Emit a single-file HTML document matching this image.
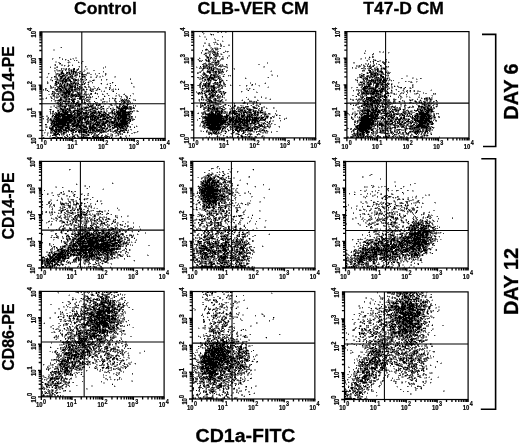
<!DOCTYPE html>
<html lang="en"><head><meta charset="utf-8"><title>CD1a-FITC flow cytometry</title>
<style>
html,body{margin:0;padding:0;background:#fff;}
svg{display:block;}
text{font-family:"Liberation Sans",sans-serif;fill:#000;}
.b{font-weight:bold;stroke:#000;stroke-width:.3px;}
.tx{font-size:7.4px;font-weight:bold;stroke:#000;stroke-width:.2px;}
.ex{font-size:6.8px;}
.ty{font-size:6.8px;font-weight:bold;stroke:#000;stroke-width:.2px;}
.ey{font-size:6.8px;}
.dots path{fill:none;stroke:#000;stroke-width:1;shape-rendering:crispEdges;}
</style></head><body>
<svg width="520" height="444" viewBox="0 0 520 444">
<rect width="520" height="444" fill="#fff"/>

<text class="b" x="74" y="13.8" font-size="17.4" textLength="62.8" lengthAdjust="spacingAndGlyphs">Control</text>
<text class="b" x="197.6" y="13.8" font-size="17.4" textLength="111.2" lengthAdjust="spacingAndGlyphs">CLB-VER CM</text>
<text class="b" x="363.3" y="13.8" font-size="17.4" textLength="80.6" lengthAdjust="spacingAndGlyphs">T47-D CM</text>
<text class="b" transform="translate(13.8 113.1) rotate(-90)" font-size="17" textLength="67" lengthAdjust="spacingAndGlyphs">CD14-PE</text>
<text class="b" transform="translate(13.8 239.4) rotate(-90)" font-size="17" textLength="67" lengthAdjust="spacingAndGlyphs">CD14-PE</text>
<text class="b" transform="translate(13.8 370.8) rotate(-90)" font-size="17" textLength="67.3" lengthAdjust="spacingAndGlyphs">CD86-PE</text>
<text class="b" transform="translate(518.2 119.7) rotate(-90)" font-size="20" textLength="56.3" lengthAdjust="spacingAndGlyphs">DAY 6</text>
<text class="b" transform="translate(518.1 315.1) rotate(-90)" font-size="20" textLength="67.2" lengthAdjust="spacingAndGlyphs">DAY 12</text>
<text class="b" x="195.5" y="442" font-size="19.2" textLength="100" lengthAdjust="spacingAndGlyphs">CD1a-FITC</text>
<path d="M482 34.4H495.7V146.5H483" fill="none" stroke="#000" stroke-width="1.6"/>
<path d="M481.3 158.8H495.6V409.2H480.8" fill="none" stroke="#000" stroke-width="1.6"/>
<g>
<g transform="translate(0 .5)" class="dots">
<path stroke-opacity="0.3" d="M0 0m60 47h1m-8 2h2m-2 1h2m5 7h1m14 0h2m-24 1h1m5 0h1m10 0h1m1 0h1m2 0h2m-11 1h1m4 0h1m1 0h1m-9 1h1m1 0h1m9 0h1m-23 1h2m11 0h2m8 0h1m4 0h1m-29 1h2m10 0h1m2 0h1m8 0h1m-12 1h1m-15 1h1m4 0h4m5 0h1m3 0h1m-19 1h1m10 0h1m-16 1h1m5 0h1m7 0h1m2 0h1m10 0h1m7 0h1m-33 1h2m23 0h1m5 0h1m-24 1h1m1 0h2m20 0h2m-31 1h1m5 0h2m5 0h1m1 0h1m3 0h1m7 0h1m1 0h2m-33 1h2m6 0h1m2 0h1m5 0h1m12 0h1m-32 1h2m1 0h4m5 0h1m3 0h1m-11 1h1m2 0h1m6 0h1m9 0h1m7 0h2m13 0h1m-55 1h1m5 0h1m3 0h1m4 0h1m9 0h1m6 0h1m4 0h1m11 0h1m7 0h1m-59 1h1m6 0h1m6 0h1m8 0h1m2 0h1m4 0h1m26 0h1m-52 1h1m4 0h2m7 0h1m14 0h2m10 0h1m5 0h1m-56 1h1m19 0h1m5 0h1m2 0h1m3 0h1m9 0h2m5 0h1m1 0h1m3 0h1m10 0h1m-69 1h1m5 0h1m4 0h1m1 0h1m3 0h1m2 0h1m6 0h1m1 0h1m3 0h1m3 0h1m11 0h1m3 0h2m13 0h2m-65 1h1m3 0h1m3 0h1m6 0h1m3 0h1m4 0h1m2 0h1m5 0h1m-34 1h1m2 0h1m17 0h1m11 0h2m7 0h2m12 0h1m-58 1h2m27 0h6m1 0h1m2 0h2m15 0h1m-55 1h1m4 0h1m14 0h1m8 0h1m2 0h1m3 0h2m-42 1h1m10 0h3m5 0h1m12 0h1m1 0h1m4 0h1m1 0h1m23 0h1m17 0h1m-84 1h1m5 0h1m6 0h1m7 0h1m12 0h2m4 0h1m3 0h1m7 0h1m6 0h1m1 0h1m2 0h1m19 0h1m-79 1h1m8 0h1m10 0h1m12 0h1m13 0h1m4 0h1m-45 1h1m13 0h1m1 0h1m2 0h1m6 0h1m-36 1h1m24 0h1m15 0h1m15 0h1m23 0h1m-81 1h1m5 0h1m6 0h1m5 0h1m2 0h1m1 0h1m5 0h1m9 0h1m38 0h2m-83 1h1m1 0h1m27 0h2m2 0h1m4 0h3m4 0h2m5 0h2m6 0h1m1 0h1m2 0h1m-73 1h1m15 0h1m26 0h1m6 0h1m1 0h1m1 0h1m10 0h1m4 0h1m-71 1h1m11 0h1m21 0h1m5 0h1m2 0h1m3 0h1m1 0h1m1 0h1m3 0h1m2 0h1m6 0h2m-64 1h1m30 0h1m9 0h1m12 0h1m-49 1h1m20 0h1m7 0h1m1 0h1m-36 1h1m9 0h1m11 0h1m1 0h2m9 0h1m1 0h1m5 0h1m1 0h1m5 0h1m3 0h1m17 0h1m7 0h1m-85 1h1m7 0h1m32 0h1m17 0h1m10 0h2m13 0h1m-82 1h1m4 0h2m1 0h1m22 0h2m19 0h1m4 0h1m5 0h1m2 0h1m7 0h1m-76 1h2m2 0h1m4 0h2m25 0h2m16 0h1m9 0h2m3 0h1m4 0h1m4 0h1m-81 1h1m4 0h1m17 0h2m16 0h2m5 0h1m13 0h1m-70 1h1m1 0h1m10 0h2m4 0h2m7 0h1m12 0h1m1 0h1m1 0h3m4 0h1m6 0h1m11 0h1m1 0h1m4 0h1m2 0h1m1 0h1m3 0h1m-89 1h2m14 0h1m4 0h2m20 0h1m4 0h1m9 0h3m6 0h1m10 0h1m2 0h1m3 0h2m5 0h2m-82 1h1m12 0h1m17 0h1m3 0h1m10 0h1m19 0h1m12 0h2m-84 1h1m2 0h1m2 0h1m12 0h1m8 0h1m10 0h1m14 0h3m6 0h1m5 0h1m9 0h1m-76 1h2m2 0h1m4 0h1m1 0h1m3 0h1m8 0h1m3 0h1m4 0h1m1 0h1m12 0h2m1 0h2m14 0h1m3 0h1m2 0h1m2 0h1m-77 1h1m4 0h1m8 0h1m8 0h1m3 0h1m3 0h2m5 0h1m1 0h2m1 0h1m4 0h2m5 0h1m10 0h1m5 0h4m-75 1h1m11 0h1m14 0h1m6 0h1m3 0h1m8 0h2m3 0h1m4 0h1m1 0h1m7 0h1m4 0h2m-78 1h1m2 0h2m9 0h1m18 0h2m1 0h1m13 0h1m6 0h1m3 0h2m5 0h2m3 0h1m-77 1h2m1 0h1m2 0h1m23 0h1m2 0h3m2 0h1m5 0h1m2 0h2m1 0h1m7 0h1m9 0h1m9 0h1m4 0h1m-84 1h2m5 0h2m2 0h1m1 0h1m4 0h1m6 0h1m2 0h1m1 0h1m1 0h1m7 0h1m11 0h1m5 0h2m2 0h2m6 0h1m11 0h1m1 0h1m-77 1h2m23 0h1m3 0h1m2 0h1m10 0h1m2 0h1m1 0h1m1 0h1m2 0h2m3 0h1m-60 1h2m17 0h1m8 0h1m7 0h2m7 0h1m1 0h1m5 0h2m3 0h1m11 0h1m-75 1h1m5 0h1m7 0h1m3 0h2m8 0h2m8 0h1m4 0h1m1 0h1m1 0h2m1 0h2m2 0h1m6 0h1m2 0h1m11 0h3m4 0h1m-88 1h1m25 0h1m12 0h1m8 0h1m4 0h1m4 0h1m7 0h1m17 0h2m1 0h1m-80 1h1m2 0h2m40 0h1m3 0h1m8 0h1m15 0h1m-81 1h1m16 0h1m13 0h1m19 0h1m-53 1h1m2 0h1m35 0h1m4 0h2m1 0h1m2 0h1m8 0h1m1 0h1m1 0h1m17 0h1m-86 1h2m40 0h1m24 0h2m-64 1h1m1 0h1m29 0h1m24 0h1m2 0h1m2 0h1m-68 1h1m3 0h1m1 0h1m7 0h1m51 0h1m-72 1h1m9 0h1m46 0h2m9 0h1m22 0h1m-91 1h1m2 0h1m1 0h1m3 0h1m30 0h1m24 0h1m4 0h1m17 0h1m-83 1h1m47 0h1m6 0h2m7 0h1m17 0h1m1 0h1m-84 1h1m33 0h1m7 0h1m35 0h1m-81 1h1m1 0h1m43 0h1m-12 1h1m23 0h1m-23 1h1m19 0h1m22 0h1m2 0h1m-87 1h2m41 0h1m6 0h1m14 0h1m25 0h1m-92 1h1m1 0h1m1 0h3m19 0h1m9 0h1m13 0h1m6 0h1m8 0h3m15 0h1m4 0h1m2 0h1m-93 1h1m1 0h1m6 0h1m15 0h2m10 0h1m5 0h1m16 0h2m1 0h1m20 0h1m-66 1h1m14 0h1m8 0h1m10 0h1m9 0h3m15 0h1m-61 1h1m20 0h1m14 0h2m2 0h2m2 0h1m3 0h1m6 0h1m5 0h1m-67 1h1m12 0h1m11 0h1m16 0h1m1 0h2m3 0h2m6 0h1m7 0h1m3 0h1m-79 1h1m35 0h1m1 0h1m36 0h1m9 0h1m-94 1h1m1 0h2m13 0h1m8 0h1m2 0h1m1 0h1m35 0h1m5 0h1m6 0h1m7 0h1m2 0h2m-94 1h1m3 0h1m3 0h1m7 0h1m4 0h2m6 0h1m6 0h1m2 0h2m3 0h1m1 0h1m2 0h1m6 0h1m6 0h2m1 0h2m2 0h1m1 0h1m4 0h1m5 0h1m6 0h1m-69 1h1m6 0h1m5 0h2m5 0h1m2 0h1m3 0h1m3 0h1m1 0h1m2 0h1m2 0h1m1 0h2m1 0h1m6 0h1m1 0h1m1 0h1m-79 1h1m17 0h2m6 0h1m5 0h2m1 0h1m2 0h1m7 0h1m8 0h1m8 0h1m7 0h1m1 0h1m7 0h2m-78 1h1m7 0h1m4 0h1m2 0h1m2 0h1m1 0h2m7 0h2m1 0h1m4 0h1m12 0h1m1 0h1m7 0h2m3 0h2m4 0h1m4 0h1m2 0h1m-86 1h1m4 0h3m15 0h2m8 0h1m13 0h1m16 0h1m3 0h1m6 0h1m-68 1h4m1 0h5m3 0h1m3 0h1m2 0h1m2 0h1m4 0h4m2 0h1m1 0h1m1 0h1m1 0h1m4 0h2m3 0h2m1 0h3m1 0h1m1 0h1m8 0h2m4 0h1"/>
<path stroke-opacity="0.52" d="M0 0m52 58h1m9 0h1m10 0h1m-22 1h1m5 3h2m9 0h1m11 0h1m-21 3h2m6 0h1m-13 1h1m47 0h1m-50 1h1m46 0h1m1 0h1m-52 1h2m7 0h1m4 0h1m34 0h1m-48 1h1m12 0h1m1 0h1m-18 1h1m2 0h2m1 0h2m6 0h1m1 0h1m3 0h1m1 0h1m7 0h1m8 0h2m-34 1h1m6 0h2m9 0h1m3 0h2m-30 1h1m16 0h1m1 0h1m2 0h1m1 0h1m2 0h1m4 0h1m-32 1h1m1 0h1m1 0h1m7 0h1m1 0h1m1 0h1m3 0h2m2 0h1m7 0h2m5 0h1m-39 1h2m5 0h1m1 0h3m6 0h1m10 0h1m3 0h2m3 0h1m-40 1h1m8 0h1m4 0h1m3 0h1m2 0h1m1 0h1m2 0h2m2 0h1m10 0h1m7 0h1m-50 1h1m1 0h2m4 0h1m1 0h1m1 0h2m4 0h2m9 0h1m10 0h1m3 0h1m1 0h1m12 0h1m-69 1h1m6 0h2m8 0h1m2 0h1m8 0h1m7 0h2m4 0h2m-36 1h1m5 0h1m6 0h1m3 0h2m5 0h2m3 0h1m44 0h1m-81 1h1m4 0h2m1 0h2m1 0h2m7 0h1m6 0h1m3 0h1m1 0h1m-28 1h3m5 0h1m12 0h1m7 0h1m8 0h1m6 0h1m-55 1h1m10 0h2m7 0h3m3 0h1m1 0h1m1 0h2m1 0h1m9 0h2m-28 1h1m1 0h1m4 0h2m2 0h4m-22 1h1m1 0h1m3 0h4m1 0h1m16 0h1m-29 1h1m4 0h1m2 0h2m6 0h1m2 0h1m1 0h1m1 0h2m1 0h1m-30 1h1m10 0h1m2 0h1m4 0h1m6 0h1m-30 1h1m4 0h1m1 0h1m4 0h1m3 0h2m8 0h1m11 0h1m3 0h1m39 0h1m-84 1h1m1 0h1m2 0h1m1 0h1m8 0h1m1 0h1m13 0h1m3 0h1m1 0h3m14 0h2m3 0h1m-65 1h1m3 0h2m3 0h1m5 0h1m5 0h1m6 0h1m19 0h2m13 0h2m-57 1h1m3 0h1m5 0h1m2 0h1m5 0h1m4 0h1m1 0h1m1 0h1m1 0h1m2 0h1m3 0h1m20 0h2m-71 1h1m1 0h1m9 0h1m3 0h1m5 0h1m4 0h1m2 0h1m2 0h3m3 0h3m6 0h2m20 0h1m-60 1h1m10 0h1m5 0h1m2 0h1m2 0h1m1 0h1m1 0h1m2 0h1m1 0h1m5 0h2m7 0h1m10 0h1m-61 1h2m4 0h2m1 0h1m18 0h2m-29 1h1m2 0h1m2 0h2m1 0h1m7 0h1m14 0h1m47 0h1m-85 1h1m1 0h3m3 0h1m2 0h1m6 0h1m2 0h1m12 0h1m3 0h2m8 0h1m5 0h1m19 0h1m-68 1h1m2 0h1m3 0h1m5 0h1m15 0h1m30 0h1m2 0h1m-70 1h1m2 0h1m2 0h3m3 0h1m6 0h1m4 0h1m11 0h1m2 0h2m28 0h1m7 0h1m-82 1h1m7 0h1m3 0h1m3 0h1m5 0h1m1 0h1m1 0h1m2 0h1m6 0h3m4 0h1m31 0h1m-80 1h1m9 0h1m1 0h1m12 0h1m5 0h1m1 0h1m2 0h1m4 0h1m29 0h1m6 0h1m-68 1h2m7 0h1m4 0h1m2 0h1m15 0h1m1 0h1m25 0h2m5 0h1m3 0h1m7 0h1m-78 1h1m5 0h1m1 0h1m3 0h2m4 0h1m2 0h2m8 0h1m13 0h1m7 0h1m5 0h1m8 0h1m4 0h1m-75 1h1m2 0h1m1 0h3m14 0h1m3 0h1m4 0h1m1 0h1m13 0h2m5 0h1m6 0h1m4 0h1m3 0h2m-66 1h1m5 0h1m4 0h1m16 0h1m6 0h2m17 0h2m-57 1h1m11 0h1m16 0h1m5 0h1m19 0h1m3 0h2m5 0h2m4 0h1m-74 1h1m2 0h1m2 0h1m1 0h2m1 0h4m3 0h1m7 0h1m4 0h1m1 0h1m4 0h2m16 0h1m5 0h3m2 0h1m-73 1h1m3 0h1m3 0h4m8 0h1m1 0h1m3 0h1m12 0h1m3 0h1m2 0h1m11 0h1m3 0h1m3 0h1m4 0h1m-72 1h1m2 0h1m10 0h1m6 0h1m10 0h2m5 0h1m1 0h1m6 0h1m6 0h1m10 0h1m10 0h1m3 0h1m-77 1h1m2 0h1m11 0h1m2 0h1m1 0h1m1 0h1m1 0h1m5 0h1m7 0h2m29 0h1m-73 1h2m4 0h2m2 0h1m1 0h1m4 0h1m4 0h1m9 0h1m2 0h1m4 0h3m1 0h1m12 0h1m3 0h1m14 0h1m-84 1h1m1 0h1m7 0h1m14 0h2m10 0h1m1 0h1m6 0h1m4 0h1m2 0h1m2 0h1m5 0h1m3 0h1m1 0h1m5 0h1m3 0h2m-80 1h1m9 0h2m21 0h2m7 0h1m13 0h1m4 0h1m21 0h2m2 0h1m-81 1h1m1 0h1m1 0h1m10 0h1m3 0h1m8 0h1m1 0h1m1 0h1m2 0h1m3 0h1m2 0h1m3 0h1m2 0h1m19 0h2m10 0h1m-87 1h2m2 0h1m12 0h1m6 0h1m5 0h1m4 0h1m1 0h2m6 0h1m3 0h1m6 0h2m3 0h1m16 0h1m1 0h1m-80 1h3m16 0h1m25 0h1m2 0h1m2 0h1m3 0h1m1 0h2m4 0h1m-65 1h1m19 0h1m3 0h1m4 0h1m16 0h1m13 0h1m17 0h1m-65 1h1m13 0h1m15 0h2m8 0h1m2 0h1m2 0h1m4 0h1m12 0h1m-88 1h1m2 0h2m51 0h1m12 0h1m4 0h1m9 0h1m2 0h1m4 0h1m-84 1h1m48 0h2m2 0h1m21 0h2m1 0h1m1 0h1m2 0h1m-89 1h1m3 0h1m1 0h1m23 0h1m3 0h1m5 0h1m5 0h1m12 0h1m2 0h1m6 0h1m13 0h1m1 0h1m-84 1h1m28 0h1m7 0h1m19 0h2m-61 1h2m27 0h1m4 0h2m3 0h1m1 0h2m8 0h1m4 0h1m5 0h1m1 0h1m5 0h1m1 0h1m-73 1h2m27 0h1m5 0h1m10 0h1m1 0h1m8 0h1m12 0h1m1 0h1m-48 1h1m19 0h1m8 0h1m6 0h1m9 0h1m-69 1h1m28 0h1m4 0h2m10 0h1m3 0h1m7 0h1m1 0h1m17 0h1m-63 1h1m2 0h1m9 0h1m2 0h1m1 0h1m6 0h2m7 0h1m7 0h1m1 0h4m18 0h1m-83 1h1m1 0h1m32 0h1m5 0h1m2 0h1m16 0h1m16 0h1m-83 1h1m18 0h2m3 0h1m11 0h1m5 0h1m9 0h1m8 0h1m18 0h1m-77 1h1m13 0h1m7 0h2m1 0h1m21 0h1m12 0h1m7 0h1m5 0h1m2 0h1m-71 1h1m5 0h1m6 0h1m1 0h2m4 0h1m5 0h2m19 0h1m8 0h1m4 0h1m5 0h1m-81 1h1m8 0h1m15 0h1m6 0h1m17 0h1m16 0h1m3 0h1m2 0h1m1 0h1m8 0h2m-89 1h1m1 0h1m4 0h1m25 0h1m5 0h1m8 0h1m3 0h1m13 0h1m-60 1h2m11 0h3m4 0h1m35 0h1m1 0h1m2 0h2m4 0h1m3 0h1m1 0h1m3 0h1m-84 1h1m7 0h3m2 0h1m10 0h1m13 0h1m4 0h1m6 0h4m1 0h1m4 0h3m6 0h1m1 0h1m1 0h1m2 0h1m7 0h1m6 0h1m-89 1h1m2 0h2m4 0h1m5 0h1m8 0h1m7 0h1m1 0h1m3 0h1m1 0h1m1 0h1m1 0h1m9 0h1m13 0h1m3 0h1m2 0h1m8 0h2m-86 1h1m14 0h1m1 0h1m2 0h1m7 0h3m3 0h1m3 0h1m9 0h2m14 0h1m-65 1h1m2 0h1m12 0h1m8 0h2m8 0h1m12 0h1m14 0h2m4 0h1m-67 1h1m4 0h1m25 0h1m2 0h3m7 0h2m13 0h1m2 0h1m12 0h1m-70 1h1m7 0h1m5 0h2m1 0h1m30 0h1m-31 1h1m9 0h1m2 0h1m1 0h1m3 0h1m1 0h1m3 0h3"/>
<path stroke-opacity="0.76" d="M0 0m61 47h1m-3 10h1m2 2h1m2 0h1m4 0h1m-3 1h1m5 0h1m1 0h1m5 1h1m-15 1h1m9 0h1m-20 1h1m21 0h1m-27 1h1m-1 1h1m8 0h1m3 0h1m3 0h1m-5 1h1m10 0h1m5 0h1m-36 1h1m6 0h1m3 1h1m4 0h1m2 0h1m3 0h1m4 0h1m-18 1h1m3 0h2m1 0h1m8 0h2m-20 1h1m2 0h1m2 0h1m3 0h1m7 0h1m-6 1h1m2 0h2m3 0h1m22 0h1m-38 1h1m1 0h1m2 0h1m4 0h1m1 0h1m-31 1h1m8 0h1m9 0h1m3 0h1m3 0h1m6 0h1m4 0h1m11 0h1m5 0h1m-50 1h1m3 0h2m1 0h1m1 0h1m3 0h1m2 0h2m2 0h2m3 0h1m1 0h3m19 0h1m-48 1h1m7 0h2m3 0h2m3 0h1m-22 1h1m7 0h1m1 0h1m5 0h1m11 0h1m-33 1h1m4 0h1m3 0h1m1 0h1m6 0h4m9 0h1m13 0h1m-40 1h1m5 0h1m1 0h1m5 0h1m-12 1h1m3 0h1m2 0h2m5 0h1m1 0h1m1 0h1m1 0h1m20 0h1m4 0h1m23 0h1m-72 1h3m5 0h2m4 0h2m3 0h1m13 0h1m-33 1h2m1 0h1m10 0h1m8 0h1m-37 1h1m7 0h1m1 0h1m5 0h1m6 0h1m2 0h1m9 0h1m1 0h1m6 0h1m-46 1h1m8 0h1m13 0h1m1 0h1m1 0h1m1 0h2m32 0h1m20 0h1m-77 1h1m3 0h3m6 0h1m1 0h3m4 0h1m1 0h1m4 0h1m3 0h1m18 0h1m-58 1h1m4 0h2m2 0h2m2 0h1m2 0h1m4 0h2m1 0h2m34 0h1m-61 1h1m6 0h1m4 0h1m2 0h2m2 0h1m3 0h2m5 0h1m3 0h2m2 0h1m-38 1h1m1 0h1m5 0h1m1 0h1m1 0h1m1 0h1m3 0h1m9 0h3m3 0h1m12 0h1m10 0h1m-65 1h1m11 0h2m3 0h3m1 0h1m1 0h1m1 0h3m2 0h3m1 0h3m8 0h1m6 0h1m-55 1h1m1 0h1m9 0h1m3 0h1m3 0h1m5 0h2m5 0h2m12 0h1m1 0h2m3 0h1m17 0h1m-60 1h2m4 0h3m3 0h1m5 0h2m3 0h1m1 0h1m14 0h1m-49 1h1m4 0h1m2 0h9m7 0h2m1 0h2m8 0h1m18 0h1m-51 1h1m5 0h1m1 0h1m7 0h1m1 0h2m4 0h2m5 0h1m9 0h1m-42 1h2m1 0h2m4 0h1m3 0h1m3 0h2m4 0h1m1 0h3m2 0h1m5 0h1m6 0h1m9 0h1m8 0h1m-63 1h1m6 0h1m1 0h2m1 0h1m6 0h2m1 0h2m2 0h1m3 0h3m3 0h2m10 0h1m21 0h1m-71 1h1m6 0h1m2 0h2m1 0h2m1 0h1m4 0h1m1 0h2m1 0h1m5 0h1m2 0h1m18 0h1m16 0h1m4 0h1m-77 1h1m4 0h1m3 0h1m1 0h1m1 0h1m2 0h2m1 0h1m3 0h1m1 0h1m3 0h2m7 0h1m5 0h1m22 0h1m4 0h1m-76 1h1m4 0h2m2 0h2m1 0h1m2 0h2m11 0h1m7 0h2m37 0h2m-82 1h1m4 0h1m9 0h1m2 0h3m1 0h1m3 0h1m1 0h1m2 0h1m7 0h1m17 0h1m5 0h1m2 0h1m14 0h1m-69 1h1m5 0h1m2 0h1m3 0h1m2 0h1m3 0h6m2 0h1m1 0h1m13 0h1m20 0h1m-74 1h1m3 0h1m1 0h1m3 0h1m1 0h1m1 0h2m4 0h1m10 0h1m1 0h1m1 0h1m1 0h1m25 0h1m7 0h1m2 0h4m6 0h1m-77 1h1m6 0h2m10 0h1m3 0h1m1 0h1m2 0h1m1 0h1m14 0h1m10 0h1m3 0h1m2 0h2m3 0h3m-73 1h2m3 0h1m2 0h1m2 0h2m1 0h1m2 0h1m1 0h1m1 0h1m2 0h2m2 0h1m9 0h1m6 0h1m18 0h1m1 0h1m1 0h1m1 0h2m1 0h1m-73 1h2m2 0h1m2 0h1m1 0h1m3 0h1m2 0h1m2 0h2m5 0h2m4 0h1m2 0h1m22 0h2m6 0h1m-67 1h1m2 0h1m13 0h1m11 0h2m4 0h1m6 0h1m9 0h2m7 0h1m8 0h1m-70 1h1m1 0h1m4 0h1m2 0h1m1 0h3m3 0h1m12 0h2m7 0h1m11 0h1m7 0h1m4 0h1m8 0h1m1 0h1m-78 1h4m1 0h1m2 0h1m2 0h1m1 0h4m1 0h3m13 0h1m23 0h2m5 0h1m3 0h1m1 0h2m-76 1h2m3 0h1m8 0h3m12 0h1m3 0h1m2 0h5m4 0h2m14 0h1m1 0h2m1 0h2m6 0h3m-68 1h2m4 0h3m1 0h2m3 0h2m3 0h1m1 0h1m7 0h1m4 0h1m2 0h1m4 0h1m12 0h1m7 0h2m1 0h1m1 0h2m-75 1h1m3 0h3m1 0h1m1 0h1m6 0h2m1 0h5m4 0h1m1 0h2m3 0h1m16 0h1m5 0h1m3 0h1m2 0h1m3 0h2m-75 1h1m6 0h1m3 0h1m4 0h1m5 0h2m4 0h1m1 0h4m2 0h1m1 0h1m16 0h2m2 0h1m1 0h2m-70 1h1m1 0h1m5 0h1m1 0h1m3 0h1m1 0h1m1 0h4m8 0h2m4 0h1m4 0h1m1 0h2m5 0h1m3 0h1m6 0h1m2 0h1m1 0h1m2 0h1m8 0h2m1 0h1m5 0h1m-88 1h1m4 0h1m6 0h1m5 0h1m2 0h2m1 0h2m2 0h2m4 0h1m6 0h1m4 0h1m3 0h1m2 0h1m1 0h1m4 0h2m2 0h1m6 0h1m-72 1h1m1 0h1m4 0h1m2 0h1m1 0h2m6 0h1m4 0h2m10 0h2m1 0h1m2 0h1m1 0h3m5 0h1m2 0h1m2 0h1m3 0h1m1 0h1m5 0h1m4 0h2m1 0h3m-78 1h2m17 0h1m1 0h1m4 0h1m2 0h4m1 0h1m2 0h2m3 0h1m8 0h2m8 0h2m4 0h1m-70 1h1m7 0h1m4 0h1m7 0h4m5 0h4m1 0h1m1 0h2m4 0h1m4 0h1m3 0h1m2 0h1m7 0h1m11 0h3m-88 1h1m14 0h1m3 0h1m11 0h1m1 0h2m1 0h2m1 0h2m1 0h1m4 0h1m4 0h1m2 0h2m3 0h1m2 0h3m5 0h1m2 0h1m2 0h1m8 0h1m3 0h1m-85 1h1m5 0h1m4 0h2m11 0h1m4 0h2m2 0h2m1 0h1m4 0h1m1 0h1m1 0h1m2 0h1m2 0h1m3 0h2m4 0h2m3 0h3m2 0h1m11 0h1m-89 1h1m4 0h1m1 0h1m4 0h1m4 0h2m8 0h2m3 0h2m1 0h1m7 0h1m1 0h1m2 0h1m4 0h1m5 0h1m5 0h1m2 0h3m7 0h1m7 0h1m1 0h1m-85 1h1m3 0h1m1 0h2m17 0h1m2 0h2m4 0h1m5 0h2m6 0h1m1 0h3m1 0h1m7 0h1m1 0h1m2 0h1m1 0h2m2 0h2m4 0h3m3 0h3m-85 1h1m1 0h1m1 0h2m17 0h1m10 0h2m4 0h2m1 0h1m5 0h1m1 0h2m5 0h1m1 0h1m5 0h1m9 0h2m1 0h1m2 0h1m-82 1h1m15 0h2m3 0h2m6 0h1m4 0h1m3 0h1m1 0h1m5 0h6m2 0h1m3 0h2m2 0h1m1 0h2m12 0h1m-83 1h1m3 0h1m1 0h1m1 0h1m1 0h1m13 0h1m1 0h1m2 0h2m2 0h1m2 0h2m2 0h1m1 0h3m1 0h1m1 0h1m4 0h1m1 0h1m1 0h1m2 0h1m2 0h1m4 0h1m3 0h2m6 0h3m-78 1h1m2 0h1m10 0h1m2 0h3m3 0h2m3 0h3m6 0h1m1 0h4m3 0h1m2 0h1m4 0h1m2 0h1m1 0h1m2 0h2m2 0h1m10 0h1m-84 1h1m5 0h2m17 0h1m2 0h2m4 0h1m2 0h1m3 0h3m9 0h1m1 0h1m7 0h1m17 0h1m-77 1h1m7 0h3m7 0h4m8 0h1m2 0h1m1 0h1m2 0h1m9 0h1m1 0h1m1 0h1m1 0h1m1 0h2m4 0h1m1 0h1m7 0h1m1 0h2m-72 1h2m7 0h1m4 0h1m5 0h1m2 0h1m7 0h1m4 0h1m2 0h1m1 0h2m1 0h1m4 0h1m3 0h2m7 0h1m2 0h1m3 0h1m3 0h1m1 0h1m5 0h1m-91 1h1m2 0h1m1 0h1m1 0h1m3 0h1m5 0h1m13 0h2m2 0h1m1 0h1m3 0h1m8 0h1m1 0h1m1 0h1m1 0h3m2 0h1m1 0h1m3 0h1m1 0h2m6 0h1m1 0h2m3 0h1m-78 1h1m1 0h1m2 0h2m9 0h1m5 0h3m5 0h1m2 0h1m6 0h1m2 0h2m2 0h2m10 0h1m5 0h1m2 0h1m2 0h1m-75 1h1m2 0h1m7 0h2m1 0h1m1 0h1m4 0h1m2 0h3m1 0h5m4 0h1m1 0h1m1 0h1m2 0h1m2 0h2m1 0h2m3 0h2m2 0h1m8 0h1m1 0h1m2 0h2m1 0h1m-85 1h1m9 0h1m2 0h1m1 0h1m9 0h3m7 0h2m2 0h1m3 0h2m2 0h1m10 0h1m1 0h1m2 0h1m4 0h1m3 0h1m1 0h1m7 0h2m2 0h1m-77 1h1m4 0h1m2 0h1m1 0h1m4 0h2m3 0h2m6 0h1m1 0h1m4 0h1m2 0h1m1 0h3m1 0h2m1 0h4m2 0h1m1 0h1m2 0h1m2 0h4m1 0h1m3 0h1m1 0h1m12 0h1m-88 1h2m6 0h4m3 0h2m5 0h1m2 0h1m2 0h1m1 0h1m7 0h1m3 0h2m8 0h2m19 0h1m10 0h1m-82 1h1m7 0h1m2 0h1m7 0h1m19 0h1m1 0h2m3 0h1m17 0h2m1 0h1m-68 1h1m4 0h1m2 0h1m1 0h1m18 0h1m1 0h1m2 0h1m3 0h1m2 0h1m17 0h1m5 0h1m1 0h1m1 0h1m-81 1h1m10 0h2m1 0h1m2 0h1m6 0h2m6 0h1m8 0h5m5 0h2m1 0h1m4 0h2m2 0h2m5 0h1m5 0h1m10 0h1m-74 1h1m7 0h1m7 0h1m1 0h1m2 0h2m17 0h3m2 0h1m2 0h3m1 0h1m11 0h1m-78 1h1m8 0h1m2 0h1m3 0h1m2 0h1m3 0h1m8 0h1m2 0h3m7 0h1m1 0h1m1 0h1m14 0h1m13 0h1m4 0h1m-33 1h1"/>
<path stroke-opacity="1" d="M0 0m60 63h1m13 5h1m-2 1h2m-4 1h1m1 0h1m-12 1h1m8 0h1m1 0h2m-14 1h2m4 0h1m1 0h1m3 0h1m1 0h1m-15 1h3m2 0h1m2 0h1m3 0h1m5 0h1m-21 1h1m10 0h1m11 0h1m-24 1h1m2 0h3m10 0h1m-22 1h1m5 0h3m7 0h1m1 0h1m6 0h1m2 0h1m1 0h1m-24 1h1m3 0h1m2 0h1m-9 1h2m2 0h1m2 0h2m3 0h1m-16 1h1m5 0h1m1 0h2m2 0h1m3 0h1m1 0h1m6 0h1m3 0h1m-35 1h1m9 0h2m1 0h2m2 0h2m4 0h2m16 0h1m-39 1h2m5 0h1m1 0h3m3 0h2m-16 1h1m1 0h1m3 0h1m2 0h1m8 0h1m13 0h1m23 0h1m-58 1h1m2 0h1m1 0h1m1 0h1m4 0h1m3 0h1m1 0h1m1 0h1m2 0h1m5 0h1m16 0h1m-46 1h1m7 0h1m2 0h1m1 0h1m5 0h1m6 0h1m-22 1h1m2 0h1m2 0h1m1 0h2m6 0h1m37 0h1m-57 1h3m2 0h1m5 0h3m2 0h1m3 0h1m-22 1h1m3 0h1m1 0h1m5 0h3m1 0h2m1 0h1m-19 1h2m4 0h1m3 0h1m8 0h1m-23 1h2m2 0h2m3 0h2m1 0h1m2 0h2m1 0h2m3 0h1m3 0h1m2 0h1m12 0h1m9 0h1m8 0h1m-72 1h1m12 0h2m4 0h2m1 0h1m1 0h2m17 0h1m-39 1h1m13 0h5m20 0h1m21 0h1m-51 1h7m7 0h1m-26 1h1m11 0h3m1 0h2m8 0h1m12 0h1m3 0h1m-38 1h1m3 0h1m2 0h1m2 0h2m1 0h2m2 0h1m2 0h2m-27 1h1m8 0h1m3 0h1m4 0h4m1 0h1m2 0h1m-16 1h1m1 0h1m1 0h1m3 0h1m2 0h2m1 0h1m1 0h3m21 0h1m-41 1h2m5 0h1m8 0h2m4 0h1m3 0h1m-31 1h1m8 0h1m9 0h3m14 0h1m18 0h1m13 0h1m-70 1h2m4 0h1m2 0h1m1 0h1m1 0h2m47 0h1m3 0h1m-69 1h3m11 0h2m7 0h1m39 0h1m1 0h1m-61 1h3m2 0h2m2 0h3m19 0h1m29 0h1m-65 1h1m12 0h1m3 0h1m6 0h1m39 0h1m-68 1h1m8 0h1m1 0h1m4 0h1m1 0h2m46 0h1m-64 1h1m5 0h1m9 0h1m1 0h3m15 0h1m2 0h1m20 0h1m6 0h1m-68 1h1m7 0h1m1 0h1m4 0h1m2 0h2m8 0h1m3 0h1m3 0h1m1 0h1m24 0h1m3 0h1m-66 1h1m1 0h2m4 0h1m8 0h1m9 0h3m9 0h1m1 0h1m15 0h1m2 0h1m1 0h3m-63 1h2m6 0h2m11 0h3m29 0h1m5 0h5m5 0h1m-74 1h2m5 0h1m1 0h1m7 0h1m3 0h2m2 0h1m6 0h2m1 0h1m7 0h1m6 0h1m7 0h2m1 0h7m2 0h1m-81 1h1m10 0h3m3 0h1m1 0h1m9 0h1m10 0h1m6 0h1m3 0h1m12 0h1m5 0h3m2 0h1m-68 1h1m3 0h2m1 0h2m2 0h2m3 0h5m7 0h1m7 0h1m25 0h6m-73 1h1m8 0h2m1 0h1m1 0h1m5 0h2m2 0h3m2 0h1m7 0h1m4 0h1m2 0h1m2 0h1m10 0h1m4 0h2m1 0h6m4 0h1m1 0h1m-75 1h2m3 0h5m2 0h1m2 0h1m3 0h1m2 0h2m1 0h1m1 0h2m1 0h1m3 0h4m2 0h2m4 0h1m7 0h1m3 0h5m1 0h8m-74 1h1m1 0h2m1 0h1m2 0h4m3 0h1m2 0h1m2 0h5m1 0h4m4 0h2m1 0h1m4 0h2m4 0h1m6 0h1m1 0h1m2 0h4m1 0h4m2 0h1m-73 1h16m2 0h1m2 0h3m7 0h1m2 0h1m2 0h1m5 0h1m1 0h4m2 0h2m5 0h1m2 0h4m1 0h8m-77 1h1m1 0h5m1 0h4m2 0h6m4 0h3m6 0h1m4 0h4m3 0h2m1 0h3m1 0h1m2 0h1m7 0h1m1 0h9m-75 1h1m1 0h3m1 0h3m1 0h11m1 0h1m2 0h1m2 0h1m4 0h4m1 0h4m1 0h2m3 0h2m1 0h2m4 0h2m4 0h1m2 0h1m1 0h7m2 0h1m1 0h1m-77 1h4m3 0h10m1 0h4m2 0h2m2 0h1m1 0h4m1 0h1m1 0h1m1 0h2m1 0h2m1 0h1m5 0h3m2 0h2m4 0h2m1 0h7m2 0h1m-76 1h1m1 0h4m2 0h8m2 0h3m4 0h2m1 0h4m4 0h1m1 0h1m1 0h2m1 0h2m4 0h3m1 0h1m6 0h2m1 0h4m1 0h7m-79 1h1m4 0h17m1 0h2m2 0h1m1 0h2m1 0h1m1 0h2m4 0h5m1 0h1m3 0h1m1 0h4m4 0h1m4 0h1m2 0h2m2 0h4m3 0h2m-80 1h1m1 0h1m2 0h17m1 0h2m1 0h4m6 0h1m4 0h1m1 0h3m3 0h1m5 0h2m6 0h2m2 0h1m1 0h6m2 0h1m1 0h1m-79 1h15m2 0h3m2 0h2m1 0h3m1 0h1m4 0h3m1 0h1m3 0h1m1 0h1m6 0h1m2 0h3m2 0h2m1 0h1m3 0h1m1 0h8m2 0h1m-79 1h1m1 0h1m1 0h1m1 0h13m3 0h2m2 0h2m1 0h2m2 0h2m1 0h1m7 0h4m3 0h1m1 0h2m2 0h1m1 0h4m1 0h2m3 0h6m-76 1h1m1 0h2m1 0h10m1 0h2m3 0h3m2 0h2m7 0h3m1 0h1m4 0h1m1 0h1m1 0h1m2 0h4m6 0h2m2 0h2m1 0h9m-83 1h1m5 0h1m2 0h12m1 0h2m3 0h2m2 0h3m2 0h1m4 0h1m3 0h1m2 0h6m3 0h3m2 0h1m6 0h13m-74 1h6m3 0h7m4 0h8m1 0h2m6 0h1m1 0h2m2 0h3m1 0h1m1 0h1m1 0h1m4 0h1m2 0h1m1 0h1m1 0h7m1 0h1m2 0h1m-76 1h3m2 0h7m3 0h2m3 0h3m1 0h2m1 0h2m2 0h3m3 0h2m1 0h2m6 0h2m3 0h1m4 0h1m3 0h3m1 0h2m1 0h3m1 0h1m1 0h1m-76 1h1m2 0h2m1 0h5m2 0h5m6 0h1m2 0h2m3 0h3m2 0h7m3 0h1m1 0h1m10 0h1m1 0h1m2 0h1m1 0h4m11 0h1m-86 1h4m3 0h1m3 0h3m2 0h4m2 0h1m2 0h1m5 0h3m4 0h1m1 0h4m1 0h2m6 0h3m1 0h2m5 0h1m3 0h1m2 0h1m1 0h2m2 0h1m-76 1h2m2 0h6m2 0h1m1 0h1m2 0h2m2 0h2m9 0h4m3 0h1m1 0h2m2 0h1m2 0h1m2 0h1m7 0h1m6 0h1m7 0h1m-75 1h1m1 0h2m1 0h1m1 0h4m1 0h4m3 0h5m4 0h2m2 0h2m3 0h1m1 0h1m1 0h3m1 0h4m1 0h1m1 0h1m4 0h1m6 0h1m1 0h1m2 0h4m2 0h1m-73 1h3m1 0h2m1 0h1m4 0h1m4 0h1m3 0h2m1 0h2m1 0h1m1 0h4m1 0h1m6 0h1m2 0h1m4 0h2m14 0h2m-66 1h2m6 0h2m8 0h1m5 0h1m1 0h1m1 0h4m2 0h3m8 0h2m14 0h1m2 0h1m4 0h1m2 0h1m-74 1h2m1 0h2m4 0h1m22 0h1m-33 1h4m1 0h1m9 0h1m2 0h1m10 0h1m4 0h1m9 0h1m-47 1h1m2 0h1m21 0h1m10 0h1m8 0h1m-31 1h1m5 0h1m9 0h1m8 0h2m13 0h1m-55 1h2m2 0h2m1 0h2m3 0h1m3 0h1m2 0h1m1 0h1m6 0h7m1 0h1m3 0h11m1 0h2m2 0h1m1 0h1m8 0h1"/>
</g>
<rect x="41.9" y="31.9" width="123.2" height="106.5" fill="none" stroke="#000" stroke-width="1.2"/>
<path d="M81.8 31.9V138.4M41.9 103.65H165.1" fill="none" stroke="#000" stroke-width="1.05"/>
<path d="M41.9 138.4v3.3M41.9 138.4h-3.3M51.17 138.4v2.6M41.9 130.39h-2.6M56.6 138.4v2.6M41.9 125.7h-2.6M60.44 138.4v2.6M41.9 122.37h-2.6M63.43 138.4v2.6M41.9 119.79h-2.6M65.87 138.4v2.6M41.9 117.68h-2.6M67.93 138.4v2.6M41.9 115.9h-2.6M69.72 138.4v2.6M41.9 114.36h-2.6M71.29 138.4v2.6M41.9 112.99h-2.6M72.7 138.4v3.3M41.9 111.78h-3.3M81.97 138.4v2.6M41.9 103.76h-2.6M87.4 138.4v2.6M41.9 99.07h-2.6M91.24 138.4v2.6M41.9 95.75h-2.6M94.23 138.4v2.6M41.9 93.16h-2.6M96.67 138.4v2.6M41.9 91.06h-2.6M98.73 138.4v2.6M41.9 89.27h-2.6M100.52 138.4v2.6M41.9 87.73h-2.6M102.09 138.4v2.6M41.9 86.37h-2.6M103.5 138.4v3.3M41.9 85.15h-3.3M112.77 138.4v2.6M41.9 77.14h-2.6M118.2 138.4v2.6M41.9 72.45h-2.6M122.04 138.4v2.6M41.9 69.12h-2.6M125.03 138.4v2.6M41.9 66.54h-2.6M127.47 138.4v2.6M41.9 64.43h-2.6M129.53 138.4v2.6M41.9 62.65h-2.6M131.32 138.4v2.6M41.9 61.11h-2.6M132.89 138.4v2.6M41.9 59.74h-2.6M134.3 138.4v3.3M41.9 58.53h-3.3M143.57 138.4v2.6M41.9 50.51h-2.6M149 138.4v2.6M41.9 45.82h-2.6M152.84 138.4v2.6M41.9 42.5h-2.6M155.83 138.4v2.6M41.9 39.91h-2.6M158.27 138.4v2.6M41.9 37.81h-2.6M160.33 138.4v2.6M41.9 36.02h-2.6M162.12 138.4v2.6M41.9 34.48h-2.6M163.69 138.4v2.6M41.9 33.12h-2.6M165.1 138.4v2.6M41.9 31.9h-2.6" fill="none" stroke="#000" stroke-width="1.3"/>
<text transform="translate(36.6 148.9) scale(.8 1)" class="tx">10<tspan class="ex" dx=".6" dy="-3.8">0</tspan></text>
<text transform="translate(35.5 144) rotate(-90) scale(.85 1)" class="ty">10<tspan class="ey" dy="-3.3">0</tspan></text>
<text transform="translate(67.4 148.9) scale(.8 1)" class="tx">10<tspan class="ex" dx=".6" dy="-3.8">1</tspan></text>
<text transform="translate(35.5 117.38) rotate(-90) scale(.85 1)" class="ty">10<tspan class="ey" dy="-3.3">1</tspan></text>
<text transform="translate(98.2 148.9) scale(.8 1)" class="tx">10<tspan class="ex" dx=".6" dy="-3.8">2</tspan></text>
<text transform="translate(35.5 90.75) rotate(-90) scale(.85 1)" class="ty">10<tspan class="ey" dy="-3.3">2</tspan></text>
<text transform="translate(129 148.9) scale(.8 1)" class="tx">10<tspan class="ex" dx=".6" dy="-3.8">3</tspan></text>
<text transform="translate(35.5 64.12) rotate(-90) scale(.85 1)" class="ty">10<tspan class="ey" dy="-3.3">3</tspan></text>
<text transform="translate(159.8 148.9) scale(.8 1)" class="tx">10<tspan class="ex" dx=".6" dy="-3.8">4</tspan></text>
<text transform="translate(35.5 37.5) rotate(-90) scale(.85 1)" class="ty">10<tspan class="ey" dy="-3.3">4</tspan></text>
</g>
<g>
<g transform="translate(0 .5)" class="dots">
<path stroke-opacity="0.3" d="M0 0m202 31h1m14 0h2m2 0h1m3 0h1m-23 1h1m22 0h1m-23 1h1m5 0h1m-8 1h1m8 0h1m-14 1h1m11 0h1m1 0h1m-14 1h1m3 0h2m-2 1h2m16 0h1m-17 1h1m7 1h1m0 1h1m6 0h1m-8 1h1m7 0h1m-20 1h2m10 0h1m-9 1h1m5 0h1m1 0h1m-9 1h1m7 0h1m4 0h1m6 0h2m-20 1h1m-2 1h2m-1 1h1m3 0h4m-12 1h1m3 0h2m1 0h1m4 0h2m-7 1h1m4 0h1m-12 1h1m2 0h1m1 0h1m2 0h3m7 0h1m-24 1h1m12 0h1m10 0h1m-22 1h3m3 0h1m4 0h1m10 0h1m-24 1h1m2 0h1m1 0h1m3 0h1m6 0h2m-19 1h1m1 0h2m13 0h1m1 0h1m-13 1h1m17 0h1m-24 1h1m2 0h1m1 0h1m3 0h1m3 0h1m1 0h1m2 0h1m4 0h2m-31 1h1m9 0h1m3 0h1m1 0h1m3 0h1m2 0h2m-24 1h1m5 0h1m2 0h1m1 0h1m1 0h1m-17 1h1m12 0h1m1 0h1m1 0h1m1 0h1m-19 1h1m2 0h1m17 0h1m-10 1h1m1 0h2m2 0h1m-12 1h1m2 0h1m10 0h1m-14 1h1m5 0h1m4 0h1m1 0h1m-16 1h1m2 0h1m13 0h1m5 0h1m-20 1h1m1 0h2m9 0h1m1 0h1m2 0h2m-32 1h1m5 0h1m7 0h1m4 0h2m10 0h1m35 0h1m-67 1h1m1 0h1m12 0h1m3 0h1m3 0h2m3 0h1m37 0h2m-47 1h3m2 0h1m3 0h1m5 0h1m-27 1h1m7 0h1m5 0h1m1 0h2m-22 1h1m11 0h3m3 0h1m49 0h1m-73 1h1m3 0h1m2 0h1m4 0h1m5 0h1m52 0h1m-65 1h1m4 0h1m5 0h1m-16 1h1m19 0h1m-2 1h3m47 0h2m-73 1h1m3 0h1m13 0h1m1 0h1m2 0h1m5 0h1m41 0h1m-71 1h1m2 0h1m3 0h1m3 0h1m7 0h1m1 0h1m1 0h1m3 0h1m1 0h1m-32 1h1m8 0h1m36 0h1m21 0h1m-70 1h2m4 0h3m8 0h1m1 0h1m28 0h1m-46 1h1m4 0h1m9 0h1m5 0h1m-20 1h1m2 0h1m13 0h1m2 0h1m3 0h1m-28 1h4m2 0h2m1 0h1m1 0h1m3 0h1m6 0h1m-16 1h1m10 0h1m2 0h1m2 0h1m40 0h1m-67 1h1m1 0h1m10 0h1m6 0h1m44 0h1m-64 1h1m8 0h1m10 0h1m8 0h1m20 0h1m-29 1h1m1 0h1m5 0h1m8 0h1m6 0h1m10 0h1m-56 1h2m10 0h2m4 0h1m1 0h2m34 0h1m8 0h1m-65 1h1m62 0h1m-68 1h1m17 0h2m26 0h2m2 0h1m-51 1h1m6 0h1m7 0h1m31 0h1m1 0h1m4 0h1m-54 1h1m1 0h2m11 0h1m3 0h1m26 0h1m-45 1h1m13 0h1m4 0h1m1 0h1m17 0h1m13 0h1m-60 1h1m2 0h1m6 0h1m9 0h2m3 0h1m3 0h1m14 0h1m-39 1h1m4 0h1m5 0h1m7 0h1m-24 1h3m2 0h1m12 0h1m4 0h2m-22 1h1m1 0h1m4 0h1m6 0h1m1 0h2m3 0h2m-18 1h1m7 0h1m5 0h1m32 0h2m-53 1h1m10 0h1m6 0h1m1 0h1m41 0h2m-65 1h2m8 0h2m2 0h1m3 0h1m3 0h1m23 0h1m17 0h1m3 0h1m-73 1h1m3 0h1m1 0h2m12 0h1m6 0h2m15 0h1m4 0h1m9 0h1m11 0h1m-72 1h1m2 0h2m4 0h1m14 0h1m3 0h1m14 0h1m8 0h2m-46 1h1m9 0h1m6 0h1m28 0h1m2 0h1m-56 1h1m1 0h1m1 0h1m1 0h2m11 0h2m31 0h1m4 0h1m-46 1h1m7 0h1m21 0h1m2 0h1m6 0h1m1 0h1m2 0h1m1 0h1m-59 1h2m4 0h1m3 0h1m9 0h1m4 0h1m25 0h1m4 0h1m-62 1h2m11 0h1m5 0h1m6 0h1m1 0h1m4 0h2m11 0h2m6 0h1m4 0h1m-60 1h1m8 0h1m1 0h1m3 0h2m3 0h2m15 0h1m3 0h2m2 0h3m12 0h1m6 0h1m-63 1h1m9 0h1m10 0h1m25 0h1m3 0h1m3 0h2m5 0h1m2 0h1m7 0h1m-51 1h1m1 0h1m2 0h2m5 0h1m4 0h2m7 0h1m16 0h1m6 0h1m-56 1h2m4 0h1m3 0h1m1 0h1m5 0h1m7 0h2m12 0h1m-56 1h2m4 0h1m9 0h1m3 0h1m12 0h1m5 0h1m2 0h1m5 0h1m-50 1h1m2 0h1m16 0h1m2 0h2m23 0h1m7 0h1m2 0h3m-67 1h1m38 0h2m14 0h1m-26 1h1m11 0h1m1 0h1m9 0h1m3 0h1m2 0h1m1 0h1m4 0h1m3 0h1m-67 1h1m17 0h1m8 0h1m13 0h2m6 0h1m13 0h2m1 0h1m4 0h1m1 0h1m-77 1h2m3 0h1m17 0h2m4 0h1m2 0h3m4 0h1m4 0h2m13 0h1m7 0h1m5 0h1m2 0h1m-47 1h1m8 0h1m12 0h1m1 0h1m2 0h2m2 0h2m-36 1h1m35 0h1m3 0h1m5 0h1m4 0h1m6 0h1m-87 1h1m44 0h1m5 0h1m11 0h2m15 0h1m4 0h1m-82 1h1m54 0h1m10 0h1m-68 1h1m24 0h1m43 0h1m-7 1h1m5 0h2m6 0h1m-22 1h2m1 0h2m2 0h1m1 0h1m1 0h1m-71 1h1m1 0h1m23 0h1m32 0h1m1 0h1m10 0h1m-21 1h2m8 0h1m1 0h2m2 0h1m2 0h1m-73 1h1m2 0h1m20 0h1m2 0h1m3 0h1m18 0h1m18 0h2m-71 1h2m5 0h1m22 0h1m12 0h1m6 0h1m1 0h1m26 0h1m-77 1h1m59 0h1m3 0h1m3 0h1m-66 1h1m15 0h1m5 0h1m3 0h1m2 0h1m23 0h2m6 0h1m2 0h1m-63 1h2m12 0h1m1 0h3m2 0h1m4 0h1m4 0h1m4 0h2m4 0h1m11 0h1m2 0h1m-65 1h2m7 0h1m13 0h1m6 0h1m23 0h2m9 0h1m1 0h1m-68 1h1m7 0h3m8 0h1m4 0h1m3 0h1m3 0h2m27 0h1m1 0h1m4 0h1m-62 1h1m9 0h1m1 0h1m5 0h1m11 0h1m1 0h1m7 0h4m2 0h2m6 0h1m2 0h1m1 0h1m-47 1h1m3 0h1m5 0h1m1 0h2m1 0h1m8 0h1m14 0h1m2 0h2m1 0h3m-56 1h1m1 0h1m3 0h1m2 0h1m9 0h1m3 0h2m4 0h2m3 0h1m5 0h1m3 0h1m3 0h1m-50 1h1m8 0h1m3 0h1m13 0h1m10 0h1m7 0h1m5 0h1m-58 1h1m9 0h1m1 0h2m3 0h1m5 0h1m1 0h1m8 0h1m6 0h1m4 0h1m1 0h1m8 0h2m-60 1h1m20 0h1m1 0h2m2 0h1m14 0h1m2 0h1m1 0h1m1 0h1m6 0h3"/>
<path stroke-opacity="0.52" d="M0 0m217 32h2m6 0h1m-23 1h1m6 1h1m-12 2h1m14 2h1m0 1h1m1 1h2m3 1h1m-10 1h2m-11 1h2m3 0h1m7 0h1m2 0h1m-12 1h1m4 0h1m3 0h1m-16 1h1m4 0h1m11 0h1m7 0h2m-27 1h1m16 0h2m1 0h2m-14 1h1m2 1h1m1 0h1m-6 1h1m-7 1h2m1 0h1m2 0h1m-4 1h1m2 0h1m5 0h2m9 0h1m-21 1h3m1 0h1m11 0h1m-24 1h1m6 0h1m1 0h1m3 0h1m1 0h1m1 0h1m-9 1h1m7 0h1m-6 1h1m1 0h1m2 0h1m10 0h1m-21 1h1m7 0h1m4 0h1m-17 1h1m7 0h1m1 0h1m-10 1h1m4 0h1m1 0h1m8 0h1m3 0h1m-22 1h1m2 0h1m3 0h1m1 0h1m4 0h4m-24 1h1m4 0h1m1 0h1m6 0h1m5 0h1m-21 1h1m5 0h2m6 0h2m3 0h1m-11 1h1m1 0h1m2 0h1m52 0h1m-65 1h1m4 0h1m2 0h1m2 0h1m52 0h1m-63 1h1m7 0h2m5 0h1m1 0h1m35 0h2m-56 1h2m6 0h1m4 0h1m-11 1h1m3 0h1m10 0h2m2 0h1m37 0h1m-69 1h1m3 0h2m4 0h1m1 0h1m4 0h1m12 0h1m-27 1h3m2 0h2m1 0h1m1 0h1m1 0h1m1 0h2m8 0h1m9 0h1m-32 1h1m5 0h2m1 0h1m1 0h1m1 0h1m17 0h1m-34 1h1m6 0h2m9 0h1m6 0h2m-28 1h2m10 0h1m7 0h1m2 0h1m47 0h1m-75 1h3m4 0h1m7 0h1m1 0h1m7 0h1m-25 1h1m6 0h1m7 0h2m5 0h2m-20 1h1m3 0h1m3 0h1m1 0h1m4 0h2m-18 1h1m6 0h1m3 0h1m3 0h1m2 0h1m52 0h1m4 0h1m-69 1h1m1 0h1m1 0h1m5 0h1m57 0h1m-78 1h1m4 0h1m11 0h1m-18 1h2m1 0h1m10 0h1m5 0h2m-23 1h2m1 0h1m7 0h1m4 0h1m1 0h1m3 0h1m-18 1h1m2 0h1m3 0h1m1 0h1m9 1h1m-24 1h1m7 0h1m7 0h1m33 0h1m-47 1h1m5 0h1m7 0h1m31 0h1m4 0h1m-49 1h1m5 0h2m3 0h1m4 0h1m31 0h1m-59 1h1m12 0h1m1 0h1m4 0h1m2 0h1m1 0h1m1 0h1m14 0h1m11 0h2m6 0h1m-61 1h1m17 0h1m2 0h1m25 0h1m-48 1h1m2 0h1m4 0h1m1 0h2m5 0h1m2 0h1m1 0h1m46 0h1m-68 1h1m2 0h1m3 0h1m1 0h1m1 0h1m2 0h1m4 0h1m-20 1h3m2 0h1m13 0h1m25 0h1m-42 1h1m4 0h1m4 0h1m1 0h1m1 0h1m-24 1h1m4 0h2m2 0h1m5 0h1m2 0h1m3 0h1m2 0h1m-26 1h1m1 0h1m3 0h1m1 0h1m3 0h3m9 0h2m2 0h1m31 0h2m-61 1h1m3 0h1m3 0h1m7 0h1m6 0h1m2 0h1m1 0h1m-24 1h1m3 0h1m4 0h1m-5 1h1m12 0h1m-16 1h1m3 0h1m4 0h1m46 0h1m-61 1h1m3 0h1m1 0h2m2 0h1m1 0h1m6 0h1m3 0h1m29 0h2m-55 1h1m4 0h1m1 0h1m2 0h1m6 0h2m45 0h1m-60 1h1m9 0h1m2 0h1m1 0h1m-19 1h1m1 0h1m7 0h1m5 0h1m5 0h1m23 0h1m8 0h1m-60 1h1m13 0h2m2 0h1m3 0h2m21 0h1m8 0h1m-51 1h1m12 0h1m5 0h2m19 0h1m1 0h1m7 0h2m-48 1h1m2 0h1m2 0h2m4 0h1m36 0h1m3 0h1m-53 1h3m1 0h1m1 0h1m4 0h1m4 0h1m9 0h1m21 0h1m2 0h1m-59 1h1m1 0h3m8 0h1m1 0h3m6 0h1m14 0h2m15 0h2m-62 1h1m4 0h2m5 0h1m5 0h1m2 0h3m1 0h1m12 0h1m16 0h1m1 0h1m4 0h1m4 0h1m-62 1h1m2 0h2m2 0h1m4 0h2m1 0h1m12 0h2m1 0h1m4 0h2m1 0h1m3 0h2m14 0h1m1 0h1m8 0h1m-71 1h1m2 0h2m25 0h1m4 0h2m8 0h2m3 0h1m3 0h1m4 0h1m10 0h1m-65 1h1m8 0h1m2 0h1m8 0h1m1 0h1m1 0h1m8 0h2m7 0h2m8 0h1m-57 1h1m12 0h1m3 0h1m6 0h2m7 0h1m11 0h1m2 0h1m1 0h1m2 0h2m15 0h1m-72 1h1m1 0h1m1 0h2m3 0h1m14 0h1m1 0h1m5 0h1m8 0h1m5 0h1m3 0h1m1 0h1m2 0h1m3 0h1m10 0h1m-76 1h2m6 0h1m3 0h1m9 0h2m1 0h2m3 0h1m7 0h1m2 0h1m13 0h1m2 0h1m3 0h3m-69 1h1m3 0h1m2 0h1m1 0h2m6 0h1m7 0h2m1 0h3m10 0h1m9 0h2m10 0h1m1 0h2m-43 1h1m5 0h2m1 0h1m6 0h1m2 0h1m1 0h1m19 0h2m2 0h1m2 0h1m6 0h1m-72 1h1m23 0h1m2 0h1m23 0h1m1 0h1m6 0h3m12 0h1m-79 1h1m25 0h1m1 0h1m2 0h1m20 0h1m2 0h1m2 0h2m3 0h1m7 0h2m-44 1h1m3 0h1m4 0h1m19 0h1m4 0h1m-64 1h1m39 0h1m5 0h1m10 0h1m6 0h2m16 0h1m-88 1h1m4 0h1m25 0h1m5 0h1m-38 1h1m4 0h1m24 0h1m13 0h1m16 0h1m6 0h1m4 0h1m2 0h1m-73 1h1m2 0h1m21 0h2m25 0h1m5 0h1m7 0h1m-40 1h1m2 0h1m16 0h1m7 0h1m4 0h1m-32 1h4m3 0h1m3 0h1m6 0h1m6 0h2m5 0h1m-63 1h1m2 0h1m1 0h1m17 0h1m13 0h1m4 0h1m6 0h1m1 0h1m4 0h1m1 0h1m1 0h1m5 0h1m2 0h2m3 0h2m-76 1h1m4 0h1m16 0h1m2 0h1m3 0h1m1 0h1m19 0h2m2 0h1m14 0h1m-68 1h1m3 0h1m18 0h1m4 0h1m11 0h1m9 0h1m4 0h1m6 0h2m2 0h1m-67 1h1m1 0h1m16 0h1m3 0h1m2 0h1m2 0h2m17 0h1m3 0h1m7 0h1m4 0h1m10 0h1m-73 1h1m16 0h1m7 0h2m11 0h1m7 0h1m2 0h1m3 0h2m1 0h3m-35 1h1m2 0h1m22 0h1m1 0h2m-55 1h1m12 0h1m4 0h2m3 0h1m30 0h1m-60 1h1m5 0h1m7 0h1m1 0h2m3 0h2m10 0h1m7 0h1m1 0h2m1 0h3m1 0h4m2 0h1m7 0h2m4 0h1m4 0h2m-72 1h1m4 0h2m7 0h1m5 0h1m7 0h1m10 0h1m14 0h1m1 0h2m3 0h1m-56 1h1m25 0h1m9 0h1m1 0h2m-44 1h1m6 0h1m1 0h1m2 0h1m16 0h1m10 0h2m8 0h1m-19 1h1m1 0h1m4 0h1m2 0h1m11 0h1m-54 1h1m16 0h1m3 0h1m12 0h2m1 0h1m3 0h2m4 0h1m4 0h1m-56 1h1m10 0h1m1 0h1m10 0h2m6 0h1m4 0h2m1 0h1m1 0h1m2 0h1m12 0h1"/>
<path stroke-opacity="0.76" d="M0 0m202 32h1m18 0h1m-9 2h1m8 2h1m-17 3h1m8 3h1m1 2h1m2 0h1m-12 1h1m11 0h1m-10 3h1m2 0h1m1 0h1m2 0h1m-16 1h1m1 0h1m4 0h1m2 0h3m-16 1h1m10 0h1m-5 1h2m1 0h3m10 0h1m1 0h1m-27 1h1m11 0h1m1 0h1m1 0h1m5 0h1m-18 1h1m5 0h1m2 0h1m-12 1h1m4 0h1m4 0h4m3 0h1m-17 1h2m2 0h1m4 0h1m1 0h2m-12 1h2m8 0h1m2 0h1m-10 1h1m16 0h1m-29 1h1m8 0h1m6 0h2m4 0h2m-25 1h1m6 0h1m-7 1h1m2 0h1m6 0h1m3 0h1m3 0h2m-20 1h1m1 0h1m7 0h1m7 0h1m-6 1h2m3 0h2m-15 1h2m3 0h2m4 0h2m1 0h1m-17 1h2m2 0h1m1 0h5m2 0h4m-16 1h1m3 0h1m1 0h1m3 0h1m1 0h2m2 0h2m1 0h1m-19 1h3m1 0h2m2 0h2m4 0h4m2 0h2m-23 1h3m1 0h1m2 0h1m3 0h2m11 0h1m-29 1h1m4 0h1m11 0h2m-16 1h1m5 0h1m8 0h4m-19 1h1m4 0h1m2 0h2m6 0h1m1 0h1m1 0h1m-13 1h1m2 0h2m4 0h1m1 0h1m4 0h1m-27 1h1m2 0h1m3 0h2m4 0h1m2 0h1m1 0h1m1 0h2m1 0h1m-27 1h1m5 0h1m5 0h2m4 0h2m1 0h2m-17 1h1m1 0h1m7 0h4m7 0h1m-22 1h1m1 0h1m1 0h1m3 0h1m3 0h1m1 0h1m10 0h1m1 0h1m-29 1h1m2 0h3m7 0h3m-21 1h2m3 0h1m1 0h1m1 0h2m5 0h1m1 0h2m1 0h3m47 0h1m-62 1h1m2 0h1m8 0h1m25 0h1m-42 1h1m6 0h2m1 0h1m5 0h1m-19 1h1m2 0h1m3 0h1m4 0h1m4 0h1m1 0h1m4 0h1m-23 1h1m3 0h1m1 0h1m8 0h1m1 0h1m-21 1h1m7 0h2m3 0h1m8 0h1m-21 1h1m2 0h2m5 0h5m2 0h1m2 0h2m40 0h1m-67 1h2m2 0h2m1 0h1m8 0h2m2 0h2m3 0h2m-28 1h3m1 0h2m2 0h2m1 0h1m1 0h1m2 0h1m3 0h1m11 0h1m15 0h1m-47 1h1m5 0h2m1 0h2m3 0h1m3 0h2m2 0h1m2 0h1m-26 1h1m4 0h2m1 0h1m2 0h2m2 0h1m1 0h2m3 0h1m-20 1h1m2 0h2m1 0h1m1 0h1m4 0h1m4 0h2m26 0h1m-42 1h2m2 0h2m4 0h2m33 0h1m-48 1h2m10 0h1m-15 1h1m4 0h2m4 0h1m3 0h1m21 0h1m-37 1h2m5 0h2m1 0h1m3 0h1m3 0h1m-25 1h2m9 0h3m-15 1h1m9 0h1m1 0h1m2 0h3m2 0h1m5 0h1m-19 1h1m3 0h1m3 0h2m6 0h1m-22 1h2m8 0h1m4 0h5m-9 1h1m4 0h3m2 0h1m23 0h1m14 0h1m-55 1h1m1 0h2m3 0h1m2 0h1m-19 1h1m3 0h1m3 0h1m1 0h2m2 0h2m7 0h1m25 0h1m21 0h1m-72 1h1m6 0h1m1 0h1m2 0h1m2 0h1m1 0h3m1 0h1m21 0h1m14 0h1m-51 1h2m1 0h1m1 0h1m2 0h1m2 0h2m29 0h3m2 0h1m1 0h1m-56 1h1m7 0h2m2 0h2m-15 1h5m3 0h2m5 0h4m15 0h1m8 0h2m2 0h1m5 0h1m-54 1h1m12 0h1m1 0h4m1 0h1m26 0h1m5 0h1m6 0h1m-61 1h1m6 0h1m4 0h1m10 0h1m11 0h1m15 0h1m4 0h1m-57 1h2m4 0h1m1 0h1m5 0h1m6 0h1m1 0h1m6 0h1m14 0h2m1 0h1m4 0h1m4 0h1m-55 1h2m3 0h1m7 0h1m1 0h2m2 0h2m8 0h1m3 0h2m5 0h2m9 0h1m5 0h1m-58 1h2m5 0h2m2 0h1m2 0h3m1 0h1m2 0h1m5 0h2m1 0h1m2 0h1m2 0h1m2 0h1m2 0h2m6 0h2m3 0h1m1 0h1m4 0h1m-64 1h2m2 0h1m2 0h2m1 0h1m1 0h1m7 0h2m11 0h1m1 0h5m5 0h1m2 0h1m6 0h1m2 0h1m-55 1h1m1 0h1m1 0h6m1 0h1m3 0h1m9 0h2m1 0h1m2 0h1m6 0h1m2 0h1m6 0h1m2 0h1m3 0h1m-59 1h1m3 0h1m3 0h2m6 0h1m3 0h2m9 0h1m4 0h5m2 0h4m3 0h1m2 0h1m-55 1h3m4 0h1m6 0h2m1 0h1m1 0h1m2 0h1m9 0h2m3 0h2m5 0h2m2 0h1m-54 1h1m3 0h2m4 0h1m1 0h1m5 0h1m3 0h1m3 0h1m5 0h2m7 0h1m4 0h1m1 0h2m2 0h2m1 0h1m3 0h2m5 0h2m2 0h2m5 0h1m-74 1h2m1 0h1m10 0h1m12 0h1m2 0h1m3 0h1m4 0h1m1 0h1m3 0h2m1 0h1m4 0h2m1 0h1m5 0h1m-58 1h1m14 0h1m15 0h1m9 0h1m1 0h1m1 0h3m9 0h1m14 0h1m-79 1h1m1 0h2m1 0h2m15 0h1m5 0h1m2 0h1m1 0h2m2 0h2m4 0h3m4 0h2m3 0h1m7 0h1m3 0h1m3 0h1m-71 1h2m18 0h3m9 0h1m2 0h1m3 0h1m1 0h3m2 0h1m1 0h1m2 0h1m3 0h2m7 0h1m3 0h2m1 0h1m-71 1h2m19 0h2m1 0h2m1 0h1m3 0h2m1 0h1m5 0h1m6 0h1m2 0h1m6 0h1m9 0h2m7 0h1m6 0h1m-82 1h1m16 0h1m1 0h2m11 0h1m7 0h1m2 0h1m2 0h1m5 0h2m2 0h2m21 0h1m-81 1h1m28 0h1m4 0h1m11 0h2m8 0h4m16 0h1m-76 1h2m21 0h1m2 0h2m1 0h1m8 0h1m1 0h1m5 0h1m4 0h1m8 0h1m4 0h1m-70 1h4m21 0h1m2 0h1m4 0h1m4 0h1m3 0h1m5 0h1m1 0h1m1 0h1m3 0h2m5 0h1m4 0h1m-67 1h1m1 0h2m12 0h1m4 0h2m1 0h1m1 0h1m6 0h1m1 0h1m6 0h1m3 0h1m2 0h1m4 0h1m6 0h2m2 0h2m1 0h1m-68 1h1m5 0h1m13 0h1m2 0h1m2 0h2m1 0h1m2 0h1m3 0h2m3 0h2m1 0h1m1 0h1m3 0h1m8 0h1m3 0h1m-64 1h1m16 0h1m5 0h2m3 0h7m2 0h2m5 0h1m1 0h1m3 0h1m3 0h1m3 0h1m1 0h1m2 0h1m-66 1h1m1 0h2m2 0h1m7 0h1m3 0h3m1 0h2m6 0h2m5 0h1m1 0h1m2 0h2m2 0h1m1 0h1m3 0h1m2 0h1m1 0h1m1 0h1m1 0h2m3 0h1m1 0h1m8 0h1m-76 1h1m1 0h1m14 0h1m1 0h1m1 0h1m4 0h2m2 0h2m7 0h5m2 0h1m1 0h2m2 0h1m2 0h1m5 0h1m3 0h1m-66 1h1m20 0h1m4 0h1m4 0h1m2 0h2m4 0h1m1 0h1m3 0h2m2 0h1m2 0h1m-49 1h1m10 0h1m6 0h1m2 0h1m1 0h1m4 0h1m3 0h2m2 0h1m4 0h3m3 0h1m5 0h2m-57 1h1m2 0h2m1 0h4m1 0h1m2 0h2m9 0h1m5 0h1m1 0h3m1 0h1m2 0h1m11 0h1m1 0h1m1 0h1m-61 1h1m8 0h2m7 0h1m4 0h1m12 0h1m1 0h1m8 0h1m5 0h1m1 0h3m3 0h1m2 0h1m-60 1h3m3 0h1m6 0h1m16 0h1m5 0h1m11 0h1m8 0h1m5 0h1m-64 1h2m3 0h1m2 0h4m11 0h1m4 0h2m4 0h1m6 0h1m8 0h1m-50 1h1m1 0h1m4 0h1m22 0h1m7 0h1m3 0h1m7 0h1m-43 1h1m5 0h1m3 1h1m9 0h2m6 0h1m2 0h1m6 0h1m6 0h1m-54 1h1m17 0h1m9 0h1m3 0h1m3 0h1m9 0h2"/>
<path stroke-opacity="1" d="M0 0m211 34h1m-6 15h1m7 3h1m-10 1h1m11 0h1m-5 1h1m1 2h1m-9 1h2m2 0h1m-2 1h1m-3 1h1m-3 1h1m1 0h1m6 0h1m-8 1h1m9 0h1m-4 1h2m9 2h1m-21 1h1m-7 1h1m2 0h1m5 1h1m1 0h1m-9 1h1m3 0h1m1 0h1m1 0h1m1 0h1m-3 1h1m1 0h1m8 0h1m-11 1h2m-7 1h3m5 0h2m1 0h1m3 0h1m-14 1h2m4 0h1m3 0h1m-16 1h1m-1 1h1m6 0h1m-6 1h1m3 0h1m2 0h2m-5 1h1m3 0h1m3 0h1m4 0h1m-21 1h1m5 0h4m1 0h1m-13 1h1m5 0h2m1 0h3m4 0h1m-14 1h1m1 0h3m3 0h1m5 0h1m-12 1h1m1 0h1m4 0h2m5 0h1m-3 1h1m-15 1h1m8 0h1m1 0h1m1 0h2m-21 1h1m4 0h1m2 0h2m-5 1h1m2 0h2m7 0h1m34 0h1m-49 1h2m2 0h1m4 0h1m5 0h1m1 0h1m-20 1h1m2 0h1m2 0h1m2 0h3m-1 1h2m-13 1h1m10 0h2m-4 1h1m2 0h1m-13 1h1m5 0h2m1 0h4m33 0h1m-43 1h3m3 0h2m2 0h1m3 0h1m2 0h1m-25 1h1m1 0h1m9 0h1m2 0h1m1 0h1m8 0h1m-28 1h1m3 0h1m1 0h1m4 0h1m5 0h1m5 0h1m2 0h1m-20 1h1m3 0h1m2 0h1m8 0h1m-17 1h1m5 0h3m3 0h1m-12 1h1m3 0h1m1 0h2m8 0h1m-21 1h1m3 0h1m2 0h2m4 1h1m-15 1h1m6 0h1m6 0h1m-7 1h2m4 0h1m5 0h1m-13 1h1m1 0h1m8 0h1m-10 1h2m2 0h1m28 0h1m11 0h1m-52 1h1m-2 1h2m19 0h1m-24 1h1m5 0h1m1 0h2m1 0h1m14 0h1m5 0h1m-25 1h1m2 0h1m20 0h1m12 0h1m-48 1h1m7 0h1m3 0h3m26 0h1m1 0h1m9 0h2m-47 1h3m2 0h2m1 0h2m3 0h1m22 0h1m11 0h1m-49 1h1m3 0h1m1 0h1m1 0h2m4 0h1m24 0h1m1 0h2m-43 1h1m8 0h1m3 0h1m12 0h1m5 0h3m1 0h1m4 0h2m2 0h1m7 0h1m-51 1h1m3 0h5m1 0h2m7 0h1m1 0h3m1 0h1m1 0h2m5 0h1m7 0h1m1 0h1m4 0h1m-50 1h2m2 0h2m2 0h1m1 0h1m7 0h2m1 0h3m8 0h4m2 0h2m3 0h2m1 0h2m1 0h3m-58 1h1m3 0h1m1 0h3m1 0h1m1 0h3m1 0h1m7 0h1m2 0h6m3 0h1m1 0h1m10 0h2m-50 1h10m1 0h4m5 0h1m7 0h2m2 0h2m4 0h1m4 0h1m1 0h2m1 0h1m2 0h1m7 0h1m-58 1h14m4 0h3m7 0h2m1 0h1m1 0h4m2 0h1m1 0h1m1 0h1m3 0h1m1 0h1m3 0h1m14 0h1m-72 1h1m2 0h15m1 0h4m8 0h2m3 0h3m3 0h4m15 0h2m-64 1h18m3 0h3m1 0h2m1 0h2m2 0h1m1 0h2m2 0h1m3 0h2m1 0h1m1 0h2m1 0h3m2 0h1m1 0h3m3 0h1m-69 1h1m5 0h19m2 0h1m2 0h1m1 0h3m2 0h1m1 0h4m2 0h1m1 0h2m1 0h1m2 0h1m1 0h5m2 0h2m2 0h1m-60 1h16m1 0h1m2 0h2m1 0h5m1 0h2m1 0h7m1 0h2m1 0h2m1 0h5m3 0h1m2 0h3m-61 1h22m2 0h4m1 0h4m1 0h2m1 0h8m2 0h6m1 0h1m4 0h1m-63 1h2m3 0h19m3 0h2m2 0h1m1 0h8m1 0h1m1 0h4m2 0h1m1 0h2m1 0h2m10 0h1m-65 1h21m1 0h1m2 0h1m1 0h2m1 0h4m1 0h3m1 0h4m4 0h1m1 0h2m11 0h1m-64 1h1m2 0h12m1 0h4m4 0h1m5 0h2m3 0h2m1 0h3m1 0h2m2 0h2m1 0h2m3 0h1m4 0h1m-58 1h4m1 0h12m2 0h2m1 0h2m2 0h1m1 0h2m2 0h2m3 0h2m2 0h1m7 0h1m3 0h1m1 0h1m-59 1h1m2 0h15m18 0h2m2 0h5m11 0h3m-53 1h7m1 0h3m3 0h1m3 0h1m2 0h1m3 0h5m1 0h1m5 0h2m7 0h2m3 0h1m1 0h1m4 0h1m-61 1h14m3 0h1m11 0h7m5 0h2m4 0h1m2 0h2m5 0h1m-57 1h13m1 0h2m12 0h2m2 0h4m3 0h3m2 0h1m2 0h1m-46 1h10m2 0h1m12 0h2m2 0h2m5 0h3m5 0h2m-44 1h1m4 0h1m10 0h1m4 0h1m1 0h3m1 0h1m3 0h1m1 0h2m1 0h5m9 0h1m1 0h1m1 0h1m-61 1h1m7 0h1m1 0h1m8 0h1m11 0h2m4 0h1m-31 1h1m1 0h2m1 0h1m14 0h1m9 0h1m-34 1h2m2 0h2m9 0h1m17 0h1m-6 1h1m6 0h1m4 0h1m6 0h1m-17 1h1m-25 1h1m23 0h2m6 0h1m-8 1h1m6 0h1"/>
</g>
<rect x="193.75" y="31.5" width="121.95" height="106.4" fill="none" stroke="#000" stroke-width="1.2"/>
<path d="M232.6 31.5V137.9M193.75 102.9H315.7" fill="none" stroke="#000" stroke-width="1.05"/>
<path d="M193.75 137.9v3.3M193.75 137.9h-3.3M202.93 137.9v2.6M193.75 129.89h-2.6M208.3 137.9v2.6M193.75 125.21h-2.6M212.11 137.9v2.6M193.75 121.89h-2.6M215.06 137.9v2.6M193.75 119.31h-2.6M217.47 137.9v2.6M193.75 117.2h-2.6M219.51 137.9v2.6M193.75 115.42h-2.6M221.28 137.9v2.6M193.75 113.88h-2.6M222.84 137.9v2.6M193.75 112.52h-2.6M224.24 137.9v3.3M193.75 111.3h-3.3M233.42 137.9v2.6M193.75 103.29h-2.6M238.78 137.9v2.6M193.75 98.61h-2.6M242.59 137.9v2.6M193.75 95.29h-2.6M245.55 137.9v2.6M193.75 92.71h-2.6M247.96 137.9v2.6M193.75 90.6h-2.6M250 137.9v2.6M193.75 88.82h-2.6M251.77 137.9v2.6M193.75 87.28h-2.6M253.33 137.9v2.6M193.75 85.92h-2.6M254.72 137.9v3.3M193.75 84.7h-3.3M263.9 137.9v2.6M193.75 76.69h-2.6M269.27 137.9v2.6M193.75 72.01h-2.6M273.08 137.9v2.6M193.75 68.69h-2.6M276.03 137.9v2.6M193.75 66.11h-2.6M278.45 137.9v2.6M193.75 64h-2.6M280.49 137.9v2.6M193.75 62.22h-2.6M282.26 137.9v2.6M193.75 60.68h-2.6M283.82 137.9v2.6M193.75 59.32h-2.6M285.21 137.9v3.3M193.75 58.1h-3.3M294.39 137.9v2.6M193.75 50.09h-2.6M299.76 137.9v2.6M193.75 45.41h-2.6M303.57 137.9v2.6M193.75 42.09h-2.6M306.52 137.9v2.6M193.75 39.51h-2.6M308.94 137.9v2.6M193.75 37.4h-2.6M310.98 137.9v2.6M193.75 35.62h-2.6M312.75 137.9v2.6M193.75 34.08h-2.6M314.3 137.9v2.6M193.75 32.72h-2.6M315.7 137.9v2.6M193.75 31.5h-2.6" fill="none" stroke="#000" stroke-width="1.3"/>
<text transform="translate(188.45 148.4) scale(.8 1)" class="tx">10<tspan class="ex" dx=".6" dy="-3.8">0</tspan></text>
<text transform="translate(188.65 143.5) rotate(-90) scale(.85 1)" class="ty">10<tspan class="ey" dy="-3.3">0</tspan></text>
<text transform="translate(218.94 148.4) scale(.8 1)" class="tx">10<tspan class="ex" dx=".6" dy="-3.8">1</tspan></text>
<text transform="translate(188.65 116.9) rotate(-90) scale(.85 1)" class="ty">10<tspan class="ey" dy="-3.3">1</tspan></text>
<text transform="translate(249.43 148.4) scale(.8 1)" class="tx">10<tspan class="ex" dx=".6" dy="-3.8">2</tspan></text>
<text transform="translate(188.65 90.3) rotate(-90) scale(.85 1)" class="ty">10<tspan class="ey" dy="-3.3">2</tspan></text>
<text transform="translate(279.91 148.4) scale(.8 1)" class="tx">10<tspan class="ex" dx=".6" dy="-3.8">3</tspan></text>
<text transform="translate(188.65 63.7) rotate(-90) scale(.85 1)" class="ty">10<tspan class="ey" dy="-3.3">3</tspan></text>
<text transform="translate(310.4 148.4) scale(.8 1)" class="tx">10<tspan class="ex" dx=".6" dy="-3.8">4</tspan></text>
<text transform="translate(188.65 37.1) rotate(-90) scale(.85 1)" class="ty">10<tspan class="ey" dy="-3.3">4</tspan></text>
</g>
<g>
<g transform="translate(0 .5)" class="dots">
<path stroke-opacity="0.3" d="M0 0m380 51h1m-17 1h1m14 0h2m1 0h1m6 0h1m-25 1h1m22 0h1m-17 2h1m-4 1h1m0 1h1m-11 1h1m7 0h2m-10 1h2m6 0h1m5 0h2m9 0h1m-20 1h1m9 0h1m2 0h1m5 0h2m-20 1h1m4 0h1m6 0h2m7 0h1m-3 1h1m2 0h1m-37 1h2m11 0h1m18 0h1m-23 1h1m1 0h3m5 0h1m2 0h1m8 0h1m-29 1h2m1 0h2m7 0h1m2 0h1m-16 1h1m5 0h1m7 0h1m4 0h2m9 0h1m-33 1h2m2 0h1m8 0h1m5 0h2m1 0h1m4 0h1m1 0h1m2 0h2m-13 1h1m3 0h1m5 0h1m-24 1h3m7 0h1m6 0h1m1 0h2m2 0h1m-14 1h1m2 0h1m2 0h1m5 0h3m-25 1h2m9 0h1m10 0h1m1 0h2m-23 1h1m1 0h1m8 0h1m5 0h1m-22 1h1m3 0h1m12 0h2m4 0h1m-25 1h2m24 0h2m-29 1h1m3 0h1m1 0h1m2 0h1m12 0h1m23 0h2m-31 1h1m9 0h2m17 0h2m-50 1h1m3 0h1m5 0h1m10 0h1m7 0h3m22 0h2m-57 1h1m3 0h1m8 0h3m9 0h1m5 0h1m24 0h1m2 0h1m-61 1h2m4 0h1m1 0h1m3 0h2m20 0h1m26 0h1m-63 1h1m31 0h1m2 0h1m-30 1h1m3 0h1m1 0h1m8 0h1m4 0h1m6 0h1m2 0h1m14 0h1m3 0h1m6 0h1m-59 1h1m5 0h1m21 0h2m10 0h1m12 0h1m3 0h1m-59 1h2m2 0h1m21 0h1m1 0h1m5 0h1m5 0h1m-34 1h1m9 0h1m13 0h1m2 0h1m20 0h1m-56 1h1m4 0h1m1 0h1m1 0h1m11 0h1m14 0h1m2 0h1m15 0h1m-43 1h3m5 0h1m12 0h1m2 0h1m17 0h1m-62 1h1m7 0h1m1 0h1m15 0h2m1 0h1m6 0h2m14 0h1m4 0h1m3 0h1m-63 1h1m9 0h1m29 0h2m7 0h2m7 0h1m1 0h1m-53 1h2m17 0h1m6 0h1m2 0h1m2 0h1m3 0h1m8 0h1m26 0h1m-75 1h1m10 0h1m18 0h1m4 0h1m3 0h1m5 0h1m3 0h1m2 0h1m3 0h1m3 0h2m11 0h1m-78 1h1m6 0h1m31 0h1m6 0h1m3 0h2m4 0h1m3 0h1m-56 1h1m20 0h1m5 0h2m5 0h1m9 0h3m5 0h1m6 0h1m-28 1h1m1 0h1m3 0h1m5 0h1m4 0h1m7 0h1m2 0h1m15 0h1m-75 1h1m8 0h1m12 0h1m3 0h3m4 0h1m1 0h1m3 0h2m13 0h3m17 0h1m-74 1h1m8 0h1m1 0h1m17 0h1m9 0h1m5 0h1m24 0h1m-77 1h1m8 0h2m1 0h1m2 0h1m16 0h2m18 0h1m1 0h1m8 0h2m12 0h1m-51 1h2m16 0h1m1 0h1m3 0h1m3 0h1m10 0h1m3 0h1m2 0h1m3 0h1m-83 1h1m5 0h1m1 0h1m1 0h1m4 0h1m10 0h1m3 0h1m2 0h1m3 0h1m5 0h2m6 0h1m15 0h1m4 0h1m5 0h1m3 0h1m-82 1h1m3 0h1m1 0h1m7 0h1m30 0h1m13 0h2m1 0h1m6 0h1m7 0h1m3 0h1m-74 1h1m1 0h1m2 0h1m17 0h1m12 0h1m7 0h2m9 0h1m4 0h1m1 0h1m2 0h2m3 0h1m5 0h1m-78 1h1m22 0h1m8 0h1m4 0h1m2 0h1m1 0h1m1 0h2m6 0h1m7 0h1m1 0h1m5 0h1m4 0h1m-75 1h1m1 0h1m3 0h1m27 0h1m8 0h1m4 0h1m11 0h2m8 0h1m2 0h3m3 0h2m-88 1h1m6 0h1m4 0h1m24 0h1m1 0h1m2 0h1m1 0h2m9 0h1m4 0h1m1 0h1m12 0h1m4 0h1m-80 1h1m1 0h1m1 0h1m17 0h1m7 0h1m1 0h1m7 0h2m11 0h1m12 0h1m3 0h1m9 0h1m3 0h1m-60 1h1m6 0h1m8 0h1m2 0h1m4 0h2m4 0h1m5 0h1m4 0h1m3 0h3m12 0h1m-80 1h2m1 0h1m2 0h2m8 0h1m16 0h1m9 0h2m3 0h1m4 0h1m22 0h1m1 0h1m-70 1h1m11 0h1m11 0h1m1 0h1m14 0h1m2 0h1m18 0h1m6 0h1m-84 1h1m25 0h2m1 0h2m8 0h1m5 0h1m9 0h1m-57 1h2m5 0h3m8 0h1m8 0h2m7 0h2m12 0h1m2 0h1m1 0h1m6 0h1m18 0h1m-75 1h1m27 0h1m17 0h1m4 0h1m1 0h1m6 0h1m-66 1h2m1 0h2m1 0h1m26 0h1m14 0h1m3 0h2m1 0h1m2 0h1m21 0h1m-88 1h1m4 0h4m13 0h1m11 0h1m3 0h1m5 0h1m2 0h1m12 0h1m2 0h1m21 0h2m-81 1h2m5 0h1m51 0h1m2 0h1m15 0h1m-84 1h1m2 0h1m2 0h1m2 0h1m1 0h1m5 0h1m18 0h1m3 0h1m3 0h1m13 0h1m7 0h1m16 0h1m4 0h1m1 0h1m-90 1h1m4 0h1m5 0h1m20 0h1m3 0h1m9 0h1m5 0h1m6 0h1m1 0h1m2 0h1m18 0h1m-78 1h1m4 0h1m17 0h1m4 0h1m12 0h1m3 0h1m4 0h1m5 0h1m20 0h1m2 0h1m-82 1h2m2 0h1m10 0h1m16 0h1m1 0h2m4 0h2m6 0h1m11 0h1m-62 1h1m4 0h1m26 0h1m4 0h1m7 0h1m8 0h1m1 0h1m22 0h2m1 0h1m-78 1h1m21 0h1m13 0h1m6 0h1m31 0h1m1 0h1m-82 1h1m23 0h2m1 0h2m1 0h1m4 0h1m3 0h1m7 0h2m3 0h1m3 0h1m2 0h1m16 0h1m-75 1h1m2 0h1m21 0h1m14 0h1m7 0h1m30 0h1m-78 1h1m16 0h1m2 0h1m4 0h1m6 0h2m8 0h1m2 0h1m13 0h1m-64 1h1m1 0h1m21 0h1m15 0h1m7 0h1m3 0h2m5 0h1m4 0h1m-64 1h1m2 0h1m26 0h1m10 0h2m13 0h1m21 0h1m-80 1h1m21 0h1m12 0h1m1 0h2m6 0h1m5 0h1m3 0h1m4 0h1m14 0h1m-43 1h1m8 0h1m2 0h1m4 0h1m25 0h1m1 0h1m-86 1h1m24 0h2m4 0h1m1 0h1m2 0h1m7 0h1m4 0h1m1 0h2m31 0h1m2 0h1m-59 1h1m6 0h1m47 0h1m-57 1h2m1 0h1m9 0h2m5 0h1m6 0h2m3 0h1m16 0h1m6 0h1m-63 1h2m8 0h1m9 0h1m1 0h1m12 0h1m1 0h1m3 0h3m11 0h1m6 0h1m-80 1h1m1 0h1m1 0h1m17 0h1m4 0h1m5 0h1m10 0h1m3 0h1m3 0h1m19 0h1m5 0h1m-78 1h1m2 0h1m17 0h1m3 0h1m8 0h1m5 0h2m9 0h1m6 0h2m7 0h1m5 0h1m1 0h1m1 0h2m-67 1h1m8 0h1m5 0h1m4 0h1m4 0h1m5 0h2m3 0h1m3 0h1m3 0h1m1 0h1m6 0h1m3 0h2m4 0h1m-78 1h1m18 0h2m4 0h1m9 0h1m2 0h1m7 0h2m1 0h1m3 0h2m9 0h1m4 0h1m4 0h3m2 0h1m-60 1h1m2 0h1m12 0h1m7 0h2m1 0h1m8 0h1m4 0h2m4 0h1m2 0h1m6 0h1m-81 1h1m25 0h1m15 0h2m2 0h1m1 0h1m1 0h1m8 0h1m3 0h1m11 0h1m2 0h2m11 0h1m-86 1h2m13 0h1m3 0h1m1 0h1m5 0h1m10 0h1m1 0h1m3 0h1m5 0h2m13 0h1m3 0h1"/>
<path stroke-opacity="0.52" d="M0 0m365 50h1m-1 1h1m13 0h1m3 0h1m-1 1h1m4 0h1m-16 2h1m-1 2h1m-9 1h1m7 0h1m-13 1h1m3 0h1m3 1h1m3 1h2m5 0h1m1 1h2m1 0h2m-34 1h2m15 0h1m14 0h1m-21 1h1m4 1h1m3 0h1m3 0h1m-23 1h1m7 0h1m16 0h1m-26 1h1m1 0h1m1 0h1m4 0h1m2 0h1m11 0h2m3 0h1m-28 1h1m4 0h2m4 0h1m6 0h1m4 0h1m1 0h1m2 0h1m-35 1h1m2 0h2m6 0h2m2 0h2m2 0h1m3 0h1m2 0h1m3 0h1m-15 1h2m4 0h1m-3 1h1m1 0h1m5 0h1m-19 1h1m8 0h2m2 0h1m10 0h1m-13 1h1m3 0h3m6 0h1m1 0h2m-30 1h1m6 0h1m9 0h1m2 0h1m-22 1h1m15 0h1m5 0h1m1 0h1m-26 1h1m12 0h1m5 0h1m7 0h2m-29 1h1m4 0h1m4 0h1m2 0h1m2 0h1m-19 1h1m1 0h1m3 0h2m1 0h1m4 0h1m1 0h2m6 0h1m2 0h1m-23 1h1m6 0h1m15 0h2m2 0h1m11 0h2m9 0h1m8 0h1m-48 1h1m10 0h3m28 0h1m-61 1h1m10 0h1m20 0h2m-33 1h1m2 0h1m1 0h2m22 0h1m21 0h2m1 0h1m4 0h1m-60 1h1m5 0h2m1 0h1m2 0h1m1 0h2m3 0h1m1 0h1m19 0h1m11 0h1m-50 1h1m4 0h1m16 0h1m5 0h1m1 0h1m-34 1h1m4 0h1m2 0h1m12 0h1m7 0h1m24 0h1m-53 1h2m2 0h1m5 0h1m9 0h1m2 0h2m6 0h1m-31 1h1m22 0h1m1 0h1m1 0h1m2 0h1m6 0h1m13 0h1m-62 1h1m4 0h1m11 0h1m5 0h1m12 0h1m3 0h2m5 0h2m10 0h1m-35 1h1m3 0h1m6 0h2m14 0h1m-48 1h3m2 0h1m4 0h2m2 0h1m5 0h2m1 0h1m23 0h1m-48 1h1m2 0h2m9 0h1m7 0h1m4 0h1m1 0h2m44 0h1m-70 1h2m19 0h2m6 0h1m15 0h1m9 0h4m-46 1h1m2 0h1m3 0h1m7 0h1m10 0h1m21 0h1m-67 1h1m1 0h1m19 0h1m1 0h2m6 0h1m1 0h1m1 0h1m7 0h1m12 0h1m8 0h1m1 0h2m-64 1h2m9 0h1m6 0h1m14 0h1m22 0h1m13 0h1m1 0h1m-84 1h2m5 0h2m3 0h2m7 0h2m4 0h1m3 0h1m1 0h1m1 0h1m31 0h1m12 0h1m-72 1h1m4 0h1m10 0h1m20 0h1m2 0h1m4 0h1m-47 1h1m15 0h1m4 0h1m5 0h1m13 0h1m7 0h1m8 0h2m6 0h2m3 0h1m-73 1h1m17 0h1m8 0h1m13 0h1m29 0h2m-80 1h2m8 0h1m1 0h1m8 0h2m6 0h1m5 0h3m10 0h1m8 0h1m15 0h1m3 0h1m-78 1h1m5 0h1m1 0h1m26 0h1m5 0h1m15 0h1m1 0h2m2 0h1m15 0h1m-75 1h1m1 0h1m2 0h1m6 0h1m12 0h1m1 0h1m1 0h1m2 0h1m24 0h1m6 0h1m3 0h1m1 0h1m1 0h1m4 0h1m1 0h2m-73 1h1m4 0h1m7 0h1m2 0h3m1 0h1m1 0h1m6 0h2m3 0h1m4 0h1m4 0h1m1 0h1m3 0h1m4 0h1m7 0h1m4 0h1m-76 1h1m1 0h2m6 0h1m4 0h1m10 0h2m2 0h1m2 0h1m1 0h1m10 0h1m4 0h1m3 0h1m9 0h1m4 0h1m3 0h1m-76 1h2m3 0h1m11 0h2m3 0h1m8 0h1m11 0h2m3 0h1m10 0h1m10 0h1m1 0h2m2 0h2m-79 1h1m16 0h1m4 0h1m1 0h2m4 0h1m2 0h1m36 0h2m2 0h1m1 0h1m4 0h1m-64 1h1m1 0h1m4 0h1m2 0h3m2 0h1m3 0h2m14 0h1m13 0h2m5 0h1m6 0h1m-81 1h1m1 0h1m13 0h2m9 0h1m3 0h2m5 0h2m3 0h1m3 0h2m5 0h3m5 0h2m5 0h1m7 0h1m-83 1h1m5 0h3m5 0h1m1 0h1m1 0h1m3 0h1m14 0h3m2 0h1m1 0h2m6 0h2m12 0h3m1 0h1m3 0h1m5 0h2m-72 1h1m11 0h1m11 0h1m10 0h2m22 0h1m1 0h1m-67 1h2m11 0h1m6 0h1m5 0h1m4 0h1m3 0h3m4 0h1m4 0h1m3 0h1m2 0h1m6 0h1m4 0h1m1 0h1m-67 1h1m5 0h1m5 0h1m16 0h1m8 0h1m17 0h2m7 0h1m-65 1h1m5 0h1m9 0h1m5 0h1m1 0h1m1 0h1m1 0h1m8 0h2m3 0h1m3 0h1m4 0h4m3 0h1m5 0h2m3 0h2m-83 1h1m6 0h3m4 0h1m6 0h1m6 0h1m1 0h3m4 0h1m4 0h1m8 0h2m1 0h2m2 0h2m2 0h2m6 0h1m10 0h2m2 0h2m2 0h1m-89 1h1m5 0h1m7 0h2m4 0h1m10 0h2m13 0h1m3 0h1m3 0h2m4 0h2m4 0h1m14 0h1m2 0h1m-72 1h2m14 0h1m3 0h1m4 0h1m18 0h1m7 0h1m4 0h1m13 0h1m-83 1h1m2 0h1m2 0h1m1 0h1m19 0h3m10 0h1m6 0h1m1 0h1m1 0h1m3 0h1m1 0h1m21 0h1m7 0h1m-88 1h1m4 0h1m2 0h1m18 0h2m29 0h1m19 0h1m1 0h2m4 0h1m-87 1h1m6 0h1m20 0h1m6 0h1m6 0h2m3 0h1m2 0h1m2 0h2m1 0h1m2 0h1m22 0h1m-62 1h1m3 0h1m7 0h1m1 0h1m4 0h1m10 0h1m3 0h1m5 0h1m4 0h1m11 0h2m2 0h1m-80 1h1m20 0h2m2 0h1m5 0h3m5 0h1m1 0h1m3 0h1m3 0h1m7 0h1m18 0h1m-74 1h1m1 0h1m15 0h1m2 0h1m2 0h2m14 0h1m1 0h2m1 0h1m7 0h1m1 0h1m18 0h1m3 0h1m-78 1h1m14 0h1m5 0h1m1 0h1m5 0h1m5 0h1m11 0h4m3 0h1m14 0h1m-72 1h1m16 0h1m1 0h1m6 0h2m11 0h1m12 0h1m4 0h2m13 0h2m-47 1h1m19 0h1m1 0h1m1 0h1m1 0h1m6 0h1m11 0h2m-76 1h2m16 0h1m4 0h1m7 0h2m2 0h1m17 0h1m-31 1h1m4 0h1m4 0h1m1 0h1m9 0h1m4 0h1m2 0h1m4 0h3m-61 1h1m18 0h1m6 0h1m2 0h1m1 0h1m2 0h1m15 0h1m3 0h1m10 0h1m7 0h1m-81 1h1m1 0h1m4 0h1m16 0h1m1 0h1m2 0h1m2 0h1m7 0h1m3 0h1m1 0h1m9 0h1m3 0h1m11 0h1m12 0h1m-83 1h1m21 0h1m5 0h3m1 0h2m6 0h1m2 0h1m1 0h1m4 0h1m2 0h1m1 0h1m2 0h1m10 0h1m4 0h1m2 0h1m3 0h1m-81 1h1m1 0h1m13 0h1m4 0h1m7 0h1m3 0h1m2 0h1m6 0h3m1 0h1m1 0h3m10 0h1m4 0h1m10 0h1m1 0h1m-75 1h1m5 0h1m7 0h1m2 0h2m7 0h1m2 0h1m4 0h1m2 0h1m-45 1h1m2 0h1m4 0h2m4 0h1m6 0h1m2 0h2m11 0h1m6 0h1m4 0h1m12 0h1m7 0h1m-67 1h1m8 0h1m3 0h1m2 0h1m3 0h1m1 0h1m3 0h3m5 0h1m2 0h1m6 0h2m13 0h1m4 0h1m10 0h2m-79 1h1m18 0h2m1 0h1m11 0h2m12 0h2m3 0h1m5 0h1m10 0h1m-72 1h1m3 0h1m9 0h1m1 0h1m1 0h1m4 0h1m9 0h2m7 0h1m8 0h2m3 0h1m2 0h1m5 0h1m4 0h2m1 0h1m-79 1h1m2 0h1m3 0h2m3 0h1m4 0h1m7 0h1m2 0h2m7 0h1m12 0h1m4 0h2m2 0h1m11 0h1m1 0h1m3 0h1m-77 1h1m4 0h1m10 0h1m13 0h1m10 0h3m7 0h1m11 0h1m12 0h1m14 0h1"/>
<path stroke-opacity="0.76" d="M0 0m364 53h1m8 0h1m-2 1h1m-1 2h1m-1 1h1m0 2h1m12 0h1m-20 1h1m2 1h1m6 0h2m-6 1h1m8 0h3m3 0h1m-21 1h1m4 0h1m2 0h1m6 0h2m-24 1h1m6 0h1m10 0h1m4 0h1m-26 1h1m3 0h1m3 0h1m2 0h1m2 0h2m-16 1h1m4 0h1m2 0h1m2 0h1m1 0h1m13 0h1m1 0h1m-37 1h1m17 0h2m13 0h1m-25 1h2m2 0h1m3 0h1m4 0h1m10 0h1m-15 1h2m2 0h2m1 0h1m2 0h1m2 0h1m-23 1h3m3 0h1m6 0h1m2 0h1m2 0h1m-13 1h1m3 0h1m4 0h2m2 0h1m-16 1h1m3 0h3m1 0h2m9 0h1m1 0h1m-19 1h1m1 0h2m2 0h1m5 0h2m3 0h3m-31 1h1m4 0h1m5 0h1m2 0h2m3 0h4m1 0h1m1 0h1m-24 1h2m3 0h2m1 0h2m1 0h1m2 0h2m10 0h1m-29 1h4m2 0h1m1 0h1m1 0h1m2 0h1m2 0h1m3 0h1m-16 1h1m1 0h1m2 0h1m4 0h1m1 0h1m2 0h1m-18 1h3m8 0h8m1 0h2m35 0h1m-66 1h1m9 0h2m5 0h2m1 0h2m1 0h2m9 0h1m-27 1h2m1 0h1m1 0h1m5 0h1m1 0h1m1 0h1m2 0h2m2 0h1m5 0h1m1 0h1m-30 1h1m1 0h1m1 0h3m1 0h1m1 0h1m2 0h3m4 0h1m20 0h1m-44 1h1m10 0h1m3 0h1m3 0h2m2 0h1m25 0h1m-45 1h3m1 0h1m1 0h3m3 0h3m6 0h1m-30 1h4m1 0h1m2 0h1m3 0h1m1 0h1m6 0h1m2 0h3m-27 1h1m2 0h1m3 0h1m6 0h1m1 0h1m2 0h1m2 0h2m2 0h2m25 0h1m-51 1h1m7 0h1m7 0h1m1 0h1m6 0h1m9 0h1m-41 1h1m3 0h1m4 0h1m2 0h5m3 0h1m2 0h1m1 0h5m13 0h1m11 0h1m-51 1h1m4 0h2m5 0h1m3 0h1m5 0h1m4 0h1m14 0h1m5 0h1m-49 1h1m2 0h1m2 0h2m1 0h2m7 0h1m3 0h1m11 0h1m-44 1h1m4 0h1m2 0h1m1 0h1m2 0h1m2 0h1m2 0h2m7 0h1m2 0h1m18 0h1m3 0h1m6 0h1m-57 1h1m2 0h1m2 0h1m3 0h3m1 0h1m6 0h1m5 0h3m10 0h1m7 0h1m3 0h1m3 0h1m-56 1h1m1 0h2m1 0h2m1 0h5m5 0h1m10 0h1m2 0h1m15 0h1m-50 1h1m2 0h1m3 0h1m3 0h1m5 0h1m4 0h1m4 0h1m8 0h1m5 0h1m2 0h1m12 0h2m15 0h1m1 0h1m-79 1h2m2 0h2m2 0h4m1 0h2m3 0h3m1 0h1m4 0h2m8 0h1m11 0h1m-49 1h1m3 0h1m8 0h1m5 0h2m1 0h3m16 0h1m-40 1h1m1 0h2m8 0h3m3 0h2m1 0h1m1 0h1m16 0h1m-40 1h1m1 0h1m13 0h1m1 0h1m18 0h1m30 0h1m-69 1h2m4 0h1m4 0h2m1 0h1m2 0h1m3 0h1m2 0h1m35 0h1m3 0h1m1 0h1m-78 1h1m5 0h1m1 0h4m1 0h1m5 0h1m6 0h1m1 0h2m5 0h2m6 0h3m16 0h1m4 0h1m6 0h1m1 0h2m3 0h1m-79 1h1m3 0h1m4 0h2m2 0h3m3 0h1m6 0h1m1 0h1m1 0h4m1 0h2m4 0h1m7 0h1m23 0h2m2 0h1m-66 1h2m1 0h1m2 0h1m3 0h1m1 0h2m1 0h1m2 0h1m3 0h2m4 0h2m9 0h1m11 0h1m2 0h1m3 0h2m5 0h1m2 0h1m-76 1h1m9 0h1m2 0h2m2 0h1m3 0h1m6 0h1m1 0h3m2 0h1m16 0h1m5 0h1m8 0h1m3 0h1m-67 1h1m1 0h1m9 0h2m2 0h1m1 0h3m2 0h1m34 0h2m1 0h1m2 0h1m1 0h1m1 0h1m-82 1h1m5 0h1m6 0h1m2 0h1m2 0h1m6 0h2m7 0h1m1 0h1m1 0h2m31 0h2m1 0h2m1 0h1m7 0h2m-83 1h1m5 0h3m1 0h1m1 0h4m3 0h1m4 0h1m2 0h1m4 0h2m15 0h2m12 0h2m5 0h1m7 0h1m-75 1h1m2 0h1m2 0h1m2 0h1m1 0h2m6 0h1m8 0h2m2 0h1m3 0h1m8 0h1m7 0h2m6 0h1m4 0h5m1 0h1m-74 1h1m5 0h2m1 0h5m5 0h1m1 0h2m1 0h2m1 0h3m3 0h1m1 0h1m3 0h1m1 0h1m8 0h1m9 0h1m3 0h1m2 0h1m2 0h1m1 0h1m2 0h1m-71 1h3m1 0h1m1 0h1m1 0h2m2 0h1m8 0h1m1 0h1m1 0h1m6 0h1m3 0h2m16 0h1m3 0h1m1 0h1m1 0h1m3 0h3m2 0h1m-72 1h4m2 0h1m7 0h2m2 0h1m1 0h1m1 0h1m4 0h1m2 0h1m2 0h1m2 0h1m4 0h1m13 0h2m2 0h1m3 0h2m4 0h1m-73 1h2m1 0h1m7 0h1m8 0h1m1 0h1m3 0h1m2 0h1m1 0h1m3 0h1m1 0h1m5 0h1m2 0h2m7 0h1m8 0h1m5 0h1m1 0h1m-72 1h1m1 0h2m1 0h1m5 0h1m1 0h1m5 0h1m1 0h1m1 0h3m2 0h1m1 0h1m1 0h1m1 0h2m1 0h1m4 0h3m4 0h2m7 0h2m1 0h2m2 0h1m2 0h2m2 0h1m-75 1h1m2 0h4m4 0h1m9 0h1m2 0h1m3 0h1m1 0h1m2 0h1m11 0h2m2 0h2m21 0h1m-85 1h1m4 0h1m6 0h1m1 0h1m8 0h1m2 0h1m1 0h1m6 0h2m5 0h1m1 0h1m1 0h6m6 0h1m2 0h1m19 0h1m7 0h1m1 0h1m-87 1h1m7 0h2m4 0h1m6 0h1m11 0h1m1 0h1m1 0h2m7 0h1m1 0h2m3 0h1m10 0h1m1 0h1m10 0h1m4 0h1m-61 1h1m8 0h1m4 0h1m1 0h1m1 0h3m4 0h2m6 0h1m1 0h1m2 0h1m5 0h1m1 0h1m5 0h1m3 0h2m-71 1h2m11 0h1m7 0h1m4 0h1m1 0h1m3 0h1m12 0h1m9 0h1m2 0h1m7 0h1m5 0h2m3 0h1m-69 1h1m5 0h3m8 0h1m2 0h1m5 0h1m3 0h1m10 0h1m1 0h1m2 0h1m1 0h2m5 0h1m1 0h1m3 0h1m3 0h1m3 0h1m-89 1h1m8 0h1m18 0h1m1 0h1m1 0h1m7 0h1m1 0h1m2 0h1m16 0h1m1 0h1m2 0h2m-68 1h2m5 0h2m14 0h1m7 0h2m4 0h3m1 0h1m3 0h1m4 0h1m1 0h3m5 0h1m3 0h1m2 0h1m4 0h1m4 0h1m-73 1h3m14 0h2m7 0h1m8 0h1m2 0h1m2 0h1m4 0h1m1 0h1m1 0h1m3 0h1m21 0h1m1 0h2m-83 1h2m15 0h1m2 0h1m2 0h2m1 0h1m3 0h1m3 0h2m2 0h1m2 0h1m13 0h2m5 0h1m6 0h1m3 0h1m-74 1h2m1 0h1m21 0h1m1 0h1m2 0h1m2 0h1m1 0h1m3 0h1m1 0h1m2 0h1m2 0h1m2 0h1m6 0h1m2 0h3m1 0h1m8 0h1m3 0h1m-73 1h1m15 0h1m6 0h1m4 0h1m1 0h2m6 0h1m1 0h1m1 0h1m1 0h1m1 0h1m2 0h1m1 0h1m5 0h2m8 0h1m4 0h1m1 0h1m-60 1h5m4 0h1m2 0h1m1 0h2m1 0h5m6 0h2m12 0h1m6 0h4m-57 1h1m1 0h1m1 0h1m5 0h1m3 0h2m2 0h1m4 0h1m1 0h4m1 0h5m1 0h2m2 0h2m1 0h1m1 0h2m8 0h2m1 0h1m-74 1h1m2 0h1m11 0h5m7 0h1m1 0h1m1 0h1m2 0h1m4 0h2m1 0h1m3 0h1m4 0h1m2 0h1m2 0h1m14 0h1m1 0h1m1 0h1m-74 1h1m18 0h1m1 0h1m2 0h1m2 0h1m1 0h2m1 0h1m1 0h2m3 0h1m3 0h4m1 0h1m3 0h4m5 0h1m9 0h2m2 0h1m-87 1h1m3 0h1m2 0h1m1 0h1m14 0h1m1 0h1m1 0h1m5 0h2m1 0h3m2 0h1m1 0h1m3 0h1m9 0h1m1 0h1m3 0h1m1 0h1m1 0h5m1 0h5m1 0h3m-80 1h1m2 0h2m1 0h2m9 0h1m1 0h2m6 0h1m4 0h1m2 0h3m2 0h1m6 0h2m1 0h1m9 0h9m3 0h2m3 0h1m1 0h2m-73 1h1m17 0h2m6 0h1m1 0h1m7 0h1m3 0h1m16 0h2m3 0h1m1 0h2m1 0h1m1 0h3m-79 1h1m1 0h1m5 0h1m9 0h1m7 0h1m3 0h3m4 0h1m1 0h2m5 0h1m1 0h1m9 0h1m1 0h1m1 0h2m4 0h1m1 0h3m5 0h1m-72 1h1m2 0h1m7 0h1m3 0h1m3 0h1m1 0h1m1 0h5m4 0h1m1 0h1m3 0h2m4 0h2m1 0h2m1 0h3m5 0h1m1 0h2m2 0h1m1 0h1m2 0h1m-75 1h1m2 0h1m1 0h2m1 0h1m5 0h1m4 0h2m2 0h1m7 0h1m3 0h1m2 0h1m10 0h2m3 0h1m8 0h1m4 0h1m2 0h2m1 0h1m-76 1h1m1 0h3m1 0h1m2 0h1m2 0h1m3 0h1m23 0h1m2 0h2m6 0h1m3 0h2m2 0h1m6 0h1m2 0h1m2 0h1m-72 1h2m3 0h2m1 0h2m1 0h1m2 0h1m5 0h1m4 0h1m9 0h1m4 0h1m5 0h1m10 0h1m15 0h1m-76 1h3m2 0h2m2 0h3m3 0h1m1 0h1m1 0h2m6 0h3m2 0h1m1 0h1m1 0h3m3 0h1m1 0h1m3 0h3m2 0h1m5 0h1m2 0h1m3 0h1m3 0h2m-76 1h1m2 0h1m8 0h1m5 0h1m1 0h1m4 0h1m4 0h1m1 0h1m4 0h1m8 0h1m2 0h2m4 0h2m2 0h2m2 0h1m2 0h1m3 0h2m1 0h1m1 0h1"/>
<path stroke-opacity="1" d="M0 0m369 57h1m5 3h1m-3 1h1m6 4h1m-12 1h1m3 0h1m-4 2h1m6 0h1m3 0h1m1 0h2m-8 1h1m7 0h1m-17 1h2m6 0h1m-8 1h1m6 0h1m2 0h2m-13 1h2m10 0h2m2 0h1m-19 1h1m3 0h1m2 0h2m1 0h1m-15 1h1m7 0h2m2 0h1m1 0h1m-17 1h1m12 0h2m4 0h2m-15 1h1m3 0h1m2 0h1m6 0h3m-24 1h2m7 0h1m2 0h1m3 0h1m1 0h1m3 0h2m-18 1h2m19 0h1m-25 1h1m3 0h1m3 0h1m5 0h1m2 0h2m1 0h2m-28 1h1m11 0h5m1 0h1m1 0h1m1 0h2m2 0h2m1 0h1m-16 1h1m1 0h1m1 0h1m4 0h1m1 0h2m1 0h1m-26 1h2m5 0h2m1 0h1m3 0h2m3 0h2m2 0h2m-22 1h2m5 0h1m5 0h3m3 0h1m4 0h1m-20 1h3m5 0h3m2 0h2m3 0h1m1 0h1m2 0h1m-24 1h2m6 0h2m9 0h1m-24 1h6m5 0h3m4 0h2m1 0h1m8 0h1m-32 1h3m1 0h1m7 0h2m24 0h1m3 0h1m-43 1h4m2 0h5m1 0h1m3 0h1m1 0h3m-21 1h2m8 0h3m5 0h3m3 0h1m-24 1h2m1 0h1m3 0h1m2 0h4m1 0h2m1 0h1m8 0h1m18 0h1m-46 1h3m3 0h1m1 0h6m1 0h3m-20 1h1m2 0h1m5 0h3m1 0h1m3 0h2m5 0h1m-26 1h3m1 0h3m1 0h5m1 0h3m7 0h3m-17 1h2m4 0h1m1 0h1m-15 1h1m8 0h2m7 0h1m3 0h1m-33 1h1m14 0h1m3 0h2m3 0h1m1 0h1m1 0h3m3 0h1m-29 1h1m3 0h9m3 0h1m1 0h1m3 0h3m-23 1h1m1 0h1m1 0h4m2 0h1m4 0h1m44 0h1m1 0h1m2 0h1m-64 1h3m1 0h3m2 0h1m1 0h1m2 0h1m2 0h2m45 0h1m-66 1h1m3 0h3m1 0h6m1 0h1m29 0h1m9 0h1m15 0h1m-74 1h2m2 0h1m2 0h1m1 0h3m1 0h1m2 0h1m19 0h1m15 0h1m-52 1h1m2 0h1m5 0h2m1 0h2m41 0h1m1 0h1m2 0h1m-61 1h1m1 0h2m2 0h3m1 0h1m2 0h2m-15 1h2m1 0h2m1 0h3m5 0h1m3 0h1m1 0h1m1 0h1m37 0h1m-72 1h1m10 0h1m1 0h1m4 0h2m2 0h1m1 0h1m46 0h1m3 0h2m-69 1h1m4 0h2m1 0h1m2 0h1m2 0h1m1 0h1m2 0h1m1 0h2m8 0h1m25 0h2m1 0h2m13 0h1m-74 1h1m8 0h1m2 0h2m17 0h1m14 0h1m11 0h1m1 0h2m2 0h1m3 0h1m-59 1h1m2 0h2m7 0h1m38 0h1m2 0h2m-62 1h2m2 0h3m1 0h2m5 0h1m1 0h1m7 0h1m1 0h2m4 0h1m2 0h1m13 0h1m2 0h1m3 0h2m2 0h4m-70 1h1m1 0h6m2 0h5m1 0h2m1 0h1m2 0h2m10 0h1m1 0h1m15 0h1m1 0h2m2 0h3m3 0h4m1 0h1m-70 1h1m4 0h4m2 0h1m1 0h5m3 0h1m6 0h1m1 0h1m15 0h1m9 0h1m2 0h1m3 0h1m1 0h2m2 0h2m-66 1h2m2 0h5m1 0h3m10 0h1m2 0h1m9 0h1m15 0h5m2 0h3m-66 1h6m2 0h2m1 0h1m2 0h1m3 0h1m2 0h1m1 0h3m12 0h1m2 0h1m4 0h1m6 0h2m1 0h9m-72 1h1m5 0h1m4 0h2m1 0h3m1 0h5m7 0h1m4 0h1m1 0h2m1 0h2m4 0h1m4 0h1m3 0h1m5 0h1m1 0h10m-74 1h1m5 0h1m2 0h10m1 0h3m6 0h1m1 0h1m2 0h1m1 0h1m10 0h3m10 0h3m3 0h5m1 0h3m4 0h1m-72 1h11m1 0h3m8 0h1m1 0h1m1 0h2m2 0h1m9 0h1m3 0h1m1 0h1m1 0h1m1 0h2m1 0h2m1 0h7m1 0h3m-80 1h1m7 0h1m1 0h8m2 0h5m5 0h3m7 0h3m3 0h1m3 0h1m1 0h2m7 0h1m2 0h1m1 0h1m2 0h5m1 0h1m1 0h2m4 0h1m-74 1h18m3 0h1m1 0h1m3 0h2m2 0h1m4 0h1m2 0h2m1 0h2m7 0h1m1 0h1m1 0h2m2 0h12m-71 1h12m1 0h1m1 0h1m4 0h1m6 0h1m6 0h2m1 0h3m7 0h2m4 0h2m1 0h1m2 0h4m1 0h4m-69 1h14m16 0h2m7 0h1m8 0h1m5 0h16m-73 1h1m3 0h10m1 0h2m1 0h1m9 0h3m2 0h2m2 0h1m2 0h1m1 0h1m2 0h1m3 0h3m3 0h1m2 0h1m1 0h6m1 0h3m1 0h4m-72 1h14m3 0h1m7 0h2m5 0h1m4 0h1m1 0h1m2 0h1m2 0h1m4 0h1m1 0h1m6 0h8m2 0h2m1 0h1m-73 1h14m3 0h1m1 0h3m3 0h2m1 0h1m2 0h2m2 0h1m2 0h1m1 0h1m3 0h1m6 0h1m7 0h7m1 0h2m3 0h1m-79 1h1m4 0h15m5 0h4m4 0h1m2 0h1m8 0h3m5 0h1m5 0h2m3 0h5m4 0h2m2 0h2m-76 1h13m1 0h1m3 0h1m1 0h1m1 0h1m1 0h3m10 0h1m17 0h1m4 0h8m2 0h1m-72 1h2m1 0h11m7 0h1m3 0h1m3 0h1m12 0h1m3 0h2m6 0h2m4 0h11m1 0h1m-73 1h2m1 0h13m22 0h2m18 0h5m2 0h7m4 0h1m-76 1h14m8 0h1m7 0h1m2 0h1m15 0h1m2 0h2m1 0h1m1 0h1m11 0h1m3 0h1m-76 1h1m2 0h9m1 0h1m2 0h2m26 0h1m5 0h1m13 0h1m6 0h1m-74 1h1m3 0h1m1 0h9m3 0h2m7 0h1m1 0h2m3 0h1m2 0h1m14 0h1m7 0h1m3 0h2m7 0h1m-70 1h1m2 0h4m1 0h4m4 0h1m6 0h1m13 0h1m10 0h1m4 0h1m1 0h1m2 0h4m1 0h1m4 0h3m-71 1h1m4 0h3m1 0h3m2 0h1m8 0h1m10 0h1m7 0h1m14 0h2m1 0h1m7 0h1m-72 1h1m2 0h1m2 0h1m1 0h2m2 0h1m19 0h2m5 0h1m4 0h1m7 0h1m1 0h1m6 0h1m1 0h1m-61 1h1m1 0h2m1 0h2m3 0h1m26 0h1m21 0h1m14 0h1m-77 1h1m1 0h1m2 0h1m2 0h1m13 0h1m11 0h1m34 0h1m2 0h1m-70 1h1m4 0h1m1 0h1m1 0h1m1 0h1m7 0h1m8 0h1m5 0h1m21 0h3m-66 1h2m3 0h3m1 0h4m4 0h1m1 0h2m4 0h1m3 0h1m2 0h1m1 0h4m11 0h2m12 0h3m4 0h1"/>
</g>
<rect x="346.9" y="31.6" width="122.1" height="106.4" fill="none" stroke="#000" stroke-width="1.2"/>
<path d="M385.6 31.6V138M346.9 103.1H469" fill="none" stroke="#000" stroke-width="1.05"/>
<path d="M346.9 138v3.3M346.9 138h-3.3M356.09 138v2.6M346.9 129.99h-2.6M361.46 138v2.6M346.9 125.31h-2.6M365.28 138v2.6M346.9 121.99h-2.6M368.24 138v2.6M346.9 119.41h-2.6M370.65 138v2.6M346.9 117.3h-2.6M372.7 138v2.6M346.9 115.52h-2.6M374.47 138v2.6M346.9 113.98h-2.6M376.03 138v2.6M346.9 112.62h-2.6M377.42 138v3.3M346.9 111.4h-3.3M386.61 138v2.6M346.9 103.39h-2.6M391.99 138v2.6M346.9 98.71h-2.6M395.8 138v2.6M346.9 95.39h-2.6M398.76 138v2.6M346.9 92.81h-2.6M401.18 138v2.6M346.9 90.7h-2.6M403.22 138v2.6M346.9 88.92h-2.6M404.99 138v2.6M346.9 87.38h-2.6M406.55 138v2.6M346.9 86.02h-2.6M407.95 138v3.3M346.9 84.8h-3.3M417.14 138v2.6M346.9 76.79h-2.6M422.51 138v2.6M346.9 72.11h-2.6M426.33 138v2.6M346.9 68.79h-2.6M429.29 138v2.6M346.9 66.21h-2.6M431.7 138v2.6M346.9 64.1h-2.6M433.75 138v2.6M346.9 62.32h-2.6M435.52 138v2.6M346.9 60.78h-2.6M437.08 138v2.6M346.9 59.42h-2.6M438.48 138v3.3M346.9 58.2h-3.3M447.66 138v2.6M346.9 50.19h-2.6M453.04 138v2.6M346.9 45.51h-2.6M456.85 138v2.6M346.9 42.19h-2.6M459.81 138v2.6M346.9 39.61h-2.6M462.23 138v2.6M346.9 37.5h-2.6M464.27 138v2.6M346.9 35.72h-2.6M466.04 138v2.6M346.9 34.18h-2.6M467.6 138v2.6M346.9 32.82h-2.6M469 138v2.6M346.9 31.6h-2.6" fill="none" stroke="#000" stroke-width="1.3"/>
<text transform="translate(341.6 148.5) scale(.8 1)" class="tx">10<tspan class="ex" dx=".6" dy="-3.8">0</tspan></text>
<text transform="translate(339.8 143.6) rotate(-90) scale(.85 1)" class="ty">10<tspan class="ey" dy="-3.3">0</tspan></text>
<text transform="translate(372.12 148.5) scale(.8 1)" class="tx">10<tspan class="ex" dx=".6" dy="-3.8">1</tspan></text>
<text transform="translate(339.8 117) rotate(-90) scale(.85 1)" class="ty">10<tspan class="ey" dy="-3.3">1</tspan></text>
<text transform="translate(402.65 148.5) scale(.8 1)" class="tx">10<tspan class="ex" dx=".6" dy="-3.8">2</tspan></text>
<text transform="translate(339.8 90.4) rotate(-90) scale(.85 1)" class="ty">10<tspan class="ey" dy="-3.3">2</tspan></text>
<text transform="translate(433.18 148.5) scale(.8 1)" class="tx">10<tspan class="ex" dx=".6" dy="-3.8">3</tspan></text>
<text transform="translate(339.8 63.8) rotate(-90) scale(.85 1)" class="ty">10<tspan class="ey" dy="-3.3">3</tspan></text>
<text transform="translate(463.7 148.5) scale(.8 1)" class="tx">10<tspan class="ex" dx=".6" dy="-3.8">4</tspan></text>
<text transform="translate(339.8 37.2) rotate(-90) scale(.85 1)" class="ty">10<tspan class="ey" dy="-3.3">4</tspan></text>
</g>
<g>
<g transform="translate(0 .5)" class="dots">
<path stroke-opacity="0.3" d="M0 0m69 170h1m42 12h1m-37 1h1m36 0h1m-37 1h1m6 1h1m-30 1h2m27 0h1m-30 1h1m7 0h1m25 0h1m-4 1h1m16 0h1m-2 1h1m-31 2h1m-22 1h1m11 0h1m7 0h3m-26 1h1m2 0h2m6 0h2m2 0h1m8 0h2m7 0h2m4 0h1m-47 1h1m6 0h1m13 0h1m10 0h1m1 0h1m6 0h1m4 0h2m-37 1h1m4 0h2m0 1h1m6 0h2m2 0h1m2 0h1m-13 1h1m7 0h1m6 0h1m16 0h1m-32 1h1m4 0h2m16 0h1m2 0h1m-39 1h2m5 0h1m9 0h1m2 0h1m12 0h1m1 0h1m1 0h1m-38 1h1m5 0h1m5 0h1m8 0h1m3 0h1m8 0h1m15 0h2m-54 1h1m23 0h1m1 0h2m20 0h1m4 0h1m-51 1h1m9 0h2m2 0h2m13 0h1m1 0h1m-9 1h1m5 0h1m4 0h1m5 0h1m3 0h1m6 0h1m-52 1h1m8 0h1m5 0h2m2 0h1m6 0h1m6 0h1m16 0h1m-41 1h3m1 0h2m6 0h2m9 0h3m1 0h1m1 0h2m-42 1h3m7 0h1m11 0h1m2 0h1m14 0h1m-40 1h2m6 0h1m5 0h1m7 0h1m1 0h1m5 0h1m3 0h4m1 0h1m3 0h1m22 0h1m-55 1h1m2 0h1m2 0h2m3 0h1m2 0h2m1 0h1m10 0h1m1 0h1m2 0h1m-46 1h1m7 0h1m7 0h1m3 0h1m1 0h1m44 0h2m-68 1h1m11 0h1m7 0h1m9 0h1m7 0h1m9 0h1m3 0h2m12 0h2m-75 1h1m8 0h1m7 0h1m7 0h3m4 0h3m4 0h1m5 0h2m12 0h2m2 0h1m-59 1h1m4 0h1m2 0h1m1 0h1m4 0h1m8 0h1m4 0h1m6 0h1m10 0h3m1 0h1m5 0h1m-67 1h1m7 0h3m7 0h1m1 0h1m2 0h1m1 0h4m4 0h1m2 0h2m5 0h2m1 0h1m1 0h2m1 0h1m6 0h1m6 0h1m-57 1h2m11 0h1m2 0h1m2 0h1m17 0h2m4 0h1m1 0h2m2 0h3m5 0h1m2 0h1m-60 1h1m9 0h1m21 0h1m9 0h1m3 0h1m18 0h2m9 0h2m-71 1h1m5 0h1m1 0h1m1 0h1m1 0h2m4 0h1m3 0h1m3 0h1m7 0h1m6 0h2m2 0h2m1 0h1m9 0h2m10 0h1m-78 1h1m9 0h1m1 0h1m2 0h1m1 0h2m8 0h1m7 0h1m3 0h1m1 0h4m7 0h1m1 0h1m9 0h1m5 0h1m-70 1h2m6 0h1m11 0h1m9 0h1m3 0h1m1 0h1m1 0h1m1 0h1m2 0h1m7 0h1m13 0h1m-76 1h1m11 0h1m1 0h1m4 0h1m3 0h1m15 0h1m4 0h1m6 0h1m4 0h1m1 0h1m6 0h1m2 0h1m2 0h2m-66 1h1m5 0h1m3 0h1m2 0h1m4 0h1m1 0h3m1 0h1m8 0h3m18 0h1m2 0h2m6 0h2m-60 1h1m7 0h1m1 0h1m7 0h1m8 0h1m5 0h2m15 0h1m5 0h1m1 0h1m12 0h2m-82 1h2m12 0h1m4 0h1m3 0h1m6 0h1m2 0h1m2 0h1m4 0h1m3 0h4m9 0h1m6 0h2m4 0h1m8 0h2m-83 1h1m14 0h2m1 0h2m1 0h1m1 0h1m6 0h2m2 0h1m2 0h1m3 0h1m4 0h1m2 0h2m1 0h1m8 0h1m8 0h1m1 0h1m-69 1h1m13 0h1m7 0h2m1 0h1m3 0h1m3 0h2m14 0h1m6 0h1m1 0h2m6 0h1m2 0h1m1 0h1m3 0h1m-76 1h2m9 0h1m2 0h1m5 0h1m2 0h1m3 0h1m1 0h1m2 0h1m18 0h1m1 0h1m3 0h1m6 0h2m-54 1h1m10 0h1m3 0h1m5 0h1m6 0h1m1 0h1m6 0h2m1 0h2m10 0h2m1 0h1m-55 1h1m1 0h1m7 0h1m13 0h1m5 0h1m5 0h1m1 0h1m15 0h1m2 0h1m3 0h1m2 0h1m2 0h2m7 0h1m-92 1h1m9 0h1m14 0h1m5 0h1m17 0h2m2 0h1m4 0h1m1 0h2m8 0h1m3 0h1m17 0h1m-83 1h1m10 0h1m1 0h1m14 0h1m1 0h1m3 0h1m1 0h1m9 0h2m11 0h2m1 0h3m6 0h1m2 0h1m-82 1h1m15 0h1m7 0h1m2 0h1m8 0h1m19 0h1m5 0h1m12 0h1m1 0h1m-79 1h1m1 0h2m6 0h1m1 0h2m9 0h1m1 0h1m4 0h1m25 0h2m2 0h1m7 0h1m3 0h1m1 0h1m6 0h1m7 0h1m-78 1h1m10 0h2m15 0h1m3 0h1m2 0h1m12 0h1m1 0h2m6 0h1m5 0h1m5 0h1m-71 1h1m1 0h1m8 0h1m2 0h2m42 0h1m16 0h1m-82 1h1m8 0h4m11 0h1m2 0h1m16 0h1m2 0h1m9 0h1m5 0h1m11 0h1m1 0h1m4 0h1m-82 1h1m18 0h1m43 0h1m6 0h1m4 0h1m-82 1h1m4 0h1m15 0h1m6 0h1m30 0h1m9 0h1m2 0h1m2 0h1m2 0h1m3 0h1m-84 1h1m4 0h1m7 0h1m3 0h1m9 0h1m39 0h1m4 0h2m4 0h1m5 0h1m-78 1h1m4 0h1m44 0h2m7 0h1m8 0h1m3 0h1m-76 1h1m16 0h1m11 0h1m28 0h1m9 0h1m4 0h1m-75 1h1m15 0h2m14 0h1m37 0h2m10 0h1m-71 1h2m3 0h1m3 0h1m48 0h1m3 0h1m1 0h1m1 0h1m3 0h1m-73 1h1m35 0h1m13 0h1m7 0h2m5 0h1m3 0h1m1 0h1m-93 1h1m7 0h1m16 0h1m53 0h1m-72 1h1m14 0h1m11 0h1m46 0h3m5 0h1m-83 1h2m10 0h2m58 0h1m2 0h1m-71 1h1m5 0h1m4 0h2m49 0h1m7 0h1m-73 1h1m3 0h1m3 0h1m4 0h1m8 0h1m39 0h1m3 0h1m5 0h1m-67 1h1m3 0h1m1 0h2m59 0h1m-61 1h1m56 0h1m6 0h1m-79 1h1m3 0h1m12 0h1m46 0h1m9 0h1m3 0h1m-85 1h2m2 0h1m26 0h1m21 0h1m14 0h1m4 0h1m-72 1h1m6 0h3m13 0h1m21 0h1m6 0h1m17 0h1m2 0h1m4 0h1m-79 1h1m1 0h1m2 0h1m18 0h1m3 0h1m5 0h1m18 0h1m14 0h1m11 0h1m-82 1h1m40 0h1m20 0h1m5 0h1m6 0h2m2 0h1m20 0h1m-101 1h1m21 0h1m27 0h1m4 0h1m6 0h1m4 0h2m6 0h2m2 0h1m2 0h1m-88 1h1m5 0h1m22 0h1m4 0h1m1 0h1m1 0h1m1 0h1m15 0h1m2 0h2m13 0h1m11 0h1m1 0h1m-90 1h1m33 0h1m3 0h1m30 0h1m1 0h1m2 0h1m2 0h1m-78 1h1m1 0h1m25 0h1m10 0h2m8 0h1m4 0h1m7 0h1m5 0h1m3 0h1m1 0h1m1 0h2m-58 1h1m15 0h1m5 0h1m6 0h1m10 0h1m1 0h1m7 0h1m-71 1h1m38 0h2m1 0h1m11 0h1m4 0h1m32 0h1m-93 1h1m14 0h1m2 0h1m7 0h2m3 0h1m5 0h1m4 0h1m5 0h1m5 0h2m37 0h1m-82 1h1m17 0h1m1 0h1m1 0h1m8 0h1m1 0h1m12 0h1m2 0h1m5 0h1m-55 1h1m7 0h1m4 0h1m1 0h1m10 0h1m2 0h1m4 0h1m6 0h1m1 0h1m1 0h1m1 0h1m1 0h1m3 0h2m1 0h1m-70 1h1m8 0h1m2 0h1m5 0h1m5 0h1m4 0h1m7 0h1m1 0h1m4 0h1m3 0h1m2 0h1m3 0h1m5 0h1m-43 1h1m2 0h1m14 0h1m9 0h1m4 0h1m6 0h1m-57 1h1m10 0h1m3 0h1m8 0h2m10 0h3m1 0h1m1 0h2m3 0h2m6 0h1m10 0h1m-56 1h1m8 0h1m3 0h2m13 0h1m4 0h1m1 0h1m2 0h1m8 0h1m8 0h1"/>
<path stroke-opacity="0.52" d="M0 0m70 169h1m14 16h1m-1 1h1m-30 1h1m46 2h1m-36 1h2m-2 1h1m5 0h1m-23 1h1m7 0h1m-14 1h1m13 0h1m2 0h1m-8 1h2m5 0h1m1 1h2m6 0h1m12 0h2m-10 3h1m4 0h1m1 0h1m-26 1h1m6 0h1m17 0h1m-36 1h1m16 0h1m3 0h2m2 0h1m-27 1h1m9 0h1m7 0h1m1 0h1m5 0h1m23 0h1m-59 1h1m34 0h1m-14 1h2m1 0h1m2 0h1m2 0h1m8 0h1m7 0h1m-45 1h2m5 0h2m13 0h1m9 0h1m2 0h1m8 0h1m-49 1h1m6 0h2m13 0h1m2 0h1m7 0h2m12 0h1m-41 1h1m12 0h3m3 0h1m7 0h1m11 0h1m-40 1h1m12 0h2m4 0h1m-9 1h2m5 0h1m5 0h1m1 0h1m11 0h2m5 0h1m2 0h1m-38 1h1m1 0h3m9 0h2m3 0h2m2 0h2m3 0h1m-31 1h1m1 0h1m5 0h1m1 0h1m11 0h2m9 0h2m6 0h1m-51 1h1m1 0h2m7 0h1m7 0h1m13 0h2m2 0h1m1 0h1m7 0h1m-55 1h1m2 0h1m21 0h1m2 0h2m1 0h1m1 0h1m9 0h1m3 0h1m-38 1h1m7 0h1m12 0h1m1 0h1m4 0h1m1 0h2m12 0h2m-56 1h1m25 0h1m3 0h2m5 0h1m2 0h1m7 0h1m1 0h1m1 0h1m2 0h1m-48 1h1m6 0h1m2 0h1m3 0h2m1 0h1m1 0h3m5 0h1m9 0h1m2 0h2m6 0h1m-42 1h1m1 0h1m7 0h1m14 0h1m2 0h1m7 0h1m33 0h1m-73 1h2m1 0h1m1 0h1m6 0h1m3 0h2m3 0h1m6 0h2m16 0h2m1 0h1m11 0h1m-62 1h1m1 0h1m6 0h2m1 0h2m5 0h1m2 0h1m2 0h1m3 0h2m1 0h1m3 0h1m6 0h1m7 0h2m1 0h1m-57 1h1m3 0h1m13 0h2m2 0h1m1 0h1m6 0h1m7 0h1m1 0h1m1 0h1m5 0h1m-35 1h1m5 0h1m2 0h1m2 0h2m3 0h1m1 0h2m2 0h3m2 0h1m2 0h1m1 0h1m3 0h1m-55 1h2m6 0h3m7 0h1m2 0h1m5 0h2m2 0h1m1 0h2m1 0h1m7 0h2m1 0h3m1 0h1m5 0h1m13 0h2m-78 1h1m26 0h1m7 0h1m2 0h2m1 0h1m8 0h2m4 0h2m13 0h1m15 0h1m-83 1h1m19 0h1m6 0h1m2 0h1m2 0h1m15 0h1m10 0h1m5 0h1m15 0h1m-69 1h1m1 0h4m3 0h1m7 0h1m3 0h1m4 0h2m1 0h1m1 0h1m4 0h2m2 0h1m5 0h1m5 0h1m4 0h1m-57 1h3m24 0h1m8 0h1m2 0h2m1 0h1m11 0h2m5 0h2m-69 1h2m18 0h1m3 0h2m8 0h2m2 0h1m9 0h1m16 0h1m2 0h1m4 0h1m5 0h1m-81 1h2m3 0h1m4 0h1m4 0h4m1 0h1m1 0h1m1 0h1m5 0h1m1 0h1m10 0h1m5 0h1m1 0h1m1 0h1m-48 1h1m5 0h1m2 0h1m6 0h1m1 0h1m2 0h1m12 0h2m1 0h2m1 0h1m4 0h1m3 0h1m1 0h1m3 0h1m-48 1h2m3 0h2m15 0h1m5 0h2m3 0h1m3 0h1m3 0h1m12 0h1m-76 1h2m8 0h1m11 0h1m10 0h2m1 0h1m17 0h1m4 0h1m8 0h1m1 0h4m-75 1h1m16 0h1m3 0h1m4 0h1m3 0h1m1 0h1m4 0h2m3 0h1m4 0h1m2 0h1m2 0h2m6 0h1m2 0h1m-56 1h1m11 0h1m2 0h1m1 0h1m4 0h1m8 0h1m3 0h1m5 0h1m3 0h1m12 0h2m25 0h1m-104 1h1m18 0h1m9 0h1m18 0h1m9 0h1m9 0h1m4 0h1m2 0h1m4 0h1m21 0h1m-72 1h1m13 0h1m5 0h1m14 0h1m4 0h1m2 0h1m11 0h2m-80 1h2m13 0h1m12 0h1m1 0h1m14 0h1m4 0h3m4 0h1m8 0h1m4 0h2m-66 1h1m8 0h1m6 0h1m15 0h2m3 0h1m25 0h1m9 0h1m-79 1h1m4 0h1m3 0h1m3 0h1m1 0h1m5 0h2m2 0h1m1 0h1m29 0h1m3 0h1m1 0h1m2 0h1m4 0h2m-68 1h1m8 0h2m3 0h1m3 0h2m21 0h1m6 0h1m11 0h2m4 0h1m3 0h1m-76 1h1m14 0h1m16 0h1m18 0h1m2 0h1m3 0h1m4 0h1m1 0h1m2 0h1m6 0h1m7 0h1m-69 1h1m2 0h1m2 0h1m45 0h2m14 0h1m-74 1h1m4 0h1m36 0h1m2 0h1m8 0h1m4 0h1m3 0h1m-66 1h1m4 0h2m4 0h1m39 0h1m12 0h1m1 0h1m3 0h1m-66 1h1m5 0h1m3 0h1m22 0h1m22 0h1m4 0h2m-62 1h1m1 0h1m14 0h1m1 0h2m23 0h1m5 0h1m1 0h1m2 0h1m7 0h1m-82 1h1m16 0h3m52 0h1m1 0h1m6 0h1m17 0h2m-97 1h1m17 0h1m6 0h1m1 0h1m40 0h1m1 0h1m-72 1h1m10 0h1m1 0h1m1 0h1m6 0h1m14 0h1m20 0h4m2 0h1m3 0h1m-70 1h1m2 0h1m1 0h1m3 0h1m8 0h1m2 0h1m2 0h1m1 0h1m1 0h1m8 0h1m21 0h1m-60 1h2m1 0h1m65 0h1m3 0h1m-75 1h2m7 0h2m62 0h2m-73 1h1m1 0h4m17 0h1m2 0h1m34 0h1m6 0h2m3 0h1m-80 1h2m2 0h1m1 0h2m4 0h1m7 0h1m6 0h1m21 0h1m8 0h2m11 0h1m7 0h1m1 0h2m-78 1h1m14 0h1m8 0h1m12 0h1m4 0h1m6 0h1m5 0h1m8 0h1m1 0h1m-69 1h1m2 0h1m28 0h1m1 0h2m19 0h1m12 0h1m2 0h1m6 0h1m-73 1h1m16 0h1m22 0h1m2 0h1m5 0h2m11 0h2m2 0h1m5 0h1m19 0h2m-106 1h1m1 0h2m7 0h1m11 0h2m5 0h1m3 0h1m17 0h1m3 0h1m6 0h1m2 0h1m7 0h1m-71 1h1m18 0h2m1 0h1m22 0h2m10 0h1m6 0h1m1 0h1m2 0h2m-73 1h1m2 0h1m12 0h1m12 0h1m2 0h1m1 0h1m2 0h1m1 0h2m6 0h1m9 0h1m7 0h1m1 0h1m-70 1h1m1 0h1m5 0h1m13 0h1m14 0h2m2 0h1m3 0h1m2 0h1m3 0h3m8 0h1m2 0h2m1 0h1m11 0h1m-80 1h1m43 0h1m2 0h2m8 0h1m1 0h1m1 0h1m1 0h1m-49 1h1m1 0h1m6 0h1m6 0h1m7 0h1m2 0h1m9 0h2m2 0h2m4 0h1m-67 1h1m1 0h1m7 0h1m7 0h1m6 0h2m1 0h2m3 0h1m1 0h1m6 0h1m1 0h1m1 0h2m9 0h1m5 0h1m2 0h1m-67 1h1m1 0h1m16 0h1m7 0h1m10 0h1m5 0h1m25 0h1m-66 1h1m4 0h1m8 0h1m5 0h1m17 0h1m10 0h1m2 0h2m11 0h1m-68 1h1m6 0h1m3 0h1m2 0h1m38 0h2m-54 1h1m1 0h2m4 0h1m2 0h1m8 0h1m11 0h1m11 0h1m5 0h2m-53 1h2m1 0h1m33 0h2m1 0h1m1 0h2m1 0h1m10 0h1"/>
<path stroke-opacity="0.76" d="M0 0m69 169h1m42 14h1m-37 1h1m12 2h1m-28 1h1m24 1h1m-44 2h1m18 1h1m5 0h1m5 0h1m12 2h1m-42 1h1m11 0h1m3 0h1m17 0h1m-29 1h1m19 0h1m10 0h1m-27 1h1m10 0h1m4 0h1m2 1h1m14 0h1m-32 1h1m25 0h1m-26 1h1m8 0h3m5 0h2m9 0h1m-34 1h1m39 0h1m-56 1h1m6 0h1m19 0h1m3 0h1m-26 1h2m10 0h1m8 0h2m2 0h1m2 0h1m4 0h1m5 0h1m-40 1h2m1 0h1m8 0h2m1 0h1m2 0h1m1 0h1m9 0h1m22 0h1m-60 1h1m7 0h1m11 0h1m1 0h1m8 0h3m19 0h1m-43 1h2m14 0h2m8 0h1m1 0h1m-28 1h1m15 0h1m9 0h1m3 0h3m2 0h1m1 0h1m-50 1h1m17 0h1m8 0h2m1 0h1m3 0h1m2 0h2m10 0h1m-40 1h1m9 0h1m9 0h1m8 0h1m35 0h1m-66 1h1m19 0h1m5 0h1m-20 1h1m1 0h1m1 0h1m3 0h1m3 0h1m1 0h1m3 0h2m9 0h1m4 0h1m14 0h1m-67 1h1m3 0h1m19 0h2m19 0h1m1 0h1m7 0h2m1 0h3m-57 1h1m2 0h1m1 0h2m1 0h1m9 0h1m3 0h2m7 0h2m1 0h4m3 0h1m14 0h1m-61 1h1m15 0h1m6 0h1m4 0h1m1 0h1m25 0h1m8 0h1m-56 1h1m11 0h1m2 0h1m9 0h1m2 0h1m5 0h1m2 0h1m8 0h1m3 0h1m3 0h1m4 0h1m-37 1h1m3 0h2m3 0h3m8 0h1m19 0h1m-56 1h1m4 0h1m3 0h1m4 0h1m2 0h3m1 0h1m13 0h1m19 0h1m5 0h1m-58 1h2m8 0h2m1 0h1m1 0h4m2 0h1m1 0h1m1 0h1m9 0h2m5 0h1m10 0h1m-67 1h1m4 0h1m4 0h1m13 0h2m12 0h1m9 0h1m2 0h1m-37 1h3m5 0h1m10 0h1m1 0h1m2 0h2m7 0h1m3 0h1m1 0h2m1 0h2m-68 1h1m13 0h1m3 0h2m10 0h1m2 0h2m2 0h1m6 0h1m3 0h1m4 0h1m1 0h1m2 0h1m12 0h1m-66 1h2m12 0h2m3 0h1m2 0h1m2 0h1m1 0h2m4 0h1m6 0h1m2 0h1m2 0h1m20 0h1m-54 1h1m9 0h1m3 0h1m9 0h1m4 0h1m9 0h1m2 0h1m1 0h1m7 0h2m-44 1h1m12 0h2m4 0h1m1 0h2m7 0h1m22 0h1m-75 1h1m14 0h1m4 0h1m6 0h1m1 0h1m4 0h1m7 0h1m1 0h1m4 0h1m3 0h1m2 0h1m-45 1h1m7 0h1m2 0h3m1 0h1m6 0h2m4 0h2m3 0h1m3 0h1m8 0h1m7 0h1m4 0h1m-49 1h1m3 0h1m2 0h2m3 0h1m9 0h2m9 0h1m16 0h1m2 0h1m-80 1h1m29 0h1m1 0h1m1 0h1m1 0h2m2 0h1m6 0h1m1 0h1m9 0h1m3 0h1m3 0h2m16 0h1m-75 1h1m2 0h3m4 0h1m5 0h1m4 0h1m1 0h1m1 0h2m1 0h1m1 0h2m2 0h1m1 0h2m7 0h1m6 0h1m5 0h1m3 0h1m6 0h5m-77 1h1m2 0h1m2 0h1m7 0h1m5 0h1m3 0h2m1 0h2m4 0h1m6 0h2m5 0h1m11 0h1m7 0h1m16 0h1m-80 1h1m1 0h1m4 0h1m1 0h2m4 0h1m3 0h1m1 0h1m1 0h1m5 0h1m2 0h2m9 0h2m2 0h2m9 0h1m-46 1h1m3 0h2m2 0h1m1 0h1m1 0h2m7 0h3m10 0h2m3 0h2m1 0h2m2 0h1m4 0h2m5 0h1m-54 1h2m2 0h4m2 0h1m12 0h1m1 0h1m1 0h1m2 0h1m1 0h1m2 0h2m9 0h1m-71 1h2m9 0h1m5 0h1m1 0h2m4 0h2m1 0h3m6 0h4m1 0h2m2 0h1m2 0h2m1 0h1m3 0h2m1 0h1m2 0h1m3 0h1m-80 1h1m12 0h1m15 0h1m1 0h1m1 0h1m5 0h1m2 0h1m10 0h2m1 0h2m1 0h2m1 0h1m2 0h1m3 0h2m3 0h1m1 0h1m1 0h2m1 0h1m13 0h1m-82 1h1m11 0h1m5 0h1m2 0h1m2 0h1m1 0h2m2 0h1m1 0h1m2 0h2m2 0h1m4 0h1m3 0h1m5 0h2m1 0h2m4 0h1m6 0h1m2 0h2m2 0h1m-77 1h1m4 0h1m6 0h1m1 0h1m3 0h1m1 0h2m7 0h1m5 0h1m1 0h1m1 0h1m2 0h2m3 0h1m6 0h2m1 0h3m7 0h1m7 0h1m-82 1h1m2 0h1m2 0h1m11 0h1m2 0h2m2 0h1m2 0h1m4 0h1m2 0h3m8 0h1m2 0h1m4 0h1m13 0h2m4 0h1m4 0h2m-70 1h1m2 0h1m3 0h1m2 0h1m6 0h1m3 0h1m6 0h1m6 0h1m1 0h1m3 0h1m5 0h1m1 0h1m7 0h1m1 0h1m4 0h1m-62 1h1m2 0h2m3 0h3m2 0h2m1 0h1m4 0h2m4 0h2m2 0h1m1 0h1m6 0h1m10 0h1m2 0h1m3 0h2m3 0h1m-58 1h1m3 0h2m3 0h2m3 0h1m6 0h2m11 0h2m1 0h1m1 0h1m4 0h1m5 0h1m4 0h3m-69 1h1m2 0h1m2 0h1m3 0h2m2 0h2m9 0h1m11 0h1m1 0h1m3 0h1m1 0h1m2 0h1m3 0h3m3 0h1m4 0h1m-83 1h1m21 0h2m4 0h1m2 0h1m1 0h1m2 0h4m2 0h3m11 0h1m2 0h2m8 0h1m2 0h1m2 0h1m5 0h2m4 0h1m5 0h1m-87 1h1m14 0h1m4 0h3m15 0h1m7 0h1m4 0h1m7 0h3m8 0h2m3 0h1m1 0h1m-78 1h1m3 0h1m16 0h3m2 0h2m4 0h1m1 0h1m1 0h1m8 0h2m14 0h1m4 0h2m3 0h2m1 0h1m3 0h2m-65 1h2m5 0h1m5 0h2m1 0h2m12 0h1m4 0h1m4 0h1m10 0h1m1 0h1m2 0h1m11 0h1m-82 1h1m8 0h1m1 0h1m2 0h1m2 0h3m3 0h1m4 0h1m30 0h1m3 0h2m6 0h1m3 0h1m-73 1h1m5 0h1m1 0h1m1 0h1m6 0h2m3 0h2m1 0h2m7 0h1m3 0h1m9 0h1m6 0h1m4 0h1m2 0h2m-67 1h1m4 0h1m9 0h1m5 0h1m4 0h1m4 0h2m2 0h1m5 0h1m12 0h1m8 0h1m2 0h3m-71 1h1m6 0h1m1 0h1m2 0h4m1 0h1m1 0h2m24 0h1m1 0h1m1 0h1m8 0h1m6 0h1m2 0h2m6 0h1m2 0h1m-65 1h1m26 0h1m2 0h2m1 0h1m3 0h1m10 0h2m7 0h1m6 0h1m-79 1h1m6 0h3m2 0h1m1 0h1m1 0h1m1 0h3m2 0h1m4 0h1m4 0h1m1 0h1m4 0h1m1 0h2m1 0h1m4 0h2m4 0h3m2 0h1m2 0h2m1 0h1m-65 1h1m4 0h1m4 0h1m3 0h3m4 0h2m1 0h1m2 0h2m4 0h1m2 0h1m5 0h2m3 0h1m7 0h2m1 0h1m1 0h2m4 0h1m-72 1h1m2 0h1m4 0h1m5 0h2m5 0h2m1 0h2m12 0h1m6 0h4m1 0h1m2 0h2m4 0h3m1 0h3m10 0h1m-78 1h1m1 0h1m5 0h1m8 0h2m1 0h1m6 0h3m2 0h1m6 0h1m2 0h1m3 0h1m2 0h1m1 0h1m2 0h2m1 0h1m2 0h1m3 0h3m3 0h1m-69 1h1m1 0h1m3 0h1m4 0h1m1 0h1m2 0h1m4 0h1m3 0h1m2 0h3m1 0h2m2 0h1m1 0h1m11 0h2m1 0h1m2 0h1m1 0h1m1 0h3m6 0h1m-69 1h1m1 0h1m3 0h1m10 0h3m14 0h1m2 0h1m4 0h1m2 0h2m6 0h2m2 0h1m2 0h1m8 0h3m6 0h1m-86 1h1m4 0h1m3 0h2m9 0h1m12 0h1m2 0h3m1 0h1m2 0h2m1 0h1m3 0h3m2 0h4m2 0h2m1 0h2m-68 1h1m1 0h1m1 0h1m2 0h1m2 0h1m2 0h2m9 0h1m8 0h1m7 0h1m2 0h2m1 0h1m3 0h2m5 0h1m4 0h2m1 0h1m5 0h1m9 0h1m-83 1h1m1 0h1m4 0h1m10 0h1m1 0h2m9 0h2m1 0h1m2 0h1m5 0h1m6 0h3m3 0h2m4 0h2m2 0h1m-66 1h1m4 0h1m1 0h1m4 0h3m2 0h3m1 0h1m2 0h1m6 0h3m2 0h1m4 0h1m1 0h2m8 0h3m2 0h1m32 0h1m-92 1h3m3 0h1m5 0h1m7 0h2m1 0h1m6 0h3m9 0h2m1 0h1m14 0h3m-62 1h3m2 0h1m2 0h1m2 0h4m1 0h2m10 0h1m16 0h1m10 0h1m5 0h1m-63 1h3m3 0h1m4 0h1m1 0h1m3 0h1m22 0h1m4 0h2m7 0h1m-57 1h1m1 0h1m2 0h2m7 0h1m4 0h1m1 0h1m15 0h1m8 0h1m4 0h2m-49 1h1m1 0h3m2 0h1m3 0h1m4 0h1m36 0h1m-59 1h1m9 0h1m2 0h1m23 0h1m9 0h1m4 0h2m5 0h2m-54 1h1m2 0h2m1 0h1m1 0h1m8 0h1m11 0h1m2 0h1m13 0h3m4 0h1m8 0h1"/>
<path stroke-opacity="1" d="M0 0m71 191h1m-11 1h1m-20 2h1m31 0h1m9 5h1m12 2h1m-36 2h1m13 0h2m3 0h1m2 0h1m-24 1h1m1 0h1m12 0h1m-9 1h1m11 0h1m-12 1h1m9 0h1m-16 1h1m14 1h1m-15 1h1m11 0h1m3 0h1m-20 1h1m7 0h1m3 0h1m12 0h1m-27 1h1m18 0h2m17 0h1m-39 1h1m10 0h1m11 0h1m-14 1h1m9 0h1m4 0h1m13 0h1m7 0h1m-31 1h1m2 0h1m1 0h3m-10 1h1m1 0h1m2 0h1m12 0h1m-20 1h1m18 0h1m-36 1h1m13 1h1m7 0h1m12 0h1m13 0h1m-36 1h1m2 0h1m20 0h1m17 0h1m-38 1h1m15 0h1m-9 1h1m14 0h1m5 0h1m5 0h1m-51 1h2m2 0h1m7 0h1m-6 1h1m26 0h1m3 0h1m1 0h2m7 0h1m7 1h1m-37 1h1m5 0h1m-28 1h1m15 0h1m11 0h1m-6 1h1m3 0h1m1 0h1m3 0h1m1 0h1m-29 1h1m5 0h1m11 0h1m2 0h2m19 0h2m1 0h1m-53 1h1m18 0h1m2 0h1m4 0h1m2 0h1m14 0h2m1 0h3m5 0h1m8 0h1m-50 1h1m1 0h1m1 0h1m5 0h1m5 0h4m2 0h3m6 0h1m-50 1h1m5 0h1m17 0h1m8 0h1m7 0h2m15 0h1m18 0h1m-78 1h1m16 0h1m8 0h2m4 0h1m2 0h1m1 0h3m2 0h1m3 0h2m7 0h2m-53 1h1m12 0h2m2 0h1m3 0h4m1 0h1m4 0h1m2 0h1m2 0h2m2 0h1m1 0h2m3 0h1m2 0h1m5 0h1m-51 1h1m3 0h4m2 0h1m2 0h3m1 0h5m3 0h1m7 0h2m1 0h1m1 0h1m4 0h1m6 0h1m-56 1h1m7 0h1m2 0h1m5 0h2m1 0h1m1 0h2m2 0h2m2 0h3m5 0h3m1 0h1m5 0h2m1 0h1m12 0h1m-66 1h1m1 0h1m7 0h1m3 0h6m1 0h3m3 0h1m3 0h2m2 0h3m1 0h5m3 0h1m3 0h3m-64 1h1m24 0h3m1 0h2m3 0h8m1 0h2m1 0h4m1 0h3m1 0h3m1 0h1m2 0h1m8 0h1m-59 1h1m4 0h2m2 0h2m1 0h3m1 0h6m1 0h6m3 0h3m1 0h1m3 0h1m1 0h1m1 0h3m5 0h1m12 0h1m-68 1h1m4 0h2m3 0h2m2 0h1m2 0h1m1 0h1m2 0h4m2 0h2m1 0h1m1 0h4m1 0h1m2 0h3m2 0h3m3 0h1m-59 1h1m5 0h1m5 0h1m4 0h3m2 0h2m2 0h6m2 0h11m2 0h1m1 0h1m1 0h4m1 0h3m-47 1h1m3 0h9m1 0h11m1 0h1m1 0h3m3 0h1m2 0h3m5 0h1m1 0h2m-51 1h1m4 0h2m4 0h2m3 0h11m5 0h8m4 0h2m1 0h3m5 0h1m-62 1h1m7 0h3m1 0h10m1 0h7m1 0h3m2 0h7m3 0h7m5 0h1m1 0h1m-60 1h1m6 0h2m3 0h3m1 0h1m5 0h6m2 0h14m2 0h3m3 0h1m-50 1h2m1 0h5m2 0h1m2 0h12m1 0h4m1 0h4m1 0h10m1 0h1m1 0h2m6 0h1m-73 1h1m8 0h2m7 0h2m1 0h3m3 0h29m1 0h3m2 0h1m1 0h3m-65 1h1m11 0h3m2 0h1m7 0h7m2 0h2m1 0h9m1 0h6m-48 1h2m5 0h1m1 0h2m2 0h1m1 0h1m3 0h3m2 0h2m2 0h4m1 0h12m1 0h3m1 0h4m1 0h2m7 0h1m-68 1h1m1 0h2m6 0h1m2 0h24m1 0h1m1 0h1m1 0h8m1 0h6m1 0h2m-61 1h2m2 0h4m1 0h3m1 0h22m1 0h2m2 0h1m1 0h3m1 0h10m-52 1h2m1 0h1m1 0h1m1 0h1m3 0h2m2 0h1m3 0h4m1 0h1m2 0h3m1 0h1m2 0h1m1 0h2m1 0h1m2 0h4m3 0h2m14 0h1m-78 1h1m1 0h1m8 0h4m1 0h1m1 0h1m4 0h1m1 0h1m2 0h1m1 0h2m2 0h4m1 0h2m1 0h2m1 0h1m3 0h2m2 0h2m2 0h3m2 0h1m1 0h1m2 0h1m-63 1h3m1 0h5m2 0h1m1 0h3m7 0h5m1 0h4m2 0h4m5 0h1m5 0h2m1 0h1m3 0h1m-59 1h3m1 0h8m2 0h1m2 0h5m3 0h2m2 0h1m2 0h2m2 0h1m1 0h3m1 0h2m1 0h1m1 0h2m4 0h2m2 0h2m7 0h1m-72 1h2m3 0h2m2 0h4m1 0h1m1 0h2m1 0h2m1 0h1m2 0h2m1 0h2m3 0h1m2 0h2m1 0h1m1 0h6m1 0h1m2 0h1m7 0h1m12 0h1m-72 1h2m1 0h1m2 0h2m1 0h8m15 0h1m1 0h2m1 0h2m1 0h4m1 0h1m12 0h1m4 0h1m14 0h1m-86 1h2m6 0h3m2 0h9m1 0h1m2 0h1m7 0h1m1 0h1m4 0h1m1 0h2m2 0h1m1 0h1m5 0h2m8 0h1m6 0h1m-68 1h1m2 0h2m1 0h2m2 0h4m1 0h4m1 0h2m7 0h1m1 0h1m9 0h1m2 0h1m4 0h4m4 0h1m2 0h1m3 0h1m-66 1h3m1 0h1m1 0h8m4 0h1m10 0h1m2 0h1m7 0h2m1 0h1m10 0h1m6 0h1m-66 1h1m1 0h1m1 0h2m1 0h1m1 0h4m3 0h2m3 0h1m9 0h1m4 0h1m6 0h1m2 0h1m14 0h1m3 0h1m-66 1h1m3 0h3m1 0h5m2 0h2m2 0h1m44 0h1m-65 1h1m4 0h2m1 0h1m3 0h1m13 0h1m26 0h1m9 0h1m-64 1h1m4 0h3m1 0h2m3 0h1m13 0h1m25 0h1m5 0h1m-58 1h1m3 0h1m2 0h1m1 0h2m1 0h2m3 0h1m-18 1h1m1 0h1m4 0h1m1 0h1m4 0h1m-18 1h2m2 0h1m2 0h2m1 0h1m37 0h1m-50 1h3m2 0h1m2 0h2"/>
</g>
<rect x="41.5" y="161.4" width="122.65" height="106.6" fill="none" stroke="#000" stroke-width="1.2"/>
<path d="M80.4 161.4V268M41.5 230.1H164.15" fill="none" stroke="#000" stroke-width="1.05"/>
<path d="M41.5 268v3.3M41.5 268h-3.3M50.73 268v2.6M41.5 259.98h-2.6M56.13 268v2.6M41.5 255.28h-2.6M59.96 268v2.6M41.5 251.96h-2.6M62.93 268v2.6M41.5 249.37h-2.6M65.36 268v2.6M41.5 247.26h-2.6M67.41 268v2.6M41.5 245.48h-2.6M69.19 268v2.6M41.5 243.93h-2.6M70.76 268v2.6M41.5 242.57h-2.6M72.16 268v3.3M41.5 241.35h-3.3M81.39 268v2.6M41.5 233.33h-2.6M86.79 268v2.6M41.5 228.63h-2.6M90.62 268v2.6M41.5 225.31h-2.6M93.59 268v2.6M41.5 222.72h-2.6M96.02 268v2.6M41.5 220.61h-2.6M98.08 268v2.6M41.5 218.83h-2.6M99.85 268v2.6M41.5 217.28h-2.6M101.42 268v2.6M41.5 215.92h-2.6M102.83 268v3.3M41.5 214.7h-3.3M112.06 268v2.6M41.5 206.68h-2.6M117.45 268v2.6M41.5 201.98h-2.6M121.29 268v2.6M41.5 198.66h-2.6M124.26 268v2.6M41.5 196.07h-2.6M126.69 268v2.6M41.5 193.96h-2.6M128.74 268v2.6M41.5 192.18h-2.6M130.52 268v2.6M41.5 190.63h-2.6M132.08 268v2.6M41.5 189.27h-2.6M133.49 268v3.3M41.5 188.05h-3.3M142.72 268v2.6M41.5 180.03h-2.6M148.12 268v2.6M41.5 175.33h-2.6M151.95 268v2.6M41.5 172.01h-2.6M154.92 268v2.6M41.5 169.42h-2.6M157.35 268v2.6M41.5 167.31h-2.6M159.4 268v2.6M41.5 165.53h-2.6M161.18 268v2.6M41.5 163.98h-2.6M162.75 268v2.6M41.5 162.62h-2.6M164.15 268v2.6M41.5 161.4h-2.6" fill="none" stroke="#000" stroke-width="1.3"/>
<text transform="translate(36.2 278.5) scale(.8 1)" class="tx">10<tspan class="ex" dx=".6" dy="-3.8">0</tspan></text>
<text transform="translate(35.4 273.6) rotate(-90) scale(.85 1)" class="ty">10<tspan class="ey" dy="-3.3">0</tspan></text>
<text transform="translate(66.86 278.5) scale(.8 1)" class="tx">10<tspan class="ex" dx=".6" dy="-3.8">1</tspan></text>
<text transform="translate(35.4 246.95) rotate(-90) scale(.85 1)" class="ty">10<tspan class="ey" dy="-3.3">1</tspan></text>
<text transform="translate(97.53 278.5) scale(.8 1)" class="tx">10<tspan class="ex" dx=".6" dy="-3.8">2</tspan></text>
<text transform="translate(35.4 220.3) rotate(-90) scale(.85 1)" class="ty">10<tspan class="ey" dy="-3.3">2</tspan></text>
<text transform="translate(128.19 278.5) scale(.8 1)" class="tx">10<tspan class="ex" dx=".6" dy="-3.8">3</tspan></text>
<text transform="translate(35.4 193.65) rotate(-90) scale(.85 1)" class="ty">10<tspan class="ey" dy="-3.3">3</tspan></text>
<text transform="translate(158.85 278.5) scale(.8 1)" class="tx">10<tspan class="ex" dx=".6" dy="-3.8">4</tspan></text>
<text transform="translate(35.4 167) rotate(-90) scale(.85 1)" class="ty">10<tspan class="ey" dy="-3.3">4</tspan></text>
</g>
<g>
<g transform="translate(0 .5)" class="dots">
<path stroke-opacity="0.3" d="M0 0m216 167h1m0 1h1m14 0h1m-22 1h1m7 0h1m9 0h1m1 0h1m20 0h1m-45 1h1m44 0h1m-25 1h1m8 0h1m-34 1h1m5 0h2m3 0h1m3 0h1m1 0h1m-12 1h1m1 0h1m10 0h1m-12 1h1m1 0h2m1 0h1m6 0h1m-21 1h1m8 0h1m2 0h1m1 0h1m4 0h1m3 0h1m-26 1h1m3 0h1m4 0h1m9 0h2m3 0h1m1 0h1m18 0h1m-52 1h1m3 0h1m10 0h1m4 0h1m5 0h1m1 0h1m7 0h2m13 0h1m-33 1h1m7 0h3m6 0h2m-34 1h1m4 0h1m10 0h1m2 0h1m9 0h1m9 0h1m-39 1h1m13 0h1m5 0h2m3 0h3m9 0h1m-38 1h1m7 0h1m8 0h1m-20 1h1m25 0h1m4 0h1m-32 1h1m16 0h2m3 0h1m1 0h1m1 0h1m2 0h1m16 0h1m-10 1h2m-41 1h1m24 0h1m6 0h1m32 0h1m-67 1h1m22 0h1m1 0h1m9 0h1m21 0h1m-57 1h1m22 0h1m5 0h1m2 0h1m24 0h1m-38 1h1m10 0h1m4 0h1m34 0h1m-45 1h1m4 0h1m1 0h2m1 0h2m31 0h1m-44 1h1m6 0h1m3 0h1m-9 1h1m6 0h3m-40 1h1m25 0h1m5 0h2m3 0h1m2 0h1m5 0h2m-52 1h1m1 0h1m24 0h1m3 0h1m5 0h1m1 0h1m5 0h1m9 0h1m-56 1h1m30 0h1m8 0h1m15 0h1m-57 1h1m2 0h1m20 0h1m4 0h1m2 0h1m6 0h2m-39 1h1m1 0h1m34 0h1m-39 1h1m30 0h1m9 0h1m14 0h1m11 0h1m-65 1h1m25 0h1m3 0h1m34 0h1m-67 1h1m27 0h1m3 0h1m-30 1h1m28 0h1m4 0h1m-39 1h1m2 0h1m17 0h1m11 0h1m19 0h1m8 0h1m-60 1h1m1 0h1m14 0h1m5 0h1m7 0h1m4 0h1m4 0h1m5 0h3m9 0h2m-67 1h1m1 0h3m18 0h1m8 0h1m3 0h1m2 0h1m1 0h1m4 0h1m7 0h1m1 0h1m-58 1h1m1 0h1m1 0h1m9 0h1m6 0h1m22 0h1m4 0h1m3 0h1m-51 1h1m3 0h1m9 0h1m9 0h1m8 0h1m2 0h2m2 0h1m10 0h2m-53 1h1m8 0h1m4 0h2m4 0h1m4 0h3m3 0h1m3 0h1m1 0h2m-38 1h1m26 0h1m3 0h3m-38 1h1m13 0h1m2 0h1m1 0h1m6 0h1m2 0h1m6 0h1m5 0h1m4 0h1m-47 1h2m3 0h3m1 0h1m2 0h1m4 0h1m2 0h1m1 0h2m1 0h1m25 0h1m-50 1h2m3 0h2m3 0h1m1 0h3m3 0h1m3 0h1m8 0h1m2 0h1m13 0h1m15 0h1m-41 1h1m38 0h2m-62 1h1m6 0h3m3 0h3m8 0h3m1 0h2m8 0h1m4 0h1m1 0h1m-46 1h2m5 0h1m5 0h1m6 0h1m2 0h1m20 0h1m-51 1h1m3 0h1m10 0h1m3 0h2m6 0h1m1 0h1m1 0h2m4 0h1m21 0h1m-59 1h1m8 0h1m3 0h2m6 0h1m5 0h1m7 0h1m4 0h1m1 0h1m5 0h1m-44 1h1m12 0h1m6 0h2m2 0h2m7 0h1m2 0h1m2 0h1m2 0h1m6 0h1m-48 1h2m3 0h1m2 0h2m3 0h1m19 0h1m6 0h1m5 0h1m3 0h1m-56 1h1m4 0h1m4 0h1m13 0h2m3 0h2m6 0h1m6 0h1m19 0h1m-67 1h1m2 0h2m4 0h1m2 0h2m2 0h1m6 0h1m22 0h1m1 0h1m-47 1h1m13 0h1m7 0h1m3 0h1m8 0h3m2 0h1m4 0h1m24 0h1m-63 1h3m15 0h1m4 0h1m4 0h1m7 0h1m9 0h1m14 0h1m-72 1h2m3 0h1m7 0h1m5 0h1m12 0h1m1 0h1m1 0h1m16 0h1m1 0h1m-55 1h1m4 0h1m5 0h2m5 0h1m5 0h1m5 0h3m6 0h1m4 0h2m-48 1h1m7 0h1m33 0h2m1 0h2m4 0h1m-51 1h1m6 0h1m1 0h1m18 0h1m5 0h1m14 0h1m-50 1h2m4 0h1m1 0h1m2 0h1m2 0h2m10 0h1m3 0h1m2 0h1m4 0h2m9 0h1m20 0h2m-72 1h1m7 0h4m15 0h1m10 0h2m6 0h1m15 0h1m-60 1h1m7 0h1m4 0h1m34 0h1m11 0h1m-64 1h1m3 0h2m1 0h1m12 0h1m1 0h1m1 0h1m1 0h1m16 0h1m3 0h1m1 0h1m2 0h1m5 0h1m-59 1h1m13 0h1m4 0h1m11 0h1m1 0h2m1 0h1m1 0h3m7 0h1m1 0h1m2 0h1m-46 1h1m7 0h1m9 0h4m3 0h1m6 0h1m5 0h1m1 0h2m5 0h1m-57 1h1m11 0h1m4 0h1m5 0h1m3 0h1m3 0h2m5 0h1m1 0h1m1 0h1m13 0h1m-51 1h1m6 0h1m6 0h1m16 0h1m3 0h1m3 0h1m3 0h1m4 0h3m19 0h1m-77 1h1m8 0h1m6 0h1m3 0h2m2 0h1m2 0h1m1 0h3m4 0h1m1 0h2m4 0h1m10 0h1m19 0h1m-75 1h1m1 0h1m11 0h1m4 0h1m6 0h1m21 0h1m-44 1h1m8 0h2m7 0h1m10 0h2m6 0h1m4 0h1m4 0h1m-51 1h3m1 0h2m4 0h1m6 0h1m3 0h1m4 0h1m5 0h1m6 0h1m1 0h1m6 0h1m-49 1h1m5 0h1m2 0h1m11 0h2m1 0h1m10 0h1m3 0h2m4 0h1m6 0h1m1 0h1m-57 1h1m5 0h1m10 0h1m1 0h1m2 0h1m17 0h2m10 0h1m3 0h1m-58 1h1m2 0h1m9 0h1m4 0h2m2 0h2m7 0h1m1 0h1m2 0h1m1 0h1m2 0h2m2 0h1m4 0h1m1 0h1m1 0h1m-53 1h1m8 0h1m6 0h1m7 0h1m14 0h1m6 0h1m1 0h1m-41 1h1m6 0h1m30 0h1m7 0h1m-56 1h1m24 0h2m10 0h1m1 0h1m8 0h1m2 0h1m3 0h1m-52 1h1m1 0h1m22 0h1m3 0h1m20 0h1m1 0h1m-53 1h1m12 0h1m15 0h1m14 0h1m19 0h1m-65 1h2m7 0h1m55 0h1m-50 1h1m4 0h1m10 0h1m15 0h1m1 0h1m1 0h2m1 0h1m-57 1h2m13 0h2m5 0h1m6 0h1m6 0h1m2 0h1m-42 1h1m3 0h1m14 0h1m2 0h1m1 0h3m9 0h1m1 0h1m1 0h1m2 0h1m13 0h2m-49 1h1m32 0h1m11 0h1m-47 1h1m11 0h1m5 0h1m4 0h1m17 0h1m1 0h1m1 0h1m4 0h1m-62 1h2m7 0h1m4 0h2m17 0h1m4 0h1m6 0h1m-23 1h1m2 0h4m6 0h1m1 0h2m11 0h2m-48 1h2m8 0h2m9 0h1m10 0h1m6 0h1m12 0h1m-56 1h1m1 0h1m2 0h1m2 0h1m4 0h1m1 0h1m20 0h1m10 0h1m4 0h1m-52 1h1m6 0h1m11 0h1m24 0h1m-41 1h1m2 0h1m5 0h1m5 0h1m20 0h1m11 0h3m-53 1h1m18 0h1m10 0h1m12 0h2m2 0h1m5 0h1m-58 1h2m4 0h1m11 0h1m3 0h1m9 0h1m3 0h1m-33 1h1m4 0h4m5 0h1m1 0h1m14 0h1m15 0h1m1 0h1m-55 1h1m13 0h1m24 0h2m1 0h1m3 0h1m1 0h1m-46 1h1m2 0h1m8 0h1m4 0h2m1 0h1m2 0h1m9 0h2m11 0h1m1 0h1m1 0h2m-53 1h1m11 0h1m8 0h1m6 0h1m4 0h1m8 0h1m4 0h1m1 0h1m4 0h1m-48 1h1m1 0h1m2 0h1m1 0h1m5 0h1m1 0h2m2 0h2m3 0h1m2 0h1m4 0h2m1 0h1m5 0h2m3 0h1m-46 1h1m3 0h2m8 0h1m7 0h1m5 0h1m1 0h1m12 0h1m0 1h1m1 0h1m1 0h1m1 0h2m-26 1h1m16 0h1m6 0h1"/>
<path stroke-opacity="0.52" d="M0 0m218 166h1m-2 1h1m-5 1h1m5 3h1m10 0h1m-12 1h1m3 0h1m6 0h1m6 0h1m-30 1h2m17 0h2m-22 1h3m2 0h1m-7 1h1m3 0h1m5 0h1m-13 1h3m3 0h1m2 0h2m1 0h1m-19 1h1m3 0h3m1 0h1m2 0h1m1 0h1m3 0h1m4 0h1m7 0h1m20 0h1m-48 1h1m1 0h1m1 0h1m1 0h1m10 0h1m2 0h1m6 0h1m-26 1h1m9 0h3m2 0h1m-16 1h1m1 0h1m4 0h1m7 0h1m5 0h1m14 0h1m-41 1h1m10 0h1m4 0h1m6 0h1m3 0h1m-24 1h1m5 0h1m8 0h2m1 0h1m5 0h1m-25 1h1m3 0h1m14 0h1m1 0h1m4 0h2m-32 1h1m17 0h1m3 0h1m2 0h1m1 0h2m3 0h1m14 0h1m-47 1h1m17 0h1m1 0h1m5 0h1m3 0h1m6 0h1m-40 1h1m1 0h1m13 0h1m9 0h1m1 0h2m1 0h1m-31 1h1m16 0h1m1 0h2m1 0h1m1 0h1m4 0h1m-29 1h1m18 0h1m10 0h3m2 0h2m-19 1h1m1 0h1m-1 1h1m1 0h1m2 0h1m3 0h2m3 0h1m-39 1h1m1 0h1m18 0h1m2 0h1m3 0h1m3 0h2m1 0h1m-15 1h2m2 0h2m1 0h1m3 0h1m6 0h1m11 0h1m-49 1h1m19 0h1m1 0h1m1 0h1m1 0h2m10 0h1m5 0h2m-53 1h1m6 0h1m17 0h1m9 0h1m3 0h1m-8 1h1m2 0h1m6 0h1m3 0h2m-46 1h1m4 0h1m26 0h2m5 0h1m16 0h2m-55 1h1m1 0h3m17 0h1m1 0h1m2 0h1m2 0h1m35 0h1m-65 1h1m22 0h2m1 0h1m1 0h1m5 0h2m-43 1h1m6 0h1m26 0h1m7 0h1m-43 1h1m12 0h1m12 0h1m5 0h1m1 0h1m5 0h1m16 0h1m-52 1h1m19 0h1m1 0h3m36 0h1m-39 1h1m3 0h1m5 0h1m2 0h1m-37 1h1m2 0h1m1 0h2m6 0h1m8 0h3m1 0h1m3 0h1m1 0h1m6 0h1m8 0h1m-43 1h1m4 0h1m14 0h2m4 0h1m6 0h1m8 0h2m-47 1h1m4 0h1m4 0h1m1 0h1m1 0h1m6 0h2m2 0h2m10 0h1m-32 1h1m6 0h1m3 0h1m8 0h1m10 0h1m-38 1h1m2 0h1m5 0h1m2 0h3m6 0h1m2 0h1m8 0h1m1 0h2m1 0h1m-45 1h1m2 0h2m1 0h1m1 0h2m12 0h1m2 0h1m2 0h1m11 0h2m-41 1h1m4 0h1m9 0h1m2 0h1m5 0h1m1 0h1m4 0h2m1 0h1m4 0h1m-34 1h1m1 0h1m9 0h2m2 0h1m1 0h1m2 0h1m3 0h1m2 0h1m4 0h1m1 0h1m6 0h1m13 0h1m-54 1h3m1 0h3m1 0h1m3 0h1m2 0h1m15 0h1m5 0h2m-47 1h1m11 0h1m4 0h2m1 0h4m14 0h1m-22 1h1m2 0h1m5 0h1m1 0h1m1 0h1m-30 1h1m1 0h2m3 0h1m11 0h1m8 0h1m15 0h2m-43 1h1m6 0h2m11 0h1m4 0h1m2 0h1m-34 1h2m3 0h1m2 0h1m2 0h1m19 0h1m11 0h1m-36 1h1m2 0h1m9 0h1m2 0h1m6 0h1m4 0h1m-32 1h2m4 0h2m3 0h1m2 0h1m5 0h1m4 0h2m3 0h1m10 0h1m-49 1h1m4 0h1m4 0h1m7 0h2m1 0h1m1 0h1m6 0h1m2 0h1m2 0h2m-40 1h3m5 0h3m1 0h1m5 0h1m2 0h1m1 0h1m4 0h1m2 0h1m1 0h1m13 0h1m9 0h1m14 0h1m-73 1h1m9 0h1m11 0h1m4 0h1m3 0h1m4 0h1m9 0h1m-39 1h2m5 0h2m9 0h1m1 0h1m3 0h1m14 0h1m-47 1h1m3 0h1m4 0h1m4 0h1m1 0h1m1 0h1m2 0h2m38 0h1m-49 1h1m4 0h1m2 0h1m1 0h1m1 0h1m7 0h1m12 0h1m14 0h1m-52 1h1m1 0h1m1 0h2m1 0h1m3 0h1m19 0h2m-38 1h1m3 0h1m12 0h1m1 0h1m2 0h1m9 0h1m2 0h1m-40 1h1m2 0h1m12 0h2m1 0h5m1 0h1m3 0h1m1 0h1m4 0h1m4 0h1m27 0h2m-70 1h1m1 0h3m6 0h1m9 0h1m6 0h3m5 0h2m1 0h2m2 0h1m1 0h1m14 0h1m-52 1h1m1 0h1m2 0h1m2 0h1m9 0h1m2 0h1m3 0h1m8 0h1m2 0h1m1 0h1m8 0h1m-50 1h3m9 0h1m2 0h2m8 0h1m9 0h2m-48 1h1m1 0h1m20 0h1m2 0h1m4 0h1m10 0h1m3 0h1m8 0h1m-55 1h2m7 0h1m3 0h2m2 0h1m10 0h2m14 0h1m4 0h1m2 0h1m1 0h1m-51 1h1m8 0h1m1 0h1m13 0h1m8 0h1m6 0h1m4 0h3m-49 1h1m5 0h2m1 0h1m3 0h1m4 0h1m1 0h1m2 0h1m4 0h1m11 0h1m2 0h1m7 0h1m-52 1h1m7 0h1m2 0h1m2 0h1m3 0h2m3 0h3m1 0h1m2 0h1m7 0h1m1 0h1m5 0h2m8 0h1m-52 1h1m3 0h1m8 0h1m9 0h1m20 0h1m4 0h2m-47 1h1m8 0h1m6 0h3m1 0h1m6 0h1m10 0h1m-53 1h1m1 0h1m1 0h1m1 0h1m4 0h1m3 0h1m6 0h1m12 0h2m4 0h1m7 0h2m-42 1h1m1 0h1m7 0h1m1 0h2m4 0h1m3 0h1m1 0h1m3 0h1m7 0h3m-46 1h1m1 0h1m9 0h3m8 0h1m3 0h1m17 0h1m12 0h1m-61 1h1m11 0h1m8 0h1m13 0h2m2 0h1m12 0h2m6 0h1m-61 1h1m3 0h1m3 0h1m4 0h1m5 0h1m1 0h1m2 0h1m1 0h1m2 0h1m6 0h1m5 0h1m7 0h1m1 0h2m-50 1h2m4 0h1m2 0h1m4 0h1m11 0h1m3 0h1m4 0h1m1 0h1m6 0h1m1 0h1m2 0h1m-52 1h1m5 0h1m1 0h1m1 0h1m1 0h2m5 0h1m5 0h1m10 0h1m1 0h2m8 0h1m-48 1h1m3 0h1m13 0h2m18 0h1m3 0h2m1 0h1m4 0h1m-47 1h1m17 0h1m2 0h1m5 0h1m4 0h1m3 0h1m1 0h1m1 0h1m1 0h1m1 0h1m4 0h1m-55 1h2m1 0h1m3 0h1m5 0h1m6 0h1m5 0h1m6 0h1m4 0h1m1 0h1m3 0h1m7 0h1m-55 1h3m12 0h2m10 0h1m6 0h1m9 0h1m6 0h1m1 0h2m1 0h2m-57 1h1m2 0h1m2 0h1m9 0h1m1 0h1m5 0h1m20 0h1m1 0h1m9 0h1m-54 1h1m14 0h1m3 0h1m3 0h1m5 0h4m2 0h1m1 0h1m3 0h2m6 0h1m-55 1h2m3 0h2m9 0h1m20 0h1m1 0h1m7 0h1m11 0h2m-58 1h1m1 0h1m10 0h1m12 0h1m6 0h1m4 0h2m7 0h1m2 0h2m5 0h2m-60 1h1m1 0h1m1 0h1m13 0h1m11 0h1m9 0h2m11 0h1m3 0h1m-59 1h1m27 0h1m5 0h1m5 0h1m1 0h1m4 0h1m1 0h2m-44 1h1m7 0h1m4 0h1m4 0h1m2 0h2m2 0h1m1 0h2m5 0h2m1 0h2m-47 1h1m1 0h1m17 0h1m3 0h1m12 0h2m2 0h1m4 0h1m8 0h1m-51 1h2m10 0h1m17 0h2m11 0h1m3 0h1m1 0h1m3 0h1m-58 1h4m1 0h2m6 0h5m1 0h1m1 0h1m2 0h1m1 0h1m5 0h1m2 0h1m1 0h1m12 0h1m-43 1h1m1 0h1m2 0h1m1 0h1m4 0h2m16 0h2m6 0h1m2 0h1m2 0h1m1 0h1m-55 1h1m7 0h1m4 0h2m4 0h1m1 0h3m9 0h1m3 0h2m2 0h1m2 0h1m5 0h1m4 0h1m-50 1h1m2 0h1m4 0h1m3 0h3m1 0h1m1 0h1m2 0h1m5 0h1m1 0h1m10 0h1m1 0h1m3 0h1m1 0h2m-53 1h2m4 0h2m1 0h1m24 0h1m3 0h1m4 0h1m2 0h1m-45 1h1m2 0h2m8 0h1m7 0h1m4 0h1m3 0h1m1 0h2m3 0h1m6 0h1m-44 1h2m3 0h1m2 0h1m10 0h2m7 0h1m3 0h2m4 0h1m2 0h1m-46 1h1m1 0h1m10 0h1m2 0h1m3 0h1m5 0h1m1 0h1m1 0h2m7 0h1m1 0h1m1 0h1m-46 1h2m1 0h1m15 0h1m16 0h2m2 0h1m4 0h1m-9 1h1m15 0h1m3 0h1"/>
<path stroke-opacity="0.76" d="M0 0m217 166h1m-7 2h2m6 0h1m8 1h1m-20 1h1m12 1h2m13 0h1m-34 1h1m12 0h1m-6 1h1m10 0h1m-14 1h1m8 0h1m4 0h1m-16 1h1m1 0h1m3 0h1m-7 1h1m5 0h1m33 0h1m-45 1h1m1 0h2m4 0h1m4 0h2m1 0h2m3 0h1m-26 1h1m3 0h1m1 0h1m4 0h2m9 0h1m4 0h1m1 0h1m-26 1h1m1 0h1m4 0h2m7 0h3m1 0h1m-23 1h1m11 0h1m1 0h1m6 0h1m1 0h1m3 0h1m-30 1h1m2 0h1m1 0h1m7 0h2m9 0h1m2 0h1m1 0h1m-30 1h1m1 0h1m20 0h1m2 0h1m1 0h2m-30 1h1m3 0h1m4 0h1m2 0h1m1 0h1m3 0h3m10 0h1m14 0h1m-47 1h3m4 0h1m1 0h1m1 0h2m1 0h1m1 0h1m1 0h2m3 0h1m1 0h1m36 0h1m-54 1h1m4 0h2m7 0h2m2 0h1m3 0h1m-33 1h1m1 0h2m2 0h1m6 0h2m4 0h1m1 0h1m1 0h1m2 0h1m28 0h1m-54 1h3m9 0h1m1 0h1m1 0h1m-21 1h3m13 0h3m4 0h4m-26 1h1m3 0h1m14 0h1m3 0h3m1 0h4m39 0h1m-70 1h1m5 0h1m15 0h1m1 0h1m2 0h2m-29 1h1m21 0h2m2 0h2m3 0h1m16 0h1m-52 1h1m1 0h2m4 0h1m8 0h4m8 0h3m3 0h2m3 0h1m-45 1h1m11 0h1m11 0h1m1 0h1m8 0h1m3 0h1m17 0h1m-49 1h2m7 0h1m7 0h6m5 0h1m4 0h1m-43 1h1m4 0h1m1 0h2m13 0h3m6 0h1m2 0h1m4 0h1m-34 1h1m1 0h2m2 0h1m13 0h2m4 0h1m-27 1h1m9 0h1m7 0h3m1 0h1m5 0h1m7 0h1m-34 1h1m1 0h1m1 0h1m5 0h1m4 0h1m1 0h2m6 0h1m-26 1h2m6 0h4m2 0h1m1 0h1m1 0h1m2 0h3m2 0h2m-33 1h2m3 0h3m6 0h1m6 0h1m1 0h5m3 0h1m2 0h2m-31 1h1m21 0h2m5 0h1m-34 1h1m4 0h3m1 0h2m2 0h1m4 0h1m1 0h2m4 0h2m3 0h1m-37 1h1m9 0h1m2 0h1m1 0h1m2 0h1m2 0h1m1 0h1m15 0h1m8 0h2m6 0h1m-54 1h1m3 0h1m2 0h1m2 0h1m5 0h2m4 0h2m7 0h4m-28 1h1m1 0h2m2 0h1m3 0h1m1 0h1m2 0h1m2 0h2m2 0h2m7 0h1m2 0h1m-36 1h1m9 0h1m1 0h1m5 0h1m3 0h1m1 0h1m2 0h1m-27 1h2m5 0h1m9 0h1m1 0h1m8 0h1m4 0h1m2 0h1m-37 1h1m2 0h1m1 0h2m18 0h1m-36 1h1m19 0h1m4 0h1m3 0h1m14 0h1m-34 1h1m6 0h1m1 0h1m6 0h1m1 0h1m3 0h1m2 0h1m-25 1h1m3 0h1m3 0h1m5 0h1m4 0h1m2 0h1m-17 1h1m17 0h1m13 0h1m-37 1h2m1 0h1m2 0h2m1 0h2m2 0h1m8 0h1m-32 1h1m1 0h1m8 0h3m9 0h1m4 0h1m-28 1h2m3 0h1m6 0h1m1 0h1m2 0h1m7 0h1m3 0h1m9 0h2m1 0h1m-29 1h2m7 0h1m2 0h2m9 0h1m-24 1h1m1 0h2m2 0h2m1 0h2m1 0h1m22 0h1m-45 1h2m1 0h1m2 0h1m7 0h1m4 0h1m7 0h1m9 0h1m9 0h1m7 0h1m-64 1h1m11 0h2m1 0h1m7 0h1m1 0h2m4 0h1m5 0h1m-35 1h1m4 0h1m8 0h1m3 0h1m9 0h1m7 0h1m-35 1h1m12 0h1m6 0h1m3 0h1m5 0h1m17 0h1m6 0h1m-51 1h1m3 0h3m1 0h3m16 0h2m4 0h1m-38 1h1m6 0h1m1 0h1m2 0h1m2 0h1m2 0h2m16 0h1m8 0h1m-49 1h1m6 0h1m3 0h1m3 0h1m5 0h2m-23 1h2m15 0h2m1 0h1m1 0h1m22 0h1m-52 1h1m10 0h1m2 0h1m6 0h2m1 0h1m4 0h1m6 0h1m6 0h1m-31 1h2m5 0h1m11 0h1m3 0h1m4 0h1m10 0h1m-40 1h1m4 0h2m1 0h1m1 0h1m1 0h2m3 0h1m5 0h1m-37 1h1m2 0h2m2 0h1m10 0h2m2 0h1m8 0h2m1 0h2m4 0h2m1 0h1m3 0h1m6 0h1m-55 1h1m8 0h1m4 0h1m2 0h2m5 0h1m28 0h1m-53 1h1m10 0h1m1 0h1m3 0h2m5 0h1m9 0h2m-26 1h1m1 0h1m5 0h1m4 0h3m-17 1h2m7 0h1m2 0h1m1 0h2m2 0h2m5 0h2m13 0h1m-47 1h1m3 0h1m8 0h1m4 0h1m9 0h1m1 0h2m4 0h1m10 0h2m23 0h1m-77 1h1m3 0h1m3 0h1m2 0h2m4 0h2m14 0h1m12 0h1m7 0h1m7 0h1m-50 1h1m3 0h3m7 0h1m1 0h1m4 0h1m2 0h1m6 0h2m3 0h2m1 0h1m-51 1h1m3 0h1m3 0h1m1 0h1m2 0h3m7 0h1m2 0h1m14 0h1m5 0h1m-43 1h1m5 0h2m2 0h1m3 0h1m6 0h1m1 0h3m1 0h1m12 0h1m-48 1h1m5 0h1m3 0h1m1 0h1m3 0h1m13 0h1m9 0h1m3 0h1m4 0h2m5 0h1m-52 1h1m5 0h2m11 0h1m1 0h1m5 0h1m1 0h2m3 0h2m3 0h1m1 0h1m2 0h1m3 0h1m5 0h1m-56 1h1m8 0h3m7 0h3m8 0h1m5 0h1m1 0h1m2 0h2m4 0h1m2 0h1m4 0h1m-54 1h2m4 0h1m2 0h1m2 0h1m4 0h1m6 0h2m6 0h1m1 0h1m2 0h4m8 0h1m-48 1h1m2 0h1m5 0h1m3 0h1m2 0h2m3 0h1m1 0h1m1 0h1m1 0h1m6 0h4m1 0h1m3 0h1m2 0h1m-54 1h1m2 0h1m1 0h1m4 0h1m6 0h3m1 0h4m2 0h1m2 0h1m7 0h1m2 0h3m1 0h4m1 0h1m2 0h1m1 0h1m-53 1h1m1 0h1m4 0h2m1 0h4m1 0h1m3 0h1m2 0h1m8 0h4m4 0h1m3 0h1m3 0h1m-49 1h1m4 0h1m4 0h1m2 0h2m2 0h5m7 0h2m2 0h1m1 0h1m1 0h1m3 0h1m7 0h1m4 0h2m10 0h1m-63 1h2m1 0h2m2 0h1m1 0h1m6 0h3m1 0h1m3 0h3m4 0h2m1 0h1m1 0h3m4 0h1m10 0h1m-59 1h1m13 0h1m6 0h1m3 0h2m5 0h1m5 0h1m4 0h1m5 0h1m-53 1h1m2 0h1m4 0h3m1 0h1m1 0h1m3 0h1m1 0h1m2 0h1m5 0h1m3 0h2m6 0h1m5 0h1m5 0h2m2 0h1m-58 1h2m1 0h2m1 0h1m1 0h1m2 0h1m6 0h1m2 0h2m18 0h1m1 0h2m4 0h1m1 0h1m7 0h2m-58 1h1m5 0h2m3 0h1m3 0h1m3 0h1m1 0h1m1 0h1m1 0h1m1 0h2m6 0h1m2 0h3m1 0h1m2 0h4m1 0h1m-50 1h1m1 0h1m1 0h1m9 0h2m3 0h6m3 0h1m4 0h1m1 0h2m3 0h1m4 0h1m2 0h1m2 0h3m-55 1h1m1 0h1m2 0h1m1 0h1m2 0h3m1 0h2m5 0h1m10 0h1m1 0h1m2 0h2m3 0h1m3 0h2m2 0h1m2 0h2m-51 1h3m1 0h1m5 0h1m1 0h3m1 0h3m6 0h3m3 0h2m5 0h1m1 0h1m1 0h1m3 0h1m5 0h1m-60 1h2m3 0h1m5 0h1m2 0h1m3 0h1m1 0h1m3 0h2m1 0h1m3 0h1m2 0h1m4 0h3m2 0h1m2 0h1m2 0h3m-52 1h1m5 0h2m3 0h2m2 0h1m9 0h1m2 0h1m4 0h1m5 0h1m2 0h1m1 0h1m2 0h2m2 0h1m1 0h1m1 0h1m-55 1h1m9 0h2m4 0h4m2 0h3m6 0h1m4 0h2m1 0h2m1 0h1m1 0h1m4 0h1m-52 1h1m7 0h1m1 0h2m1 0h1m7 0h1m1 0h1m10 0h1m5 0h2m1 0h4m8 0h2m-49 1h1m1 0h1m2 0h1m1 0h1m1 0h1m9 0h3m2 0h1m8 0h4m3 0h2m2 0h1m1 0h1m-55 1h1m1 0h3m1 0h1m1 0h1m7 0h2m8 0h3m2 0h3m7 0h1m4 0h2m2 0h1m2 0h1m1 0h1m-55 1h1m2 0h2m2 0h2m1 0h1m1 0h1m2 0h3m8 0h1m1 0h5m1 0h1m2 0h1m4 0h1m1 0h1m-45 1h2m4 0h3m2 0h1m6 0h1m4 0h1m3 0h1m1 0h1m3 0h2m7 0h4m1 0h1m-41 1h1m2 0h1m1 0h1m1 0h3m7 0h2m4 0h1m1 0h2m2 0h1m9 0h1m5 0h1m1 0h1m-53 1h2m1 0h1m6 0h1m3 0h1m2 0h2m8 0h1m1 0h1m4 0h1m9 0h1m5 0h2m-47 1h1m2 0h3m3 0h1m4 0h1m7 0h1m4 0h1m1 0h1m5 0h1m1 0h1m3 0h2m1 0h1m-53 1h1m2 0h1m1 0h3m13 0h1m1 0h2m1 0h2m4 0h1m14 0h1m2 0h3m2 0h1m3 0h1m-59 1h2m1 0h3m13 0h2m1 0h2m2 0h1m9 0h1m1 0h1m1 0h1m4 0h1m9 0h1m2 0h1m1 0h1"/>
<path stroke-opacity="1" d="M0 0m231 168h1m21 1h1m-43 5h1m-5 1h2m13 0h2m-16 1h1m8 0h2m9 0h1m-19 1h1m3 0h1m-6 1h3m2 0h1m5 0h2m-14 1h4m12 0h1m-20 1h1m1 0h4m1 0h3m3 0h1m-16 1h1m1 0h1m1 0h3m2 0h2m3 0h2m5 0h1m4 0h1m1 0h1m-30 1h1m2 0h5m1 0h8m4 0h1m1 0h1m-24 1h2m2 0h2m1 0h1m1 0h2m1 0h1m1 0h1m-13 1h4m1 0h1m1 0h1m2 0h1m1 0h1m4 0h1m-20 1h8m1 0h4m2 0h2m18 0h1m-40 1h1m5 0h2m1 0h6m3 0h3m5 0h1m6 0h1m-33 1h1m1 0h1m3 0h9m1 0h1m9 0h2m-25 1h12m3 0h1m7 0h3m-28 1h3m1 0h14m2 0h1m-22 1h1m1 0h5m1 0h14m8 0h1m-29 1h17m1 0h2m3 0h1m-24 1h4m1 0h8m6 0h1m-24 1h1m1 0h1m1 0h4m1 0h11m1 0h1m4 0h1m5 0h2m-30 1h1m2 0h7m1 0h6m11 0h1m-28 1h13m4 0h4m-20 1h2m1 0h13m2 0h4m1 0h1m-24 1h6m1 0h7m6 0h2m-24 1h1m1 0h1m1 0h1m1 0h5m1 0h4m1 0h1m2 0h2m-22 1h1m2 0h6m4 0h2m1 0h1m1 0h1m1 0h2m-18 1h1m1 0h4m1 0h6m-15 1h14m3 0h1m-22 1h1m6 0h1m2 0h2m1 0h4m5 0h1m-15 1h1m1 0h2m2 0h1m1 0h1m2 0h2m4 0h1m-21 1h1m3 0h2m1 0h1m3 0h2m28 0h1m-42 1h1m3 0h1m2 0h1m7 0h1m11 0h1m-29 1h2m1 0h2m1 0h1m3 0h1m11 0h1m-30 1h1m9 0h4m2 0h2m4 0h2m1 0h1m3 0h1m-13 1h2m5 0h1m4 0h1m-30 1h1m7 0h2m14 0h1m-14 1h1m4 0h1m10 0h1m13 0h1m-23 1h2m5 0h2m2 0h1m9 0h1m-28 1h1m16 0h1m-18 1h1m1 0h1m9 0h1m3 0h1m-19 1h1m8 0h2m-25 1h1m7 0h1m10 0h1m12 0h2m13 0h1m11 0h1m-52 1h1m1 0h1m5 0h1m23 0h2m4 0h1m-33 1h1m16 0h1m-11 1h2m3 0h1m22 0h1m-44 1h1m1 0h2m1 0h1m10 0h1m10 0h1m-27 1h1m14 0h1m9 0h1m-24 1h1m7 0h2m16 0h1m-31 1h1m18 0h2m1 0h1m10 0h1m-31 1h1m16 0h1m-19 1h1m10 0h1m6 0h1m-26 1h1m13 0h1m2 0h1m3 0h1m3 0h1m1 0h1m2 1h1m4 0h1m6 0h1m8 0h1m-17 1h1m6 0h1m-21 1h1m4 0h1m7 0h1m11 0h1m-35 1h1m12 0h1m9 0h1m5 0h1m-24 1h1m5 0h1m-15 1h1m3 0h1m8 0h1m7 0h1m6 0h1m-24 1h1m11 0h1m5 0h2m5 0h1m4 0h1m2 0h1m4 0h1m-40 1h1m7 0h1m3 0h1m10 0h1m-24 1h1m3 0h1m26 0h1m2 0h2m-37 1h1m16 0h1m2 0h1m9 0h1m-34 1h2m7 0h1m7 0h1m1 0h3m13 0h1m4 0h1m-41 1h1m6 0h2m13 0h1m16 0h1m-43 1h1m7 0h1m1 0h3m8 0h1m3 0h1m3 0h1m6 0h1m11 0h1m-44 1h3m8 0h1m3 0h2m2 0h1m1 0h3m1 0h1m4 0h1m4 0h1m-39 1h1m19 0h1m12 0h1m4 0h1m-44 1h4m7 0h1m3 0h1m1 0h1m9 0h2m9 0h2m2 0h1m1 0h1m-45 1h1m5 0h1m2 0h1m1 0h1m5 0h1m2 0h1m6 0h4m3 0h1m1 0h1m5 0h1m1 0h1m1 0h1m-46 1h2m6 0h3m2 0h2m1 0h2m4 0h1m3 0h1m13 0h1m8 0h1m-53 1h1m12 0h2m11 0h1m2 0h2m1 0h2m8 0h1m6 0h2m-46 1h3m9 0h1m3 0h2m1 0h7m8 0h1m1 0h1m5 0h1m1 0h1m-44 1h4m5 0h2m6 0h2m1 0h3m3 0h1m1 0h1m3 0h2m5 0h1m1 0h1m-45 1h1m5 0h2m3 0h4m8 0h2m3 0h1m12 0h3m1 0h1m4 0h1m-51 1h9m3 0h1m4 0h1m1 0h1m4 0h3m6 0h1m7 0h4m-40 1h1m1 0h1m1 0h2m13 0h3m2 0h1m3 0h1m3 0h2m4 0h2m-44 1h1m1 0h2m2 0h5m1 0h1m3 0h1m1 0h3m1 0h5m4 0h2m10 0h1m2 0h1m1 0h1m2 0h1m-55 1h1m2 0h2m6 0h1m1 0h1m1 0h3m3 0h1m1 0h1m4 0h2m2 0h1m7 0h1m1 0h1m-40 1h1m2 0h4m3 0h1m2 0h3m8 0h1m2 0h2m7 0h1m2 0h3m2 0h1m-52 1h2m5 0h1m1 0h1m1 0h2m3 0h1m2 0h1m1 0h2m2 0h1m4 0h2m1 0h2m11 0h3m5 0h1m-55 1h1m9 0h1m1 0h3m7 0h1m7 0h2m10 0h1m3 0h1m-38 1h1m2 0h2m5 0h1m8 0h1m3 0h1m4 0h1m15 0h1m-45 1h1m1 0h1m2 0h2m1 0h3m1 0h1m3 0h1m1 0h2m1 0h4m5 0h1m2 0h1m7 0h2m1 0h1m-54 1h2m6 0h2m1 0h1m2 0h2m11 0h6m1 0h1m2 0h1m2 0h1m4 0h1m3 0h2m-42 1h1m2 0h1m13 0h1m1 0h5m4 0h1m1 0h1m2 0h1m7 0h1m3 0h1m-55 1h1m2 0h2m7 0h1m7 0h1m4 0h2m3 0h2m13 0h2m4 0h1m-27 1h1m3 0h2m4 0h1m1 0h1m2 0h1m2 0h2m3 0h2m-44 1h1m5 0h1m13 0h1m17 0h1m-29 1h3m8 0h1m1 0h1m1 0h3m-27 1h1m4 0h1m5 0h1m1 0h2m2 0h1m3 0h2m12 0h1m3 0h1m1 0h1m5 0h1m-37 1h2m11 0h1m2 0h1m8 0h1m2 0h1m-43 1h1m4 0h1m8 0h1m8 0h2m7 0h1m10 0h2m2 0h1m-44 1h12m2 0h1m2 0h1m2 0h4m1 0h4m2 0h2m1 0h4m2 0h2m-50 1h1m2 0h1m3 0h13m2 0h1m2 0h2m1 0h8m4 0h1m1 0h4m1 0h6m2 0h1"/>
</g>
<rect x="192.75" y="161.4" width="122.25" height="106.6" fill="none" stroke="#000" stroke-width="1.2"/>
<path d="M231.4 161.4V268M192.75 230.5H315" fill="none" stroke="#000" stroke-width="1.05"/>
<path d="M192.75 268v3.3M192.75 268h-3.3M201.95 268v2.6M192.75 259.98h-2.6M207.33 268v2.6M192.75 255.28h-2.6M211.15 268v2.6M192.75 251.96h-2.6M214.11 268v2.6M192.75 249.37h-2.6M216.53 268v2.6M192.75 247.26h-2.6M218.58 268v2.6M192.75 245.48h-2.6M220.35 268v2.6M192.75 243.93h-2.6M221.91 268v2.6M192.75 242.57h-2.6M223.31 268v3.3M192.75 241.35h-3.3M232.51 268v2.6M192.75 233.33h-2.6M237.89 268v2.6M192.75 228.63h-2.6M241.71 268v2.6M192.75 225.31h-2.6M244.67 268v2.6M192.75 222.72h-2.6M247.09 268v2.6M192.75 220.61h-2.6M249.14 268v2.6M192.75 218.83h-2.6M250.91 268v2.6M192.75 217.28h-2.6M252.48 268v2.6M192.75 215.92h-2.6M253.88 268v3.3M192.75 214.7h-3.3M263.08 268v2.6M192.75 206.68h-2.6M268.46 268v2.6M192.75 201.98h-2.6M272.28 268v2.6M192.75 198.66h-2.6M275.24 268v2.6M192.75 196.07h-2.6M277.66 268v2.6M192.75 193.96h-2.6M279.7 268v2.6M192.75 192.18h-2.6M281.48 268v2.6M192.75 190.63h-2.6M283.04 268v2.6M192.75 189.27h-2.6M284.44 268v3.3M192.75 188.05h-3.3M293.64 268v2.6M192.75 180.03h-2.6M299.02 268v2.6M192.75 175.33h-2.6M302.84 268v2.6M192.75 172.01h-2.6M305.8 268v2.6M192.75 169.42h-2.6M308.22 268v2.6M192.75 167.31h-2.6M310.27 268v2.6M192.75 165.53h-2.6M312.04 268v2.6M192.75 163.98h-2.6M313.6 268v2.6M192.75 162.62h-2.6M315 268v2.6M192.75 161.4h-2.6" fill="none" stroke="#000" stroke-width="1.3"/>
<text transform="translate(187.45 278.5) scale(.8 1)" class="tx">10<tspan class="ex" dx=".6" dy="-3.8">0</tspan></text>
<text transform="translate(186.85 273.6) rotate(-90) scale(.85 1)" class="ty">10<tspan class="ey" dy="-3.3">0</tspan></text>
<text transform="translate(218.01 278.5) scale(.8 1)" class="tx">10<tspan class="ex" dx=".6" dy="-3.8">1</tspan></text>
<text transform="translate(186.85 246.95) rotate(-90) scale(.85 1)" class="ty">10<tspan class="ey" dy="-3.3">1</tspan></text>
<text transform="translate(248.58 278.5) scale(.8 1)" class="tx">10<tspan class="ex" dx=".6" dy="-3.8">2</tspan></text>
<text transform="translate(186.85 220.3) rotate(-90) scale(.85 1)" class="ty">10<tspan class="ey" dy="-3.3">2</tspan></text>
<text transform="translate(279.14 278.5) scale(.8 1)" class="tx">10<tspan class="ex" dx=".6" dy="-3.8">3</tspan></text>
<text transform="translate(186.85 193.65) rotate(-90) scale(.85 1)" class="ty">10<tspan class="ey" dy="-3.3">3</tspan></text>
<text transform="translate(309.7 278.5) scale(.8 1)" class="tx">10<tspan class="ex" dx=".6" dy="-3.8">4</tspan></text>
<text transform="translate(186.85 167) rotate(-90) scale(.85 1)" class="ty">10<tspan class="ey" dy="-3.3">4</tspan></text>
</g>
<g>
<g transform="translate(0 .5)" class="dots">
<path stroke-opacity="0.3" d="M0 0m370 174h1m1 0h1m-10 2h1m-1 1h1m30 4h2m-2 1h2m-24 3h1m37 0h1m-46 1h3m4 0h1m1 0h1m3 0h1m3 0h1m21 0h1m-40 1h3m5 0h1m5 0h1m1 0h1m21 0h1m-38 2h1m21 0h1m-28 1h1m2 0h2m13 0h1m7 0h1m3 0h1m21 0h1m-60 1h1m16 0h1m16 0h1m7 0h1m15 0h2m-59 1h1m16 0h1m5 0h1m24 0h1m-27 1h1m2 0h1m11 0h1m-44 1h1m5 0h1m11 0h1m6 0h2m17 0h1m9 0h1m21 0h1m2 0h1m-63 1h1m6 0h1m1 0h1m8 0h1m31 0h1m9 0h1m1 0h1m-65 1h1m2 0h1m5 0h1m9 0h1m2 0h1m4 0h1m20 0h1m2 0h1m-53 1h2m16 0h1m8 0h1m5 0h1m1 0h1m8 0h1m8 0h1m6 0h1m-59 1h1m20 0h1m6 0h1m1 0h1m6 0h2m3 0h1m7 0h2m5 0h1m-41 1h1m1 0h1m15 0h1m-31 1h1m22 0h1m3 0h1m10 0h1m3 0h2m3 0h1m1 0h1m-60 1h2m11 0h2m6 0h1m11 0h1m1 0h1m12 0h1m7 0h1m-57 1h1m4 0h1m1 0h1m7 0h1m6 0h1m1 0h1m3 0h1m5 0h1m4 0h1m2 0h1m10 0h2m7 0h1m-57 1h2m5 0h1m1 0h1m3 0h1m1 0h1m4 0h2m11 0h1m6 0h1m6 0h4m2 0h1m15 0h1m-62 1h2m6 0h1m5 0h1m1 0h1m3 0h1m13 0h1m2 0h1m3 0h1m-60 1h2m10 0h1m3 0h2m4 0h1m3 0h1m6 0h1m5 0h1m3 0h1m4 0h1m1 0h1m-50 1h1m12 0h1m13 0h2m9 0h6m1 0h1m2 0h1m11 0h1m-56 1h1m12 0h2m8 0h1m3 0h1m3 0h1m8 0h2m7 0h2m5 0h1m-56 1h1m6 0h1m3 0h1m2 0h1m7 0h1m10 0h1m8 0h1m5 0h1m-66 1h1m12 0h2m4 0h1m18 0h1m2 0h1m3 0h1m1 0h1m5 0h2m1 0h1m7 0h1m-50 1h1m2 0h1m9 0h2m11 0h1m3 0h2m11 0h1m2 0h2m3 0h1m-44 1h1m5 0h3m7 0h2m4 0h1m2 0h2m6 0h2m5 0h1m7 0h1m11 0h1m-59 1h2m2 0h1m3 0h1m1 0h2m1 0h1m3 0h1m4 0h4m11 0h1m2 0h1m16 0h1m-61 1h1m3 0h1m1 0h2m2 0h1m7 0h1m3 0h1m4 0h1m4 0h1m5 0h1m6 0h1m-55 1h1m2 0h2m1 0h1m1 0h1m1 0h1m7 0h1m2 0h1m1 0h2m4 0h2m5 0h1m4 0h1m2 0h1m3 0h1m14 0h1m1 0h1m4 0h1m1 0h1m-72 1h1m8 0h3m7 0h1m8 0h1m1 0h4m3 0h1m2 0h1m20 0h1m8 0h1m-60 1h1m6 0h1m7 0h1m14 0h1m11 0h2m21 0h1m-81 1h1m3 0h1m1 0h2m6 0h1m19 0h1m31 0h1m3 0h1m2 0h1m-77 1h1m1 0h2m6 0h1m5 0h1m2 0h1m4 0h1m2 0h1m2 0h1m7 0h2m1 0h1m3 0h1m3 0h2m11 0h1m6 0h1m2 0h1m-73 1h1m11 0h1m6 0h1m3 0h1m8 0h3m1 0h1m4 0h1m3 0h1m1 0h1m4 0h1m8 0h1m6 0h2m9 0h1m5 0h1m-73 1h1m13 0h1m19 0h1m4 0h1m7 0h2m2 0h1m5 0h1m1 0h2m2 0h1m7 0h1m-72 1h1m7 0h3m1 0h1m12 0h1m1 0h1m12 0h1m7 0h1m4 0h1m3 0h1m4 0h1m-63 1h1m2 0h1m1 0h1m10 0h1m1 0h1m2 0h1m2 0h1m6 0h1m3 0h1m2 0h1m1 0h1m1 0h1m2 0h1m19 0h2m-76 1h1m7 0h2m1 0h1m1 0h1m3 0h1m1 0h1m4 0h1m2 0h1m1 0h1m5 0h1m4 0h1m5 0h1m3 0h1m1 0h1m2 0h1m8 0h1m-64 1h3m6 0h1m6 0h2m11 0h1m5 0h1m1 0h1m2 0h1m9 0h1m16 0h1m1 0h1m5 0h1m-75 1h1m25 0h2m1 0h1m8 0h1m4 0h1m6 0h1m10 0h1m11 0h2m3 0h1m-71 1h1m2 0h1m12 0h1m7 0h1m6 0h1m8 0h2m24 0h1m5 0h1m-52 1h2m2 0h2m5 0h1m3 0h1m-33 1h2m2 0h2m3 0h1m4 0h1m9 0h1m8 0h1m1 0h1m27 0h1m1 0h1m-63 1h1m1 0h1m8 0h1m1 0h1m6 0h1m2 0h1m18 0h1m2 0h1m7 0h1m4 0h1m-57 1h2m4 0h1m5 0h1m7 0h1m3 0h1m31 0h1m2 0h1m-59 1h3m2 0h1m1 0h1m1 0h3m1 0h1m7 0h1m4 0h1m1 0h1m3 0h1m3 0h1m22 0h1m-62 1h2m1 0h1m3 0h1m10 0h1m6 0h4m29 0h1m3 0h1m1 0h1m1 0h1m-59 1h1m5 0h1m3 0h1m5 0h1m4 0h2m23 0h1m7 0h4m-67 1h1m9 0h1m1 0h1m9 0h1m1 0h1m9 0h1m15 0h1m4 0h1m2 0h2m1 0h2m-68 1h2m7 0h1m2 0h1m6 0h2m7 0h1m6 0h1m1 0h1m22 0h1m1 0h3m1 0h1m-60 1h1m1 0h1m13 0h1m3 0h1m2 0h2m2 0h1m24 0h3m1 0h1m3 0h1m1 0h1m-74 1h1m7 0h1m3 0h1m2 0h1m7 0h1m7 0h1m1 0h1m40 0h1m-80 1h1m3 0h1m9 0h2m45 0h1m7 0h1m6 0h1m-84 1h1m5 0h1m6 0h1m1 0h1m17 0h2m11 0h1m9 0h2m22 0h1m7 0h1m-90 1h1m5 0h1m6 0h1m7 0h2m14 0h1m42 0h1m4 0h1m-81 1h1m8 0h2m6 0h2m1 0h1m7 0h1m6 0h1m41 0h2m-77 1h1m2 0h1m26 0h1m3 0h1m11 0h1m26 0h1m-76 1h1m1 0h1m12 0h1m6 0h1m8 0h1m6 0h1m38 0h1m-79 1h1m3 0h1m5 0h1m3 0h1m6 0h1m1 0h2m-23 1h1m2 0h1m2 0h1m7 0h1m24 0h1m31 0h1m-77 1h1m3 0h1m8 0h1m6 0h1m5 0h1m28 0h1m19 0h1m-75 1h1m4 0h1m1 0h1m4 0h1m15 0h1m48 0h1m-74 1h1m36 0h1m8 0h1m22 0h1m3 0h1m-86 1h1m9 0h1m4 0h1m66 0h1m2 0h1m3 0h1m-89 1h1m5 0h1m3 0h1m3 0h1m49 0h1m18 0h1m4 0h1m-78 1h2m49 0h1m13 0h1m3 0h1m-82 1h1m3 0h1m2 0h1m10 0h1m23 0h1m18 0h1m11 0h1m4 0h1m2 0h1m1 0h1m-83 1h1m5 0h1m6 0h1m7 0h1m19 0h1m2 0h1m6 0h1m18 0h1m2 0h1m6 0h1m2 0h2m-41 1h1m17 0h1m10 0h2m1 0h1m2 0h1m-81 1h1m5 0h1m26 0h1m11 0h1m8 0h1m9 0h1m12 0h1m-78 1h2m2 0h1m26 0h1m2 0h3m3 0h1m2 0h1m10 0h1m2 0h1m11 0h1m4 0h1m-69 1h2m1 0h1m42 0h1m2 0h1m8 0h1m8 0h1m-71 1h2m24 0h1m12 0h1m8 0h1m3 0h1m5 0h2m3 0h1m2 0h1m-69 1h1m1 0h1m41 0h1m4 0h1m3 0h3m9 0h1m1 0h1m1 0h1m1 0h1m-70 1h1m2 0h1m3 0h1m15 0h1m4 0h1m3 0h1m6 0h1m15 0h2m1 0h1m9 0h3m-73 1h1m8 0h1m6 0h1m22 0h1m1 0h1m6 0h1m8 0h1m1 0h1m1 0h1m3 0h1m8 0h1m-68 1h2m8 0h1m7 0h1m2 0h1m8 0h1m2 0h1m4 0h1m3 0h1m2 0h3m1 0h1m3 0h1m2 0h1m3 0h1m7 0h1m-78 1h1m6 0h1m7 0h1m2 0h1m8 0h1m6 0h1m7 0h1m9 0h1m2 0h1m-53 1h1m3 0h1m11 0h1m7 0h2m1 0h1m8 0h1m8 0h1m8 0h2m6 0h1m6 0h1m-71 1h1m4 0h1m6 0h1m9 0h1m4 0h1m14 0h1m2 0h1m9 0h2m6 0h1m-66 1h1m11 0h1m2 0h1m1 0h1m2 0h1m8 0h1m4 0h2m5 0h1m3 0h1m6 0h1m6 0h1m4 0h1m3 0h2m-70 1h1m11 0h1m1 0h1m10 0h1m4 0h1m17 0h1m4 0h1m4 0h1m4 0h1m4 0h2"/>
<path stroke-opacity="0.52" d="M0 0m369 175h2m-9 1h1m-1 1h1m17 1h1m-1 1h1m33 4h2m-43 2h1m21 0h1m-32 1h1m16 0h1m2 0h2m-22 1h1m13 0h1m8 1h1m12 0h1m-35 2h1m8 0h1m16 0h1m5 0h1m9 0h1m3 0h1m-49 1h2m9 0h1m-22 1h1m15 1h1m10 0h1m9 0h1m-32 1h2m8 0h1m9 0h1m10 0h1m37 0h1m-58 1h1m1 0h1m11 0h1m38 0h1m3 0h1m-67 1h1m8 0h1m25 0h1m-22 1h1m4 0h2m2 0h4m2 0h1m4 0h1m10 0h1m3 0h1m2 0h1m6 0h1m-42 1h1m3 0h1m1 0h1m10 0h2m8 0h1m-23 1h1m15 0h1m4 0h1m4 0h2m-20 1h1m14 0h3m-47 1h2m11 0h1m26 0h1m3 0h1m-49 1h1m4 0h1m13 0h2m5 0h1m7 0h1m4 0h1m14 0h4m15 0h2m-74 1h2m13 0h1m2 0h1m1 0h1m7 0h1m4 0h1m7 0h1m19 0h1m-76 1h1m28 0h1m1 0h1m27 0h1m-60 1h1m18 0h1m8 0h1m21 0h1m1 0h1m-45 1h1m21 0h2m1 0h1m1 0h1m3 0h1m13 0h1m4 0h2m13 0h1m-71 1h1m32 0h1m10 0h1m5 0h1m4 0h2m5 0h1m2 0h1m4 0h1m-71 1h1m4 0h1m14 0h1m11 0h1m4 0h1m11 0h1m13 0h1m-59 1h1m13 0h2m6 0h2m8 0h1m3 0h1m1 0h1m6 0h1m2 0h1m4 0h1m-44 1h1m11 0h2m8 0h1m11 0h1m9 0h2m1 0h2m1 0h1m16 0h2m-69 1h1m7 0h1m5 0h2m14 0h2m10 0h1m-56 1h1m20 0h1m1 0h1m3 0h1m6 0h1m2 0h1m6 0h1m9 0h1m2 0h1m4 0h1m7 0h2m-63 1h2m7 0h1m17 0h1m1 0h1m15 0h1m4 0h1m2 0h1m8 0h1m-51 1h2m2 0h2m6 0h1m4 0h1m1 0h2m-21 1h1m3 0h1m24 0h2m9 0h1m14 0h1m1 0h2m-63 1h1m13 0h1m2 0h2m14 0h1m1 0h1m17 0h1m5 0h1m-75 1h1m19 0h1m6 0h1m2 0h1m2 0h1m7 0h1m3 0h4m11 0h3m7 0h1m2 0h1m1 0h2m20 0h1m-101 1h1m9 0h1m7 0h2m3 0h1m2 0h2m1 0h2m4 0h1m13 0h1m10 0h2m9 0h1m-72 1h1m8 0h2m1 0h1m5 0h1m7 0h1m2 0h2m1 0h1m8 0h1m1 0h1m1 0h1m3 0h1m14 0h1m9 0h2m-65 1h1m3 0h4m8 0h1m5 0h1m5 0h1m4 0h1m5 0h1m12 0h2m2 0h1m1 0h1m10 0h1m-70 1h1m3 0h1m9 0h1m2 0h2m3 0h1m6 0h1m1 0h1m6 0h3m8 0h1m5 0h1m1 0h1m3 0h1m2 0h1m2 0h1m2 0h2m-70 1h1m6 0h4m7 0h1m8 0h1m3 0h1m5 0h1m10 0h1m1 0h1m1 0h1m1 0h1m3 0h1m1 0h1m-80 1h1m24 0h1m1 0h1m3 0h2m3 0h1m5 0h1m1 0h1m2 0h1m2 0h1m34 0h1m-86 1h1m22 0h1m8 0h1m10 0h1m2 0h1m1 0h1m15 0h1m6 0h1m5 0h1m2 0h1m1 0h2m-70 1h1m7 0h2m4 0h2m8 0h1m6 0h2m1 0h1m1 0h1m6 0h1m15 0h1m5 0h1m4 0h1m-47 1h2m2 0h2m4 0h1m1 0h2m11 0h3m3 0h1m2 0h1m2 0h2m4 0h1m3 0h1m2 0h1m2 0h1m-66 1h1m24 0h1m4 0h1m7 0h1m16 0h1m2 0h1m-61 1h1m6 0h1m18 0h1m11 0h1m1 0h1m6 0h2m8 0h2m-54 1h1m1 0h1m2 0h1m8 0h3m6 0h1m1 0h1m3 0h1m5 0h1m6 0h1m8 0h1m1 0h1m6 0h1m-61 1h1m2 0h2m3 0h3m1 0h1m1 0h2m1 0h2m9 0h1m5 0h1m3 0h1m12 0h1m4 0h1m1 0h1m-65 1h1m3 0h1m9 0h1m1 0h1m3 0h1m1 0h1m1 0h2m1 0h2m19 0h1m14 0h1m1 0h1m-67 1h1m4 0h2m4 0h1m10 0h1m3 0h1m12 0h1m5 0h1m7 0h1m10 0h1m1 0h2m2 0h1m-64 1h2m1 0h1m6 0h1m4 0h1m1 0h1m10 0h1m20 0h1m5 0h1m2 0h1m-59 1h3m1 0h1m2 0h1m8 0h1m1 0h2m7 0h1m1 0h2m-44 1h1m16 0h1m2 0h1m2 0h1m8 0h1m13 0h1m7 0h1m11 0h1m-60 1h1m7 0h1m4 0h1m5 0h2m1 0h1m2 0h1m2 0h1m4 0h1m10 0h1m-29 1h1m3 0h1m3 0h1m3 0h1m37 0h1m-71 1h1m10 0h2m13 0h1m3 0h2m1 0h1m2 0h1m10 0h1m12 0h1m5 0h1m1 0h2m-78 1h1m3 0h2m6 0h1m3 0h1m1 0h1m1 0h2m2 0h1m3 0h1m2 0h1m1 0h1m4 0h2m1 0h1m1 0h1m4 0h1m6 0h1m12 0h1m2 0h1m2 0h1m2 0h1m1 0h2m2 0h1m-74 1h1m3 0h2m7 0h2m1 0h2m13 0h1m1 0h1m20 0h1m7 0h1m1 0h1m1 0h1m1 0h1m-73 1h1m4 0h1m1 0h1m2 0h1m2 0h1m6 0h1m5 0h1m5 0h2m3 0h1m2 0h1m29 0h1m-74 1h1m5 0h1m1 0h2m3 0h1m1 0h3m5 0h1m12 0h1m31 0h2m-70 1h1m10 0h1m1 0h1m10 0h1m9 0h1m2 0h2m31 0h3m-69 1h1m2 0h1m3 0h1m17 0h1m7 0h1m10 0h3m1 0h1m20 0h1m-64 1h1m9 0h1m23 0h1m5 0h2m4 0h1m7 0h3m1 0h1m3 0h2m-80 1h1m7 0h1m7 0h1m3 0h2m2 0h1m3 0h1m16 0h1m3 0h1m5 0h1m11 0h1m2 0h1m2 0h1m-66 1h1m6 0h1m10 0h1m2 0h1m2 0h1m12 0h2m7 0h1m5 0h2m11 0h1m4 0h1m-72 1h1m4 0h2m7 0h1m4 0h1m1 0h1m14 0h1m2 0h1m2 0h1m17 0h2m7 0h1m-77 1h1m3 0h1m30 0h1m12 0h1m14 0h1m2 0h1m8 0h1m-75 1h1m3 0h1m8 0h1m4 0h1m36 0h1m3 0h1m2 0h1m2 0h3m4 0h1m-72 1h2m6 0h1m2 0h1m2 0h2m1 0h1m23 0h2m4 0h1m6 0h1m6 0h2m-42 1h1m5 0h1m5 0h1m4 0h2m2 0h1m7 0h1m1 0h1m4 0h1m2 0h1m-63 1h1m1 0h1m2 0h1m9 0h1m1 0h1m5 0h3m9 0h1m7 0h1m2 0h1m5 0h2m17 0h1m-79 1h2m4 0h1m1 0h1m2 0h1m4 0h1m5 0h1m19 0h1m9 0h3m2 0h1m3 0h1m1 0h1m2 0h1m-66 1h2m6 0h1m2 0h1m7 0h2m8 0h1m3 0h1m3 0h1m7 0h4m1 0h1m5 0h1m1 0h2m12 0h2m-71 1h1m2 0h1m1 0h1m9 0h1m37 0h1m1 0h1m1 0h1m7 0h1m-71 1h1m1 0h1m2 0h1m4 0h1m1 0h1m6 0h1m11 0h1m1 0h1m6 0h1m4 0h1m1 0h1m8 0h1m3 0h1m2 0h1m3 0h1m1 0h2m-70 1h2m4 0h1m18 0h1m12 0h2m7 0h1m7 0h1m1 0h2m4 0h2m1 0h1m3 0h2m1 0h2m-74 1h1m5 0h1m10 0h1m1 0h1m18 0h1m1 0h1m1 0h1m8 0h1m4 0h1m1 0h1m1 0h1m2 0h1m5 0h1m3 0h1m-72 1h1m7 0h1m6 0h1m2 0h1m16 0h2m2 0h1m1 0h6m3 0h3m9 0h3m-67 1h1m8 0h1m8 0h1m1 0h2m2 0h1m8 0h2m6 0h2m1 0h1m3 0h2m2 0h2m9 0h1m-63 1h1m2 0h1m3 0h1m8 0h1m1 0h2m7 0h1m1 0h1m10 0h1m31 0h1m-75 1h1m2 0h1m2 0h1m3 0h1m3 0h2m12 0h1m2 0h1m4 0h1m7 0h2m24 0h1m-72 1h2m5 0h1m1 0h3m2 0h1m13 0h1m4 0h1m3 0h1m2 0h1m1 0h1m2 0h2m18 0h1m-58 1h1m3 0h1m2 0h3m1 0h1m4 0h1m1 0h1m3 0h1m7 0h1m8 0h1m4 0h1m12 0h1m-65 1h2m1 0h1m8 0h1m1 0h1m9 0h2m4 0h2m2 0h1m3 0h1m1 0h1m3 0h2m5 0h1m-52 1h1m7 0h1m2 0h1m6 0h2m2 0h1m2 0h1m6 0h2m2 0h1m2 0h1m2 0h2m6 0h1m6 0h1"/>
<path stroke-opacity="0.76" d="M0 0m371 174h1m38 10h1m-40 1h1m1 1h1m21 0h1m7 0h1m-32 1h1m28 1h1m-15 1h1m-28 1h1m17 0h1m9 0h1m7 0h2m9 0h1m-36 1h1m4 1h1m-29 1h1m17 0h1m35 0h1m-23 1h1m10 0h1m-8 1h1m1 0h1m-22 1h1m10 0h1m7 0h1m2 0h1m1 0h1m6 0h1m18 0h1m-52 1h1m19 0h1m7 0h1m1 0h1m1 2h3m8 0h1m-38 1h1m46 0h1m-42 1h1m16 0h1m11 0h2m9 0h2m-45 1h1m8 0h1m17 0h1m4 0h2m11 0h1m-44 1h1m6 0h1m1 0h1m2 0h1m2 0h1m8 0h3m4 0h1m3 0h1m10 0h1m-50 1h1m2 0h1m1 0h1m2 0h1m3 0h2m8 0h1m9 0h1m-20 1h1m1 0h1m8 0h1m10 0h1m6 0h1m-70 1h1m15 0h1m5 0h2m2 0h1m9 0h1m-6 1h1m4 0h1m11 0h1m9 0h1m-29 1h1m1 0h2m4 0h1m8 0h1m1 0h1m8 0h1m2 0h1m4 0h2m-51 1h2m15 0h1m17 0h1m7 0h1m1 0h1m3 0h3m-69 1h1m12 0h2m8 0h2m15 0h1m14 0h3m13 0h1m-34 1h1m8 0h1m10 0h1m2 0h1m2 0h2m-35 1h1m13 0h2m19 0h1m16 0h1m-77 1h1m10 0h1m11 0h2m2 0h3m4 0h2m3 0h1m1 0h1m4 0h1m23 0h1m-64 1h1m3 0h1m16 0h1m3 0h1m6 0h1m4 0h1m1 0h1m13 0h1m7 0h1m1 0h1m4 0h1m-83 1h1m36 0h2m4 0h1m38 0h1m-69 1h1m8 0h1m19 0h2m1 0h2m6 0h1m14 0h1m11 0h2m1 0h1m6 0h1m-67 1h1m6 0h1m8 0h1m3 0h1m3 0h1m1 0h1m15 0h1m9 0h1m-40 1h2m7 0h1m2 0h1m19 0h1m12 0h2m7 0h1m13 0h1m-85 1h2m1 0h1m7 0h2m2 0h1m22 0h1m10 0h1m2 0h1m-45 1h3m3 0h2m6 0h1m4 0h1m10 0h1m13 0h1m6 0h1m5 0h1m-39 1h1m19 0h2m4 0h2m6 0h1m7 0h1m-57 1h1m3 0h1m2 0h1m4 0h1m13 0h1m6 0h1m1 0h1m3 0h3m4 0h1m1 0h2m-73 1h1m13 0h1m10 0h1m1 0h1m1 0h1m3 0h1m2 0h2m17 0h4m2 0h2m1 0h2m1 0h2m1 0h2m2 0h1m-65 1h1m1 0h2m4 0h1m9 0h1m1 0h1m10 0h1m11 0h1m1 0h4m3 0h1m1 0h1m9 0h1m-50 1h1m9 0h1m18 0h1m2 0h1m1 0h1m4 0h1m4 0h1m-35 1h1m1 0h1m6 0h2m10 0h1m2 0h1m2 0h1m3 0h1m4 0h2m4 0h1m-65 1h1m14 0h1m8 0h2m1 0h1m8 0h2m2 0h3m1 0h2m3 0h1m3 0h3m1 0h1m2 0h1m2 0h1m4 0h1m-54 1h1m2 0h2m6 0h1m13 0h1m1 0h1m2 0h1m2 0h1m3 0h1m8 0h2m1 0h1m1 0h1m-52 1h1m1 0h1m6 0h1m5 0h1m7 0h1m3 0h1m6 0h1m1 0h1m2 0h1m3 0h1m3 0h2m-61 1h1m11 0h1m4 0h1m5 0h1m1 0h1m4 0h1m10 0h1m1 0h1m3 0h1m1 0h1m5 0h1m-56 1h3m18 0h1m3 0h2m3 0h1m6 0h2m1 0h2m5 0h2m7 0h2m1 0h1m-47 1h2m3 0h1m13 0h1m1 0h5m3 0h1m11 0h2m1 0h1m4 0h1m3 0h1m-64 1h1m16 0h1m5 0h2m4 0h2m13 0h1m3 0h1m2 0h1m2 0h2m1 0h3m6 0h1m-82 1h1m6 0h1m8 0h1m4 0h1m4 0h2m2 0h1m4 0h1m1 0h1m1 0h1m4 0h1m12 0h1m8 0h1m1 0h1m-64 1h1m15 0h1m2 0h1m3 0h1m10 0h1m3 0h1m3 0h2m2 0h1m10 0h2m4 0h1m3 0h1m-65 1h1m8 0h2m9 0h1m2 0h1m1 0h1m8 0h1m1 0h2m1 0h1m2 0h1m5 0h2m1 0h1m2 0h2m1 0h1m3 0h1m2 0h1m4 0h1m-66 1h1m1 0h1m9 0h1m3 0h2m3 0h1m3 0h1m1 0h2m1 0h2m5 0h1m1 0h1m1 0h1m5 0h1m5 0h1m2 0h1m-53 1h2m1 0h2m1 0h1m1 0h5m6 0h1m1 0h2m1 0h1m3 0h1m2 0h2m11 0h3m1 0h1m1 0h1m1 0h1m1 0h1m2 0h1m-84 1h1m5 0h1m1 0h1m6 0h1m2 0h3m3 0h1m12 0h1m7 0h1m3 0h3m2 0h1m1 0h1m2 0h1m14 0h2m2 0h1m4 0h1m-70 1h1m1 0h1m1 0h1m6 0h1m1 0h1m6 0h1m1 0h1m1 0h1m1 0h1m2 0h2m4 0h1m5 0h1m2 0h1m6 0h1m1 0h1m6 0h3m5 0h1m-77 1h1m6 0h1m5 0h1m10 0h1m1 0h1m2 0h2m4 0h2m15 0h2m1 0h1m2 0h1m4 0h1m5 0h2m1 0h3m4 0h1m-75 1h2m5 0h1m1 0h1m1 0h1m4 0h2m5 0h1m1 0h1m1 0h1m3 0h2m1 0h2m3 0h1m1 0h1m7 0h2m6 0h1m9 0h2m-63 1h2m9 0h1m2 0h1m3 0h1m8 0h1m6 0h4m1 0h1m2 0h1m8 0h1m1 0h2m5 0h1m-67 1h1m5 0h1m3 0h2m6 0h5m5 0h2m2 0h1m2 0h1m2 0h1m1 0h1m2 0h1m4 0h1m11 0h2m2 0h3m-70 1h1m2 0h1m2 0h3m2 0h1m2 0h2m1 0h3m1 0h1m9 0h1m1 0h1m5 0h1m5 0h2m1 0h1m8 0h1m3 0h1m5 0h1m6 0h1m-77 1h1m8 0h1m4 0h1m7 0h1m4 0h1m3 0h2m3 0h1m1 0h1m7 0h1m2 0h1m7 0h2m3 0h1m5 0h1m-67 1h1m2 0h2m2 0h1m2 0h1m1 0h1m2 0h2m2 0h1m1 0h1m3 0h1m1 0h4m5 0h2m7 0h3m9 0h2m3 0h1m2 0h2m-68 1h2m3 0h1m3 0h1m1 0h3m8 0h1m2 0h1m2 0h1m1 0h1m2 0h1m3 0h1m1 0h1m3 0h1m2 0h1m3 0h1m5 0h2m7 0h3m1 0h1m-74 1h1m8 0h1m4 0h2m9 0h1m1 0h1m1 0h1m3 0h1m10 0h3m6 0h1m1 0h2m4 0h1m4 0h1m4 0h2m8 0h1m-91 1h1m9 0h1m1 0h1m1 0h1m1 0h3m1 0h1m3 0h1m4 0h2m10 0h1m2 0h3m1 0h1m2 0h1m1 0h1m1 0h2m1 0h1m3 0h1m3 0h1m2 0h1m20 0h1m-86 1h1m1 0h3m5 0h3m1 0h2m2 0h1m7 0h1m1 0h2m1 0h3m5 0h1m3 0h1m1 0h1m2 0h2m13 0h3m2 0h2m3 0h3m-76 1h1m3 0h7m9 0h1m6 0h3m1 0h1m2 0h1m4 0h2m5 0h1m2 0h2m2 0h2m3 0h4m1 0h1m2 0h1m2 0h2m8 0h1m-85 1h1m10 0h1m3 0h1m2 0h1m2 0h1m2 0h1m1 0h2m9 0h1m1 0h1m1 0h1m2 0h1m3 0h1m4 0h1m2 0h1m7 0h4m5 0h1m3 0h2m1 0h1m-81 1h1m13 0h3m1 0h1m3 0h1m1 0h3m4 0h1m3 0h3m1 0h1m1 0h2m3 0h1m5 0h1m6 0h2m11 0h2m-69 1h1m1 0h1m6 0h1m1 0h1m2 0h1m3 0h1m1 0h2m1 0h2m4 0h1m1 0h2m4 0h1m3 0h1m4 0h1m1 0h1m2 0h1m9 0h2m4 0h2m-65 1h1m1 0h3m4 0h1m5 0h1m3 0h1m8 0h2m5 0h2m1 0h1m1 0h2m1 0h1m3 0h1m2 0h1m6 0h3m4 0h1m-73 1h1m2 0h1m3 0h1m2 0h1m1 0h1m4 0h1m2 0h1m3 0h2m1 0h3m3 0h1m4 0h1m1 0h3m4 0h1m1 0h1m3 0h1m4 0h1m5 0h2m4 0h2m-68 1h2m1 0h4m1 0h1m2 0h1m2 0h1m1 0h2m2 0h1m1 0h2m1 0h2m1 0h2m1 0h2m7 0h3m1 0h1m4 0h1m5 0h1m-61 1h1m3 0h3m2 0h4m4 0h2m1 0h1m1 0h1m2 0h2m2 0h3m1 0h1m1 0h1m1 0h1m1 0h1m1 0h1m5 0h2m10 0h1m3 0h1m5 0h1m4 0h1m-74 1h2m2 0h1m1 0h3m6 0h2m2 0h1m3 0h1m2 0h4m5 0h3m2 0h1m2 0h1m6 0h1m8 0h1m14 0h1m-76 1h1m2 0h4m1 0h1m12 0h1m2 0h1m3 0h1m1 0h1m16 0h2m8 0h1m3 0h1m-62 1h1m4 0h1m5 0h1m2 0h2m4 0h1m7 0h1m8 0h1m27 0h1m-61 1h1m7 0h1m4 0h2m1 0h2m29 0h2m14 0h1m3 0h1m-69 1h2m6 0h2m2 0h1m2 0h4m8 0h2m8 0h1m10 0h2m-45 1h3m8 0h3m2 0h1m3 0h1m6 0h2m-35 1h1m2 0h1m2 0h2m1 0h1m4 0h2m1 0h4m5 0h1m7 0h1m5 0h1m9 0h1m-52 1h1m1 0h1m2 0h1m6 0h3m5 0h1m2 0h1m1 0h1m3 0h1m3 0h1m3 0h1m1 0h1m3 0h2m16 0h1"/>
<path stroke-opacity="1" d="M0 0m388 188h1m13 4h1m-49 2h1m29 2h1m4 0h1m-8 2h1m2 1h1m17 0h1m-31 3h1m15 1h1m-1 1h1m-3 1h1m8 0h1m4 0h1m3 0h1m1 0h1m-41 1h1m18 0h1m3 0h1m3 0h1m-12 1h1m4 0h1m28 0h1m-43 1h1m18 0h1m11 0h1m-27 2h1m28 0h1m6 1h1m-28 1h1m26 0h1m-38 1h1m-12 1h1m7 0h1m22 1h1m5 0h1m-15 1h1m12 0h1m-19 1h1m5 0h2m33 0h1m-42 1h1m8 0h1m1 0h1m-21 1h1m12 0h1m5 0h1m16 0h1m-30 1h1m16 0h1m20 0h1m-15 1h1m4 0h1m11 0h2m-36 1h1m2 0h2m7 0h1m8 0h1m5 0h1m7 0h1m-58 1h1m38 0h1m8 0h2m8 0h1m-51 1h1m12 0h2m26 0h2m1 0h1m-12 1h2m1 0h2m1 0h1m1 0h1m2 0h1m1 0h2m1 0h1m1 0h2m-64 1h1m4 0h1m20 0h1m19 0h2m2 0h1m6 0h1m1 0h2m1 0h1m-59 1h1m35 0h1m2 0h1m4 0h1m2 0h2m2 0h3m8 0h2m-25 1h1m2 0h1m1 0h2m4 0h3m1 0h3m-19 1h1m2 0h2m1 0h2m2 0h1m2 0h1m1 0h2m-31 1h2m2 0h1m11 0h3m1 0h1m3 0h3m1 0h1m1 0h2m1 0h2m5 0h1m-43 1h1m17 0h1m7 0h3m2 0h7m-61 1h1m21 0h1m22 0h2m1 0h4m1 0h6m2 0h1m-49 1h1m19 0h1m6 0h12m1 0h2m2 0h2m-43 1h1m4 0h1m9 0h1m8 0h10m1 0h4m1 0h3m-37 1h3m8 0h1m8 0h2m1 0h2m1 0h7m2 0h2m-47 1h1m19 0h1m3 0h1m2 0h1m1 0h2m2 0h4m2 0h1m1 0h2m2 0h1m8 0h1m-55 1h2m11 0h1m5 0h1m2 0h1m2 0h5m1 0h1m1 0h1m1 0h5m1 0h5m1 0h2m1 0h1m-49 1h1m1 0h1m6 0h3m8 0h3m1 0h2m2 0h1m1 0h8m6 0h1m-49 1h1m2 0h3m6 0h4m9 0h1m2 0h1m5 0h12m4 0h1m2 0h1m-64 1h1m5 0h2m5 0h1m2 0h1m1 0h1m3 0h1m1 0h2m2 0h1m4 0h5m1 0h2m1 0h6m1 0h1m1 0h1m1 0h4m4 0h1m-67 1h1m7 0h1m5 0h4m8 0h2m5 0h3m1 0h2m1 0h6m2 0h1m1 0h2m1 0h4m1 0h5m-62 1h1m1 0h1m3 0h1m6 0h1m2 0h2m4 0h1m3 0h1m7 0h3m1 0h1m2 0h6m2 0h6m1 0h6m-71 1h1m9 0h3m5 0h5m2 0h2m2 0h2m3 0h2m1 0h1m5 0h4m4 0h1m1 0h2m1 0h8m1 0h1m2 0h5m4 0h1m-66 1h1m6 0h2m1 0h1m7 0h3m1 0h1m2 0h2m1 0h1m2 0h2m1 0h1m1 0h2m1 0h1m5 0h10m2 0h2m5 0h1m-68 1h1m10 0h1m5 0h8m2 0h1m1 0h3m1 0h1m1 0h4m3 0h1m1 0h1m2 0h4m2 0h3m1 0h2m-61 1h1m7 0h1m4 0h2m5 0h2m1 0h3m2 0h3m1 0h1m1 0h2m1 0h3m3 0h1m3 0h5m2 0h3m2 0h2m1 0h1m-61 1h1m5 0h1m1 0h2m2 0h2m5 0h1m6 0h5m2 0h1m2 0h4m4 0h5m2 0h1m2 0h2m2 0h2m-63 1h2m1 0h1m3 0h1m3 0h2m1 0h4m3 0h1m1 0h2m1 0h1m1 0h2m1 0h2m4 0h1m1 0h1m4 0h3m1 0h5m2 0h4m2 0h1m5 0h1m-68 1h2m1 0h4m2 0h9m1 0h1m1 0h1m1 0h3m2 0h3m2 0h4m4 0h5m1 0h1m2 0h4m2 0h2m3 0h3m4 0h1m-77 1h1m10 0h1m1 0h1m1 0h1m1 0h2m1 0h1m2 0h10m1 0h2m5 0h2m1 0h1m1 0h1m2 0h1m1 0h3m1 0h1m3 0h1m2 0h1m1 0h2m3 0h4m-67 1h1m7 0h1m3 0h1m1 0h3m1 0h1m2 0h1m3 0h5m1 0h3m1 0h1m5 0h2m1 0h5m2 0h3m7 0h2m-61 1h2m1 0h6m1 0h5m4 0h1m2 0h1m1 0h2m4 0h2m2 0h1m5 0h2m11 0h1m2 0h1m6 0h2m-72 1h1m2 0h1m3 0h2m1 0h2m7 0h3m3 0h3m1 0h1m1 0h1m5 0h2m1 0h2m4 0h1m7 0h1m4 0h3m1 0h1m13 0h1m-79 1h1m10 0h3m5 0h4m1 0h3m3 0h1m1 0h1m3 0h1m2 0h5m4 0h2m3 0h1m3 0h2m1 0h4m4 0h1m-69 1h2m1 0h2m2 0h1m1 0h2m1 0h1m3 0h1m2 0h1m2 0h1m7 0h1m1 0h2m1 0h2m12 0h1m1 0h1m2 0h2m1 0h1m2 0h4m4 0h1m-63 1h4m1 0h1m1 0h3m1 0h3m1 0h2m8 0h1m1 0h2m3 0h1m1 0h1m2 0h1m1 0h1m11 0h1m5 0h1m-58 1h4m2 0h1m1 0h3m2 0h1m7 0h4m5 0h1m1 0h1m2 0h1m3 0h1m4 0h1m9 0h1m-69 1h1m11 0h1m1 0h2m1 0h2m1 0h1m2 0h2m10 0h1m2 0h1m4 0h2m8 0h1m9 0h1m-51 1h4m6 0h2m2 0h2m5 0h1m3 0h1m4 0h1m2 0h1m2 0h1m1 0h1m15 0h1m-68 1h1m10 0h1m1 0h3m2 0h1m4 0h1m1 0h1m48 0h1m-66 1h1m2 0h5m10 0h1m11 0h1m-36 1h1m7 0h2m2 0h2m9 0h1m14 0h1m2 0h1m1 0h2m2 0h2m-53 1h1m7 0h2m2 0h1m7 0h1m6 0h2m13 0h1m-35 1h1m6 0h1m1 0h1m54 0h1m-73 1h1m6 0h1m45 0h1m-54 1h1m4 0h1m1 0h2m15 0h1m2 0h1m2 0h1m5 0h1m5 0h1m-43 1h1m2 0h1m1 0h2m1 0h1m1 0h1m6 0h2m2 0h1m8 0h1m1 0h1m3 0h1m5 0h1"/>
</g>
<rect x="345.6" y="161.5" width="122.55" height="106.5" fill="none" stroke="#000" stroke-width="1.2"/>
<path d="M386.4 161.5V268M345.6 230.5H468.15" fill="none" stroke="#000" stroke-width="1.05"/>
<path d="M345.6 268v3.3M345.6 268h-3.3M354.82 268v2.6M345.6 259.99h-2.6M360.22 268v2.6M345.6 255.3h-2.6M364.05 268v2.6M345.6 251.97h-2.6M367.01 268v2.6M345.6 249.39h-2.6M369.44 268v2.6M345.6 247.28h-2.6M371.49 268v2.6M345.6 245.5h-2.6M373.27 268v2.6M345.6 243.96h-2.6M374.84 268v2.6M345.6 242.59h-2.6M376.24 268v3.3M345.6 241.38h-3.3M385.46 268v2.6M345.6 233.36h-2.6M390.86 268v2.6M345.6 228.67h-2.6M394.68 268v2.6M345.6 225.35h-2.6M397.65 268v2.6M345.6 222.76h-2.6M400.08 268v2.6M345.6 220.66h-2.6M402.13 268v2.6M345.6 218.87h-2.6M403.91 268v2.6M345.6 217.33h-2.6M405.47 268v2.6M345.6 215.97h-2.6M406.88 268v3.3M345.6 214.75h-3.3M416.1 268v2.6M345.6 206.74h-2.6M421.49 268v2.6M345.6 202.05h-2.6M425.32 268v2.6M345.6 198.72h-2.6M428.29 268v2.6M345.6 196.14h-2.6M430.72 268v2.6M345.6 194.03h-2.6M432.77 268v2.6M345.6 192.25h-2.6M434.54 268v2.6M345.6 190.71h-2.6M436.11 268v2.6M345.6 189.34h-2.6M437.51 268v3.3M345.6 188.12h-3.3M446.74 268v2.6M345.6 180.11h-2.6M452.13 268v2.6M345.6 175.42h-2.6M455.96 268v2.6M345.6 172.1h-2.6M458.93 268v2.6M345.6 169.51h-2.6M461.35 268v2.6M345.6 167.41h-2.6M463.4 268v2.6M345.6 165.62h-2.6M465.18 268v2.6M345.6 164.08h-2.6M466.75 268v2.6M345.6 162.72h-2.6M468.15 268v2.6M345.6 161.5h-2.6" fill="none" stroke="#000" stroke-width="1.3"/>
<text transform="translate(340.3 278.5) scale(.8 1)" class="tx">10<tspan class="ex" dx=".6" dy="-3.8">0</tspan></text>
<text transform="translate(339.8 273.6) rotate(-90) scale(.85 1)" class="ty">10<tspan class="ey" dy="-3.3">0</tspan></text>
<text transform="translate(370.94 278.5) scale(.8 1)" class="tx">10<tspan class="ex" dx=".6" dy="-3.8">1</tspan></text>
<text transform="translate(339.8 246.97) rotate(-90) scale(.85 1)" class="ty">10<tspan class="ey" dy="-3.3">1</tspan></text>
<text transform="translate(401.57 278.5) scale(.8 1)" class="tx">10<tspan class="ex" dx=".6" dy="-3.8">2</tspan></text>
<text transform="translate(339.8 220.35) rotate(-90) scale(.85 1)" class="ty">10<tspan class="ey" dy="-3.3">2</tspan></text>
<text transform="translate(432.21 278.5) scale(.8 1)" class="tx">10<tspan class="ex" dx=".6" dy="-3.8">3</tspan></text>
<text transform="translate(339.8 193.72) rotate(-90) scale(.85 1)" class="ty">10<tspan class="ey" dy="-3.3">3</tspan></text>
<text transform="translate(462.85 278.5) scale(.8 1)" class="tx">10<tspan class="ex" dx=".6" dy="-3.8">4</tspan></text>
<text transform="translate(339.8 167.1) rotate(-90) scale(.85 1)" class="ty">10<tspan class="ey" dy="-3.3">4</tspan></text>
</g>
<g>
<g transform="translate(0 .5)" class="dots">
<path stroke-opacity="0.3" d="M0 0m76 291h2m3 0h1m3 0h1m1 0h1m1 0h1m12 0h1m1 0h1m3 0h2m-53 1h1m17 0h1m4 0h1m3 0h1m1 0h1m5 0h1m2 0h1m1 0h1m5 0h1m1 0h1m6 0h1m-55 1h1m19 0h1m12 0h2m2 0h1m1 0h3m1 0h1m1 0h1m3 0h1m6 0h1m-46 1h1m11 0h1m8 0h1m2 0h1m18 0h1m12 0h1m-58 1h1m15 0h1m1 0h2m6 0h1m16 0h1m5 0h1m6 0h1m-37 1h1m15 0h1m8 0h1m-41 1h1m11 0h1m5 0h1m6 0h2m4 0h1m7 0h2m8 0h2m-52 1h2m1 0h1m4 0h1m1 0h1m8 0h1m1 0h1m5 0h1m8 0h1m11 0h1m-45 1h1m7 0h1m2 0h1m4 0h1m5 0h1m5 0h1m5 0h1m1 0h1m7 0h1m-49 1h1m8 0h1m2 0h1m3 0h1m20 0h1m14 0h1m-58 1h1m8 0h1m3 0h2m4 0h1m1 0h1m7 0h1m14 0h1m3 0h1m1 0h2m5 0h1m-62 1h1m4 0h1m1 0h1m4 0h1m11 0h2m31 0h1m7 0h1m-60 1h1m15 0h2m3 0h1m1 0h1m5 0h1m16 0h1m2 0h1m8 0h1m-62 1h1m7 0h1m3 0h1m3 0h1m1 0h1m4 0h2m2 0h1m17 0h1m4 0h1m4 0h1m-47 1h1m1 0h1m8 0h2m19 0h1m7 0h1m4 0h1m1 0h1m2 0h2m-63 1h1m3 0h1m5 0h1m13 0h1m7 0h1m1 0h2m20 0h2m2 0h1m2 0h1m-65 1h2m2 0h1m13 0h1m5 0h2m1 0h1m7 0h1m17 0h1m1 0h2m-48 1h2m3 0h2m1 0h1m10 0h1m5 0h1m2 0h1m4 0h1m4 0h2m-54 1h2m5 0h1m7 0h1m6 0h1m5 0h1m34 0h1m11 0h1m-69 1h2m4 0h1m8 0h1m1 0h2m7 0h1m4 0h2m18 0h2m2 0h1m-59 1h1m14 0h1m3 0h1m1 0h1m6 0h1m26 0h1m3 0h1m3 0h1m-72 1h1m6 0h1m7 0h1m4 0h1m6 0h2m3 0h1m19 0h1m11 0h1m3 0h1m1 0h1m-71 1h1m6 0h3m19 0h1m26 0h1m-50 1h2m32 0h1m12 0h2m1 0h1m5 0h3m3 0h1m-58 1h1m5 0h1m11 0h2m1 0h1m22 0h1m9 0h1m1 0h1m-64 1h1m4 0h1m3 0h1m3 0h1m3 0h1m6 0h1m1 0h1m2 0h1m11 0h1m18 0h3m1 0h1m-75 1h1m7 0h1m4 0h1m1 0h1m3 0h1m5 0h1m3 0h2m30 0h1m9 0h1m2 0h1m-75 1h1m13 0h1m4 0h1m17 0h1m5 0h2m24 0h1m2 0h1m-53 1h1m23 0h1m-34 1h2m1 0h1m1 0h2m5 0h1m3 0h1m4 0h1m2 0h1m35 0h2m1 0h2m-64 1h1m1 0h1m2 0h1m7 0h1m23 0h1m26 0h1m-82 1h1m28 0h1m3 0h1m6 0h1m37 0h2m2 0h1m-84 1h1m20 0h1m6 0h1m13 0h1m33 0h1m-56 1h1m6 0h1m2 0h1m1 0h1m34 0h3m5 0h1m7 0h1m-69 1h1m4 0h2m1 0h1m4 0h1m6 0h2m10 0h2m16 0h1m5 0h1m3 0h1m4 0h1m4 0h1m-80 1h1m8 0h1m3 0h1m6 0h1m2 0h1m7 0h1m4 0h1m28 0h1m1 0h1m4 0h1m-73 1h2m6 0h2m6 0h1m10 0h1m2 0h1m5 0h1m45 0h1m-81 1h1m3 0h1m1 0h1m4 0h1m5 0h1m5 0h1m2 0h1m3 0h2m2 0h1m2 0h1m8 0h1m2 0h1m17 0h3m-69 1h1m3 0h1m1 0h2m4 0h3m1 0h1m2 0h1m8 0h1m7 0h1m17 0h2m6 0h1m1 0h2m1 0h2m-55 1h1m1 0h1m6 0h1m7 0h1m24 0h1m5 0h3m2 0h1m-68 1h1m4 0h1m3 0h1m5 0h2m4 0h1m10 0h1m2 0h2m2 0h1m23 0h1m5 0h1m1 0h1m-72 1h1m1 0h1m16 0h1m4 0h1m5 0h1m4 0h1m2 0h1m16 0h1m3 0h2m-53 1h1m4 0h1m2 0h1m3 0h1m9 0h1m13 0h1m11 0h1m1 0h1m2 0h1m3 0h1m2 0h1m1 0h3m-59 1h1m1 0h1m11 0h1m19 0h1m1 0h1m1 0h1m12 0h1m3 0h1m-68 1h1m5 0h1m2 0h1m7 0h2m3 0h1m7 0h1m15 0h1m8 0h3m2 0h1m-62 1h1m2 0h1m7 0h1m1 0h2m7 0h1m7 0h1m12 0h1m5 0h1m3 0h2m2 0h2m3 0h1m-64 1h1m1 0h1m2 0h1m14 0h1m3 0h1m4 0h1m5 0h1m3 0h1m6 0h1m16 0h1m3 0h2m-68 1h1m1 0h3m7 0h2m25 0h1m20 0h1m5 0h1m-66 1h1m11 0h1m3 0h3m13 0h1m6 0h1m9 0h1m2 0h1m4 0h1m-52 1h1m4 0h1m3 0h1m18 0h1m5 0h1m10 0h1m1 0h1m7 0h2m2 0h1m1 0h1m-63 1h1m1 0h1m7 0h1m16 0h1m8 0h1m1 0h1m13 0h1m10 0h1m2 0h1m-66 1h1m10 0h1m1 0h1m11 0h1m11 0h1m8 0h1m2 0h1m5 0h2m1 0h1m6 0h1m-38 1h1m8 0h1m20 0h1m5 0h1m-67 1h2m1 0h1m2 0h1m1 0h1m5 0h1m3 0h1m8 0h1m15 0h1m4 0h1m16 0h1m2 0h1m-69 1h4m2 0h1m1 0h1m24 0h1m9 0h2m2 0h2m2 0h1m1 0h1m2 0h2m6 0h1m2 0h1m-77 1h1m14 0h1m1 0h1m6 0h1m2 0h1m1 0h1m10 0h1m4 0h2m7 0h1m3 0h2m3 0h4m9 0h1m-76 1h1m22 0h1m19 0h2m1 0h1m10 0h1m8 0h1m1 0h1m4 0h2m-68 1h1m2 0h2m1 0h1m1 0h1m1 0h1m11 0h2m2 0h1m17 0h1m5 0h1m1 0h1m18 0h1m-69 1h1m5 0h1m16 0h1m4 0h1m11 0h1m16 0h2m-59 1h1m5 0h1m12 0h1m14 0h1m5 0h1m2 0h1m4 0h1m4 0h3m27 0h1m-96 1h1m2 0h1m3 0h1m3 0h1m2 0h1m1 0h1m14 0h1m11 0h1m1 0h1m12 0h1m1 0h1m11 0h1m1 0h1m-68 1h1m21 0h2m10 0h1m1 0h1m4 0h2m1 0h3m1 0h1m2 0h1m1 0h1m4 0h1m4 0h2m4 0h1m2 0h1m10 0h2m-86 1h1m1 0h2m2 0h2m10 0h1m17 0h3m24 0h1m4 0h2m2 0h1m11 0h2m-78 1h1m22 0h1m4 0h2m4 0h2m7 0h1m4 0h1m4 0h1m4 0h1m6 0h1m-64 1h1m13 0h1m6 0h1m4 0h1m9 0h1m3 0h2m3 0h1m8 0h1m9 0h1m-74 1h1m2 0h1m5 0h2m16 0h1m1 0h1m5 0h1m2 0h1m11 0h1m5 0h2m9 0h1m4 0h1m-56 1h1m5 0h1m3 0h1m1 0h1m1 0h1m10 0h1m6 0h1m3 0h1m5 0h2m7 0h1m2 0h1m1 0h1m-74 1h1m3 0h1m4 0h1m21 0h2m3 0h1m8 0h1m8 0h1m4 0h1m3 0h1m8 0h1m-77 1h1m6 0h1m6 0h1m8 0h1m2 0h1m4 0h1m1 0h1m10 0h1m9 0h1m2 0h1m8 0h1m4 0h1m3 0h1m-76 1h1m1 0h2m15 0h1m3 0h1m6 0h1m4 0h1m6 0h1m4 0h1m5 0h2m5 0h2m4 0h1m5 0h1m1 0h1m-47 1h1m4 0h1m11 0h1m7 0h1m2 0h1m4 0h1m6 0h1m1 0h2m7 0h1m-73 1h2m29 0h1m4 0h3m9 0h4m1 0h2m2 0h1m4 0h1m2 0h1m3 0h3m-76 1h1m17 0h1m2 0h1m12 0h2m3 0h1m8 0h1m2 0h1m23 0h1m3 0h1m-91 1h1m6 0h1m17 0h1m1 0h1m6 0h1m10 0h1m7 0h1m13 0h1m2 0h1m1 0h1m3 0h1m4 0h1m9 0h1m-93 1h1m4 0h4m1 0h1m3 0h2m17 0h1m5 0h1m4 0h2m7 0h2m4 0h1m8 0h2m1 0h2m12 0h1m-81 1h2m2 0h1m5 0h2m10 0h1m8 0h4m6 0h1m13 0h1m5 0h1m3 0h1m2 0h1m3 0h2m1 0h1m2 0h1m1 0h1m-79 1h1m2 0h1m1 0h1m2 0h2m14 0h1m3 0h1m2 0h1m13 0h1m1 0h1m3 0h1m2 0h1m4 0h1m7 0h1m2 0h1m2 0h2m-78 1h1m26 0h1m6 0h1m15 0h1m11 0h2m3 0h2m6 0h2m-77 1h1m1 0h1m6 0h1m4 0h1m6 0h3m6 0h2m23 0h1m5 0h1m8 0h1m-66 1h1m3 0h2m5 0h1m8 0h1m7 0h1m6 0h1m9 0h1m1 0h1m21 0h1m-36 1h1m17 0h2m14 0h1m-61 1h3m7 0h1m3 0h2m1 0h1m4 0h1m24 0h2m8 0h2m-66 1h1m7 0h1m1 0h1m5 0h1m3 0h1m2 0h1m4 0h1m27 0h1m4 0h1m1 0h2m-70 1h3m11 0h1m2 0h1m14 0h1m32 0h1m1 0h1m3 0h1m-78 1h1m5 0h1m6 0h3m1 0h1m8 0h2m35 0h1m-64 1h1m1 0h1m4 0h2m2 0h1m11 0h1m9 0h2m26 0h1m5 0h2m-68 1h1m2 0h1m13 0h1m2 0h1m7 0h1m3 0h2m27 0h1m15 0h1m-75 1h1m2 0h1m10 0h1m49 0h1m10 0h1m-77 1h1m1 0h1m1 0h1m15 0h1m4 0h2m33 0h2m4 0h1m3 0h1m2 0h1m-75 1h1m6 0h2m5 0h1m10 0h1m37 0h1m6 0h1m16 0h2m-91 1h1m4 0h1m3 0h1m2 0h1m2 0h1m1 0h1m2 0h1m5 0h1m62 0h1m-91 1h1m5 0h1m2 0h1m4 0h2m2 0h1m3 0h1m37 0h1m1 0h2m-61 1h1m4 0h1m12 0h1m1 0h1m1 0h1m2 0h1m33 0h2m7 0h1m-72 1h1m2 0h1m4 0h1m3 0h1m5 0h1m7 0h2m-28 1h1m3 0h1m12 0h1m2 0h1m5 0h1m1 0h1m7 0h1m13 0h2m21 0h1m-74 1h1m1 0h1m4 0h2m1 0h1m1 0h1m37 0h2m22 0h1m-75 1h1m6 0h1m2 0h1m2 0h1m2 0h1m4 0h1m2 0h2m-22 1h2m7 0h1m2 0h1m2 0h2m1 0h1m23 0h1m-46 1h1m4 0h1m5 0h1m8 0h1m23 0h2m-41 1h1m2 0h1m6 0h1m11 0h2m-24 1h1m2 0h1m2 0h1m2 0h1m7 0h2m-25 1h1m2 0h1m5 0h1m7 0h1m-15 1h1m6 0h1m-11 1h2m1 0h1m8 0h1m1 0h1m-11 1h1m16 0h2m-19 1h1m8 0h2m6 0h2"/>
<path stroke-opacity="0.52" d="M0 0m96 291h1m2 0h1m7 0h1m2 0h2m3 0h1m1 0h1m-60 1h1m17 0h1m8 0h1m2 0h1m2 0h1m16 0h2m3 0h1m-26 1h1m19 0h1m1 0h1m9 0h1m-20 1h1m2 0h3m2 0h1m7 0h1m4 0h1m1 0h1m-56 1h1m15 0h1m12 0h2m2 0h2m3 0h1m5 0h1m8 0h1m-39 1h2m11 0h1m11 0h1m5 0h1m-44 1h1m11 0h1m5 0h1m11 0h1m18 0h1m-36 1h1m3 0h1m3 0h1m1 0h1m1 0h1m5 0h1m5 0h3m9 0h1m-48 1h1m6 0h1m2 0h2m2 0h2m16 0h1m11 0h1m1 0h1m-42 1h1m4 0h1m3 0h1m2 0h1m3 0h1m3 0h1m5 0h1m4 0h1m3 0h1m1 0h3m-51 1h1m9 0h1m11 0h2m2 0h1m4 0h1m8 0h1m4 0h1m1 0h1m-48 1h1m9 0h1m31 0h1m4 0h1m1 0h2m7 0h1m-54 1h2m7 0h2m4 0h1m6 0h1m2 0h1m5 0h1m5 0h1m1 0h1m5 0h2m1 0h1m-73 1h2m16 0h2m24 0h1m3 0h1m8 0h1m7 0h1m7 0h1m2 0h1m-43 1h1m8 0h1m7 0h1m4 0h1m9 0h2m1 0h1m7 0h1m-65 1h1m11 0h2m6 0h1m2 0h1m4 0h1m3 0h1m13 0h2m3 0h1m-46 1h2m1 0h3m3 0h1m3 0h2m7 0h1m3 0h1m5 0h1m18 0h1m7 0h1m-71 1h2m14 0h1m6 0h1m34 0h2m1 0h1m-54 1h1m5 0h1m1 0h1m14 0h1m2 0h1m18 0h1m6 0h1m-46 1h1m2 0h1m8 0h1m3 0h2m1 0h1m29 0h2m-51 1h1m10 0h1m1 0h2m5 0h1m19 0h1m10 0h1m-70 1h1m4 0h1m9 0h1m5 0h2m2 0h1m4 0h1m3 0h1m4 0h1m20 0h1m7 0h1m1 0h1m-71 1h1m4 0h1m5 0h2m4 0h1m22 0h1m16 0h2m6 0h4m1 0h1m-63 1h1m8 0h1m4 0h1m2 0h1m4 0h1m2 0h1m7 0h1m17 0h1m1 0h1m4 0h1m-59 1h2m5 0h1m8 0h2m5 0h1m2 0h2m26 0h3m1 0h1m1 0h1m-64 1h2m1 0h1m3 0h1m3 0h1m2 0h1m17 0h1m21 0h1m3 0h1m-69 1h1m30 0h2m3 0h1m24 0h1m2 0h1m-65 1h1m21 0h1m3 0h1m1 0h1m3 0h1m27 0h1m5 0h2m2 0h1m1 0h1m1 0h1m-66 1h1m4 0h2m7 0h2m4 0h1m5 0h1m1 0h1m29 0h3m2 0h2m-60 1h1m2 0h2m4 0h1m3 0h1m1 0h1m6 0h2m23 0h1m4 0h1m1 0h1m3 0h1m-59 1h1m3 0h2m1 0h1m6 0h1m1 0h1m12 0h1m12 0h2m8 0h1m2 0h2m1 0h2m-45 1h1m3 0h1m5 0h1m25 0h1m3 0h1m1 0h1m-64 1h2m5 0h1m1 0h2m12 0h1m27 0h1m2 0h2m-49 1h1m14 0h1m7 0h2m19 0h1m4 0h2m-64 1h2m12 0h1m11 0h1m2 0h1m2 0h1m15 0h2m9 0h2m1 0h1m6 0h1m-71 1h1m6 0h1m16 0h1m1 0h1m1 0h1m9 0h1m1 0h1m17 0h1m11 0h1m1 0h1m-55 1h1m4 0h2m5 0h1m29 0h1m4 0h1m1 0h1m14 0h1m-77 1h1m10 0h1m5 0h1m4 0h2m4 0h1m5 0h1m11 0h2m10 0h2m-62 1h1m2 0h1m5 0h1m3 0h1m7 0h1m1 0h1m1 0h1m5 0h2m13 0h1m4 0h1m12 0h1m-58 1h1m5 0h1m2 0h1m1 0h1m8 0h2m24 0h1m1 0h3m8 0h2m-69 1h1m16 0h2m4 0h1m2 0h2m1 0h2m2 0h1m6 0h1m11 0h1m7 0h1m4 0h1m1 0h1m-71 1h2m7 0h1m17 0h1m5 0h1m7 0h1m3 0h1m1 0h1m11 0h1m4 0h1m-54 1h1m5 0h1m3 0h1m4 0h1m6 0h2m14 0h1m5 0h1m3 0h1m2 0h1m2 0h1m5 0h1m-53 1h6m7 0h1m11 0h2m3 0h1m11 0h1m8 0h1m2 0h2m-68 1h1m7 0h1m3 0h1m5 0h1m3 0h1m1 0h2m2 0h1m19 0h1m1 0h1m4 0h2m6 0h1m-67 1h1m6 0h1m1 0h1m6 0h3m1 0h1m1 0h1m3 0h1m18 0h1m1 0h1m3 0h1m3 0h1m3 0h2m14 0h2m-76 1h2m6 0h1m2 0h1m3 0h2m1 0h1m6 0h1m2 0h2m12 0h1m1 0h1m1 0h2m7 0h1m3 0h1m-47 1h1m4 0h1m2 0h1m10 0h1m3 0h1m2 0h1m8 0h1m5 0h2m9 0h1m-54 1h1m20 0h1m6 0h1m5 0h2m-33 1h1m1 0h1m9 0h1m4 0h1m3 0h1m3 0h1m1 0h1m2 0h3m5 0h1m1 0h1m-49 1h1m1 0h1m5 0h1m1 0h1m16 0h1m3 0h1m2 0h1m10 0h1m8 0h1m7 0h1m-75 1h1m32 0h1m5 0h1m3 0h1m2 0h1m1 0h1m4 0h1m4 0h1m8 0h1m6 0h1m-75 1h1m12 0h2m5 0h1m2 0h2m1 0h1m7 0h1m2 0h1m5 0h1m2 0h1m2 0h4m6 0h1m7 0h1m3 0h1m3 0h1m-66 1h1m2 0h1m1 0h1m13 0h1m15 0h2m2 0h1m2 0h1m2 0h1m8 0h2m-48 1h2m6 0h1m9 0h1m2 0h2m5 0h1m1 0h1m8 0h1m13 0h1m-52 1h1m1 0h1m7 0h1m35 0h2m3 0h1m-62 1h2m1 0h1m2 0h1m8 0h1m11 0h1m3 0h1m5 0h1m10 0h2m2 0h3m-53 1h1m10 0h1m3 0h2m2 0h1m8 0h1m6 0h1m5 0h1m22 0h1m-68 1h1m14 0h1m1 0h1m1 0h1m2 0h2m6 0h1m4 0h1m3 0h1m5 0h1m1 0h1m4 0h1m3 0h1m4 0h2m-68 1h2m19 0h1m9 0h1m3 0h4m2 0h1m1 0h1m3 0h1m3 0h1m4 0h1m6 0h2m1 0h1m1 0h1m-74 1h1m3 0h1m6 0h1m6 0h2m2 0h1m4 0h1m3 0h1m2 0h2m5 0h1m8 0h2m3 0h1m6 0h1m1 0h1m1 0h2m7 0h2m-75 1h1m1 0h1m9 0h1m7 0h1m1 0h1m19 0h1m1 0h1m2 0h1m5 0h1m2 0h1m6 0h1m5 0h1m-63 1h1m3 0h1m8 0h1m6 0h1m4 0h2m2 0h1m1 0h1m4 0h1m21 0h1m3 0h1m6 0h1m-70 1h1m1 0h1m18 0h1m3 0h2m2 0h1m5 0h2m8 0h1m5 0h1m6 0h1m-59 1h1m3 0h2m5 0h1m6 0h1m6 0h1m3 0h1m5 0h1m2 0h1m2 0h1m7 0h2m3 0h1m1 0h1m6 0h2m-63 1h1m1 0h2m2 0h2m1 0h1m2 0h1m5 0h1m8 0h1m6 0h1m11 0h1m1 0h3m6 0h1m-63 1h3m3 0h3m1 0h1m5 0h1m11 0h1m3 0h1m2 0h1m1 0h1m7 0h1m5 0h2m14 0h1m4 0h1m-68 1h2m1 0h1m7 0h1m2 0h1m1 0h2m4 0h1m1 0h1m8 0h1m34 0h1m-79 1h1m1 0h1m3 0h2m2 0h1m7 0h1m1 0h1m5 0h1m1 0h1m1 0h1m4 0h1m8 0h1m1 0h1m3 0h1m1 0h1m4 0h1m5 0h1m7 0h1m3 0h1m-76 1h1m1 0h1m2 0h1m4 0h1m8 0h1m2 0h2m2 0h1m10 0h1m6 0h1m6 0h1m4 0h1m2 0h1m6 0h1m1 0h2m-63 1h1m11 0h1m2 0h1m9 0h1m6 0h1m4 0h1m3 0h2m8 0h1m-60 1h1m5 0h1m6 0h3m7 0h1m2 0h3m2 0h1m2 0h1m1 0h3m13 0h1m28 0h1m-74 1h2m6 0h1m3 0h2m5 0h1m5 0h1m4 0h1m3 0h1m2 0h1m14 0h1m3 0h1m4 0h2m2 0h1m4 0h2m-80 1h1m2 0h1m3 0h2m9 0h1m11 0h2m2 0h2m2 0h1m1 0h1m5 0h1m4 0h1m1 0h2m3 0h1m1 0h1m15 0h2m1 0h2m-79 1h1m8 0h2m5 0h1m2 0h1m3 0h1m5 0h1m22 0h1m2 0h2m7 0h2m4 0h2m-77 1h1m8 0h2m4 0h1m2 0h2m8 0h1m20 0h1m-49 1h1m3 0h1m3 0h1m4 0h1m10 0h1m6 0h2m13 0h1m1 0h1m13 0h1m7 0h1m2 0h2m-77 1h1m1 0h3m3 0h1m3 0h1m16 0h2m5 0h1m11 0h1m1 0h1m6 0h1m1 0h1m1 0h1m3 0h1m5 0h4m-66 1h1m1 0h1m14 0h1m1 0h1m7 0h1m28 0h1m2 0h2m-55 1h2m6 0h2m5 0h4m1 0h1m18 0h1m7 0h4m7 0h1m-69 1h1m1 0h1m3 0h1m4 0h2m6 0h1m28 0h2m6 0h1m13 0h1m1 0h1m-72 1h1m10 0h1m7 0h1m6 0h2m24 0h2m10 0h1m6 0h1m-74 1h1m5 0h2m7 0h1m5 0h1m2 0h1m38 0h1m4 0h2m-64 1h1m3 0h2m2 0h1m4 0h1m5 0h1m27 0h1m14 0h1m13 0h1m-90 1h1m5 0h1m3 0h1m4 0h1m7 0h1m4 0h1m3 0h1m27 0h1m2 0h1m9 0h1m-74 1h1m8 0h1m5 0h1m23 0h2m-40 1h1m3 0h3m2 0h1m3 0h2m6 0h1m37 0h1m5 0h2m-69 1h1m4 0h2m13 0h3m2 0h1m37 0h2m-65 1h1m3 0h1m6 0h1m6 0h1m2 0h1m3 0h1m42 0h1m8 0h1m1 0h1m-76 1h1m13 0h1m1 0h1m54 0h1m-69 1h2m10 0h1m4 0h1m2 0h1m62 0h1m-90 1h1m5 0h1m1 0h1m9 0h1m2 0h1m2 0h1m4 0h1m-27 1h3m1 0h2m2 0h1m6 0h1m5 0h1m-26 1h1m9 0h1m3 0h3m5 0h2m-24 1h1m4 0h1m15 0h1m2 0h1m9 0h1m-35 1h1m9 0h1m4 0h1m1 0h1m2 0h1m2 0h1m-24 1h1m1 0h1m1 0h1m14 0h1m-19 1h1m14 0h2m26 0h1m-44 1h1m2 0h1m4 0h2m3 0h2m1 0h2m-13 1h1m2 0h1m1 0h1m1 0h1m7 0h2m-24 1h1m2 0h2m5 0h1m3 0h1m7 0h1m5 0h2m-26 1h1m2 0h1m3 0h1m1 0h1m1 0h1m2 0h2m-20 1h1m4 0h1m1 0h1m1 0h1m6 0h1m-9 1h1m1 0h1m-11 1h1m4 0h1m1 0h1m3 0h1m1 0h2m2 0h1m-18 1h1m2 0h1m1 0h1m1 0h1m3 0h1m5 0h1"/>
<path stroke-opacity="0.76" d="M0 0m98 291h1m7 0h1m9 0h1m-40 1h2m2 0h1m5 0h1m1 0h1m9 0h1m2 0h1m1 0h1m2 0h1m3 0h1m2 0h2m1 0h1m-16 1h1m6 0h1m-28 1h1m8 0h1m5 0h2m4 0h1m3 0h2m2 0h1m6 0h1m1 0h1m-30 1h3m10 0h3m7 0h1m3 0h1m-33 1h1m11 0h4m3 0h1m1 0h2m5 0h1m1 0h1m-30 1h2m14 0h1m1 0h1m1 0h3m-27 1h1m3 0h1m9 0h1m8 0h2m13 0h1m-49 1h1m9 0h1m4 0h1m5 0h1m6 0h2m2 0h1m2 0h1m13 0h1m-37 1h1m4 0h1m1 0h1m3 0h3m1 0h4m2 0h1m4 0h2m11 0h1m-58 1h1m21 0h1m2 0h2m7 0h3m1 0h2m4 0h1m-51 1h1m13 0h1m12 0h1m3 0h2m1 0h1m3 0h1m6 0h2m3 0h2m-20 1h2m4 0h1m2 0h2m1 0h1m1 0h1m3 0h1m1 0h1m8 0h1m2 0h1m-52 1h1m7 0h1m1 0h2m4 0h1m4 0h1m7 0h1m3 0h1m3 0h1m6 0h1m2 0h1m-57 1h1m9 0h1m8 0h1m2 0h3m3 0h1m2 0h2m1 0h1m1 0h1m2 0h1m3 0h3m1 0h2m9 0h1m-58 1h1m13 0h2m2 0h1m3 0h2m1 0h1m1 0h1m5 0h2m4 0h3m4 0h1m3 0h1m4 0h2m-49 1h3m8 0h1m2 0h1m4 0h1m1 0h1m3 0h1m1 0h1m1 0h1m5 0h2m1 0h3m1 0h1m4 0h2m5 0h1m-44 1h1m1 0h3m4 0h2m1 0h1m2 0h2m1 0h1m1 0h1m5 0h2m6 0h2m-41 1h1m5 0h2m4 0h1m1 0h2m3 0h3m1 0h2m1 0h1m5 0h1m1 0h1m4 0h1m1 0h2m8 0h1m-61 1h1m11 0h1m1 0h1m1 0h1m4 0h2m3 0h1m5 0h1m5 0h1m1 0h1m1 0h1m3 0h1m-59 1h1m13 0h1m5 0h1m1 0h1m8 0h2m1 0h3m18 0h2m1 0h2m-37 1h2m3 0h1m1 0h1m2 0h1m1 0h2m5 0h1m2 0h1m4 0h2m1 0h1m2 0h2m-44 1h3m3 0h3m1 0h1m2 0h2m3 0h3m6 0h2m2 0h1m1 0h1m3 0h1m2 0h1m2 0h1m-58 1h1m13 0h1m1 0h1m1 0h1m3 0h3m1 0h2m6 0h1m8 0h2m1 0h2m4 0h2m8 0h1m-54 1h1m1 0h1m1 0h3m2 0h1m9 0h1m5 0h2m7 0h2m7 0h1m3 0h1m-59 1h1m11 0h1m2 0h1m1 0h1m4 0h3m6 0h1m8 0h1m2 0h1m3 0h2m3 0h1m2 0h1m1 0h2m-48 1h1m7 0h1m5 0h3m3 0h1m1 0h5m9 0h2m8 0h1m1 0h2m5 0h1m-55 1h1m10 0h1m1 0h1m1 0h1m1 0h3m5 0h2m3 0h1m22 0h1m-64 1h2m8 0h1m5 0h1m1 0h1m1 0h1m1 0h3m3 0h1m1 0h1m1 0h1m4 0h1m2 0h2m1 0h1m1 0h1m1 0h2m1 0h1m2 0h1m2 0h1m7 0h1m-56 1h2m7 0h1m1 0h1m4 0h1m2 0h1m7 0h3m1 0h1m2 0h1m4 0h1m1 0h1m1 0h4m1 0h1m10 0h1m-69 1h1m9 0h1m5 0h2m1 0h1m9 0h1m2 0h1m2 0h1m1 0h1m12 0h1m1 0h4m1 0h2m2 0h1m4 0h1m-56 1h1m3 0h2m3 0h1m5 0h1m3 0h1m2 0h1m1 0h1m11 0h1m8 0h3m1 0h1m-77 1h1m30 0h1m6 0h3m3 0h7m3 0h1m9 0h1m1 0h2m2 0h1m2 0h1m2 0h2m-59 1h1m2 0h2m2 0h1m7 0h2m2 0h1m7 0h2m2 0h2m4 0h1m1 0h1m5 0h1m1 0h1m7 0h1m10 0h1m-70 1h1m2 0h1m12 0h1m5 0h1m3 0h2m5 0h1m1 0h2m20 0h1m2 0h1m1 0h1m-51 1h1m3 0h1m3 0h1m1 0h4m2 0h1m1 0h1m5 0h1m3 0h1m1 0h1m4 0h1m2 0h5m5 0h1m3 0h1m-58 1h1m2 0h1m8 0h1m2 0h1m1 0h2m4 0h2m1 0h2m3 0h1m1 0h1m1 0h1m1 0h4m2 0h1m-58 1h1m13 0h1m2 0h1m21 0h3m5 0h1m1 0h1m2 0h1m4 0h3m1 0h1m2 0h2m-63 1h1m13 0h2m1 0h1m11 0h1m2 0h1m1 0h1m3 0h3m1 0h1m5 0h1m4 0h1m2 0h3m1 0h1m-58 1h2m5 0h1m10 0h3m1 0h1m3 0h2m4 0h1m6 0h2m1 0h1m11 0h1m10 0h1m-66 1h1m13 0h1m2 0h1m5 0h1m8 0h1m1 0h1m2 0h2m3 0h1m6 0h2m2 0h2m1 0h1m4 0h1m2 0h1m-70 1h1m12 0h5m7 0h1m1 0h1m5 0h1m2 0h1m2 0h3m5 0h1m3 0h2m4 0h1m4 0h1m4 0h1m-62 1h1m6 0h1m2 0h2m9 0h2m5 0h4m9 0h1m2 0h1m10 0h1m1 0h1m-57 1h1m3 0h1m2 0h1m8 0h3m5 0h1m1 0h2m1 0h3m4 0h2m7 0h2m5 0h1m3 0h1m-62 1h1m5 0h1m2 0h1m5 0h1m3 0h1m5 0h1m5 0h3m1 0h1m3 0h1m7 0h2m-49 1h1m1 0h1m10 0h1m4 0h1m3 0h1m1 0h1m1 0h2m5 0h1m8 0h2m5 0h1m7 0h1m-46 1h3m7 0h1m1 0h1m2 0h1m2 0h1m2 0h1m3 0h1m1 0h2m4 0h1m2 0h2m6 0h3m-45 1h2m1 0h1m4 0h1m5 0h1m2 0h1m1 0h2m5 0h1m1 0h3m1 0h2m1 0h1m6 0h2m-58 1h1m8 0h1m4 0h1m3 0h1m3 0h1m1 0h1m1 0h1m1 0h1m3 0h1m1 0h2m13 0h2m3 0h2m9 0h1m-62 1h1m11 0h1m1 0h2m2 0h2m6 0h2m12 0h1m3 0h2m4 0h1m-44 1h1m1 0h1m2 0h1m1 0h1m1 0h1m3 0h1m2 0h1m1 0h2m1 0h2m3 0h1m1 0h1m3 0h1m3 0h2m4 0h1m6 0h1m5 0h1m-59 1h3m2 0h1m1 0h1m1 0h1m2 0h1m5 0h2m3 0h1m1 0h1m1 0h1m1 0h1m7 0h3m4 0h1m-46 1h1m2 0h5m2 0h1m7 0h1m2 0h1m2 0h1m2 0h1m1 0h2m2 0h1m7 0h1m2 0h3m6 0h1m4 0h1m-59 1h1m6 0h3m1 0h1m1 0h1m4 0h1m2 0h2m5 0h1m1 0h2m3 0h2m8 0h1m1 0h1m1 0h1m12 0h2m-52 1h2m1 0h1m1 0h2m1 0h1m4 0h2m4 0h1m1 0h1m1 0h1m1 0h1m8 0h1m15 0h1m1 0h1m-64 1h1m3 0h1m1 0h1m4 0h1m2 0h1m1 0h1m1 0h1m2 0h3m1 0h1m2 0h3m2 0h1m1 0h1m1 0h1m3 0h1m1 0h1m-48 1h1m2 0h1m1 0h2m5 0h2m1 0h1m1 0h1m1 0h3m1 0h2m1 0h2m2 0h1m5 0h1m2 0h1m4 0h3m-50 1h1m2 0h1m6 0h1m2 0h4m3 0h1m7 0h3m1 0h1m4 0h3m2 0h1m1 0h1m3 0h1m5 0h2m1 0h2m8 0h1m3 0h1m-67 1h1m2 0h2m1 0h1m1 0h1m2 0h2m1 0h1m1 0h1m2 0h1m3 0h1m2 0h1m4 0h2m3 0h1m1 0h1m3 0h1m1 0h1m3 0h1m2 0h3m1 0h1m-54 1h2m3 0h2m1 0h1m1 0h2m1 0h2m2 0h2m1 0h1m4 0h1m4 0h1m4 0h1m8 0h1m1 0h1m2 0h1m3 0h1m4 0h1m-59 1h1m5 0h2m2 0h1m3 0h2m6 0h1m3 0h1m5 0h4m2 0h2m2 0h1m3 0h1m2 0h1m1 0h1m3 0h2m1 0h1m21 0h1m-90 1h1m6 0h2m1 0h1m1 0h1m2 0h1m2 0h1m3 0h1m2 0h2m2 0h1m1 0h1m1 0h1m2 0h1m3 0h1m7 0h1m2 0h1m10 0h2m3 0h1m1 0h1m-69 1h1m7 0h1m4 0h1m5 0h2m3 0h1m1 0h1m4 0h1m6 0h1m4 0h1m5 0h2m1 0h2m12 0h1m-67 1h3m8 0h2m1 0h2m1 0h1m3 0h1m3 0h1m1 0h1m5 0h2m2 0h1m2 0h1m8 0h1m1 0h1m1 0h1m12 0h2m-67 1h2m1 0h2m4 0h2m10 0h1m1 0h1m1 0h2m3 0h1m8 0h1m10 0h1m3 0h2m4 0h2m9 0h1m-72 1h2m1 0h1m8 0h1m2 0h1m3 0h1m16 0h1m2 0h2m2 0h2m6 0h1m6 0h2m2 0h1m-61 1h1m10 0h1m4 0h1m2 0h1m1 0h2m15 0h1m2 0h1m5 0h1m4 0h1m1 0h1m-56 1h1m4 0h1m4 0h1m7 0h1m2 0h1m1 0h1m4 0h1m15 0h1m3 0h1m2 0h1m2 0h1m1 0h1m2 0h1m2 0h1m-66 1h2m3 0h1m1 0h3m5 0h1m5 0h1m7 0h1m2 0h1m6 0h1m3 0h1m3 0h1m1 0h1m2 0h1m5 0h1m2 0h1m-60 1h1m1 0h1m5 0h2m9 0h1m2 0h1m16 0h1m4 0h1m1 0h2m4 0h1m11 0h2m-67 1h1m2 0h2m2 0h1m3 0h1m3 0h1m2 0h2m1 0h1m8 0h4m6 0h1m17 0h1m6 0h1m-60 1h1m5 0h1m1 0h1m3 0h1m4 0h1m12 0h2m9 0h1m13 0h1m-68 1h1m3 0h1m8 0h2m2 0h3m4 0h1m4 0h1m1 0h1m3 0h1m1 0h1m5 0h1m18 0h1m22 0h1m-93 1h1m8 0h1m8 0h1m1 0h1m1 0h2m6 0h1m1 0h1m3 0h1m3 0h1m2 0h1m15 0h1m4 0h1m4 0h2m3 0h1m1 0h1m4 0h1m-66 1h1m3 0h1m1 0h1m1 0h1m1 0h1m2 0h1m4 0h4m18 0h3m1 0h1m23 0h1m-73 1h1m4 0h1m6 0h1m1 0h1m1 0h1m1 0h1m2 0h2m5 0h2m10 0h1m11 0h1m6 0h2m8 0h2m1 0h1m-81 1h1m9 0h1m2 0h1m1 0h3m3 0h4m3 0h1m1 0h1m5 0h2m4 0h1m18 0h1m2 0h1m13 0h2m-72 1h2m3 0h2m2 0h1m4 0h1m1 0h2m4 0h4m21 0h1m3 0h1m6 0h1m2 0h1m-71 1h1m7 0h1m5 0h1m2 0h3m5 0h1m3 0h2m3 0h2m15 0h1m2 0h1m12 0h1m4 0h3m-73 1h1m9 0h1m5 0h1m21 0h1m15 0h1m17 0h1m-62 1h2m5 0h1m1 0h1m2 0h1m36 0h1m-58 1h1m1 0h5m1 0h1m6 0h4m6 0h1m4 0h1m24 0h1m2 0h1m9 0h1m-69 1h1m2 0h1m3 0h1m3 0h1m1 0h1m2 0h2m8 0h1m54 0h1m-82 1h3m1 0h1m2 0h1m9 0h1m2 0h1m44 0h1m-66 1h2m7 0h2m2 0h2m4 0h1m46 0h1m-70 1h1m6 0h1m3 0h4m-18 1h1m5 0h1m2 0h3m2 0h1m1 0h1m57 0h1m-67 1h1m1 0h1m3 0h1m6 0h1m3 0h2m47 0h1m-76 1h1m7 0h1m1 0h5m5 0h1m1 0h1m2 0h1m37 0h1m6 0h1m2 0h1m-69 1h1m5 0h1m5 0h1m1 0h2m-17 1h1m7 0h1m1 0h1m4 0h3m16 0h1m18 0h1m-54 1h1m4 0h1m4 0h1m1 0h1m4 0h2m1 0h1m4 0h1m-22 1h2m2 0h1m2 0h1m5 0h1m2 0h1m-23 1h1m1 0h1m1 0h2m2 0h2m7 0h1m2 0h1m-21 1h1m2 0h3m1 0h1m14 0h1m-22 1h1m7 0h2m1 0h1m1 0h2m4 0h1m2 0h1m44 0h1m-72 1h1m3 0h1m1 0h1m5 0h1m2 0h3m-20 1h1m2 0h1m11 0h1m-13 1h1m3 0h1m0 1h1m6 0h1m-15 1h1m5 0h2m2 0h1m-11 1h1m6 0h1m1 0h1m3 0h1m-14 1h1m4 0h1m1 0h1m3 0h1m-11 1h1m6 0h1m1 0h1m1 0h1m-13 1h1m1 0h1m2 0h1m1 0h3m5 0h1m2 0h1m-19 1h2m3 0h1m1 0h3m5 0h1m2 0h1"/>
<path stroke-opacity="1" d="M0 0m96 292h1m1 0h1m7 0h1m3 0h1m5 0h1m-21 1h1m-5 1h1m9 0h1m-6 1h1m-11 1h1m14 0h1m3 0h1m-7 1h2m4 0h1m7 0h1m9 0h1m-44 1h1m6 0h2m11 0h3m1 0h1m-34 1h1m20 0h1m1 0h3m1 0h1m3 0h1m2 0h1m-20 1h1m2 0h1m14 0h1m2 0h1m1 0h1m3 0h1m-28 1h1m13 0h1m3 0h1m2 0h1m1 0h1m2 0h1m-24 1h1m4 0h1m5 0h6m2 0h2m3 0h1m9 0h1m-55 1h1m22 0h1m3 0h1m3 0h2m4 0h1m1 0h2m-16 1h1m1 0h1m1 0h5m5 0h2m2 0h2m3 0h1m1 0h1m-43 1h1m16 0h2m2 0h1m3 0h2m3 0h1m3 0h1m5 0h1m4 0h1m-40 1h1m8 0h1m3 0h1m4 0h4m5 0h2m5 0h2m-35 1h1m6 0h2m5 0h1m3 0h1m1 0h5m2 0h1m8 0h1m-37 1h1m1 0h1m5 0h2m4 0h1m3 0h1m3 0h3m4 0h2m-26 1h2m2 0h1m2 0h3m3 0h1m2 0h1m1 0h2m2 0h1m1 0h1m1 0h2m1 0h1m-39 1h1m5 0h1m7 0h1m3 0h5m1 0h5m1 0h1m1 0h1m5 0h1m-48 1h1m3 0h1m8 0h1m11 0h16m1 0h1m7 0h1m-61 1h1m24 0h1m3 0h2m4 0h5m1 0h2m2 0h3m2 0h1m1 0h1m-38 1h1m7 0h2m2 0h3m4 0h5m2 0h2m3 0h2m5 0h2m-42 1h1m5 0h1m7 0h5m3 0h6m2 0h1m9 0h1m-49 1h1m8 0h1m4 0h1m9 0h3m2 0h7m2 0h5m1 0h1m1 0h3m-47 1h1m7 0h3m4 0h1m5 0h2m1 0h5m1 0h1m2 0h3m2 0h3m1 0h2m-55 1h1m4 0h1m9 0h1m13 0h2m1 0h1m5 0h9m2 0h3m2 0h2m-45 1h1m3 0h2m2 0h1m6 0h1m5 0h2m2 0h1m2 0h3m1 0h9m1 0h5m-39 1h1m3 0h1m7 0h1m1 0h1m2 0h3m1 0h2m2 0h1m1 0h1m1 0h1m2 0h1m1 0h2m1 0h2m-27 1h7m3 0h1m1 0h2m1 0h4m1 0h1m9 0h1m-55 1h1m21 0h2m1 0h2m2 0h1m1 0h1m2 0h7m2 0h2m1 0h1m-38 1h1m12 0h2m2 0h2m1 0h1m1 0h11m2 0h6m-49 1h1m7 0h1m11 0h2m7 0h3m1 0h9m10 0h1m-38 1h1m1 0h5m4 0h2m2 0h4m1 0h1m1 0h5m8 0h2m-41 1h1m7 0h1m2 0h3m3 0h1m2 0h3m2 0h7m1 0h1m2 0h1m2 0h1m10 0h1m-59 1h1m22 0h4m1 0h3m3 0h4m1 0h1m7 0h1m-41 1h1m6 0h1m8 0h1m2 0h3m1 0h1m3 0h1m4 0h2m2 0h3m2 0h1m-54 1h1m11 0h2m12 0h1m4 0h3m1 0h1m8 0h2m3 0h1m-37 1h1m13 0h3m3 0h1m1 0h2m1 0h2m1 0h1m4 0h2m-42 1h1m1 0h1m7 0h1m6 0h4m1 0h6m2 0h1m1 0h6m6 0h1m8 0h1m-46 1h2m6 0h1m3 0h1m4 0h1m2 0h3m1 0h4m1 0h1m2 0h2m-36 1h1m3 0h1m1 0h1m2 0h2m2 0h1m7 0h1m1 0h2m1 0h3m2 0h1m1 0h1m4 0h1m-39 1h1m1 0h3m5 0h2m4 0h5m2 0h1m2 0h2m3 0h1m-46 1h1m3 0h1m9 0h1m3 0h1m5 0h1m2 0h1m3 0h2m9 0h1m-31 1h1m3 0h2m10 0h1m1 0h3m1 0h5m4 0h1m1 0h1m-38 1h1m8 0h1m5 0h3m2 0h7m4 0h1m2 0h1m-51 1h1m24 0h1m7 0h1m2 0h2m2 0h1m15 0h1m-46 1h1m2 0h1m3 0h1m6 0h5m1 0h2m4 0h1m2 0h1m2 0h1m3 0h1m-23 1h1m1 0h1m1 0h1m1 0h2m5 0h1m4 0h5m-35 1h1m12 0h3m1 0h2m11 0h1m1 0h1m7 0h1m4 0h1m6 0h1m-54 1h1m1 0h1m6 0h1m1 0h3m1 0h2m1 0h1m7 0h1m7 0h3m-41 1h2m3 0h2m1 0h1m4 0h1m1 0h5m6 0h1m3 0h1m7 0h1m-25 1h1m1 0h3m1 0h2m7 0h1m7 0h1m15 0h1m-48 1h2m9 0h1m2 0h2m3 0h4m1 0h1m2 0h1m13 0h1m-44 1h1m1 0h1m2 0h4m4 0h1m2 0h1m1 0h3m8 0h1m-30 1h1m2 0h1m2 0h1m3 0h1m6 0h2m3 0h1m9 0h1m1 0h1m5 0h1m18 0h1m-76 1h1m17 0h3m7 0h1m3 0h1m2 0h1m3 0h1m3 0h1m13 0h1m10 0h1m-54 1h1m3 0h1m5 0h2m13 0h1m2 0h1m12 0h2m5 0h1m16 0h1m-68 1h2m4 0h1m1 0h2m7 0h1m5 0h2m3 0h1m19 0h1m-50 1h2m4 0h1m2 0h1m1 0h1m5 0h1m3 0h1m3 0h2m11 0h1m6 0h1m-53 1h1m17 0h1m1 0h2m5 0h2m3 0h3m5 0h1m8 0h1m-48 1h1m8 0h1m1 0h2m1 0h1m3 0h2m5 0h2m1 0h1m1 0h1m1 0h1m-25 1h4m1 0h2m5 0h2m2 0h1m1 0h1m5 0h1m8 0h1m8 0h1m12 0h1m-57 1h3m2 0h1m2 0h1m1 0h3m1 0h2m2 0h1m4 0h1m20 0h1m-41 1h2m1 0h6m4 0h1m3 0h1m3 0h2m4 0h1m8 0h1m11 0h1m-46 1h1m2 0h2m1 0h2m1 0h3m1 0h1m4 0h1m2 0h1m-28 1h1m1 0h3m1 0h1m2 0h1m1 0h2m4 0h1m9 0h1m17 0h1m3 0h1m-48 1h1m1 0h3m1 0h2m5 0h1m1 0h1m1 0h1m22 0h2m4 0h1m2 0h1m-63 1h1m10 0h1m1 0h2m4 0h2m5 0h1m31 0h1m4 0h1m-60 1h1m3 0h3m2 0h2m9 0h1m44 0h1m-63 1h2m1 0h3m1 0h1m3 0h1m3 0h1m1 0h2m2 0h1m19 0h3m5 0h1m-50 1h1m4 0h2m1 0h1m1 0h2m2 0h1m4 0h1m1 0h2m5 0h1m24 0h1m5 0h1m-61 1h3m2 0h1m6 0h1m2 0h1m4 0h1m1 0h1m1 0h1m17 0h1m4 0h1m5 0h1m10 0h1m-66 1h2m1 0h1m1 0h1m2 0h1m4 0h1m1 0h1m7 0h1m4 0h1m-28 1h1m3 0h1m1 0h1m6 0h2m-14 1h1m1 0h2m3 0h1m3 0h1m1 0h1m3 0h1m29 0h1m-44 1h3m5 0h1m2 0h1m5 0h1m19 0h2m2 0h2m-51 1h1m4 0h1m2 0h3m2 0h1m2 0h1m21 0h1m12 0h1m16 0h1m-78 1h1m9 0h1m3 0h1m3 0h2m11 0h1m-20 1h1m4 0h4m2 0h1m-20 1h1m1 0h3m1 0h1m2 0h1m2 0h2m1 0h1m1 0h1m-20 1h1m7 0h1m5 0h2m-11 1h1m3 0h2m5 0h1m3 0h1m-12 1h1m6 0h2m2 0h1m1 0h1m8 0h1m-10 1h1m-17 1h2m-6 1h1m9 0h1m-13 1h3m1 0h1m1 0h3m2 0h1m3 0h1m-16 1h2m9 0h1m-12 1h1m3 0h1m-3 1h2m-12 1h1m9 0h1m4 0h1m11 0h1m-25 1h1m9 0h1m1 0h2m1 0h1m-16 1h1m1 0h1m64 0h1m-65 1h1m5 0h4m4 0h1m-17 1h1m5 1h1m3 0h1m-15 1h1m12 0h1m6 0h1m-11 2h1m12 0h1m-20 2h1m10 0h1m-13 1h1m6 0h1m3 0h1m-14 2h1"/>
</g>
<rect x="41.3" y="291.4" width="122.8" height="105.4" fill="none" stroke="#000" stroke-width="1.2"/>
<path d="M84.15 291.4V396.8M41.3 341.9H164.1" fill="none" stroke="#000" stroke-width="1.05"/>
<path d="M41.3 396.8v3.3M41.3 396.8h-3.3M50.54 396.8v2.6M41.3 388.87h-2.6M55.95 396.8v2.6M41.3 384.23h-2.6M59.78 396.8v2.6M41.3 380.94h-2.6M62.76 396.8v2.6M41.3 378.38h-2.6M65.19 396.8v2.6M41.3 376.3h-2.6M67.24 396.8v2.6M41.3 374.53h-2.6M69.02 396.8v2.6M41.3 373h-2.6M70.6 396.8v2.6M41.3 371.66h-2.6M72 396.8v3.3M41.3 370.45h-3.3M81.24 396.8v2.6M41.3 362.52h-2.6M86.65 396.8v2.6M41.3 357.88h-2.6M90.48 396.8v2.6M41.3 354.59h-2.6M93.46 396.8v2.6M41.3 352.03h-2.6M95.89 396.8v2.6M41.3 349.95h-2.6M97.94 396.8v2.6M41.3 348.18h-2.6M99.72 396.8v2.6M41.3 346.65h-2.6M101.3 396.8v2.6M41.3 345.31h-2.6M102.7 396.8v3.3M41.3 344.1h-3.3M111.94 396.8v2.6M41.3 336.17h-2.6M117.35 396.8v2.6M41.3 331.53h-2.6M121.18 396.8v2.6M41.3 328.24h-2.6M124.16 396.8v2.6M41.3 325.68h-2.6M126.59 396.8v2.6M41.3 323.6h-2.6M128.64 396.8v2.6M41.3 321.83h-2.6M130.42 396.8v2.6M41.3 320.3h-2.6M132 396.8v2.6M41.3 318.96h-2.6M133.4 396.8v3.3M41.3 317.75h-3.3M142.64 396.8v2.6M41.3 309.82h-2.6M148.05 396.8v2.6M41.3 305.18h-2.6M151.88 396.8v2.6M41.3 301.89h-2.6M154.86 396.8v2.6M41.3 299.33h-2.6M157.29 396.8v2.6M41.3 297.25h-2.6M159.34 396.8v2.6M41.3 295.48h-2.6M161.12 396.8v2.6M41.3 293.95h-2.6M162.7 396.8v2.6M41.3 292.61h-2.6M164.1 396.8v2.6M41.3 291.4h-2.6" fill="none" stroke="#000" stroke-width="1.3"/>
<text transform="translate(36 407.3) scale(.8 1)" class="tx">10<tspan class="ex" dx=".6" dy="-3.8">0</tspan></text>
<text transform="translate(35.5 402.4) rotate(-90) scale(.85 1)" class="ty">10<tspan class="ey" dy="-3.3">0</tspan></text>
<text transform="translate(66.7 407.3) scale(.8 1)" class="tx">10<tspan class="ex" dx=".6" dy="-3.8">1</tspan></text>
<text transform="translate(35.5 376.05) rotate(-90) scale(.85 1)" class="ty">10<tspan class="ey" dy="-3.3">1</tspan></text>
<text transform="translate(97.4 407.3) scale(.8 1)" class="tx">10<tspan class="ex" dx=".6" dy="-3.8">2</tspan></text>
<text transform="translate(35.5 349.7) rotate(-90) scale(.85 1)" class="ty">10<tspan class="ey" dy="-3.3">2</tspan></text>
<text transform="translate(128.1 407.3) scale(.8 1)" class="tx">10<tspan class="ex" dx=".6" dy="-3.8">3</tspan></text>
<text transform="translate(35.5 323.35) rotate(-90) scale(.85 1)" class="ty">10<tspan class="ey" dy="-3.3">3</tspan></text>
<text transform="translate(158.8 407.3) scale(.8 1)" class="tx">10<tspan class="ex" dx=".6" dy="-3.8">4</tspan></text>
<text transform="translate(35.5 297) rotate(-90) scale(.85 1)" class="ty">10<tspan class="ey" dy="-3.3">4</tspan></text>
</g>
<g>
<g transform="translate(0 .5)" class="dots">
<path stroke-opacity="0.3" d="M0 0m202 291h1m4 0h2m1 0h1m4 0h1m6 0h1m4 0h1m2 0h2m-29 1h1m1 0h1m3 0h1m3 0h1m2 0h1m6 0h1m1 0h1m6 0h1m38 0h1m-49 1h2m47 0h1m-69 1h1m4 0h1m0 1h3m16 0h1m2 0h1m3 0h1m-35 1h1m25 0h1m1 0h1m-28 1h1m23 0h1m1 0h1m-25 1h1m20 0h1m1 0h1m2 0h1m-28 1h1m1 0h1m9 0h1m6 0h1m4 0h1m1 0h1m13 0h1m-40 1h1m4 0h1m11 0h1m11 0h2m-28 1h1m5 0h1m23 0h1m-24 1h1m8 0h1m2 0h1m8 0h1m1 0h2m-29 1h2m1 0h1m7 0h1m2 0h2m3 0h1m1 0h1m3 0h2m-20 1h1m12 0h1m1 0h1m-28 1h1m5 0h1m1 0h1m5 0h1m2 0h1m2 0h1m5 0h1m-6 1h1m4 0h2m3 0h2m-34 1h2m8 0h1m3 0h2m2 0h1m1 0h2m9 0h3m8 0h1m-54 1h1m9 0h1m4 0h1m3 0h2m4 0h2m2 0h1m3 0h1m2 0h1m4 0h1m10 0h1m-53 1h1m10 0h1m9 0h2m8 0h1m1 0h1m-34 1h2m13 0h1m5 0h1m7 0h1m3 0h1m-12 1h1m7 0h1m5 0h1m-22 1h1m3 0h1m1 0h1m1 0h2m10 0h1m1 0h1m6 0h1m-37 1h1m3 0h1m8 0h1m4 0h1m4 0h1m1 0h1m10 0h2m21 0h2m-56 1h1m5 0h2m2 0h1m7 0h1m3 0h1m6 0h1m5 0h2m17 0h1m1 0h1m-52 1h1m4 0h1m5 0h2m1 0h2m3 0h1m6 0h1m3 0h2m19 0h1m-57 1h1m4 0h1m1 0h1m2 0h2m3 0h1m2 0h2m6 0h5m17 0h1m7 0h1m-61 1h1m4 0h1m3 0h1m2 0h1m2 0h1m2 0h1m1 0h2m7 0h4m38 0h1m-60 1h1m16 0h1m-29 1h1m3 0h1m4 0h1m2 0h1m1 0h1m6 0h1m3 0h2m10 0h1m30 0h1m-61 1h1m7 0h1m3 0h1m2 0h1m-10 1h1m8 0h1m1 0h1m-17 1h1m2 0h1m6 0h1m33 0h1m-49 1h1m8 0h1m5 0h1m32 0h1m-49 1h1m7 0h1m3 0h1m3 0h1m-14 1h1m4 0h2m8 0h1m3 0h1m18 0h2m-48 1h2m4 0h1m7 0h1m7 0h1m7 0h1m16 0h1m-54 1h1m3 0h1m5 0h2m2 0h1m5 0h1m9 0h1m2 0h2m-34 1h1m2 0h1m2 0h1m2 0h1m4 0h1m-10 1h2m9 0h1m2 0h1m11 0h1m10 0h2m-25 1h1m5 0h1m3 0h3m9 0h1m5 0h1m-39 1h1m7 0h1m7 0h1m12 0h1m-29 1h4m11 0h1m6 0h2m3 0h1m-32 1h1m24 0h2m-23 1h1m3 0h1m1 0h1m2 0h1m1 0h2m2 0h2m4 0h2m8 0h2m7 0h1m30 0h1m-83 1h1m5 0h1m6 0h1m2 0h1m2 0h2m3 0h2m1 0h1m1 0h1m4 0h1m5 0h1m2 0h1m1 0h2m1 0h1m-48 1h2m5 0h1m3 0h1m3 0h1m7 0h2m8 0h1m3 0h1m1 0h1m3 0h1m3 0h2m-41 1h2m3 0h1m4 0h1m14 0h1m32 0h1m-61 1h1m7 0h1m3 0h1m5 0h1m5 0h1m6 0h2m2 0h1m25 0h1m-61 1h1m3 0h1m18 0h4m2 0h1m12 0h2m-44 1h1m9 0h1m1 0h1m8 0h2m1 0h1m4 0h4m9 0h1m-39 1h1m1 0h2m5 0h1m1 0h1m5 0h1m2 0h1m8 0h1m7 0h1m-47 1h1m4 0h1m2 0h2m9 0h1m8 0h1m7 0h2m7 0h1m-45 1h1m5 0h1m19 0h1m9 0h1m-39 1h1m5 0h1m1 0h1m16 0h1m5 0h4m1 0h3m-39 1h1m7 0h1m6 0h1m9 0h2m18 0h1m2 0h1m1 0h2m-53 1h1m1 0h1m3 0h1m3 0h1m19 0h1m3 0h1m11 0h1m4 0h1m-50 1h1m1 0h2m4 0h1m15 0h1m11 0h1m-39 1h1m3 0h2m31 0h2m4 0h1m1 0h1m-49 1h2m30 0h1m14 0h1m1 0h1m1 0h1m-51 1h1m43 0h2m-46 1h1m37 0h1m-40 1h1m35 0h1m1 0h2m11 0h2m-57 1h1m8 0h1m27 0h1m6 0h1m3 0h1m-43 1h1m1 0h1m1 0h1m13 0h1m17 0h2m1 0h1m9 0h1m1 0h1m7 0h1m-58 1h2m30 0h1m2 0h1m9 0h1m9 0h1m1 0h1m-63 1h1m36 0h1m14 0h1m-54 1h2m3 0h1m44 0h2m7 0h1m-62 1h1m53 0h1m7 0h1m-62 1h2m2 0h2m2 0h1m27 0h1m8 0h1m3 0h1m10 0h1m-58 1h1m1 0h1m41 0h1m2 0h1m8 0h1m-56 1h2m19 0h1m20 0h1m3 0h1m1 0h1m5 0h1m-19 1h1m6 0h1m16 0h1m-60 1h2m25 0h1m6 0h1m7 0h1m1 0h1m1 0h1m-53 1h2m3 0h1m2 0h1m24 0h1m10 0h1m9 0h1m-50 1h3m24 0h1m21 0h1m-53 1h1m39 0h1m3 0h1m9 0h1m-51 1h1m5 0h1m36 0h1m3 0h1m3 0h1m-55 1h1m35 0h1m14 0h1m1 0h1m-55 1h1m2 0h1m25 0h1m3 0h1m10 0h1m2 0h1m1 0h1m6 0h2m2 0h2m-63 1h1m2 0h2m32 0h1m2 0h1m6 0h1m2 0h1m3 0h1m6 0h2m-63 1h2m1 0h1m3 0h1m2 0h1m23 0h1m3 0h1m1 0h1m6 0h1m3 0h1m2 0h1m2 0h1m-59 1h1m7 0h2m16 0h1m3 0h1m6 0h1m5 0h1m1 0h1m10 0h1m-54 1h1m1 0h1m27 0h1m6 0h2m13 0h1m1 0h1m1 0h1m-52 1h1m6 0h1m16 0h1m15 0h1m1 0h1m1 0h1m5 0h1m-59 1h2m6 0h1m5 0h1m12 0h1m6 0h2m8 0h1m1 0h1m9 0h1m-57 1h1m3 0h1m24 0h2m-31 1h2m2 0h2m10 0h1m6 0h1m11 0h2m3 0h1m8 0h1m9 0h1m-36 1h1m6 0h1m1 0h1m4 0h5m6 0h2m1 0h1m-41 1h1m1 0h1m10 0h2m10 0h1m6 0h1m1 0h1m1 0h1m2 0h3m-54 1h1m2 0h1m1 0h1m1 0h2m3 0h1m1 0h2m3 0h2m7 0h1m15 0h1m4 0h1m3 0h1m-54 1h1m4 0h1m9 0h1m8 0h1m3 0h1m7 0h2m2 0h3m3 0h2m2 0h1m-47 1h1m2 0h1m11 0h1m8 0h1m1 0h1m2 0h2m2 0h1m3 0h1m4 0h1m2 0h1m1 0h1m-50 1h1m3 0h1m2 0h2m5 0h1m6 0h1m2 0h1m3 0h1m1 0h1m3 0h1m-32 1h1m2 0h1m1 0h1m3 0h1m2 0h1m1 0h1m4 0h1m1 0h1m5 0h1m6 0h1m8 0h1m1 0h1m-44 1h1m5 0h1m3 0h1m3 0h1m12 0h2m27 0h2m-50 1h1m7 0h1m6 0h1m2 0h2m5 0h1m23 0h1m-65 1h1m22 0h1m11 0h1m1 0h1m4 0h1m3 0h2m5 0h1m-48 1h1m1 0h1m2 0h1m1 0h1m8 0h1m1 0h1m5 0h1m1 0h1m2 0h1m1 0h1m-38 1h1m12 0h1m8 0h1m1 0h1m3 0h1m3 0h1m12 0h1m-46 1h1m12 0h1m2 0h1m6 0h1m4 0h1m1 0h1m16 0h2m-43 1h1m10 0h1m6 0h1m5 0h1m1 0h1m1 0h1m10 0h1m-34 1h1m11 0h1m11 0h1m3 0h1m4 0h1m10 0h2m4 0h1m-58 1h1m1 0h1m9 0h1m3 0h1m2 0h1m2 0h1m6 0h1m1 0h1m3 0h2m19 0h1m-61 1h1m4 0h1m6 0h1m2 0h1m3 0h2m3 0h1m3 0h1m9 0h1m18 0h1m-47 1h2m1 0h1m5 0h1m4 0h1m3 0h1m7 0h1m13 0h1m-53 1h1m4 0h1m7 0h1m5 0h1m1 0h1m6 0h1m4 0h1m2 0h1m14 0h1m-50 1h1m6 0h2m14 0h1m4 0h1m14 0h1m-21 1h1m3 0h1m3 0h1m2 0h1"/>
<path stroke-opacity="0.52" d="M0 0m212 291h1m-7 1h1m4 0h1m2 0h1m11 0h3m-23 1h1m64 0h1m-65 1h1m3 0h2m10 0h2m3 0h1m-2 1h1m-11 1h2m8 0h1m1 0h1m1 0h1m-19 1h2m4 0h2m-14 1h1m21 0h1m-23 1h1m1 0h2m3 0h2m6 0h1m6 0h1m-24 1h2m1 0h1m5 0h1m27 0h2m-30 1h1m18 0h1m1 0h1m2 0h1m-38 1h2m13 0h1m7 0h1m2 0h1m5 0h2m1 0h1m-36 2h1m10 0h1m7 0h1m2 0h1m5 0h1m-10 1h1m11 0h1m-29 1h1m13 0h1m-12 1h1m13 0h1m7 0h1m1 0h1m-40 1h1m16 0h1m4 0h2m1 0h1m5 0h1m6 0h1m-37 1h1m16 0h1m4 0h1m1 0h2m5 0h1m-23 1h1m12 0h1m8 0h1m-20 2h1m8 0h1m3 0h1m1 0h1m16 0h1m-24 1h1m1 0h1m3 0h2m4 1h1m1 0h1m6 0h1m-36 1h1m17 0h1m8 0h1m34 0h1m-54 1h1m1 0h1m2 0h1m2 0h2m8 0h1m2 0h1m-19 1h1m4 0h1m16 0h1m-23 1h1m6 0h1m2 0h1m4 0h2m9 0h1m32 0h1m-51 1h1m16 0h1m32 0h1m-70 1h1m14 0h1m1 0h1m19 0h2m-31 1h3m2 0h1m1 0h1m3 0h1m1 0h1m43 0h1m-66 1h1m5 0h1m13 0h1m3 0h1m27 0h1m-44 1h1m5 0h1m6 0h2m5 0h2m21 0h1m-47 1h1m3 0h1m3 0h1m4 0h1m2 0h1m-23 1h1m10 0h1m7 0h1m-9 1h1m5 0h1m7 0h1m2 0h1m17 0h1m-48 1h3m4 0h1m4 0h1m1 0h1m3 0h1m1 0h1m6 0h1m2 0h2m-37 1h1m4 0h2m7 0h1m2 0h3m1 0h1m1 0h1m10 0h1m-24 1h2m3 0h1m14 0h1m2 0h1m12 0h1m-36 1h1m6 0h1m1 0h3m23 0h1m-32 1h2m2 0h1m4 0h1m3 0h1m3 0h1m1 0h1m-20 1h1m2 0h1m2 0h1m2 0h1m4 0h1m1 0h1m-17 1h1m5 0h1m16 0h1m-35 1h1m6 0h1m5 0h1m9 0h2m1 0h1m6 0h2m-35 1h1m1 0h1m1 0h1m1 0h1m5 0h1m3 0h2m5 0h1m4 0h1m5 0h1m2 0h1m-38 1h2m10 0h1m1 0h1m1 0h1m6 0h2m3 0h1m11 0h1m1 0h1m-32 1h1m5 0h1m3 0h2m2 0h1m1 0h1m15 0h2m-33 1h2m2 0h3m4 0h1m1 0h1m-25 1h1m2 0h1m1 0h1m2 0h1m2 0h1m1 0h1m8 0h1m10 0h1m2 0h1m-32 1h1m2 0h2m19 0h2m14 0h1m-45 1h2m7 0h2m4 0h1m7 0h2m1 0h2m2 0h1m6 0h4m-24 1h1m5 0h1m7 0h1m6 0h1m-43 1h1m4 0h2m12 0h1m9 0h2m2 0h2m1 0h1m5 0h1m-43 1h1m8 0h1m3 0h2m2 0h1m7 0h3m-15 1h1m25 0h1m8 0h1m2 0h1m-45 1h1m22 0h2m1 0h1m1 0h1m1 0h1m7 0h1m1 0h2m-50 1h1m4 0h1m2 0h1m2 0h1m3 0h1m10 0h1m5 0h2m5 0h1m3 0h2m-43 1h1m8 0h1m19 0h1m1 0h1m-5 1h3m5 0h2m-43 1h1m35 0h1m1 0h1m2 0h1m2 0h1m2 0h3m-12 1h1m5 0h2m2 0h1m2 0h2m-54 1h1m1 0h1m6 0h1m19 0h1m11 0h2m4 0h1m2 0h1m-39 1h1m24 0h1m10 0h1m5 0h1m-56 1h1m4 0h1m7 0h1m1 0h1m18 0h1m1 0h1m5 0h1m3 0h2m6 0h1m7 0h1m-63 1h1m3 0h1m8 0h1m21 0h1m3 0h1m8 0h2m3 0h1m1 0h1m6 0h1m-58 1h2m34 0h1m8 0h1m10 0h1m-22 1h2m2 0h1m4 0h1m4 0h1m-47 1h1m26 0h1m6 0h1m5 0h2m3 0h3m-54 1h1m3 0h1m21 0h1m12 0h2m11 0h1m-52 1h1m2 0h1m28 0h1m6 0h2m1 0h1m8 0h1m-50 1h1m30 0h1m2 0h1m7 0h1m2 0h1m3 0h1m4 0h1m2 0h1m-37 1h1m2 0h1m6 0h2m2 0h2m9 0h1m10 0h1m-55 1h1m14 0h1m4 0h1m1 0h1m6 0h1m9 0h1m-7 1h1m3 0h1m3 0h2m4 0h2m-59 1h1m1 0h1m1 0h1m4 0h1m21 0h1m4 0h1m4 0h1m1 0h2m1 0h2m3 0h3m4 0h1m-55 1h1m1 0h2m21 0h1m2 0h1m3 0h1m6 0h1m11 0h1m-53 1h1m13 0h1m27 0h1m1 0h1m7 0h1m-55 1h2m3 0h2m20 0h1m11 0h2m3 0h1m5 0h1m1 0h1m3 0h1m-54 1h1m8 0h1m3 0h2m7 0h1m1 0h1m9 0h1m2 0h1m3 0h1m1 0h1m5 0h2m-47 1h1m1 0h2m1 0h1m5 0h1m6 0h1m5 0h3m14 0h1m-44 1h1m17 0h4m14 0h1m4 0h1m1 0h1m3 0h1m-49 1h1m1 0h1m2 0h1m14 0h1m7 0h1m4 0h1m7 0h5m3 0h1m-51 1h1m1 0h2m1 0h1m24 0h4m9 0h1m2 0h2m-52 1h1m6 0h1m1 0h1m2 0h1m3 0h1m4 0h1m4 0h1m4 0h1m4 0h2m3 0h1m2 0h4m7 0h2m2 0h1m-53 1h1m1 0h1m6 0h1m7 0h1m7 0h2m3 0h2m1 0h2m3 0h1m2 0h2m5 0h1m-51 1h1m1 0h1m4 0h2m11 0h1m7 0h1m1 0h1m16 0h1m-51 1h2m4 0h2m12 0h1m1 0h1m8 0h1m3 0h1m14 0h1m-53 1h1m6 0h1m17 0h1m8 0h1m2 0h1m15 0h1m-54 1h1m2 0h1m5 0h1m3 0h1m10 0h1m2 0h1m2 0h3m2 0h2m5 0h1m2 0h1m-42 1h1m4 0h2m19 0h1m2 0h1m13 0h1m7 0h2m-56 1h2m8 0h2m1 0h1m2 0h1m3 0h1m8 0h1m1 0h2m14 0h1m-49 1h1m2 0h1m5 0h2m3 0h4m13 0h1m3 0h1m11 0h1m-48 1h1m11 0h1m7 0h1m1 0h1m4 0h1m3 0h1m2 0h1m7 0h1m1 0h1m1 0h2m1 0h1m-39 1h1m8 0h1m12 0h3m2 0h1m4 0h2m4 0h1m-27 1h2m5 0h1m6 0h1m1 0h1m-32 1h1m4 0h2m5 0h1m11 0h1m6 0h1m13 0h1m9 0h1m-52 1h3m2 0h1m13 0h1m1 0h1m20 0h1m-48 1h1m10 0h3m6 0h1m5 0h2m11 0h2m11 0h1m-46 1h1m1 0h3m4 0h1m3 0h1m7 0h2m4 0h2m1 0h1m9 0h1m-54 1h1m4 0h1m4 0h2m1 0h1m5 0h1m1 0h1m4 0h1m16 0h2m3 0h1m3 0h1m-42 1h1m10 0h1m20 0h1m2 0h3m6 0h2m-50 1h1m9 0h2m1 0h1m1 0h1m6 0h1m1 0h1m8 0h1m4 0h1m-33 1h2m4 0h1m11 0h2m12 0h1m-21 1h1m22 0h2m-51 1h1m3 0h1m1 0h1m7 0h1m18 0h1m15 0h2m-50 1h1m4 0h1m5 0h1m1 0h2m16 0h1m1 0h1m-35 1h1m2 0h1m3 0h1m4 0h2m7 0h1m2 0h1m6 0h1m5 0h1m4 0h3m-43 1h1m7 0h3m17 0h1m13 0h1"/>
<path stroke-opacity="0.76" d="M0 0m202 292h1m5 0h1m1 0h1m4 0h1m6 0h1m8 0h1m-27 1h1m5 0h1m-9 1h1m1 0h2m-1 1h2m1 0h1m18 0h1m1 0h2m11 0h1m-37 1h1m-6 1h1m3 1h1m12 0h2m9 0h1m-26 1h1m7 0h1m-6 1h1m5 0h1m1 1h2m17 0h1m-24 1h1m3 0h1m9 0h1m-8 1h1m1 0h1m-19 1h1m15 0h1m2 0h2m-11 1h1m8 0h1m-3 1h3m3 0h1m-11 1h1m4 0h1m2 0h1m2 0h1m3 0h1m-27 1h1m2 0h1m8 0h1m29 0h1m-44 1h1m3 0h1m1 0h1m3 0h1m16 0h1m-20 1h1m3 0h1m-9 1h1m14 0h1m-16 1h1m-1 1h1m4 0h1m3 0h1m1 0h1m1 0h1m7 0h1m1 0h1m4 0h1m-35 1h1m12 0h2m10 0h1m3 0h1m6 0h1m23 0h1m-62 1h1m9 0h1m1 0h2m15 0h1m24 0h1m-53 1h1m19 0h2m5 0h2m32 0h1m-58 1h1m9 0h1m4 0h1m3 0h1m10 0h1m-25 1h1m2 0h1m5 0h1m2 0h2m6 0h1m-25 1h1m2 0h1m9 0h1m1 0h1m-22 1h1m5 0h1m8 0h1m3 0h1m5 0h1m40 0h1m-67 1h1m16 0h2m-19 1h1m10 0h1m2 0h2m1 0h2m4 0h2m-18 1h1m3 0h2m7 0h1m-11 1h1m8 0h1m1 0h1m2 0h1m-23 1h1m5 0h1m4 0h1m5 0h1m1 0h2m-15 1h2m3 0h2m5 0h2m5 0h2m-21 1h1m4 0h1m5 0h1m6 0h1m-21 1h1m4 0h1m8 0h1m10 0h1m-24 1h2m6 0h1m1 0h1m2 0h1m3 0h1m-20 1h1m1 0h1m1 0h3m6 0h2m9 0h2m-26 1h2m1 0h1m4 0h1m2 0h1m1 0h1m9 0h1m-17 1h1m20 0h1m-32 1h1m8 0h2m2 0h1m16 0h1m-18 1h1m3 0h1m8 0h1m17 0h1m28 0h1m-74 1h1m5 0h2m14 0h1m-31 1h1m8 0h3m8 0h1m-19 1h1m12 0h1m1 0h1m2 0h2m2 0h2m2 0h2m3 0h1m12 0h2m-39 1h4m11 0h1m1 0h2m4 0h4m-26 1h1m4 0h2m1 0h1m3 0h2m11 0h2m1 0h1m-29 1h1m11 0h1m8 0h1m1 0h2m-26 1h2m2 0h1m6 0h1m3 0h1m2 0h1m7 0h2m1 0h2m8 0h1m-47 1h1m4 0h1m2 0h1m3 0h4m2 0h2m5 0h1m8 0h1m7 0h1m-43 1h1m3 0h1m4 0h1m2 0h1m4 0h1m3 0h3m1 0h1m1 0h1m1 0h1m3 0h1m8 0h1m-41 1h1m1 0h1m4 0h1m1 0h2m6 0h1m1 0h1m8 0h1m4 0h1m5 0h2m2 0h2m-46 1h2m3 0h1m2 0h1m3 0h1m3 0h2m2 0h1m2 0h1m6 0h2m8 0h1m4 0h1m-47 1h1m5 0h1m4 0h1m1 0h3m2 0h2m1 0h1m1 0h2m1 0h1m12 0h1m-38 1h1m4 0h1m8 0h2m1 0h1m2 0h1m6 0h1m1 0h1m3 0h2m1 0h1m7 0h1m-49 1h1m6 0h1m1 0h1m15 0h1m1 0h1m1 0h2m1 0h1m7 0h1m1 0h1m2 0h1m1 0h2m-42 1h4m1 0h1m2 0h1m5 0h1m4 0h1m1 0h2m4 0h1m3 0h1m5 0h1m3 0h1m-34 1h1m9 0h1m1 0h1m3 0h2m2 0h1m4 0h1m9 0h1m-44 1h3m2 0h1m6 0h1m2 0h1m5 0h1m9 0h1m5 0h1m3 0h1m4 0h1m-52 1h1m9 0h1m14 0h1m4 0h1m2 0h1m4 0h1m2 0h1m1 0h1m-51 1h1m10 0h1m3 0h2m5 0h1m3 0h1m1 0h1m3 0h1m1 0h1m2 0h1m4 0h1m1 0h1m1 0h1m1 0h1m2 0h2m1 0h1m-42 1h1m19 0h1m5 0h2m5 0h1m2 0h1m2 0h2m-52 1h1m3 0h1m2 0h2m5 0h2m4 0h1m10 0h2m2 0h1m5 0h3m2 0h1m4 0h1m1 0h1m-48 1h1m8 0h1m4 0h1m1 0h1m2 0h2m6 0h1m4 0h1m4 0h4m1 0h1m1 0h1m2 0h2m3 0h1m-54 1h1m1 0h1m4 0h1m2 0h3m6 0h1m2 0h1m3 0h3m2 0h2m3 0h2m9 0h1m1 0h1m-57 1h1m1 0h1m4 0h2m3 0h1m8 0h1m4 0h1m6 0h1m3 0h1m4 0h1m2 0h1m1 0h1m4 0h1m-51 1h1m7 0h1m1 0h2m20 0h2m3 0h3m2 0h1m6 0h1m9 0h1m-54 1h2m9 0h1m1 0h4m7 0h2m5 0h2m7 0h2m1 0h2m-50 1h1m3 0h1m13 0h1m8 0h2m7 0h1m3 0h2m8 0h2m-51 1h1m1 0h2m5 0h2m21 0h1m2 0h1m4 0h1m1 0h1m1 0h1m-42 1h2m1 0h1m16 0h2m4 0h1m1 0h1m4 0h2m1 0h3m6 0h1m-48 1h1m2 0h1m1 0h1m13 0h1m3 0h1m2 0h1m1 0h1m1 0h1m1 0h1m3 0h1m5 0h3m2 0h1m-51 1h1m6 0h3m2 0h2m9 0h2m7 0h1m3 0h2m1 0h1m2 0h1m11 0h1m-50 1h2m2 0h1m1 0h2m1 0h1m1 0h1m6 0h2m2 0h2m1 0h1m1 0h1m4 0h2m2 0h2m1 0h1m1 0h1m2 0h2m3 0h1m-57 1h2m2 0h1m1 0h2m15 0h1m2 0h1m2 0h4m2 0h2m1 0h1m10 0h1m1 0h1m1 0h1m1 0h1m-52 1h1m2 0h1m13 0h5m2 0h1m1 0h1m4 0h2m5 0h2m1 0h1m-44 1h1m4 0h2m1 0h2m9 0h2m1 0h1m1 0h1m1 0h1m2 0h1m1 0h1m7 0h2m4 0h1m1 0h1m1 0h1m2 0h3m-56 1h1m6 0h1m2 0h1m7 0h1m4 0h1m2 0h1m1 0h2m3 0h1m6 0h2m2 0h1m3 0h1m3 0h1m3 0h2m-57 1h1m9 0h1m2 0h1m12 0h2m2 0h1m6 0h1m2 0h1m-43 1h1m1 0h2m1 0h1m4 0h1m2 0h2m13 0h1m1 0h1m7 0h3m9 0h2m4 0h1m-50 1h1m5 0h1m7 0h1m3 0h1m1 0h2m1 0h1m7 0h1m2 0h2m2 0h1m1 0h2m2 0h1m3 0h1m-56 1h1m4 0h1m4 0h1m1 0h2m14 0h1m3 0h3m2 0h1m1 0h1m1 0h1m6 0h1m-44 1h1m3 0h1m7 0h1m2 0h1m1 0h1m4 0h1m2 0h1m7 0h1m2 0h2m-43 1h1m4 0h1m1 0h2m1 0h1m3 0h2m3 0h4m2 0h1m5 0h1m3 0h3m1 0h1m1 0h2m-34 1h1m2 0h2m6 0h1m3 0h1m1 0h2m1 0h1m3 0h1m4 0h1m8 0h1m-46 1h3m2 0h1m1 0h3m2 0h1m1 0h1m1 0h2m2 0h1m6 0h1m4 0h2m6 0h2m3 0h1m10 0h1m-56 1h2m2 0h1m1 0h1m4 0h1m3 0h1m1 0h2m5 0h2m3 0h2m6 0h1m1 0h1m6 0h1m-50 1h1m9 0h1m4 0h1m1 0h1m2 0h1m1 0h2m1 0h2m1 0h1m6 0h2m1 0h1m1 0h1m3 0h2m5 0h1m-49 1h1m2 0h2m7 0h1m6 0h1m1 0h3m3 0h1m2 0h2m2 0h2m11 0h2m-52 1h2m5 0h1m3 0h1m5 0h1m1 0h2m1 0h2m4 0h1m2 0h1m3 0h1m2 0h1m-39 1h1m3 0h1m1 0h2m2 0h1m5 0h3m4 0h1m3 0h1m4 0h1m5 0h2m2 0h1m-32 1h1m2 0h2m1 0h1m4 0h1m5 0h1m6 0h1m9 0h1m-35 1h1m1 0h1m5 0h1m4 0h1m5 0h3m2 0h1m1 0h1m-32 1h1m3 0h1m4 0h2m6 0h4m3 0h1m3 0h2m-36 1h1m4 0h1m1 0h2m5 0h2m2 0h1m1 0h2m1 0h3m1 0h2m29 0h1m-60 1h1m9 0h1m3 0h1m6 0h1m3 0h1m15 0h1m-41 1h1m17 0h1m1 0h1m12 0h1m18 0h1m-47 1h1m9 0h3m1 0h1m9 0h1m-25 1h1m5 0h1m4 0h1m3 0h1m12 0h1m-25 1h1m1 0h2m2 0h1m13 0h1m1 0h1m10 0h1m-37 1h1m9 0h1m16 0h1m26 0h1m-59 1h1m2 0h1m16 0h1m2 0h1m2 0h1m4 0h2m-36 1h1m3 0h1m14 0h1m6 0h2m10 0h1m-29 1h1m8 0h1m14 0h1m16 0h1m-52 1h1m4 0h1m1 0h1m2 0h1m2 0h7m14 0h2m-37 1h1m6 0h1m1 0h1m4 0h1m5 0h2m2 0h1m6 0h1m5 0h1m4 0h2"/>
<path stroke-opacity="1" d="M0 0m207 292h1m4 0h1m17 0h1m-19 1h1m23 3h1m-11 1h1m-14 3h1m2 0h1m-6 2h1m21 1h1m-20 1h1m-9 2h1m29 2h1m-28 1h1m3 0h1m1 2h1m3 1h1m3 0h1m6 0h1m-24 1h1m1 0h1m16 0h1m3 0h1m-5 1h1m-12 1h2m-2 1h1m-3 1h1m11 0h1m47 0h1m-71 2h1m17 0h1m1 1h1m-20 1h1m19 0h1m3 0h1m-14 1h1m3 0h1m5 0h1m-15 1h1m13 0h1m0 2h1m-5 1h1m2 0h1m-16 2h1m7 0h1m3 0h1m-10 1h1m29 0h1m-32 1h1m28 0h1m-31 1h1m1 0h1m7 0h1m6 0h1m-16 1h1m1 0h1m2 0h2m-7 1h1m4 0h1m3 1h1m-13 1h1m18 0h1m15 0h1m-33 1h1m10 0h1m12 0h1m6 0h1m-29 1h1m49 0h1m-63 1h1m9 0h1m3 0h1m3 1h2m4 0h1m-22 1h1m3 0h1m5 0h1m3 0h3m2 0h1m-18 1h1m7 0h1m5 0h2m1 0h1m11 0h1m-23 1h2m5 0h2m1 0h2m2 0h4m-29 1h1m4 0h2m1 0h4m1 0h2m4 0h1m1 0h1m5 0h1m-28 1h1m1 0h1m5 0h1m2 0h2m2 0h1m1 0h3m-20 1h1m4 0h3m3 0h1m2 0h2m1 0h2m3 0h1m2 0h1m2 0h2m-37 1h1m8 0h1m2 0h1m1 0h1m3 0h2m2 0h1m1 0h1m2 0h1m1 0h2m1 0h1m4 0h1m1 0h1m2 0h2m-32 1h1m1 0h3m3 0h1m1 0h2m1 0h2m2 0h2m1 0h1m9 0h2m3 0h1m-38 1h3m1 0h11m1 0h1m4 0h1m2 0h1m6 0h1m1 0h1m-33 1h1m1 0h2m1 0h5m1 0h4m1 0h1m13 0h3m-37 1h8m1 0h9m1 0h1m1 0h3m10 0h1m6 0h2m5 0h1m-46 1h2m1 0h6m1 0h2m1 0h5m1 0h4m2 0h1m4 0h2m3 0h1m1 0h1m-41 1h5m1 0h13m2 0h4m9 0h2m3 0h1m1 0h1m-47 1h1m4 0h2m3 0h5m1 0h3m1 0h1m1 0h3m1 0h1m1 0h1m5 0h1m3 0h1m3 0h1m3 0h1m1 0h1m-45 1h2m2 0h1m1 0h6m1 0h9m1 0h1m10 0h1m-35 1h3m1 0h1m2 0h4m1 0h10m2 0h1m10 0h2m3 0h1m-43 1h8m1 0h4m1 0h1m1 0h2m2 0h6m1 0h3m4 0h2m4 0h1m-42 1h1m1 0h4m1 0h2m3 0h6m1 0h2m1 0h3m3 0h2m2 0h1m5 0h4m-49 1h1m8 0h2m1 0h8m1 0h4m1 0h6m1 0h2m2 0h4m2 0h1m1 0h1m1 0h1m2 0h1m-43 1h1m1 0h1m2 0h15m1 0h4m3 0h2m7 0h1m5 0h3m-45 1h9m1 0h1m4 0h7m2 0h2m1 0h2m2 0h2m10 0h2m1 0h1m-49 1h13m1 0h3m1 0h4m2 0h5m1 0h1m2 0h2m2 0h1m1 0h1m1 0h1m9 0h1m4 0h1m-60 1h1m2 0h5m2 0h12m1 0h2m1 0h5m7 0h1m1 0h1m3 0h1m1 0h1m-41 1h13m1 0h2m3 0h1m3 0h1m1 0h2m4 0h1m3 0h1m-38 1h1m2 0h12m1 0h3m1 0h2m3 0h1m3 0h3m3 0h2m12 0h1m-59 1h1m11 0h2m2 0h9m2 0h3m6 0h2m9 0h3m-46 1h1m4 0h2m1 0h1m2 0h1m1 0h1m1 0h6m2 0h1m5 0h1m2 0h3m8 0h1m1 0h2m2 0h1m-46 1h3m1 0h4m1 0h6m1 0h2m1 0h2m4 0h2m2 0h1m1 0h2m1 0h2m1 0h1m1 0h1m2 0h1m-43 1h13m5 0h1m2 0h1m1 0h4m2 0h1m8 0h3m2 0h1m-43 1h1m3 0h3m2 0h3m2 0h1m5 0h1m2 0h1m2 0h2m-24 1h5m2 0h4m2 0h1m1 0h1m6 0h2m6 0h1m2 0h1m-39 1h2m1 0h1m1 0h2m1 0h7m4 0h1m2 0h2m3 0h3m7 0h1m7 0h1m-43 1h2m2 0h8m4 0h1m3 0h1m9 0h1m-33 1h4m1 0h7m1 0h3m6 0h1m5 0h1m6 0h1m-36 1h1m6 0h4m1 0h4m2 0h1m1 0h1m8 0h1m3 0h1m-27 1h1m1 0h2m1 0h1m6 0h2m-17 1h1m2 0h3m7 0h2m5 0h1m-28 1h1m3 0h2m2 0h1m1 0h4m5 0h1m2 0h1m2 0h1m5 0h1m3 0h2m-43 1h1m7 0h1m3 0h2m1 0h1m1 0h1m2 0h2m3 0h4m28 0h1m-58 1h1m9 0h1m4 0h3m1 0h1m2 0h1m16 0h1m-24 1h1m4 0h1m2 0h1m5 0h2m9 0h1m5 0h1m-46 1h1m5 0h2m7 0h1m3 0h1m-12 1h1m10 0h1m17 0h1m7 0h1m-28 1h1m7 0h1m18 0h1m-28 1h2m4 0h2m-21 1h1m2 0h1m3 0h2m9 0h4m13 0h1m-32 1h1m15 0h2m24 0h1m-48 1h1m12 0h1m6 0h1m8 0h1m-36 1h1m24 0h1m4 0h1m4 0h1m5 0h1m-36 1h1m12 0h1m10 0h1m-28 1h1m6 1h1m2 0h1m4 0h3m9 0h1m-12 1h1m14 0h1m-14 1h1m-18 1h1m8 0h2m18 0h1m22 0h1m-24 1h1m-3 2h1m-32 1h1m1 0h1m4 0h1m4 0h1m1 0h5m12 0h1"/>
</g>
<rect x="192.3" y="291.5" width="122.55" height="107.5" fill="none" stroke="#000" stroke-width="1.2"/>
<path d="M232 291.5V399M192.3 343.1H314.85" fill="none" stroke="#000" stroke-width="1.05"/>
<path d="M192.3 399v3.3M192.3 399h-3.3M201.52 399v2.6M192.3 390.91h-2.6M206.92 399v2.6M192.3 386.18h-2.6M210.75 399v2.6M192.3 382.82h-2.6M213.71 399v2.6M192.3 380.22h-2.6M216.14 399v2.6M192.3 378.09h-2.6M218.19 399v2.6M192.3 376.29h-2.6M219.97 399v2.6M192.3 374.73h-2.6M221.54 399v2.6M192.3 373.35h-2.6M222.94 399v3.3M192.3 372.12h-3.3M232.16 399v2.6M192.3 364.03h-2.6M237.56 399v2.6M192.3 359.3h-2.6M241.38 399v2.6M192.3 355.94h-2.6M244.35 399v2.6M192.3 353.34h-2.6M246.78 399v2.6M192.3 351.21h-2.6M248.83 399v2.6M192.3 349.41h-2.6M250.61 399v2.6M192.3 347.85h-2.6M252.17 399v2.6M192.3 346.48h-2.6M253.58 399v3.3M192.3 345.25h-3.3M262.8 399v2.6M192.3 337.16h-2.6M268.19 399v2.6M192.3 332.43h-2.6M272.02 399v2.6M192.3 329.07h-2.6M274.99 399v2.6M192.3 326.47h-2.6M277.42 399v2.6M192.3 324.34h-2.6M279.47 399v2.6M192.3 322.54h-2.6M281.24 399v2.6M192.3 320.98h-2.6M282.81 399v2.6M192.3 319.6h-2.6M284.21 399v3.3M192.3 318.38h-3.3M293.44 399v2.6M192.3 310.28h-2.6M298.83 399v2.6M192.3 305.55h-2.6M302.66 399v2.6M192.3 302.19h-2.6M305.63 399v2.6M192.3 299.59h-2.6M308.05 399v2.6M192.3 297.46h-2.6M310.1 399v2.6M192.3 295.66h-2.6M311.88 399v2.6M192.3 294.1h-2.6M313.45 399v2.6M192.3 292.73h-2.6M314.85 399v2.6M192.3 291.5h-2.6" fill="none" stroke="#000" stroke-width="1.3"/>
<text transform="translate(187 409.5) scale(.8 1)" class="tx">10<tspan class="ex" dx=".6" dy="-3.8">0</tspan></text>
<text transform="translate(186.8 404.6) rotate(-90) scale(.85 1)" class="ty">10<tspan class="ey" dy="-3.3">0</tspan></text>
<text transform="translate(217.64 409.5) scale(.8 1)" class="tx">10<tspan class="ex" dx=".6" dy="-3.8">1</tspan></text>
<text transform="translate(186.8 377.73) rotate(-90) scale(.85 1)" class="ty">10<tspan class="ey" dy="-3.3">1</tspan></text>
<text transform="translate(248.28 409.5) scale(.8 1)" class="tx">10<tspan class="ex" dx=".6" dy="-3.8">2</tspan></text>
<text transform="translate(186.8 350.85) rotate(-90) scale(.85 1)" class="ty">10<tspan class="ey" dy="-3.3">2</tspan></text>
<text transform="translate(278.91 409.5) scale(.8 1)" class="tx">10<tspan class="ex" dx=".6" dy="-3.8">3</tspan></text>
<text transform="translate(186.8 323.98) rotate(-90) scale(.85 1)" class="ty">10<tspan class="ey" dy="-3.3">3</tspan></text>
<text transform="translate(309.55 409.5) scale(.8 1)" class="tx">10<tspan class="ex" dx=".6" dy="-3.8">4</tspan></text>
<text transform="translate(186.8 297.1) rotate(-90) scale(.85 1)" class="ty">10<tspan class="ey" dy="-3.3">4</tspan></text>
</g>
<g>
<g transform="translate(0 .5)" class="dots">
<path stroke-opacity="0.3" d="M0 0m391 292h1m3 0h1m21 0h1m9 0h1m-51 1h1m30 0h1m6 0h1m2 0h1m4 0h1m2 0h1m-29 1h1m2 0h1m5 0h2m14 0h1m2 0h1m3 0h1m-44 1h1m10 0h1m1 0h1m13 0h1m4 0h1m1 0h1m2 0h1m-45 1h1m15 0h1m6 0h1m5 0h1m6 0h1m4 0h1m2 0h1m1 0h1m3 0h1m-66 1h1m15 0h1m1 0h1m5 0h1m1 0h1m1 0h1m4 0h1m2 0h1m1 0h1m5 0h1m1 0h1m1 0h2m4 0h1m1 0h2m1 0h1m1 0h1m2 0h1m-65 1h1m4 0h1m12 0h1m7 0h1m4 0h2m12 0h1m2 0h2m-44 1h3m6 0h2m7 0h1m14 0h1m1 0h1m12 0h1m3 0h1m8 0h1m-61 1h2m16 0h3m2 0h1m3 0h1m2 0h1m12 0h1m3 0h1m4 0h3m4 0h1m-62 1h1m8 0h2m5 0h2m2 0h1m3 0h2m8 0h1m10 0h1m1 0h1m3 0h1m6 0h1m-60 1h1m9 0h1m5 0h1m4 0h1m23 0h1m4 0h1m1 0h1m-53 1h1m20 0h2m30 0h1m1 0h1m5 0h1m-61 1h1m6 0h1m1 0h1m1 0h1m10 0h1m2 0h1m1 0h2m1 0h1m5 0h1m12 0h1m3 0h1m-66 1h1m19 0h1m8 0h3m30 0h1m6 0h1m7 0h1m-78 1h1m30 0h1m10 0h1m14 0h1m22 0h2m-81 1h2m14 0h2m2 0h1m1 0h1m39 0h1m4 0h1m3 0h1m4 0h1m2 0h2m-80 1h1m1 0h1m7 0h1m6 0h2m2 0h1m3 0h1m28 0h1m7 0h2m6 0h1m4 0h2m-66 1h1m4 0h1m1 0h2m8 0h1m27 0h1m11 0h1m9 0h2m-68 1h1m5 0h1m2 0h1m12 0h1m24 0h1m8 0h1m2 0h2m6 0h1m-78 1h2m8 0h2m4 0h1m1 0h1m3 0h1m29 0h2m10 0h1m1 0h1m3 0h2m4 0h1m-77 1h1m7 0h1m6 0h1m4 0h1m10 0h1m21 0h1m5 0h1m2 0h1m5 0h1m-73 1h1m1 0h1m10 0h1m4 0h1m6 0h2m5 0h1m7 0h1m27 0h1m-74 1h1m7 0h1m8 0h1m4 0h1m9 0h2m40 0h1m-62 1h1m2 0h1m1 0h3m4 0h1m4 0h1m18 0h1m20 0h1m1 0h2m3 0h2m-73 1h1m2 0h1m9 0h1m2 0h1m12 0h2m2 0h1m4 0h1m9 0h1m2 0h1m10 0h1m10 0h1m-71 1h1m1 0h2m8 0h3m1 0h1m2 0h1m4 0h2m1 0h1m3 0h1m25 0h1m12 0h1m1 0h1m-77 1h1m8 0h1m1 0h2m8 0h1m1 0h1m2 0h2m1 0h2m2 0h1m25 0h1m1 0h1m4 0h3m6 0h1m-81 1h1m3 0h1m1 0h1m2 0h1m6 0h1m2 0h1m9 0h2m2 0h1m3 0h1m33 0h1m2 0h1m-66 1h1m10 0h2m48 0h2m-64 1h1m14 0h1m4 0h1m2 0h1m2 0h1m6 0h2m17 0h2m11 0h1m1 0h1m-70 1h1m3 0h1m4 0h1m2 0h1m5 0h1m1 0h2m10 0h1m3 0h1m17 0h2m5 0h1m-68 1h1m14 0h1m2 0h1m8 0h1m8 0h2m-38 1h1m18 0h1m52 0h1m-81 1h1m13 0h1m1 0h1m9 0h1m3 0h1m1 0h1m9 0h2m4 0h1m2 0h1m34 0h1m-71 1h1m5 0h1m5 0h1m2 0h1m5 0h1m6 0h1m14 0h1m-46 1h1m18 0h1m1 0h1m1 0h1m3 0h1m36 0h3m-72 1h1m3 0h1m4 0h1m1 0h2m5 0h1m5 0h2m4 0h1m10 0h1m10 0h1m8 0h1m4 0h3m9 0h2m-82 1h1m19 0h1m2 0h1m2 0h1m9 0h1m25 0h1m10 0h1m7 0h1m-70 1h1m2 0h1m2 0h1m46 0h2m1 0h1m-60 1h1m1 0h1m2 0h2m1 0h1m2 0h3m6 0h4m1 0h1m1 0h1m31 0h3m1 0h1m-67 1h1m1 0h1m2 0h1m5 0h1m10 0h1m2 0h2m1 0h2m20 0h1m10 0h1m1 0h1m1 0h1m2 0h1m-79 1h1m22 0h1m5 0h1m3 0h1m35 0h2m1 0h1m6 0h2m-68 1h2m1 0h3m6 0h1m3 0h1m1 0h1m6 0h1m2 0h1m3 0h1m2 0h1m6 0h1m7 0h1m8 0h1m-69 1h2m6 0h1m10 0h1m12 0h2m2 0h1m4 0h1m10 0h2m12 0h1m16 0h1m-84 1h2m5 0h1m2 0h1m1 0h2m7 0h1m10 0h1m6 0h1m16 0h1m3 0h1m2 0h1m8 0h2m-71 1h2m3 0h2m4 0h1m1 0h1m1 0h1m3 0h1m1 0h1m3 0h1m1 0h1m2 0h2m11 0h1m1 0h1m3 0h1m15 0h1m3 0h2m-52 1h1m3 0h1m1 0h2m2 0h1m1 0h1m6 0h1m2 0h2m2 0h2m4 0h1m2 0h2m10 0h1m-75 1h1m5 0h2m5 0h1m13 0h1m4 0h1m9 0h1m3 0h1m13 0h1m1 0h1m7 0h2m1 0h1m1 0h1m-77 1h1m13 0h1m3 0h1m6 0h2m3 0h3m4 0h2m4 0h1m3 0h1m15 0h1m3 0h2m12 0h1m-71 1h2m1 0h1m1 0h1m4 0h1m18 0h2m6 0h2m2 0h1m4 0h1m4 0h1m-38 1h1m2 0h1m8 0h1m2 0h1m4 0h1m16 0h2m7 0h1m1 0h1m-73 1h1m26 0h1m1 0h1m2 0h1m4 0h2m28 0h1m5 0h1m10 0h1m-84 1h1m4 0h1m2 0h1m5 0h1m15 0h2m2 0h1m6 0h1m1 0h2m3 0h1m4 0h1m2 0h1m19 0h1m6 0h1m-86 1h1m16 0h2m5 0h1m4 0h1m1 0h1m4 0h1m6 0h1m3 0h2m3 0h1m4 0h2m4 0h2m3 0h2m5 0h2m8 0h2m-70 1h2m9 0h1m3 0h1m6 0h1m8 0h1m1 0h1m4 0h1m5 0h1m3 0h1m10 0h1m1 0h1m2 0h1m-66 1h3m9 0h1m13 0h3m2 0h1m3 0h1m2 0h2m1 0h1m4 0h2m14 0h1m-59 1h1m1 0h1m8 0h2m15 0h1m1 0h1m6 0h1m19 0h1m1 0h2m-63 1h1m5 0h1m10 0h1m3 0h1m10 0h3m7 0h2m6 0h3m1 0h1m-52 1h1m6 0h1m7 0h2m7 0h1m3 0h1m4 0h1m2 0h1m2 0h1m11 0h1m2 0h2m3 0h2m2 0h1m-79 1h1m7 0h3m4 0h1m16 0h1m4 0h3m6 0h1m2 0h1m16 0h1m7 0h2m1 0h1m2 0h1m-83 1h2m1 0h1m6 0h1m6 0h2m14 0h3m1 0h1m1 0h1m5 0h1m7 0h1m3 0h2m6 0h1m2 0h1m4 0h1m3 0h1m5 0h2m-84 1h1m15 0h1m2 0h1m11 0h2m7 0h1m2 0h1m12 0h1m10 0h2m2 0h1m-60 1h1m9 0h1m11 0h2m1 0h1m3 0h1m12 0h2m1 0h1m1 0h1m4 0h1m2 0h1m6 0h1m2 0h1m-60 1h1m2 0h1m9 0h2m11 0h2m5 0h1m14 0h1m1 0h1m3 0h2m2 0h1m-69 1h3m6 0h1m2 0h1m1 0h1m7 0h1m1 0h1m5 0h1m3 0h1m4 0h1m2 0h3m1 0h1m1 0h1m1 0h1m3 0h1m9 0h1m3 0h1m-70 1h1m2 0h1m5 0h1m2 0h2m7 0h1m10 0h1m1 0h1m3 0h1m2 0h1m1 0h1m3 0h1m3 0h1m3 0h1m4 0h1m6 0h1m4 0h2m1 0h1m-78 1h2m9 0h1m2 0h1m6 0h1m14 0h1m1 0h3m10 0h1m6 0h1m14 0h3m-76 1h2m7 0h1m14 0h1m3 0h1m1 0h2m5 0h1m10 0h1m4 0h2m5 0h2m3 0h1m5 0h1m-74 1h1m3 0h1m2 0h1m1 0h1m4 0h1m4 0h1m7 0h1m2 0h1m11 0h1m8 0h1m19 0h1m-69 1h1m3 0h1m5 0h1m14 0h1m1 0h2m7 0h1m1 0h3m1 0h2m6 0h1m1 0h1m5 0h1m4 0h1m5 0h1m9 0h1m-69 1h1m22 0h1m5 0h1m4 0h1m3 0h1m11 0h1m1 0h1m16 0h1m3 0h1m-63 1h1m9 0h1m5 0h1m2 0h1m1 0h2m5 0h1m5 0h1m10 0h1m-67 1h1m14 0h1m8 0h1m3 0h1m7 0h1m4 0h1m6 0h1m14 0h1m2 0h1m5 0h1m-74 1h1m12 0h2m6 0h1m1 0h1m21 0h1m9 0h1m9 0h1m2 0h1m5 0h1m-84 1h1m9 0h1m4 0h1m8 0h1m1 0h1m4 0h1m10 0h1m3 0h1m3 0h1m5 0h2m1 0h1m2 0h1m10 0h1m2 0h2m-58 1h1m1 0h1m42 0h1m3 0h1m8 0h1m-72 1h1m3 0h1m3 0h1m29 0h1m11 0h1m18 0h1m2 0h1m-71 1h1m5 0h1m5 0h2m2 0h1m13 0h2m5 0h2m15 0h3m2 0h1m1 0h1m8 0h1m-75 1h1m12 0h1m2 0h1m3 0h2m8 0h2m4 0h1m1 0h1m3 0h1m3 0h1m2 0h1m4 0h2m15 0h1m-70 1h2m2 0h3m3 0h1m5 0h1m4 0h1m3 0h1m4 0h1m4 0h1m1 0h1m5 0h1m25 0h1m-76 1h1m3 0h1m1 0h2m4 0h1m9 0h1m9 0h1m14 0h1m32 0h2m1 0h1m-78 1h1m1 0h1m12 0h1m2 0h1m1 0h1m10 0h2m8 0h1m3 0h1m3 0h1m13 0h1m10 0h1m2 0h1m-78 1h1m1 0h1m1 0h1m10 0h1m3 0h1m5 0h1m4 0h1m3 0h1m16 0h1m15 0h1m1 0h1m-74 1h1m1 0h1m3 0h1m2 0h1m11 0h1m1 0h1m5 0h1m7 0h1m13 0h1m1 0h1m6 0h1m1 0h1m3 0h2m3 0h1m2 0h1m-69 1h1m1 0h1m13 0h1m4 0h2m8 0h1m9 0h1m2 0h1m1 0h2m1 0h1m3 0h1m2 0h1m15 0h1m8 0h1m-89 1h1m9 0h1m6 0h1m4 0h1m19 0h1m8 0h1m1 0h1m17 0h1m2 0h2m2 0h1m8 0h1m-87 1h1m1 0h1m5 0h1m1 0h1m14 0h1m21 0h2m9 0h1m1 0h1m1 0h1m2 0h1m7 0h3m4 0h1m-84 1h1m6 0h1m15 0h1m11 0h1m7 0h1m2 0h1m14 0h1m3 0h1m16 0h1m-84 1h1m4 0h1m13 0h1m5 0h1m3 0h2m12 0h1m2 0h1m16 0h1m14 0h2m-79 1h1m4 0h1m14 0h1m11 0h2m1 0h1m17 0h2m3 0h1m8 0h1m-67 1h1m1 0h1m5 0h1m2 0h2m5 0h2m4 0h1m7 0h1m14 0h1m8 0h1m3 0h1m3 0h1m8 0h1m2 0h2m4 0h1m-87 1h2m5 0h1m14 0h1m2 0h3m1 0h1m5 0h1m15 0h1m4 0h2m7 0h1m19 0h1m-71 1h1m5 0h1m44 0h1m11 0h1m-76 1h1m5 0h1m6 0h1m4 0h1m1 0h1m1 0h1m46 0h2m5 0h1m-76 1h1m1 0h2m8 0h1m4 0h1m1 0h1m27 0h1m24 0h1m-66 1h1m5 0h4m13 0h1m17 0h1m16 0h1m5 0h1m-68 1h1m10 0h1m3 0h1m-23 1h1m2 0h1m3 0h1m1 0h1m13 0h1m2 0h1m28 0h1m14 0h1m4 0h1m-75 1h1m11 0h1m1 0h1m1 0h1m3 0h1m4 0h2m42 0h1m26 0h2m-93 1h1m3 0h1m87 0h1m-101 1h1m3 0h1m5 0h1m3 0h1m3 0h2m1 0h1m1 0h1m-24 1h1m2 0h1m4 0h1m5 0h1m5 0h1m46 0h1m-68 1h1m10 0h1m7 0h1m47 0h1m-67 1h1m3 0h1m1 0h1m8 0h1m16 0h1m-34 1h1m1 0h1m4 0h1m3 0h1m20 0h1m-31 1h1m1 0h1m12 0h2m4 1h1m-24 1h1m7 0h1m2 0h1m2 0h4m2 0h3"/>
<path stroke-opacity="0.52" d="M0 0m402 292h1m20 0h1m2 0h1m-40 1h5m1 0h1m2 0h1m12 0h1m1 0h2m4 0h1m1 0h3m-31 1h2m1 0h1m1 0h2m5 0h1m1 0h1m4 0h1m10 0h1m-43 1h1m22 0h1m3 0h3m7 0h1m8 0h2m-48 1h1m8 0h1m3 0h1m6 0h1m1 0h1m9 0h2m4 0h2m3 0h1m8 0h1m-66 1h1m13 0h1m1 0h1m12 0h1m19 0h1m1 0h2m-53 1h1m4 0h1m8 0h2m6 0h1m5 0h1m6 0h1m1 0h1m15 0h1m-20 1h1m4 0h1m1 0h1m4 0h1m4 0h1m2 0h1m6 0h1m-41 1h1m1 0h1m7 0h1m3 0h1m1 0h1m2 0h2m1 0h2m2 0h1m3 0h1m5 0h1m8 0h1m-44 1h1m1 0h3m9 0h1m5 0h1m1 0h2m6 0h2m3 0h1m-61 1h1m5 0h1m9 0h1m5 0h2m6 0h1m2 0h1m1 0h1m1 0h1m2 0h1m3 0h2m5 0h2m3 0h1m8 0h1m-56 1h1m25 0h1m7 0h1m5 0h1m3 0h1m6 0h1m1 0h1m3 0h1m-58 1h1m12 0h4m3 0h1m20 0h1m6 0h1m1 0h1m1 0h1m4 0h1m-73 1h1m19 0h1m5 0h1m7 0h2m3 0h1m7 0h1m11 0h1m3 0h1m3 0h1m5 0h1m-74 1h1m26 0h1m1 0h1m1 0h1m8 0h1m6 0h2m14 0h1m4 0h2m-61 1h2m10 0h1m16 0h1m2 0h1m10 0h1m5 0h2m4 0h1m1 0h1m10 0h1m-78 1h1m20 0h1m1 0h2m4 0h1m1 0h4m21 0h1m2 0h2m1 0h1m2 0h2m-42 1h1m6 0h2m13 0h2m17 0h1m1 0h1m1 0h1m-60 1h2m1 0h1m5 0h2m2 0h1m3 0h1m4 0h1m11 0h3m9 0h1m6 0h1m6 0h1m7 0h1m-78 1h1m17 0h1m2 0h1m2 0h1m1 0h1m1 0h1m5 0h1m3 0h1m3 0h2m8 0h1m6 0h1m1 0h1m1 0h1m5 0h1m-70 1h1m10 0h2m7 0h1m4 0h1m8 0h1m26 0h1m3 0h1m-60 1h2m3 0h2m11 0h1m1 0h1m4 0h3m26 0h2m-63 1h1m10 0h2m5 0h4m2 0h1m9 0h1m2 0h2m1 0h1m19 0h2m2 0h1m3 0h1m-59 1h1m4 0h2m2 0h1m7 0h1m3 0h1m6 0h1m21 0h3m1 0h1m-62 1h1m9 0h1m2 0h1m4 0h1m12 0h1m1 0h1m9 0h1m4 0h1m14 0h3m1 0h2m-69 1h1m13 0h1m2 0h1m11 0h1m1 0h1m9 0h1m10 0h2m1 0h1m4 0h2m4 0h1m1 0h1m-58 1h2m7 0h1m5 0h1m2 0h2m8 0h1m13 0h1m6 0h1m5 0h1m-67 1h1m6 0h1m3 0h1m5 0h1m4 0h1m5 0h1m2 0h1m3 0h1m2 0h1m6 0h1m4 0h1m3 0h3m1 0h1m-59 1h2m3 0h2m8 0h1m3 0h1m7 0h1m9 0h2m17 0h1m1 0h1m-54 1h3m6 0h1m7 0h1m2 0h2m25 0h2m3 0h2m1 0h1m-70 1h2m5 0h1m14 0h1m10 0h1m5 0h1m21 0h2m6 0h2m2 0h1m-74 1h1m7 0h2m20 0h1m1 0h3m4 0h2m5 0h1m18 0h2m1 0h1m1 0h1m1 0h1m-73 1h1m9 0h1m11 0h1m2 0h1m2 0h1m4 0h1m2 0h2m4 0h1m1 0h1m9 0h1m11 0h1m1 0h1m9 0h1m-66 1h1m2 0h1m5 0h1m2 0h1m10 0h1m3 0h1m4 0h1m2 0h1m5 0h1m2 0h1m5 0h2m3 0h1m3 0h3m13 0h2m-99 1h1m13 0h1m6 0h1m1 0h1m5 0h1m6 0h1m2 0h1m1 0h2m8 0h2m18 0h1m9 0h3m-74 1h2m9 0h2m5 0h1m13 0h2m2 0h1m2 0h1m3 0h1m2 0h2m11 0h1m6 0h1m-61 1h2m10 0h3m16 0h1m8 0h2m5 0h1m2 0h1m4 0h1m-51 1h1m14 0h1m2 0h1m2 0h1m1 0h1m5 0h2m1 0h1m13 0h1m3 0h1m3 0h1m1 0h1m9 0h1m-81 1h1m1 0h1m8 0h1m10 0h1m6 0h2m1 0h1m2 0h1m3 0h3m1 0h1m2 0h1m13 0h1m1 0h1m4 0h1m2 0h2m1 0h1m-64 1h1m5 0h1m2 0h1m13 0h1m4 0h2m3 0h2m4 0h1m-56 1h1m14 0h2m4 0h2m6 0h2m1 0h1m3 0h1m7 0h1m10 0h1m10 0h1m2 0h1m4 0h1m4 0h1m2 0h2m-84 1h1m13 0h1m4 0h2m2 0h1m5 0h1m2 0h3m4 0h2m1 0h3m6 0h1m9 0h1m4 0h1m3 0h1m-57 1h1m13 0h1m6 0h1m2 0h1m3 0h1m1 0h1m4 0h1m4 0h1m3 0h3m2 0h1m13 0h1m3 0h1m-50 1h4m8 0h1m3 0h5m1 0h1m8 0h1m2 0h1m9 0h1m1 0h1m3 0h1m-74 1h2m6 0h1m4 0h2m8 0h1m1 0h1m1 0h1m3 0h1m2 0h2m2 0h1m1 0h1m8 0h1m12 0h1m1 0h2m1 0h1m3 0h1m-46 1h1m9 0h1m2 0h1m1 0h1m2 0h1m2 0h1m5 0h1m1 0h3m3 0h2m4 0h1m3 0h1m-68 1h1m5 0h2m15 0h1m7 0h1m7 0h2m2 0h1m2 0h1m2 0h1m8 0h2m3 0h2m-65 1h1m3 0h1m13 0h1m9 0h2m1 0h1m13 0h2m9 0h2m4 0h1m3 0h3m-75 1h2m4 0h1m3 0h1m9 0h3m10 0h1m3 0h1m10 0h1m2 0h1m1 0h1m3 0h1m5 0h2m4 0h1m1 0h1m-57 1h3m6 0h1m3 0h1m11 0h1m10 0h2m6 0h1m7 0h1m3 0h1m-57 1h1m6 0h2m2 0h2m7 0h1m4 0h2m3 0h1m4 0h1m1 0h1m6 0h3m7 0h1m-72 1h2m10 0h1m4 0h2m11 0h1m4 0h1m1 0h4m4 0h1m4 0h2m1 0h2m9 0h1m1 0h1m1 0h1m10 0h1m-72 1h2m2 0h1m4 0h2m2 0h1m1 0h1m1 0h1m3 0h2m6 0h1m6 0h1m6 0h1m12 0h1m9 0h1m-61 1h1m1 0h2m3 0h1m3 0h1m4 0h1m18 0h1m11 0h1m11 0h3m-65 1h1m2 0h3m2 0h1m16 0h1m2 0h2m8 0h1m8 0h1m9 0h1m1 0h1m3 0h2m-82 1h1m20 0h1m1 0h4m6 0h1m2 0h2m2 0h1m8 0h1m7 0h1m10 0h1m2 0h1m9 0h1m-82 1h1m18 0h1m8 0h2m5 0h2m2 0h1m2 0h1m2 0h1m1 0h1m11 0h1m4 0h1m4 0h2m3 0h2m6 0h1m-81 1h1m20 0h1m2 0h2m2 0h1m1 0h1m4 0h1m4 0h3m1 0h1m9 0h2m5 0h5m7 0h1m-74 1h1m2 0h2m14 0h1m3 0h2m5 0h1m9 0h2m1 0h1m1 0h1m1 0h1m2 0h1m4 0h1m1 0h1m8 0h1m3 0h1m6 0h1m4 0h1m-64 1h1m1 0h2m11 0h1m1 0h1m18 0h1m2 0h1m1 0h3m2 0h1m11 0h1m-64 1h2m2 0h2m5 0h1m2 0h1m5 0h1m11 0h1m7 0h1m2 0h1m5 0h3m15 0h1m-79 1h1m21 0h1m1 0h1m5 0h2m15 0h1m11 0h3m5 0h1m9 0h2m-65 1h1m2 0h1m12 0h1m9 0h1m4 0h1m3 0h1m9 0h1m2 0h1m3 0h1m-59 1h1m7 0h1m4 0h1m5 0h1m6 0h1m5 0h2m1 0h1m3 0h1m1 0h1m8 0h1m4 0h2m6 0h2m7 0h1m-64 1h1m2 0h1m16 0h1m4 0h1m17 0h1m5 0h1m1 0h1m1 0h3m7 0h1m-71 1h1m2 0h2m17 0h1m1 0h1m9 0h1m3 0h1m1 0h1m1 0h1m4 0h1m4 0h1m2 0h3m1 0h1m1 0h1m4 0h1m1 0h1m-58 1h1m17 0h1m8 0h1m3 0h1m2 0h1m7 0h1m2 0h2m1 0h1m1 0h1m1 0h1m3 0h1m-74 1h1m6 0h1m1 0h1m3 0h1m1 0h2m2 0h1m9 0h1m5 0h1m2 0h1m1 0h2m11 0h2m3 0h1m1 0h2m4 0h1m2 0h1m1 0h1m-69 1h1m1 0h1m2 0h1m13 0h1m8 0h1m4 0h2m15 0h1m2 0h1m3 0h2m10 0h2m-64 1h1m6 0h1m11 0h1m3 0h1m1 0h1m12 0h1m2 0h1m2 0h1m9 0h1m-61 1h2m5 0h1m6 0h2m5 0h3m5 0h1m1 0h2m17 0h3m12 0h1m-70 1h1m3 0h2m6 0h1m11 0h1m11 0h1m3 0h1m1 0h2m5 0h1m1 0h1m8 0h1m5 0h1m1 0h1m17 0h2m-83 1h1m6 0h1m3 0h1m9 0h1m19 0h3m5 0h1m1 0h3m4 0h1m-57 1h1m2 0h1m3 0h1m13 0h1m13 0h1m4 0h1m5 0h1m7 0h1m3 0h2m5 0h1m-66 1h1m2 0h1m1 0h1m1 0h2m1 0h1m5 0h1m21 0h2m22 0h1m2 0h1m8 0h1m-88 1h2m13 0h2m20 0h2m11 0h1m3 0h1m5 0h1m1 0h1m3 0h1m7 0h3m-63 1h1m13 0h2m7 0h2m7 0h1m4 0h1m1 0h1m2 0h1m1 0h1m2 0h1m3 0h1m3 0h1m1 0h3m-64 1h1m2 0h2m5 0h1m11 0h1m19 0h1m2 0h1m4 0h1m12 0h1m-62 1h2m5 0h1m3 0h1m3 0h1m1 0h3m7 0h2m8 0h1m7 0h2m2 0h1m4 0h2m3 0h1m2 0h1m-46 1h1m6 0h1m1 0h1m4 0h1m2 0h3m4 0h1m2 0h2m3 0h2m3 0h1m-61 1h1m4 0h2m4 0h1m9 0h1m8 0h1m1 0h2m6 0h2m8 0h1m10 0h1m15 0h1m-79 1h2m13 0h1m7 0h1m2 0h2m14 0h1m6 0h2m1 0h2m4 0h1m1 0h2m2 0h1m6 0h1m5 0h2m-85 1h2m2 0h1m1 0h2m1 0h1m3 0h2m2 0h1m2 0h1m8 0h1m2 0h1m20 0h1m2 0h1m6 0h2m14 0h1m-73 1h1m8 0h1m34 0h1m8 0h2m10 0h2m2 0h1m2 0h1m-74 1h2m7 0h1m4 0h2m1 0h3m29 0h1m2 0h1m3 0h1m2 0h1m4 0h1m2 0h1m-73 1h2m6 0h1m1 0h1m2 0h1m7 0h2m12 0h1m18 0h1m5 0h1m1 0h1m1 0h1m1 0h2m3 0h1m9 0h1m8 0h1m-87 1h1m1 0h1m14 0h2m2 0h1m1 0h1m2 0h1m4 0h1m24 0h1m6 0h1m-63 1h2m3 0h3m8 0h1m6 0h1m19 0h4m11 0h1m-67 1h1m8 0h1m4 0h1m4 0h1m4 0h2m4 0h1m18 0h1m-50 1h1m10 0h2m8 0h1m2 0h2m2 0h1m19 0h2m1 0h1m8 0h1m16 0h1m2 0h2m-75 1h1m3 0h1m23 0h1m14 0h1m5 0h1m-43 1h1m2 0h1m2 0h2m14 0h1m26 0h1m3 0h1m1 0h1m9 0h2m-80 1h1m7 0h1m3 0h2m12 0h2m7 0h1m28 0h1m1 0h2m-62 1h1m7 0h1m6 0h1m12 0h1m30 0h1m-58 1h2m7 0h1m7 0h1m6 0h1m18 0h1m10 0h1m2 0h1m-62 1h1m3 0h2m2 0h1m1 0h1m5 0h1m1 0h2m1 0h1m-27 1h1m4 0h1m9 0h1m5 0h1m48 0h3m2 0h1m-70 1h1m2 0h1m1 0h1m4 0h3m2 0h2m47 0h1m-71 1h2m7 0h1m2 0h1m10 0h1m46 0h1m-55 1h2m1 0h1m6 0h3m34 0h1m34 0h1m-98 1h1m8 0h1m-10 1h1m4 0h1m1 0h1m2 0h2m3 0h1m48 0h1m-64 1h1m1 0h1m1 0h1m2 0h1m3 0h1m51 0h1m-63 1h1m1 0h1m3 0h1m1 0h1m1 0h1m17 0h1m-28 1h1m7 0h1m1 0h2m5 0h1m-22 1h1m1 0h1m1 0h1m1 0h1m7 0h2m5 0h1m-15 1h1m2 0h1m1 0h2m2 0h1m2 0h1m1 0h1m-19 1h1m1 0h1m2 0h1"/>
<path stroke-opacity="0.76" d="M0 0m377 292h1m14 0h2m4 0h1m2 0h1m6 0h2m3 0h1m1 0h2m1 0h1m3 0h1m-31 1h1m1 0h1m2 0h3m1 0h5m7 0h2m7 0h1m-30 1h1m5 0h1m2 0h1m3 0h1m6 0h1m2 0h1m2 0h2m10 0h1m-36 1h2m1 0h1m3 0h1m1 0h1m3 0h1m2 0h2m3 0h1m5 0h1m-37 1h1m1 0h1m7 0h1m9 0h2m4 0h1m11 0h1m-34 1h1m1 0h1m7 0h1m4 0h1m2 0h1m1 0h1m12 0h1m4 0h2m-50 1h1m9 0h1m2 0h1m3 0h1m4 0h3m1 0h1m3 0h1m2 0h1m-34 1h1m5 0h1m7 0h1m4 0h3m12 0h1m1 0h1m2 0h1m4 0h1m-39 1h1m7 0h1m1 0h1m1 0h1m4 0h1m5 0h1m2 0h1m3 0h1m1 0h2m5 0h2m-65 1h1m10 0h1m12 0h1m8 0h2m2 0h2m5 0h1m4 0h1m8 0h1m3 0h2m1 0h1m-41 1h1m1 0h2m3 0h1m6 0h1m20 0h1m1 0h2m-58 1h1m21 0h1m5 0h1m2 0h1m2 0h3m5 0h2m1 0h1m1 0h1m5 0h1m-46 1h1m3 0h1m10 0h1m2 0h1m4 0h1m2 0h2m4 0h1m3 0h1m2 0h1m2 0h2m3 0h1m4 0h1m4 0h1m-46 1h1m4 0h1m1 0h1m3 0h1m1 0h1m4 0h1m5 0h2m1 0h1m7 0h1m4 0h2m-47 1h1m7 0h1m14 0h1m5 0h1m2 0h1m1 0h3m2 0h3m3 0h1m-69 1h1m22 0h2m2 0h2m2 0h2m10 0h2m6 0h1m1 0h1m3 0h2m3 0h1m3 0h1m-54 1h2m12 0h1m4 0h1m1 0h2m7 0h2m1 0h1m8 0h1m2 0h1m7 0h1m-52 1h1m8 0h2m5 0h1m1 0h1m3 0h2m13 0h2m-31 1h2m1 0h1m1 0h1m2 0h1m1 0h1m1 0h1m1 0h1m1 0h1m5 0h2m1 0h2m6 0h1m1 0h2m2 0h1m2 0h1m5 0h1m-51 1h1m10 0h1m1 0h2m3 0h1m4 0h3m2 0h2m5 0h1m4 0h1m7 0h1m5 0h1m-75 1h1m14 0h2m3 0h1m3 0h1m4 0h1m5 0h1m5 0h1m4 0h1m3 0h2m8 0h1m7 0h1m-73 1h1m10 0h1m6 0h1m17 0h3m1 0h1m6 0h1m5 0h1m3 0h1m6 0h1m4 0h1m-75 1h1m28 0h1m6 0h1m2 0h1m2 0h1m4 0h1m7 0h1m3 0h2m1 0h1m5 0h1m-64 1h1m4 0h1m19 0h1m1 0h1m1 0h3m2 0h2m2 0h1m2 0h1m6 0h1m5 0h1m4 0h1m-55 1h2m11 0h1m13 0h1m1 0h1m1 0h1m5 0h2m19 0h1m2 0h1m-47 1h1m8 0h1m1 0h1m6 0h1m12 0h1m2 0h1m3 0h1m3 0h1m11 0h1m-56 1h1m7 0h1m3 0h1m3 0h1m1 0h1m1 0h1m8 0h1m5 0h1m1 0h1m2 0h1m1 0h1m1 0h1m4 0h2m-77 1h1m5 0h1m8 0h1m11 0h1m13 0h1m1 0h3m2 0h1m6 0h1m4 0h1m2 0h2m3 0h1m1 0h1m2 0h1m-56 1h2m8 0h2m9 0h4m1 0h1m1 0h1m3 0h1m7 0h1m2 0h2m1 0h1m-57 1h1m2 0h2m2 0h1m10 0h1m1 0h1m5 0h1m4 0h1m4 0h1m1 0h1m2 0h1m2 0h2m13 0h1m5 0h1m-66 1h1m1 0h1m6 0h2m10 0h1m2 0h2m2 0h1m1 0h1m1 0h1m4 0h1m2 0h2m2 0h3m1 0h1m3 0h1m4 0h1m1 0h1m5 0h2m2 0h1m-61 1h2m2 0h1m7 0h3m8 0h1m3 0h2m1 0h1m1 0h1m2 0h1m1 0h2m5 0h1m11 0h1m-53 1h1m6 0h1m3 0h3m2 0h1m7 0h1m1 0h4m4 0h1m1 0h1m3 0h2m2 0h1m1 0h1m8 0h1m-69 1h1m5 0h1m1 0h1m11 0h2m10 0h1m5 0h1m4 0h2m2 0h1m2 0h1m4 0h1m3 0h3m-47 1h1m1 0h2m4 0h1m1 0h1m7 0h1m1 0h1m5 0h2m2 0h1m5 0h2m4 0h1m3 0h1m-54 1h1m5 0h1m2 0h1m5 0h2m4 0h1m5 0h1m1 0h1m6 0h3m2 0h1m1 0h1m3 0h1m-71 1h1m9 0h1m20 0h1m6 0h1m6 0h2m2 0h1m4 0h2m6 0h1m1 0h1m3 0h1m10 0h1m-72 1h2m6 0h1m2 0h1m4 0h1m3 0h1m2 0h2m4 0h1m8 0h1m8 0h1m6 0h5m6 0h2m-67 1h1m7 0h2m2 0h2m1 0h1m4 0h1m14 0h2m4 0h1m4 0h1m1 0h1m1 0h1m3 0h3m5 0h1m8 0h1m6 0h1m-57 1h3m2 0h1m11 0h1m1 0h1m2 0h1m6 0h1m3 0h1m3 0h3m2 0h1m5 0h1m1 0h1m-62 1h1m5 0h2m1 0h2m4 0h1m5 0h1m2 0h1m2 0h2m4 0h1m2 0h1m2 0h2m4 0h1m1 0h1m1 0h2m1 0h1m-53 1h1m5 0h1m3 0h1m16 0h3m2 0h1m3 0h4m2 0h1m3 0h2m1 0h2m-67 1h1m22 0h1m3 0h2m8 0h1m6 0h1m1 0h1m3 0h2m1 0h1m5 0h2m1 0h1m1 0h1m1 0h1m1 0h2m3 0h2m5 0h1m-65 1h2m6 0h1m9 0h2m8 0h1m10 0h1m2 0h1m1 0h1m2 0h1m1 0h2m4 0h2m13 0h1m-65 1h2m3 0h1m3 0h1m1 0h1m1 0h1m1 0h1m1 0h2m3 0h1m1 0h1m4 0h5m1 0h1m1 0h1m2 0h1m3 0h1m3 0h1m4 0h1m-62 1h2m5 0h1m9 0h1m7 0h3m3 0h1m3 0h1m8 0h1m11 0h1m2 0h1m1 0h1m-66 1h1m16 0h1m7 0h1m1 0h1m1 0h3m1 0h2m10 0h2m2 0h1m4 0h1m1 0h1m1 0h1m-71 1h1m17 0h2m7 0h1m6 0h7m5 0h1m5 0h2m1 0h3m2 0h1m1 0h1m4 0h2m-49 1h1m2 0h2m8 0h3m3 0h1m1 0h1m4 0h1m2 0h1m6 0h1m15 0h1m2 0h1m1 0h1m1 0h2m-71 1h1m6 0h1m2 0h1m5 0h1m3 0h1m3 0h1m1 0h1m1 0h2m3 0h4m6 0h1m7 0h1m2 0h1m2 0h1m7 0h2m-54 1h1m7 0h2m2 0h1m3 0h1m1 0h1m1 0h2m5 0h2m1 0h1m1 0h1m2 0h1m1 0h1m4 0h1m3 0h1m5 0h1m-52 1h1m2 0h1m1 0h1m7 0h1m3 0h1m10 0h2m7 0h2m1 0h1m1 0h1m3 0h1m-70 1h1m6 0h1m18 0h1m1 0h1m9 0h2m3 0h1m2 0h1m3 0h2m8 0h3m3 0h1m3 0h2m7 0h1m3 0h1m-84 1h1m8 0h1m9 0h1m2 0h1m8 0h3m4 0h4m7 0h1m8 0h4m8 0h2m-50 1h1m10 0h1m1 0h1m1 0h1m1 0h1m12 0h1m4 0h1m3 0h1m6 0h2m1 0h1m12 0h2m-68 1h1m1 0h1m7 0h1m3 0h2m2 0h1m8 0h1m5 0h1m5 0h1m5 0h1m1 0h1m1 0h2m11 0h1m-63 1h1m3 0h1m9 0h1m2 0h2m2 0h1m2 0h1m1 0h1m5 0h3m5 0h1m2 0h1m2 0h2m9 0h1m1 0h1m-58 1h1m5 0h2m1 0h1m1 0h3m2 0h1m2 0h1m3 0h1m2 0h1m5 0h2m3 0h1m12 0h1m1 0h1m1 0h3m-51 1h1m4 0h1m1 0h1m5 0h1m6 0h1m2 0h1m1 0h1m2 0h1m8 0h1m3 0h2m3 0h1m-49 1h1m4 0h3m6 0h1m7 0h5m8 0h1m6 0h1m1 0h2m16 0h2m-83 1h1m16 0h3m2 0h1m4 0h2m7 0h1m1 0h1m1 0h1m1 0h1m1 0h2m4 0h1m3 0h1m6 0h1m2 0h1m7 0h1m-57 1h1m4 0h1m1 0h5m4 0h1m2 0h2m6 0h2m5 0h2m1 0h2m5 0h2m1 0h1m5 0h1m2 0h1m-51 1h2m1 0h1m3 0h2m1 0h1m2 0h1m1 0h1m1 0h1m4 0h3m1 0h5m2 0h1m3 0h1m2 0h1m4 0h2m1 0h3m-66 1h1m7 0h1m2 0h1m2 0h4m2 0h1m7 0h1m1 0h1m2 0h1m5 0h1m4 0h1m1 0h3m2 0h1m1 0h1m3 0h1m1 0h1m1 0h1m4 0h1m-68 1h1m15 0h2m1 0h4m1 0h1m1 0h3m7 0h2m4 0h1m5 0h1m4 0h2m4 0h1m1 0h1m13 0h1m-69 1h2m1 0h1m3 0h1m3 0h1m1 0h1m10 0h1m3 0h1m1 0h1m7 0h2m1 0h1m1 0h1m1 0h1m9 0h1m-58 1h4m1 0h2m4 0h1m4 0h1m3 0h1m1 0h2m3 0h2m1 0h1m5 0h1m4 0h1m3 0h1m3 0h1m5 0h1m1 0h1m3 0h3m1 0h1m-70 1h1m2 0h1m1 0h1m1 0h1m1 0h1m5 0h1m1 0h1m1 0h1m3 0h1m2 0h1m2 0h1m1 0h1m5 0h1m2 0h1m1 0h2m8 0h1m12 0h1m1 0h1m-63 1h1m1 0h1m2 0h1m2 0h1m1 0h1m2 0h2m3 0h1m3 0h1m1 0h1m8 0h1m1 0h3m1 0h1m9 0h1m3 0h2m1 0h2m2 0h1m-65 1h1m2 0h1m11 0h2m1 0h1m1 0h1m5 0h1m1 0h1m1 0h2m14 0h1m5 0h1m1 0h1m4 0h1m1 0h5m-72 1h1m5 0h1m2 0h2m6 0h1m3 0h1m2 0h1m4 0h1m2 0h1m5 0h1m1 0h2m15 0h2m4 0h1m3 0h2m-62 1h2m2 0h1m2 0h4m1 0h4m6 0h5m4 0h1m11 0h1m3 0h4m3 0h2m4 0h1m-62 1h2m1 0h2m4 0h1m1 0h2m1 0h1m2 0h3m3 0h1m7 0h1m3 0h1m2 0h1m14 0h3m7 0h1m-68 1h1m1 0h3m1 0h2m1 0h1m3 0h1m4 0h2m1 0h1m3 0h1m2 0h1m5 0h1m6 0h1m1 0h2m8 0h1m1 0h1m1 0h1m2 0h1m4 0h1m8 0h1m-72 1h2m4 0h1m1 0h1m7 0h1m5 0h3m1 0h1m7 0h1m8 0h1m5 0h2m2 0h1m1 0h3m-61 1h1m3 0h1m4 0h3m1 0h1m4 0h2m1 0h1m5 0h1m19 0h2m1 0h1m2 0h1m1 0h2m2 0h2m18 0h1m-80 1h1m1 0h1m2 0h1m4 0h1m2 0h2m9 0h2m2 0h1m13 0h1m9 0h1m7 0h1m5 0h1m3 0h1m-74 1h1m6 0h1m3 0h1m6 0h2m6 0h1m1 0h1m3 0h2m9 0h1m1 0h2m4 0h2m1 0h1m1 0h1m4 0h2m6 0h2m2 0h1m-70 1h2m3 0h2m1 0h1m2 0h1m3 0h1m3 0h1m3 0h3m2 0h1m14 0h1m9 0h2m4 0h2m-69 1h1m7 0h1m6 0h1m1 0h3m4 0h2m14 0h1m12 0h1m5 0h1m2 0h1m1 0h1m1 0h5m3 0h1m-66 1h1m5 0h1m4 0h1m2 0h2m2 0h1m1 0h3m20 0h1m3 0h2m5 0h3m-59 1h1m5 0h3m2 0h1m3 0h1m12 0h1m14 0h1m12 0h1m10 0h1m-59 1h2m1 0h1m2 0h2m15 0h1m13 0h1m9 0h1m4 0h2m4 0h1m1 0h1m-71 1h2m2 0h1m8 0h1m1 0h1m2 0h1m1 0h2m1 0h1m6 0h1m1 0h1m11 0h2m5 0h1m2 0h2m1 0h1m-63 1h1m18 0h1m5 0h2m10 0h1m23 0h1m7 0h1m-65 1h1m7 0h1m2 0h1m1 0h1m4 0h1m1 0h2m10 0h1m10 0h1m12 0h1m8 0h1m5 0h1m-72 1h3m7 0h4m23 0h1m14 0h1m4 0h1m-66 1h1m4 0h1m3 0h2m3 0h2m1 0h1m1 0h1m10 0h2m31 0h1m1 0h1m3 0h1m14 0h1m-79 1h1m2 0h3m12 0h1m1 0h2m7 0h2m7 0h1m20 0h1m2 0h2m-59 1h2m3 0h3m5 0h1m2 0h2m6 0h1m12 0h1m27 0h1m-79 1h1m2 0h1m4 0h2m3 0h1m3 0h1m6 0h1m1 0h1m30 0h1m5 0h1m14 0h1m6 0h1m-80 1h1m3 0h1m4 0h1m2 0h2m8 0h1m21 0h1m13 0h1m1 0h1m1 0h1m-63 1h2m2 0h1m11 0h2m40 0h1m4 0h1m-64 1h1m3 0h2m1 0h2m5 0h1m5 0h1m7 0h1m43 0h1m-76 1h1m8 0h3m9 0h1m9 0h1m27 0h1m10 0h3m-68 1h1m5 0h1m1 0h1m53 0h1m5 0h1m-68 1h2m2 0h2m1 0h1m5 0h1m-23 1h1m6 0h1m5 0h3m3 0h1m3 0h1m2 0h1m28 0h1m-51 1h1m1 0h2m1 0h1m2 0h1m3 0h1m8 0h1m-25 1h4m2 0h1m1 0h1m1 0h4m4 0h1m37 0h1m3 0h1m-56 1h2m10 0h1m11 0h1m-27 1h1m11 0h1m4 0h1m-22 1h1m1 0h1m1 0h1m5 0h2m1 0h1m-14 1h1m10 0h1m-11 1h1m2 0h1m7 0h1m2 0h2m-13 1h1m6 0h2m-15 1h1m14 0h1m5 0h1m-20 1h2m1 0h1m1 0h1m2 0h1"/>
<path stroke-opacity="1" d="M0 0m387 292h4m3 0h1m1 0h2m1 0h2m2 0h5m2 0h3m1 0h1m6 0h1m-22 1h1m5 0h2m2 0h1m5 0h1m-17 1h1m3 0h1m4 0h1m2 0h1m4 0h1m-14 1h1m5 0h2m6 0h1m3 0h1m-25 1h1m3 0h1m1 0h3m3 0h1m3 0h1m4 0h1m-16 1h3m1 0h1m7 0h1m-15 1h1m4 0h1m1 0h1m6 0h3m-22 1h1m1 0h1m8 0h4m1 0h3m-12 1h1m3 0h1m7 0h1m-21 1h1m2 0h2m4 0h3m2 0h1m3 0h1m1 0h1m1 0h1m4 0h1m1 0h1m-38 1h1m4 0h1m1 0h1m4 0h1m1 0h1m2 0h3m2 0h2m10 0h2m1 0h1m-37 1h1m3 0h5m4 0h2m3 0h1m1 0h3m4 0h1m3 0h2m-20 1h2m3 0h3m1 0h3m2 0h1m-26 1h2m3 0h1m5 0h1m1 0h2m1 0h1m1 0h5m2 0h1m2 0h1m1 0h1m1 0h2m-44 1h1m9 0h2m1 0h5m2 0h5m3 0h5m2 0h1m1 0h1m4 0h1m5 0h1m-42 1h1m2 0h2m2 0h2m1 0h2m1 0h4m2 0h4m1 0h1m1 0h1m1 0h1m12 0h1m-59 1h1m7 0h1m15 0h1m2 0h7m2 0h1m1 0h5m2 0h1m12 0h1m-45 1h1m3 0h2m3 0h1m1 0h3m2 0h5m2 0h6m3 0h8m-41 1h1m4 0h1m1 0h1m4 0h1m1 0h1m1 0h1m1 0h2m5 0h1m2 0h4m1 0h1m4 0h1m-42 1h1m4 0h1m1 0h1m9 0h1m1 0h1m1 0h1m2 0h1m3 0h2m5 0h2m1 0h1m7 0h1m-34 1h1m1 0h2m1 0h5m1 0h4m1 0h3m3 0h5m6 0h1m-53 1h1m15 0h1m8 0h6m1 0h5m1 0h3m1 0h4m6 0h1m-41 1h3m1 0h1m3 0h1m6 0h7m1 0h3m2 0h1m1 0h3m3 0h1m-59 1h1m26 0h1m2 0h2m2 0h1m3 0h4m1 0h5m1 0h4m1 0h1m-41 1h2m9 0h1m7 0h3m2 0h3m2 0h2m2 0h7m4 0h2m-34 1h1m3 0h2m1 0h6m1 0h5m1 0h2m1 0h1m5 0h1m-26 1h1m1 0h1m1 0h3m1 0h4m1 0h5m1 0h1m6 0h1m-49 1h1m7 0h1m10 0h1m6 0h1m2 0h5m2 0h3m2 0h1m-36 1h1m15 0h1m1 0h1m1 0h1m3 0h7m1 0h2m2 0h1m1 0h2m1 0h1m-42 1h1m10 0h1m1 0h2m3 0h1m1 0h2m1 0h2m2 0h7m4 0h2m5 0h1m4 0h1m-52 1h1m7 0h1m2 0h1m6 0h1m1 0h2m2 0h2m3 0h1m1 0h3m6 0h1m-55 1h1m26 0h1m6 0h1m3 0h2m1 0h1m2 0h5m1 0h5m2 0h1m1 0h1m-43 1h1m1 0h1m8 0h4m7 0h4m3 0h3m2 0h2m1 0h1m2 0h1m2 0h1m-40 1h2m2 0h1m1 0h1m3 0h1m4 0h2m3 0h2m2 0h1m2 0h3m17 0h1m-73 1h1m29 0h3m1 0h1m3 0h3m2 0h1m2 0h5m2 0h3m2 0h3m-42 1h1m10 0h1m1 0h2m5 0h2m2 0h1m3 0h2m1 0h1m1 0h2m2 0h5m-62 1h1m4 0h1m12 0h1m4 0h1m10 0h1m4 0h1m4 0h3m4 0h1m1 0h1m4 0h3m3 0h1m1 0h1m-64 1h1m2 0h1m4 0h1m12 0h1m6 0h1m1 0h3m4 0h1m1 0h6m6 0h1m1 0h1m1 0h1m3 0h1m-53 1h1m13 0h1m6 0h1m9 0h1m1 0h1m1 0h3m3 0h2m1 0h1m2 0h1m4 0h1m-52 1h1m22 0h1m4 0h3m1 0h2m1 0h3m1 0h3m3 0h1m2 0h2m-61 1h1m17 0h1m15 0h4m1 0h2m2 0h1m2 0h3m2 0h1m6 0h2m-60 1h1m1 0h3m9 0h1m2 0h1m17 0h2m2 0h2m4 0h2m3 0h1m-51 1h1m3 0h1m8 0h1m7 0h1m10 0h1m10 0h1m10 0h1m1 0h1m-43 1h1m17 0h1m7 0h1m1 0h2m4 0h1m2 0h1m4 0h3m5 0h1m-64 1h1m11 0h1m3 0h1m19 0h2m8 0h1m2 0h1m1 0h1m-37 1h1m14 0h1m1 0h1m10 0h1m1 0h1m1 0h1m1 0h1m1 1h1m1 0h1m1 0h1m-38 1h1m12 0h1m18 0h3m-31 1h1m8 0h1m13 0h1m2 0h1m2 0h2m6 0h2m-62 1h1m11 0h1m2 0h2m2 0h2m26 0h1m2 0h1m1 0h1m2 0h2m3 0h1m3 0h1m-58 1h1m3 0h1m11 0h1m24 0h1m2 0h1m5 0h1m-39 1h1m3 0h1m14 0h1m8 0h1m2 0h1m1 0h1m1 0h1m-31 1h2m2 0h1m17 0h2m3 0h3m1 0h1m-53 1h1m10 0h1m9 0h2m10 0h1m1 0h1m1 0h1m2 0h1m8 0h1m-37 1h1m3 0h1m1 0h1m1 0h1m11 0h1m6 0h2m1 0h1m-34 1h2m10 0h1m1 0h2m3 0h1m13 0h1m-36 1h3m2 0h2m8 0h1m2 0h1m11 0h1m5 0h2m-16 1h1m1 0h1m8 0h1m-32 1h1m2 0h2m2 0h1m29 0h1m6 0h1m-47 1h1m1 0h4m3 0h2m1 0h1m3 0h3m3 0h1m21 0h1m2 0h1m-45 1h1m2 0h3m3 0h1m8 0h1m6 0h1m6 0h1m8 0h1m2 0h1m-49 1h1m1 0h1m26 0h2m1 0h1m2 0h1m9 0h1m1 0h1m6 0h1m-56 1h1m2 0h2m3 0h1m1 0h2m3 0h1m29 0h1m7 0h1m5 0h1m-60 1h1m9 0h1m1 0h2m3 0h2m1 0h1m20 0h1m1 0h1m-36 1h1m-4 1h3m1 0h1m7 0h2m24 0h1m15 0h1m-56 1h2m1 0h1m2 0h1m5 0h1m15 0h2m1 0h1m2 0h1m2 0h3m3 0h1m-45 1h2m2 0h1m3 0h1m11 0h1m8 0h1m2 0h1m2 0h1m6 0h1m4 0h2m-53 1h1m2 0h2m3 0h1m3 0h2m2 0h1m3 0h1m14 0h1m3 0h1m1 0h1m2 0h2m6 0h1m-61 1h1m2 0h1m6 0h2m1 0h3m2 0h1m1 0h1m14 0h1m8 0h2m5 0h2m25 0h1m-77 1h2m3 0h2m1 0h2m3 0h1m1 0h2m4 0h1m1 0h2m10 0h1m6 0h3m13 0h1m-56 1h1m7 0h1m4 0h1m2 0h3m8 0h1m7 0h1m6 0h1m5 0h1m10 0h1m-62 1h1m2 0h1m1 0h2m6 0h2m4 0h1m2 0h2m1 0h1m4 0h1m3 0h2m11 0h1m6 0h1m-51 1h2m8 0h1m2 0h1m3 0h1m1 0h1m12 0h1m9 0h1m5 0h1m-53 1h1m13 0h1m7 0h1m16 0h1m9 0h1m1 0h1m8 0h1m-52 1h3m2 0h1m3 0h3m22 0h1m1 0h1m-48 1h1m3 0h2m1 0h1m3 0h5m6 0h2m16 0h1m2 0h1m3 0h1m4 0h1m1 0h1m8 0h1m-59 1h3m6 0h2m6 0h1m23 0h1m-43 1h1m21 0h1m9 0h1m1 0h1m13 0h1m5 0h1m2 0h1m1 0h1m-70 1h1m3 0h1m3 0h2m5 0h1m2 0h1m5 0h2m32 0h1m-56 1h1m4 0h2m2 0h3m42 0h1m5 0h1m-52 1h1m2 0h1m2 0h1m-4 1h1m3 0h1m1 0h1m31 0h1m-44 1h4m1 0h1m1 0h1m7 0h1m25 0h1m-51 1h1m7 0h4m51 0h1m-62 1h1m1 0h1m2 0h1m1 0h2m8 0h1m34 0h1m-52 1h1m3 0h3m9 0h1m39 0h1m-50 1h1m1 0h2m-9 1h3m2 0h1m1 0h1m43 0h1m-52 1h3m53 0h1m-62 1h1m7 0h4m3 0h1m-17 1h1m1 0h1m-1 1h2m13 0h1m-15 1h1m5 0h1m-4 1h1m3 0h2m51 0h1m-70 1h1m2 0h2m14 0h1m-17 1h2m3 0h1m5 0h1m58 0h1m-65 1h1m-9 1h1m-5 1h2m7 0h1m-10 1h1m10 0h2m1 0h3m-17 1h1m9 0h1m3 0h2m-16 1h1m16 0h1m-16 1h1m7 0h1m3 0h1m-15 1h1m-1 2h7m1 0h2m5 0h1m-16 1h1"/>
</g>
<rect x="344.5" y="291.9" width="123.6" height="107.6" fill="none" stroke="#000" stroke-width="1.2"/>
<path d="M384.4 291.9V399.5M344.5 343.9H468.1" fill="none" stroke="#000" stroke-width="1.05"/>
<path d="M344.5 399.5v3.3M344.5 399.5h-3.3M353.8 399.5v2.6M344.5 391.4h-2.6M359.24 399.5v2.6M344.5 386.67h-2.6M363.1 399.5v2.6M344.5 383.3h-2.6M366.1 399.5v2.6M344.5 380.7h-2.6M368.54 399.5v2.6M344.5 378.57h-2.6M370.61 399.5v2.6M344.5 376.77h-2.6M372.41 399.5v2.6M344.5 375.21h-2.6M373.99 399.5v2.6M344.5 373.83h-2.6M375.4 399.5v3.3M344.5 372.6h-3.3M384.7 399.5v2.6M344.5 364.5h-2.6M390.14 399.5v2.6M344.5 359.77h-2.6M394 399.5v2.6M344.5 356.4h-2.6M397 399.5v2.6M344.5 353.8h-2.6M399.44 399.5v2.6M344.5 351.67h-2.6M401.51 399.5v2.6M344.5 349.87h-2.6M403.31 399.5v2.6M344.5 348.31h-2.6M404.89 399.5v2.6M344.5 346.93h-2.6M406.3 399.5v3.3M344.5 345.7h-3.3M415.6 399.5v2.6M344.5 337.6h-2.6M421.04 399.5v2.6M344.5 332.87h-2.6M424.9 399.5v2.6M344.5 329.5h-2.6M427.9 399.5v2.6M344.5 326.9h-2.6M430.34 399.5v2.6M344.5 324.77h-2.6M432.41 399.5v2.6M344.5 322.97h-2.6M434.21 399.5v2.6M344.5 321.41h-2.6M435.79 399.5v2.6M344.5 320.03h-2.6M437.2 399.5v3.3M344.5 318.8h-3.3M446.5 399.5v2.6M344.5 310.7h-2.6M451.94 399.5v2.6M344.5 305.97h-2.6M455.8 399.5v2.6M344.5 302.6h-2.6M458.8 399.5v2.6M344.5 300h-2.6M461.24 399.5v2.6M344.5 297.87h-2.6M463.31 399.5v2.6M344.5 296.07h-2.6M465.11 399.5v2.6M344.5 294.51h-2.6M466.69 399.5v2.6M344.5 293.13h-2.6M468.1 399.5v2.6M344.5 291.9h-2.6" fill="none" stroke="#000" stroke-width="1.3"/>
<text transform="translate(339.2 410) scale(.8 1)" class="tx">10<tspan class="ex" dx=".6" dy="-3.8">0</tspan></text>
<text transform="translate(339.3 405.1) rotate(-90) scale(.85 1)" class="ty">10<tspan class="ey" dy="-3.3">0</tspan></text>
<text transform="translate(370.1 410) scale(.8 1)" class="tx">10<tspan class="ex" dx=".6" dy="-3.8">1</tspan></text>
<text transform="translate(339.3 378.2) rotate(-90) scale(.85 1)" class="ty">10<tspan class="ey" dy="-3.3">1</tspan></text>
<text transform="translate(401 410) scale(.8 1)" class="tx">10<tspan class="ex" dx=".6" dy="-3.8">2</tspan></text>
<text transform="translate(339.3 351.3) rotate(-90) scale(.85 1)" class="ty">10<tspan class="ey" dy="-3.3">2</tspan></text>
<text transform="translate(431.9 410) scale(.8 1)" class="tx">10<tspan class="ex" dx=".6" dy="-3.8">3</tspan></text>
<text transform="translate(339.3 324.4) rotate(-90) scale(.85 1)" class="ty">10<tspan class="ey" dy="-3.3">3</tspan></text>
<text transform="translate(462.8 410) scale(.8 1)" class="tx">10<tspan class="ex" dx=".6" dy="-3.8">4</tspan></text>
<text transform="translate(339.3 297.5) rotate(-90) scale(.85 1)" class="ty">10<tspan class="ey" dy="-3.3">4</tspan></text>
</g>
</svg>
</body></html>
